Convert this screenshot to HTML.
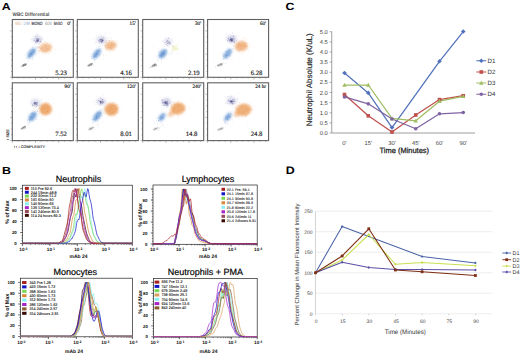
<!DOCTYPE html>
<html><head><meta charset="utf-8"><style>
html,body{margin:0;padding:0;background:#fff;width:520px;height:356px;overflow:hidden}
svg{display:block;font-family:"Liberation Sans",sans-serif;text-rendering:geometricPrecision}
</style></head><body>
<svg width="520" height="356" viewBox="0 0 520 356">
<defs>
<filter id="b1" x="-50%" y="-50%" width="200%" height="200%"><feGaussianBlur stdDeviation="1.2"/></filter>
<filter id="b03" x="-10%" y="-10%" width="120%" height="120%"><feGaussianBlur stdDeviation="0.3"/></filter>
<filter id="b05" x="-50%" y="-50%" width="200%" height="200%"><feGaussianBlur stdDeviation="0.5"/></filter>
</defs>
<rect width="520" height="356" fill="#fff"/>
<text x="1.8" y="9.7" font-size="10.2" fill="#000" font-weight="bold" textLength="8.9" lengthAdjust="spacingAndGlyphs">A</text>
<text x="1.9" y="173.6" font-size="10.2" fill="#000" font-weight="bold" textLength="9" lengthAdjust="spacingAndGlyphs">B</text>
<text x="285.5" y="9.6" font-size="10.4" fill="#000" font-weight="bold" textLength="8.9" lengthAdjust="spacingAndGlyphs">C</text>
<text x="285.7" y="173.8" font-size="10.8" fill="#000" font-weight="bold" textLength="9" lengthAdjust="spacingAndGlyphs">D</text>
<text x="12.6" y="16.2" font-size="5" fill="#505050" font-weight="bold" textLength="36.7" lengthAdjust="spacingAndGlyphs">WBC Differential</text>
<rect x="12.3" y="19.5" width="61" height="57.8" fill="#fff" stroke="#606060" stroke-width="1.1"/>
<line x1="10.1" y1="77.3" x2="12.3" y2="77.3" stroke="#777" stroke-width="0.5"/>
<line x1="11" y1="71.5" x2="12.3" y2="71.5" stroke="#777" stroke-width="0.5"/>
<line x1="11" y1="65.7" x2="12.3" y2="65.7" stroke="#777" stroke-width="0.5"/>
<line x1="11" y1="59.9" x2="12.3" y2="59.9" stroke="#777" stroke-width="0.5"/>
<line x1="10.1" y1="54.1" x2="12.3" y2="54.1" stroke="#777" stroke-width="0.5"/>
<line x1="11" y1="48.3" x2="12.3" y2="48.3" stroke="#777" stroke-width="0.5"/>
<line x1="11" y1="42.5" x2="12.3" y2="42.5" stroke="#777" stroke-width="0.5"/>
<line x1="11" y1="36.7" x2="12.3" y2="36.7" stroke="#777" stroke-width="0.5"/>
<line x1="10.1" y1="30.9" x2="12.3" y2="30.9" stroke="#777" stroke-width="0.5"/>
<line x1="11" y1="25.1" x2="12.3" y2="25.1" stroke="#777" stroke-width="0.5"/>
<line x1="12.3" y1="77.3" x2="12.3" y2="79.5" stroke="#777" stroke-width="0.5"/>
<line x1="18.1" y1="77.3" x2="18.1" y2="78.6" stroke="#777" stroke-width="0.5"/>
<line x1="23.9" y1="77.3" x2="23.9" y2="78.6" stroke="#777" stroke-width="0.5"/>
<line x1="29.7" y1="77.3" x2="29.7" y2="78.6" stroke="#777" stroke-width="0.5"/>
<line x1="35.5" y1="77.3" x2="35.5" y2="79.5" stroke="#777" stroke-width="0.5"/>
<line x1="41.3" y1="77.3" x2="41.3" y2="78.6" stroke="#777" stroke-width="0.5"/>
<line x1="47.1" y1="77.3" x2="47.1" y2="78.6" stroke="#777" stroke-width="0.5"/>
<line x1="52.9" y1="77.3" x2="52.9" y2="78.6" stroke="#777" stroke-width="0.5"/>
<line x1="58.7" y1="77.3" x2="58.7" y2="79.5" stroke="#777" stroke-width="0.5"/>
<line x1="64.5" y1="77.3" x2="64.5" y2="78.6" stroke="#777" stroke-width="0.5"/>
<line x1="70.3" y1="77.3" x2="70.3" y2="78.6" stroke="#777" stroke-width="0.5"/>
<g filter="url(#b03)">
<circle cx="33.82" cy="34.26" r="0.3" fill="#b8b8c8" fill-opacity="0.45"/>
<circle cx="50.5" cy="30.75" r="0.3" fill="#b8b8c8" fill-opacity="0.45"/>
<circle cx="44.63" cy="43.88" r="0.3" fill="#b8b8c8" fill-opacity="0.45"/>
<circle cx="20.26" cy="50.23" r="0.3" fill="#b8b8c8" fill-opacity="0.45"/>
<circle cx="19.21" cy="46.93" r="0.3" fill="#b8b8c8" fill-opacity="0.45"/>
<circle cx="20.86" cy="31.56" r="0.3" fill="#b8b8c8" fill-opacity="0.45"/>
<circle cx="38.95" cy="64.54" r="0.3" fill="#b8b8c8" fill-opacity="0.45"/>
<circle cx="23.61" cy="37.5" r="0.3" fill="#b8b8c8" fill-opacity="0.45"/>
<circle cx="49.3" cy="69.96" r="0.3" fill="#b8b8c8" fill-opacity="0.45"/>
<circle cx="46.73" cy="45.27" r="0.3" fill="#b8b8c8" fill-opacity="0.45"/>
<circle cx="67.09" cy="29.59" r="0.3" fill="#b8b8c8" fill-opacity="0.45"/>
<circle cx="61.08" cy="40.47" r="0.3" fill="#b8b8c8" fill-opacity="0.45"/>
<circle cx="24.66" cy="32.78" r="0.3" fill="#b8b8c8" fill-opacity="0.45"/>
<circle cx="33.03" cy="64.06" r="0.3" fill="#b8b8c8" fill-opacity="0.45"/>
<ellipse cx="24.3" cy="65" rx="3" ry="1" transform="rotate(-25 24.3 65)" fill="#505050" fill-opacity="0.6" filter="url(#b05)"/>
<circle cx="25.51" cy="65.23" r="0.35" fill="#333" fill-opacity="0.6"/>
<circle cx="23.1" cy="65.07" r="0.35" fill="#333" fill-opacity="0.6"/>
<circle cx="23.71" cy="65.2" r="0.35" fill="#333" fill-opacity="0.6"/>
<circle cx="25.39" cy="64.65" r="0.35" fill="#333" fill-opacity="0.6"/>
<circle cx="23.33" cy="64.82" r="0.35" fill="#333" fill-opacity="0.6"/>
<circle cx="23.76" cy="66.06" r="0.35" fill="#333" fill-opacity="0.6"/>
<circle cx="23.04" cy="65.75" r="0.35" fill="#333" fill-opacity="0.6"/>
<circle cx="24.62" cy="63.87" r="0.35" fill="#333" fill-opacity="0.6"/>
<circle cx="24.71" cy="65.67" r="0.35" fill="#333" fill-opacity="0.6"/>
<circle cx="20.93" cy="66.36" r="0.35" fill="#333" fill-opacity="0.6"/>
<circle cx="23.92" cy="64.64" r="0.35" fill="#333" fill-opacity="0.6"/>
<circle cx="25.1" cy="64.59" r="0.35" fill="#333" fill-opacity="0.6"/>
<circle cx="22.12" cy="66.56" r="0.35" fill="#333" fill-opacity="0.6"/>
<circle cx="25.63" cy="65.01" r="0.35" fill="#333" fill-opacity="0.6"/>
<circle cx="32.33" cy="58.9" r="0.3" fill="#999" fill-opacity="0.5"/>
<circle cx="26.94" cy="60.05" r="0.3" fill="#999" fill-opacity="0.5"/>
<circle cx="29.04" cy="59.7" r="0.3" fill="#999" fill-opacity="0.5"/>
<circle cx="25.57" cy="61.51" r="0.3" fill="#999" fill-opacity="0.5"/>
<circle cx="25.23" cy="63.72" r="0.3" fill="#999" fill-opacity="0.5"/>
<circle cx="28.9" cy="56.22" r="0.3" fill="#999" fill-opacity="0.5"/>
<circle cx="25" cy="65.91" r="0.3" fill="#999" fill-opacity="0.5"/>
<circle cx="32.61" cy="59.16" r="0.3" fill="#999" fill-opacity="0.5"/>
<circle cx="20.39" cy="63.5" r="0.3" fill="#999" fill-opacity="0.5"/>
<circle cx="28.25" cy="60.18" r="0.3" fill="#999" fill-opacity="0.5"/>
<ellipse cx="31.5" cy="53.1" rx="5.8" ry="3" transform="rotate(-52 31.5 53.1)" fill="#5c90d0" fill-opacity="0.72" filter="url(#b1)"/>
<circle cx="29.6" cy="57.1" r="0.38" fill="#4a80c8" fill-opacity="0.5"/>
<circle cx="33.41" cy="51.02" r="0.38" fill="#4a80c8" fill-opacity="0.5"/>
<circle cx="31.9" cy="53.33" r="0.38" fill="#4a80c8" fill-opacity="0.5"/>
<circle cx="34.85" cy="50.17" r="0.38" fill="#4a80c8" fill-opacity="0.5"/>
<circle cx="32.57" cy="52.75" r="0.38" fill="#4a80c8" fill-opacity="0.5"/>
<circle cx="28.95" cy="58.43" r="0.38" fill="#4a80c8" fill-opacity="0.5"/>
<circle cx="33.45" cy="51.67" r="0.38" fill="#4a80c8" fill-opacity="0.5"/>
<circle cx="26.36" cy="57.95" r="0.38" fill="#4a80c8" fill-opacity="0.5"/>
<circle cx="31.07" cy="50.14" r="0.38" fill="#4a80c8" fill-opacity="0.5"/>
<circle cx="31.56" cy="54.84" r="0.38" fill="#4a80c8" fill-opacity="0.5"/>
<circle cx="29.78" cy="58.06" r="0.38" fill="#4a80c8" fill-opacity="0.5"/>
<circle cx="32" cy="52.13" r="0.38" fill="#4a80c8" fill-opacity="0.5"/>
<circle cx="32.27" cy="53.3" r="0.38" fill="#4a80c8" fill-opacity="0.5"/>
<circle cx="32.3" cy="54.19" r="0.38" fill="#4a80c8" fill-opacity="0.5"/>
<circle cx="29.26" cy="54.9" r="0.38" fill="#4a80c8" fill-opacity="0.5"/>
<circle cx="33.17" cy="51.07" r="0.38" fill="#4a80c8" fill-opacity="0.5"/>
<circle cx="30.06" cy="56.49" r="0.38" fill="#4a80c8" fill-opacity="0.5"/>
<circle cx="33.61" cy="49.66" r="0.38" fill="#4a80c8" fill-opacity="0.5"/>
<circle cx="28.04" cy="56.88" r="0.38" fill="#4a80c8" fill-opacity="0.5"/>
<circle cx="30.42" cy="53.74" r="0.38" fill="#4a80c8" fill-opacity="0.5"/>
<circle cx="32.95" cy="49.36" r="0.38" fill="#4a80c8" fill-opacity="0.5"/>
<circle cx="32.43" cy="49.53" r="0.38" fill="#4a80c8" fill-opacity="0.5"/>
<circle cx="29.96" cy="56.02" r="0.38" fill="#4a80c8" fill-opacity="0.5"/>
<circle cx="34.11" cy="51.5" r="0.38" fill="#4a80c8" fill-opacity="0.5"/>
<circle cx="31.84" cy="52.86" r="0.38" fill="#4a80c8" fill-opacity="0.5"/>
<circle cx="31.84" cy="53.67" r="0.38" fill="#4a80c8" fill-opacity="0.5"/>
<circle cx="30.89" cy="54.25" r="0.38" fill="#4a80c8" fill-opacity="0.5"/>
<circle cx="32.18" cy="52.2" r="0.38" fill="#4a80c8" fill-opacity="0.5"/>
<circle cx="33.09" cy="52.16" r="0.38" fill="#4a80c8" fill-opacity="0.5"/>
<circle cx="35.43" cy="48.92" r="0.38" fill="#4a80c8" fill-opacity="0.5"/>
<circle cx="29.78" cy="54.36" r="0.38" fill="#4a80c8" fill-opacity="0.5"/>
<circle cx="31.82" cy="54.34" r="0.38" fill="#4a80c8" fill-opacity="0.5"/>
<circle cx="30.66" cy="54.72" r="0.38" fill="#4a80c8" fill-opacity="0.5"/>
<circle cx="32.42" cy="47.12" r="0.38" fill="#4a80c8" fill-opacity="0.5"/>
<circle cx="28.91" cy="56.54" r="0.38" fill="#4a80c8" fill-opacity="0.5"/>
<circle cx="32.04" cy="52.81" r="0.38" fill="#4a80c8" fill-opacity="0.5"/>
<circle cx="30.72" cy="55.16" r="0.38" fill="#4a80c8" fill-opacity="0.5"/>
<circle cx="31.1" cy="52.51" r="0.38" fill="#4a80c8" fill-opacity="0.5"/>
<circle cx="36.32" cy="47.92" r="0.38" fill="#4a80c8" fill-opacity="0.5"/>
<circle cx="29.77" cy="54.88" r="0.38" fill="#4a80c8" fill-opacity="0.5"/>
<circle cx="32.08" cy="52.45" r="0.35" fill="#a8c8ec" fill-opacity="0.55"/>
<circle cx="22.39" cy="62.28" r="0.35" fill="#a8c8ec" fill-opacity="0.55"/>
<circle cx="34.24" cy="45.4" r="0.35" fill="#a8c8ec" fill-opacity="0.55"/>
<circle cx="34.66" cy="53.47" r="0.35" fill="#a8c8ec" fill-opacity="0.55"/>
<circle cx="39" cy="50.48" r="0.35" fill="#a8c8ec" fill-opacity="0.55"/>
<circle cx="26.28" cy="58.18" r="0.35" fill="#a8c8ec" fill-opacity="0.55"/>
<circle cx="33.04" cy="54.08" r="0.35" fill="#a8c8ec" fill-opacity="0.55"/>
<circle cx="31.52" cy="42.52" r="0.35" fill="#a8c8ec" fill-opacity="0.55"/>
<circle cx="33.97" cy="44.59" r="0.35" fill="#a8c8ec" fill-opacity="0.55"/>
<circle cx="32.44" cy="46.23" r="0.35" fill="#a8c8ec" fill-opacity="0.55"/>
<circle cx="36" cy="52.86" r="0.35" fill="#a8c8ec" fill-opacity="0.55"/>
<circle cx="32.85" cy="52.55" r="0.35" fill="#a8c8ec" fill-opacity="0.55"/>
<circle cx="36.1" cy="48.48" r="0.35" fill="#a8c8ec" fill-opacity="0.55"/>
<circle cx="35.74" cy="54.54" r="0.35" fill="#a8c8ec" fill-opacity="0.55"/>
<circle cx="36.12" cy="46.69" r="0.35" fill="#a8c8ec" fill-opacity="0.55"/>
<circle cx="40.42" cy="38.12" r="0.35" fill="#a8c8ec" fill-opacity="0.55"/>
<circle cx="35.7" cy="47.3" r="0.35" fill="#a8c8ec" fill-opacity="0.55"/>
<circle cx="34.87" cy="52.22" r="0.35" fill="#a8c8ec" fill-opacity="0.55"/>
<circle cx="35.06" cy="51.73" r="0.35" fill="#a8c8ec" fill-opacity="0.55"/>
<circle cx="24.59" cy="55.51" r="0.35" fill="#a8c8ec" fill-opacity="0.55"/>
<circle cx="33.26" cy="47.4" r="0.35" fill="#a8c8ec" fill-opacity="0.55"/>
<circle cx="26.44" cy="53.47" r="0.35" fill="#a8c8ec" fill-opacity="0.55"/>
<circle cx="38.96" cy="47.51" r="0.35" fill="#a8c8ec" fill-opacity="0.55"/>
<circle cx="36.34" cy="43.83" r="0.35" fill="#a8c8ec" fill-opacity="0.55"/>
<circle cx="30.73" cy="49.69" r="0.35" fill="#a8c8ec" fill-opacity="0.55"/>
<circle cx="38.87" cy="51.03" r="0.35" fill="#a8c8ec" fill-opacity="0.55"/>
<circle cx="32.96" cy="57.96" r="0.35" fill="#a8c8ec" fill-opacity="0.55"/>
<circle cx="36.14" cy="47.14" r="0.35" fill="#a8c8ec" fill-opacity="0.55"/>
<circle cx="28.83" cy="62.26" r="0.35" fill="#a8c8ec" fill-opacity="0.55"/>
<circle cx="31.46" cy="51" r="0.35" fill="#a8c8ec" fill-opacity="0.55"/>
<ellipse cx="45.6" cy="48" rx="6.38" ry="4.73" transform="rotate(-10 45.6 48)" fill="#ec9c58" fill-opacity="0.592" filter="url(#b1)"/>
<circle cx="47.15" cy="48.8" r="0.38" fill="#e48a40" fill-opacity="0.4"/>
<circle cx="50.28" cy="44.5" r="0.38" fill="#e48a40" fill-opacity="0.4"/>
<circle cx="50.16" cy="51.09" r="0.38" fill="#e48a40" fill-opacity="0.4"/>
<circle cx="50.5" cy="46.66" r="0.38" fill="#e48a40" fill-opacity="0.4"/>
<circle cx="43.51" cy="51.04" r="0.38" fill="#e48a40" fill-opacity="0.4"/>
<circle cx="46.05" cy="48.25" r="0.38" fill="#e48a40" fill-opacity="0.4"/>
<circle cx="50.36" cy="46.47" r="0.38" fill="#e48a40" fill-opacity="0.4"/>
<circle cx="37.56" cy="48.4" r="0.38" fill="#e48a40" fill-opacity="0.4"/>
<circle cx="39.61" cy="51.2" r="0.38" fill="#e48a40" fill-opacity="0.4"/>
<circle cx="46.41" cy="46.26" r="0.38" fill="#e48a40" fill-opacity="0.4"/>
<circle cx="45.94" cy="50.12" r="0.38" fill="#e48a40" fill-opacity="0.4"/>
<circle cx="46.46" cy="51.32" r="0.38" fill="#e48a40" fill-opacity="0.4"/>
<circle cx="45.86" cy="50.68" r="0.38" fill="#e48a40" fill-opacity="0.4"/>
<circle cx="51.43" cy="51.19" r="0.38" fill="#e48a40" fill-opacity="0.4"/>
<circle cx="43.69" cy="50.64" r="0.38" fill="#e48a40" fill-opacity="0.4"/>
<circle cx="38.69" cy="46.38" r="0.38" fill="#e48a40" fill-opacity="0.4"/>
<circle cx="39.35" cy="51.9" r="0.38" fill="#e48a40" fill-opacity="0.4"/>
<circle cx="41.37" cy="48.71" r="0.38" fill="#e48a40" fill-opacity="0.4"/>
<circle cx="44.93" cy="48.04" r="0.38" fill="#e48a40" fill-opacity="0.4"/>
<circle cx="43.68" cy="48.95" r="0.38" fill="#e48a40" fill-opacity="0.4"/>
<circle cx="51.76" cy="47.03" r="0.38" fill="#e48a40" fill-opacity="0.4"/>
<circle cx="47.87" cy="50.22" r="0.38" fill="#e48a40" fill-opacity="0.4"/>
<circle cx="44.36" cy="44.92" r="0.38" fill="#e48a40" fill-opacity="0.4"/>
<circle cx="44.18" cy="51.06" r="0.38" fill="#e48a40" fill-opacity="0.4"/>
<circle cx="39.69" cy="47.48" r="0.38" fill="#e48a40" fill-opacity="0.4"/>
<circle cx="49.41" cy="49.41" r="0.38" fill="#e48a40" fill-opacity="0.4"/>
<circle cx="45.99" cy="50.04" r="0.38" fill="#e48a40" fill-opacity="0.4"/>
<circle cx="45.64" cy="44.9" r="0.38" fill="#e48a40" fill-opacity="0.4"/>
<circle cx="39.95" cy="47.32" r="0.38" fill="#e48a40" fill-opacity="0.4"/>
<circle cx="48.51" cy="46.01" r="0.38" fill="#e48a40" fill-opacity="0.4"/>
<circle cx="42.16" cy="46.59" r="0.38" fill="#e48a40" fill-opacity="0.4"/>
<circle cx="40.3" cy="48.63" r="0.38" fill="#e48a40" fill-opacity="0.4"/>
<circle cx="41.72" cy="49.64" r="0.38" fill="#e48a40" fill-opacity="0.4"/>
<circle cx="37.66" cy="50.26" r="0.38" fill="#e48a40" fill-opacity="0.4"/>
<circle cx="42.53" cy="43.45" r="0.38" fill="#e48a40" fill-opacity="0.4"/>
<circle cx="47.96" cy="46.86" r="0.38" fill="#e48a40" fill-opacity="0.4"/>
<circle cx="37.57" cy="47.12" r="0.38" fill="#e48a40" fill-opacity="0.4"/>
<circle cx="46.39" cy="46.66" r="0.38" fill="#e48a40" fill-opacity="0.4"/>
<circle cx="48.61" cy="49.43" r="0.38" fill="#e48a40" fill-opacity="0.4"/>
<circle cx="48.03" cy="48.43" r="0.38" fill="#e48a40" fill-opacity="0.4"/>
<circle cx="50.47" cy="48.87" r="0.38" fill="#e48a40" fill-opacity="0.4"/>
<circle cx="46.21" cy="42.43" r="0.38" fill="#e48a40" fill-opacity="0.4"/>
<circle cx="49.26" cy="50.79" r="0.38" fill="#e48a40" fill-opacity="0.4"/>
<circle cx="44.37" cy="46.99" r="0.38" fill="#e48a40" fill-opacity="0.4"/>
<circle cx="51.46" cy="42.36" r="0.38" fill="#e48a40" fill-opacity="0.4"/>
<circle cx="48.29" cy="53.87" r="0.38" fill="#e48a40" fill-opacity="0.4"/>
<circle cx="42.73" cy="50.31" r="0.38" fill="#e48a40" fill-opacity="0.4"/>
<circle cx="52.01" cy="46.55" r="0.38" fill="#e48a40" fill-opacity="0.4"/>
<circle cx="47.93" cy="49.95" r="0.38" fill="#e48a40" fill-opacity="0.4"/>
<circle cx="42.46" cy="48.32" r="0.38" fill="#e48a40" fill-opacity="0.4"/>
<circle cx="46.97" cy="49.92" r="0.38" fill="#e48a40" fill-opacity="0.4"/>
<circle cx="45.39" cy="47.52" r="0.38" fill="#e48a40" fill-opacity="0.4"/>
<circle cx="40.14" cy="47.55" r="0.35" fill="#f4c090" fill-opacity="0.55"/>
<circle cx="50.25" cy="47.58" r="0.35" fill="#f4c090" fill-opacity="0.55"/>
<circle cx="40.65" cy="45.57" r="0.35" fill="#f4c090" fill-opacity="0.55"/>
<circle cx="60.07" cy="49.93" r="0.35" fill="#f4c090" fill-opacity="0.55"/>
<circle cx="47.13" cy="37.54" r="0.35" fill="#f4c090" fill-opacity="0.55"/>
<circle cx="49.12" cy="49.27" r="0.35" fill="#f4c090" fill-opacity="0.55"/>
<circle cx="54.54" cy="48.1" r="0.35" fill="#f4c090" fill-opacity="0.55"/>
<circle cx="45.6" cy="50.05" r="0.35" fill="#f4c090" fill-opacity="0.55"/>
<circle cx="36.3" cy="53.7" r="0.35" fill="#f4c090" fill-opacity="0.55"/>
<circle cx="46.8" cy="45.03" r="0.35" fill="#f4c090" fill-opacity="0.55"/>
<circle cx="53.63" cy="53.69" r="0.35" fill="#f4c090" fill-opacity="0.55"/>
<circle cx="37.94" cy="46.73" r="0.35" fill="#f4c090" fill-opacity="0.55"/>
<circle cx="47.22" cy="48.44" r="0.35" fill="#f4c090" fill-opacity="0.55"/>
<circle cx="42.9" cy="44.65" r="0.35" fill="#f4c090" fill-opacity="0.55"/>
<circle cx="57.2" cy="50.03" r="0.35" fill="#f4c090" fill-opacity="0.55"/>
<circle cx="38.56" cy="43.96" r="0.35" fill="#f4c090" fill-opacity="0.55"/>
<circle cx="55.02" cy="50.23" r="0.35" fill="#f4c090" fill-opacity="0.55"/>
<circle cx="55.51" cy="49.44" r="0.35" fill="#f4c090" fill-opacity="0.55"/>
<circle cx="41.29" cy="49.78" r="0.35" fill="#f4c090" fill-opacity="0.55"/>
<circle cx="33.99" cy="47.11" r="0.35" fill="#f4c090" fill-opacity="0.55"/>
<circle cx="45.65" cy="50.05" r="0.35" fill="#f4c090" fill-opacity="0.55"/>
<circle cx="41.78" cy="48.19" r="0.35" fill="#f4c090" fill-opacity="0.55"/>
<circle cx="48.21" cy="49.02" r="0.35" fill="#f4c090" fill-opacity="0.55"/>
<circle cx="49.02" cy="48.22" r="0.35" fill="#f4c090" fill-opacity="0.55"/>
<circle cx="44.47" cy="51.3" r="0.35" fill="#f4c090" fill-opacity="0.55"/>
<ellipse cx="37.5" cy="39.5" rx="5" ry="4" transform="rotate(0 37.5 39.5)" fill="#9898cc" fill-opacity="0.28500000000000003" filter="url(#b1)"/>
<ellipse cx="37.5" cy="40.1" rx="1.8" ry="1.5" transform="rotate(0 37.5 40.1)" fill="#404080" fill-opacity="0.3375" filter="url(#b05)"/>
<circle cx="37.58" cy="39.14" r="0.38" fill="#34346e" fill-opacity="0.65"/>
<circle cx="36.44" cy="40.3" r="0.38" fill="#34346e" fill-opacity="0.65"/>
<circle cx="37.31" cy="40.52" r="0.38" fill="#34346e" fill-opacity="0.65"/>
<circle cx="37.5" cy="40.55" r="0.38" fill="#34346e" fill-opacity="0.65"/>
<circle cx="37.27" cy="38.54" r="0.38" fill="#34346e" fill-opacity="0.65"/>
<circle cx="38.22" cy="41.78" r="0.38" fill="#34346e" fill-opacity="0.65"/>
<circle cx="38.24" cy="40.04" r="0.38" fill="#34346e" fill-opacity="0.65"/>
<circle cx="38.26" cy="38.95" r="0.38" fill="#34346e" fill-opacity="0.65"/>
<circle cx="34.28" cy="40.38" r="0.38" fill="#34346e" fill-opacity="0.65"/>
<circle cx="35.92" cy="41.34" r="0.38" fill="#34346e" fill-opacity="0.65"/>
<circle cx="35.66" cy="36.62" r="0.38" fill="#34346e" fill-opacity="0.65"/>
<circle cx="35.73" cy="42.51" r="0.38" fill="#34346e" fill-opacity="0.65"/>
<circle cx="36.85" cy="38.38" r="0.38" fill="#34346e" fill-opacity="0.65"/>
<circle cx="36.2" cy="41.03" r="0.38" fill="#34346e" fill-opacity="0.65"/>
<circle cx="38.34" cy="40.55" r="0.38" fill="#34346e" fill-opacity="0.65"/>
<circle cx="40.02" cy="41.29" r="0.38" fill="#34346e" fill-opacity="0.65"/>
<circle cx="37.46" cy="41.14" r="0.38" fill="#34346e" fill-opacity="0.65"/>
<circle cx="40.31" cy="41.66" r="0.38" fill="#34346e" fill-opacity="0.65"/>
<circle cx="39.24" cy="38.78" r="0.38" fill="#34346e" fill-opacity="0.65"/>
<circle cx="37.25" cy="41.32" r="0.38" fill="#34346e" fill-opacity="0.65"/>
<circle cx="37" cy="41.8" r="0.38" fill="#34346e" fill-opacity="0.65"/>
<circle cx="38.51" cy="41.57" r="0.38" fill="#34346e" fill-opacity="0.65"/>
<circle cx="37.24" cy="47.13" r="0.35" fill="#8080c0" fill-opacity="0.5"/>
<circle cx="42.46" cy="39.4" r="0.35" fill="#8080c0" fill-opacity="0.5"/>
<circle cx="38.33" cy="47.27" r="0.35" fill="#8080c0" fill-opacity="0.5"/>
<circle cx="36.76" cy="42.45" r="0.35" fill="#8080c0" fill-opacity="0.5"/>
<circle cx="41.53" cy="40.02" r="0.35" fill="#8080c0" fill-opacity="0.5"/>
<circle cx="33.8" cy="40.53" r="0.35" fill="#8080c0" fill-opacity="0.5"/>
<circle cx="39.29" cy="43.16" r="0.35" fill="#8080c0" fill-opacity="0.5"/>
<circle cx="40.82" cy="40.07" r="0.35" fill="#8080c0" fill-opacity="0.5"/>
<circle cx="41.07" cy="41.51" r="0.35" fill="#8080c0" fill-opacity="0.5"/>
<circle cx="38.74" cy="40.15" r="0.35" fill="#8080c0" fill-opacity="0.5"/>
<circle cx="37.12" cy="41.92" r="0.35" fill="#8080c0" fill-opacity="0.5"/>
<circle cx="34.2" cy="38.24" r="0.35" fill="#8080c0" fill-opacity="0.5"/>
<circle cx="38.02" cy="35.9" r="0.35" fill="#8080c0" fill-opacity="0.5"/>
<circle cx="36.43" cy="34.38" r="0.35" fill="#8080c0" fill-opacity="0.5"/>
<circle cx="35.54" cy="41.59" r="0.35" fill="#8080c0" fill-opacity="0.5"/>
<circle cx="40.04" cy="39.85" r="0.35" fill="#8080c0" fill-opacity="0.5"/>
<circle cx="37.16" cy="36.03" r="0.35" fill="#8080c0" fill-opacity="0.5"/>
<circle cx="44.58" cy="41.44" r="0.35" fill="#8080c0" fill-opacity="0.5"/>
<circle cx="41.94" cy="37.53" r="0.35" fill="#8080c0" fill-opacity="0.5"/>
<circle cx="37.33" cy="34.91" r="0.35" fill="#8080c0" fill-opacity="0.5"/>
<circle cx="40.81" cy="42.62" r="0.35" fill="#8080c0" fill-opacity="0.5"/>
<circle cx="31.17" cy="39.85" r="0.35" fill="#8080c0" fill-opacity="0.5"/>
<circle cx="38.94" cy="39.6" r="0.3" fill="#a8a8c0" fill-opacity="0.45"/>
<circle cx="30.99" cy="52.48" r="0.3" fill="#a8a8c0" fill-opacity="0.45"/>
<circle cx="34.87" cy="46.21" r="0.3" fill="#a8a8c0" fill-opacity="0.45"/>
<circle cx="43.52" cy="49.25" r="0.3" fill="#a8a8c0" fill-opacity="0.45"/>
<circle cx="47.67" cy="48.29" r="0.3" fill="#a8a8c0" fill-opacity="0.45"/>
<circle cx="52.99" cy="46.24" r="0.3" fill="#a8a8c0" fill-opacity="0.45"/>
<circle cx="35.15" cy="52.28" r="0.3" fill="#a8a8c0" fill-opacity="0.45"/>
<circle cx="34.2" cy="49.19" r="0.3" fill="#a8a8c0" fill-opacity="0.45"/>
<circle cx="42.17" cy="48.86" r="0.3" fill="#a8a8c0" fill-opacity="0.45"/>
<circle cx="38.97" cy="40.81" r="0.3" fill="#a8a8c0" fill-opacity="0.45"/>
<circle cx="37.17" cy="53.67" r="0.3" fill="#a8a8c0" fill-opacity="0.45"/>
<circle cx="40.55" cy="48.25" r="0.3" fill="#a8a8c0" fill-opacity="0.45"/>
<circle cx="39.55" cy="46.08" r="0.3" fill="#a8a8c0" fill-opacity="0.45"/>
<circle cx="46.73" cy="46.78" r="0.3" fill="#a8a8c0" fill-opacity="0.45"/>
<circle cx="39.75" cy="46.5" r="0.3" fill="#a8a8c0" fill-opacity="0.45"/>
<circle cx="32.14" cy="39.62" r="0.3" fill="#a8a8c0" fill-opacity="0.45"/>
<circle cx="38.47" cy="52.8" r="0.3" fill="#a8a8c0" fill-opacity="0.45"/>
<circle cx="36.82" cy="55.59" r="0.3" fill="#a8a8c0" fill-opacity="0.45"/>
</g>
<text x="70.7" y="24.5" font-size="5.2" fill="#222" text-anchor="end" font-family="Liberation Serif" stroke="#222" stroke-width="0.15">0'</text>
<text x="67" y="74.8" font-size="6.6" fill="#222" text-anchor="end" textLength="11.8" lengthAdjust="spacingAndGlyphs" font-family="Liberation Serif" stroke="#222" stroke-width="0.15">5.23</text>
<rect x="77.3" y="19.5" width="61" height="57.8" fill="#fff" stroke="#606060" stroke-width="1.1"/>
<line x1="75.1" y1="77.3" x2="77.3" y2="77.3" stroke="#777" stroke-width="0.5"/>
<line x1="76" y1="71.5" x2="77.3" y2="71.5" stroke="#777" stroke-width="0.5"/>
<line x1="76" y1="65.7" x2="77.3" y2="65.7" stroke="#777" stroke-width="0.5"/>
<line x1="76" y1="59.9" x2="77.3" y2="59.9" stroke="#777" stroke-width="0.5"/>
<line x1="75.1" y1="54.1" x2="77.3" y2="54.1" stroke="#777" stroke-width="0.5"/>
<line x1="76" y1="48.3" x2="77.3" y2="48.3" stroke="#777" stroke-width="0.5"/>
<line x1="76" y1="42.5" x2="77.3" y2="42.5" stroke="#777" stroke-width="0.5"/>
<line x1="76" y1="36.7" x2="77.3" y2="36.7" stroke="#777" stroke-width="0.5"/>
<line x1="75.1" y1="30.9" x2="77.3" y2="30.9" stroke="#777" stroke-width="0.5"/>
<line x1="76" y1="25.1" x2="77.3" y2="25.1" stroke="#777" stroke-width="0.5"/>
<line x1="77.3" y1="77.3" x2="77.3" y2="79.5" stroke="#777" stroke-width="0.5"/>
<line x1="83.1" y1="77.3" x2="83.1" y2="78.6" stroke="#777" stroke-width="0.5"/>
<line x1="88.9" y1="77.3" x2="88.9" y2="78.6" stroke="#777" stroke-width="0.5"/>
<line x1="94.7" y1="77.3" x2="94.7" y2="78.6" stroke="#777" stroke-width="0.5"/>
<line x1="100.5" y1="77.3" x2="100.5" y2="79.5" stroke="#777" stroke-width="0.5"/>
<line x1="106.3" y1="77.3" x2="106.3" y2="78.6" stroke="#777" stroke-width="0.5"/>
<line x1="112.1" y1="77.3" x2="112.1" y2="78.6" stroke="#777" stroke-width="0.5"/>
<line x1="117.9" y1="77.3" x2="117.9" y2="78.6" stroke="#777" stroke-width="0.5"/>
<line x1="123.7" y1="77.3" x2="123.7" y2="79.5" stroke="#777" stroke-width="0.5"/>
<line x1="129.5" y1="77.3" x2="129.5" y2="78.6" stroke="#777" stroke-width="0.5"/>
<line x1="135.3" y1="77.3" x2="135.3" y2="78.6" stroke="#777" stroke-width="0.5"/>
<g filter="url(#b03)">
<circle cx="121.42" cy="55.14" r="0.3" fill="#b8b8c8" fill-opacity="0.45"/>
<circle cx="115.08" cy="30.97" r="0.3" fill="#b8b8c8" fill-opacity="0.45"/>
<circle cx="89.82" cy="38.88" r="0.3" fill="#b8b8c8" fill-opacity="0.45"/>
<circle cx="120.2" cy="41.14" r="0.3" fill="#b8b8c8" fill-opacity="0.45"/>
<circle cx="111.26" cy="28.06" r="0.3" fill="#b8b8c8" fill-opacity="0.45"/>
<circle cx="85.39" cy="39.54" r="0.3" fill="#b8b8c8" fill-opacity="0.45"/>
<circle cx="116.57" cy="58.51" r="0.3" fill="#b8b8c8" fill-opacity="0.45"/>
<circle cx="116.76" cy="40.53" r="0.3" fill="#b8b8c8" fill-opacity="0.45"/>
<circle cx="108.64" cy="48.32" r="0.3" fill="#b8b8c8" fill-opacity="0.45"/>
<circle cx="106.08" cy="32.81" r="0.3" fill="#b8b8c8" fill-opacity="0.45"/>
<circle cx="127.88" cy="36.43" r="0.3" fill="#b8b8c8" fill-opacity="0.45"/>
<circle cx="132.18" cy="69.44" r="0.3" fill="#b8b8c8" fill-opacity="0.45"/>
<circle cx="83.19" cy="48.06" r="0.3" fill="#b8b8c8" fill-opacity="0.45"/>
<circle cx="124.11" cy="70.87" r="0.3" fill="#b8b8c8" fill-opacity="0.45"/>
<ellipse cx="90" cy="64.8" rx="3" ry="1" transform="rotate(-25 90 64.8)" fill="#505050" fill-opacity="0.54" filter="url(#b05)"/>
<circle cx="88.84" cy="65.51" r="0.35" fill="#333" fill-opacity="0.54"/>
<circle cx="91.58" cy="65.61" r="0.35" fill="#333" fill-opacity="0.54"/>
<circle cx="90.85" cy="65.25" r="0.35" fill="#333" fill-opacity="0.54"/>
<circle cx="91.49" cy="64.73" r="0.35" fill="#333" fill-opacity="0.54"/>
<circle cx="90.79" cy="64.33" r="0.35" fill="#333" fill-opacity="0.54"/>
<circle cx="90.56" cy="63.83" r="0.35" fill="#333" fill-opacity="0.54"/>
<circle cx="91.67" cy="63.35" r="0.35" fill="#333" fill-opacity="0.54"/>
<circle cx="90.94" cy="65.76" r="0.35" fill="#333" fill-opacity="0.54"/>
<circle cx="89.64" cy="64.98" r="0.35" fill="#333" fill-opacity="0.54"/>
<circle cx="91.9" cy="63.93" r="0.35" fill="#333" fill-opacity="0.54"/>
<circle cx="88.75" cy="65.55" r="0.35" fill="#333" fill-opacity="0.54"/>
<circle cx="91.13" cy="64.74" r="0.35" fill="#333" fill-opacity="0.54"/>
<circle cx="89.18" cy="66.34" r="0.35" fill="#333" fill-opacity="0.54"/>
<circle cx="92.72" cy="63.54" r="0.35" fill="#333" fill-opacity="0.54"/>
<circle cx="94.12" cy="60.59" r="0.3" fill="#999" fill-opacity="0.5"/>
<circle cx="96.6" cy="57.4" r="0.3" fill="#999" fill-opacity="0.5"/>
<circle cx="95.06" cy="59.52" r="0.3" fill="#999" fill-opacity="0.5"/>
<circle cx="93.2" cy="64.43" r="0.3" fill="#999" fill-opacity="0.5"/>
<circle cx="97.29" cy="58.49" r="0.3" fill="#999" fill-opacity="0.5"/>
<circle cx="93.36" cy="64.51" r="0.3" fill="#999" fill-opacity="0.5"/>
<circle cx="94.27" cy="62.32" r="0.3" fill="#999" fill-opacity="0.5"/>
<circle cx="99.21" cy="59.47" r="0.3" fill="#999" fill-opacity="0.5"/>
<circle cx="95.62" cy="65.99" r="0.3" fill="#999" fill-opacity="0.5"/>
<circle cx="95.01" cy="62.79" r="0.3" fill="#999" fill-opacity="0.5"/>
<ellipse cx="96.7" cy="53.7" rx="5.8" ry="3" transform="rotate(-52 96.7 53.7)" fill="#5c90d0" fill-opacity="0.72" filter="url(#b1)"/>
<circle cx="94.83" cy="55.75" r="0.38" fill="#4a80c8" fill-opacity="0.5"/>
<circle cx="94.24" cy="59.87" r="0.38" fill="#4a80c8" fill-opacity="0.5"/>
<circle cx="97.89" cy="49.91" r="0.38" fill="#4a80c8" fill-opacity="0.5"/>
<circle cx="91.61" cy="56.64" r="0.38" fill="#4a80c8" fill-opacity="0.5"/>
<circle cx="98.2" cy="50.96" r="0.38" fill="#4a80c8" fill-opacity="0.5"/>
<circle cx="95.79" cy="54.11" r="0.38" fill="#4a80c8" fill-opacity="0.5"/>
<circle cx="94.95" cy="53.66" r="0.38" fill="#4a80c8" fill-opacity="0.5"/>
<circle cx="94.93" cy="53.03" r="0.38" fill="#4a80c8" fill-opacity="0.5"/>
<circle cx="96.34" cy="54.61" r="0.38" fill="#4a80c8" fill-opacity="0.5"/>
<circle cx="96.95" cy="52.87" r="0.38" fill="#4a80c8" fill-opacity="0.5"/>
<circle cx="94.49" cy="56.54" r="0.38" fill="#4a80c8" fill-opacity="0.5"/>
<circle cx="96.64" cy="56.6" r="0.38" fill="#4a80c8" fill-opacity="0.5"/>
<circle cx="97.67" cy="52.23" r="0.38" fill="#4a80c8" fill-opacity="0.5"/>
<circle cx="94.58" cy="54.81" r="0.38" fill="#4a80c8" fill-opacity="0.5"/>
<circle cx="93.95" cy="56.23" r="0.38" fill="#4a80c8" fill-opacity="0.5"/>
<circle cx="97.28" cy="53.88" r="0.38" fill="#4a80c8" fill-opacity="0.5"/>
<circle cx="99.3" cy="54.42" r="0.38" fill="#4a80c8" fill-opacity="0.5"/>
<circle cx="94.76" cy="55.94" r="0.38" fill="#4a80c8" fill-opacity="0.5"/>
<circle cx="100.23" cy="45.91" r="0.38" fill="#4a80c8" fill-opacity="0.5"/>
<circle cx="95.28" cy="55.61" r="0.38" fill="#4a80c8" fill-opacity="0.5"/>
<circle cx="96.89" cy="54.14" r="0.38" fill="#4a80c8" fill-opacity="0.5"/>
<circle cx="96.05" cy="55.07" r="0.38" fill="#4a80c8" fill-opacity="0.5"/>
<circle cx="97.02" cy="54.67" r="0.38" fill="#4a80c8" fill-opacity="0.5"/>
<circle cx="91.49" cy="58.16" r="0.38" fill="#4a80c8" fill-opacity="0.5"/>
<circle cx="95.25" cy="53.41" r="0.38" fill="#4a80c8" fill-opacity="0.5"/>
<circle cx="94.63" cy="57.25" r="0.38" fill="#4a80c8" fill-opacity="0.5"/>
<circle cx="95.45" cy="56.28" r="0.38" fill="#4a80c8" fill-opacity="0.5"/>
<circle cx="98.02" cy="52.61" r="0.38" fill="#4a80c8" fill-opacity="0.5"/>
<circle cx="97.15" cy="52.87" r="0.38" fill="#4a80c8" fill-opacity="0.5"/>
<circle cx="93.27" cy="57.63" r="0.38" fill="#4a80c8" fill-opacity="0.5"/>
<circle cx="96.65" cy="52.68" r="0.38" fill="#4a80c8" fill-opacity="0.5"/>
<circle cx="96.68" cy="55.02" r="0.38" fill="#4a80c8" fill-opacity="0.5"/>
<circle cx="94.98" cy="56.85" r="0.38" fill="#4a80c8" fill-opacity="0.5"/>
<circle cx="99.52" cy="49.21" r="0.38" fill="#4a80c8" fill-opacity="0.5"/>
<circle cx="96.36" cy="53.72" r="0.38" fill="#4a80c8" fill-opacity="0.5"/>
<circle cx="99.66" cy="50.67" r="0.38" fill="#4a80c8" fill-opacity="0.5"/>
<circle cx="97.41" cy="51.47" r="0.38" fill="#4a80c8" fill-opacity="0.5"/>
<circle cx="96.16" cy="54.23" r="0.38" fill="#4a80c8" fill-opacity="0.5"/>
<circle cx="93.87" cy="59.66" r="0.38" fill="#4a80c8" fill-opacity="0.5"/>
<circle cx="96.44" cy="50.65" r="0.38" fill="#4a80c8" fill-opacity="0.5"/>
<circle cx="100.57" cy="48.84" r="0.35" fill="#a8c8ec" fill-opacity="0.55"/>
<circle cx="100.52" cy="50.92" r="0.35" fill="#a8c8ec" fill-opacity="0.55"/>
<circle cx="92.48" cy="58.16" r="0.35" fill="#a8c8ec" fill-opacity="0.55"/>
<circle cx="102.33" cy="44.95" r="0.35" fill="#a8c8ec" fill-opacity="0.55"/>
<circle cx="91.88" cy="54.24" r="0.35" fill="#a8c8ec" fill-opacity="0.55"/>
<circle cx="94.55" cy="57.91" r="0.35" fill="#a8c8ec" fill-opacity="0.55"/>
<circle cx="105.04" cy="45.79" r="0.35" fill="#a8c8ec" fill-opacity="0.55"/>
<circle cx="103.52" cy="54.9" r="0.35" fill="#a8c8ec" fill-opacity="0.55"/>
<circle cx="95.02" cy="53.26" r="0.35" fill="#a8c8ec" fill-opacity="0.55"/>
<circle cx="101.16" cy="50.89" r="0.35" fill="#a8c8ec" fill-opacity="0.55"/>
<circle cx="92.28" cy="54.52" r="0.35" fill="#a8c8ec" fill-opacity="0.55"/>
<circle cx="99.72" cy="51.39" r="0.35" fill="#a8c8ec" fill-opacity="0.55"/>
<circle cx="93.18" cy="57.37" r="0.35" fill="#a8c8ec" fill-opacity="0.55"/>
<circle cx="97.2" cy="55.26" r="0.35" fill="#a8c8ec" fill-opacity="0.55"/>
<circle cx="97.62" cy="52.55" r="0.35" fill="#a8c8ec" fill-opacity="0.55"/>
<circle cx="99.05" cy="55.45" r="0.35" fill="#a8c8ec" fill-opacity="0.55"/>
<circle cx="102.39" cy="45.73" r="0.35" fill="#a8c8ec" fill-opacity="0.55"/>
<circle cx="99.68" cy="47.37" r="0.35" fill="#a8c8ec" fill-opacity="0.55"/>
<circle cx="99.95" cy="53.15" r="0.35" fill="#a8c8ec" fill-opacity="0.55"/>
<circle cx="102.79" cy="45.18" r="0.35" fill="#a8c8ec" fill-opacity="0.55"/>
<circle cx="98.33" cy="52.84" r="0.35" fill="#a8c8ec" fill-opacity="0.55"/>
<circle cx="92.94" cy="58.54" r="0.35" fill="#a8c8ec" fill-opacity="0.55"/>
<circle cx="96.55" cy="55.67" r="0.35" fill="#a8c8ec" fill-opacity="0.55"/>
<circle cx="90.27" cy="53.66" r="0.35" fill="#a8c8ec" fill-opacity="0.55"/>
<circle cx="98.85" cy="52.47" r="0.35" fill="#a8c8ec" fill-opacity="0.55"/>
<circle cx="98.03" cy="56" r="0.35" fill="#a8c8ec" fill-opacity="0.55"/>
<circle cx="96.03" cy="52.34" r="0.35" fill="#a8c8ec" fill-opacity="0.55"/>
<circle cx="96.77" cy="47.57" r="0.35" fill="#a8c8ec" fill-opacity="0.55"/>
<circle cx="95.76" cy="55.02" r="0.35" fill="#a8c8ec" fill-opacity="0.55"/>
<circle cx="100.88" cy="48.35" r="0.35" fill="#a8c8ec" fill-opacity="0.55"/>
<ellipse cx="110.6" cy="45.6" rx="5.94" ry="4.29" transform="rotate(-10 110.6 45.6)" fill="#ec9c58" fill-opacity="0.629" filter="url(#b1)"/>
<circle cx="111.32" cy="43.92" r="0.38" fill="#e48a40" fill-opacity="0.4"/>
<circle cx="112.24" cy="49.26" r="0.38" fill="#e48a40" fill-opacity="0.4"/>
<circle cx="109.37" cy="51.44" r="0.38" fill="#e48a40" fill-opacity="0.4"/>
<circle cx="108.55" cy="46" r="0.38" fill="#e48a40" fill-opacity="0.4"/>
<circle cx="111.57" cy="47.86" r="0.38" fill="#e48a40" fill-opacity="0.4"/>
<circle cx="105.8" cy="41.46" r="0.38" fill="#e48a40" fill-opacity="0.4"/>
<circle cx="112.86" cy="47.09" r="0.38" fill="#e48a40" fill-opacity="0.4"/>
<circle cx="113.66" cy="51.31" r="0.38" fill="#e48a40" fill-opacity="0.4"/>
<circle cx="111.36" cy="46.07" r="0.38" fill="#e48a40" fill-opacity="0.4"/>
<circle cx="113.71" cy="45.93" r="0.38" fill="#e48a40" fill-opacity="0.4"/>
<circle cx="115.41" cy="41.81" r="0.38" fill="#e48a40" fill-opacity="0.4"/>
<circle cx="108" cy="37.87" r="0.38" fill="#e48a40" fill-opacity="0.4"/>
<circle cx="113.04" cy="44.28" r="0.38" fill="#e48a40" fill-opacity="0.4"/>
<circle cx="114.42" cy="50.04" r="0.38" fill="#e48a40" fill-opacity="0.4"/>
<circle cx="110.48" cy="45.02" r="0.38" fill="#e48a40" fill-opacity="0.4"/>
<circle cx="108.67" cy="43.95" r="0.38" fill="#e48a40" fill-opacity="0.4"/>
<circle cx="108.85" cy="47.43" r="0.38" fill="#e48a40" fill-opacity="0.4"/>
<circle cx="110.74" cy="45.73" r="0.38" fill="#e48a40" fill-opacity="0.4"/>
<circle cx="110.42" cy="47.8" r="0.38" fill="#e48a40" fill-opacity="0.4"/>
<circle cx="112.12" cy="45" r="0.38" fill="#e48a40" fill-opacity="0.4"/>
<circle cx="112.66" cy="44.88" r="0.38" fill="#e48a40" fill-opacity="0.4"/>
<circle cx="107.51" cy="49.6" r="0.38" fill="#e48a40" fill-opacity="0.4"/>
<circle cx="111.7" cy="43.13" r="0.38" fill="#e48a40" fill-opacity="0.4"/>
<circle cx="114.18" cy="45.79" r="0.38" fill="#e48a40" fill-opacity="0.4"/>
<circle cx="106.26" cy="50.19" r="0.38" fill="#e48a40" fill-opacity="0.4"/>
<circle cx="112.03" cy="47.47" r="0.38" fill="#e48a40" fill-opacity="0.4"/>
<circle cx="111.17" cy="45.14" r="0.38" fill="#e48a40" fill-opacity="0.4"/>
<circle cx="106.05" cy="48.71" r="0.38" fill="#e48a40" fill-opacity="0.4"/>
<circle cx="110.58" cy="44.92" r="0.38" fill="#e48a40" fill-opacity="0.4"/>
<circle cx="111.75" cy="45.58" r="0.38" fill="#e48a40" fill-opacity="0.4"/>
<circle cx="112.61" cy="44.36" r="0.38" fill="#e48a40" fill-opacity="0.4"/>
<circle cx="109.61" cy="40.69" r="0.38" fill="#e48a40" fill-opacity="0.4"/>
<circle cx="109.52" cy="47.4" r="0.38" fill="#e48a40" fill-opacity="0.4"/>
<circle cx="114.72" cy="44.01" r="0.38" fill="#e48a40" fill-opacity="0.4"/>
<circle cx="110.86" cy="49.32" r="0.38" fill="#e48a40" fill-opacity="0.4"/>
<circle cx="109.86" cy="47.47" r="0.38" fill="#e48a40" fill-opacity="0.4"/>
<circle cx="115.97" cy="44.75" r="0.38" fill="#e48a40" fill-opacity="0.4"/>
<circle cx="114.23" cy="43.27" r="0.38" fill="#e48a40" fill-opacity="0.4"/>
<circle cx="111.23" cy="45.3" r="0.38" fill="#e48a40" fill-opacity="0.4"/>
<circle cx="111.43" cy="48.14" r="0.38" fill="#e48a40" fill-opacity="0.4"/>
<circle cx="117.96" cy="42.72" r="0.38" fill="#e48a40" fill-opacity="0.4"/>
<circle cx="108.97" cy="47.07" r="0.38" fill="#e48a40" fill-opacity="0.4"/>
<circle cx="107.44" cy="47.34" r="0.38" fill="#e48a40" fill-opacity="0.4"/>
<circle cx="112.31" cy="44.64" r="0.38" fill="#e48a40" fill-opacity="0.4"/>
<circle cx="111.67" cy="41.73" r="0.38" fill="#e48a40" fill-opacity="0.4"/>
<circle cx="112.4" cy="41.61" r="0.38" fill="#e48a40" fill-opacity="0.4"/>
<circle cx="106.93" cy="44.27" r="0.35" fill="#f4c090" fill-opacity="0.55"/>
<circle cx="109.2" cy="48.91" r="0.35" fill="#f4c090" fill-opacity="0.55"/>
<circle cx="110.75" cy="44.16" r="0.35" fill="#f4c090" fill-opacity="0.55"/>
<circle cx="114.16" cy="50.61" r="0.35" fill="#f4c090" fill-opacity="0.55"/>
<circle cx="110.85" cy="46.86" r="0.35" fill="#f4c090" fill-opacity="0.55"/>
<circle cx="116.7" cy="45.48" r="0.35" fill="#f4c090" fill-opacity="0.55"/>
<circle cx="105.97" cy="55.29" r="0.35" fill="#f4c090" fill-opacity="0.55"/>
<circle cx="119.96" cy="36.88" r="0.35" fill="#f4c090" fill-opacity="0.55"/>
<circle cx="110.67" cy="47.08" r="0.35" fill="#f4c090" fill-opacity="0.55"/>
<circle cx="115.63" cy="47.1" r="0.35" fill="#f4c090" fill-opacity="0.55"/>
<circle cx="108.65" cy="42.19" r="0.35" fill="#f4c090" fill-opacity="0.55"/>
<circle cx="111.72" cy="49.09" r="0.35" fill="#f4c090" fill-opacity="0.55"/>
<circle cx="104.76" cy="42.97" r="0.35" fill="#f4c090" fill-opacity="0.55"/>
<circle cx="109.3" cy="38.92" r="0.35" fill="#f4c090" fill-opacity="0.55"/>
<circle cx="109.09" cy="44.31" r="0.35" fill="#f4c090" fill-opacity="0.55"/>
<circle cx="112.33" cy="42.79" r="0.35" fill="#f4c090" fill-opacity="0.55"/>
<circle cx="106.14" cy="44.98" r="0.35" fill="#f4c090" fill-opacity="0.55"/>
<circle cx="109.96" cy="43.34" r="0.35" fill="#f4c090" fill-opacity="0.55"/>
<circle cx="111.12" cy="48.18" r="0.35" fill="#f4c090" fill-opacity="0.55"/>
<circle cx="117.31" cy="50.49" r="0.35" fill="#f4c090" fill-opacity="0.55"/>
<circle cx="106.59" cy="44.81" r="0.35" fill="#f4c090" fill-opacity="0.55"/>
<circle cx="99.87" cy="54.26" r="0.35" fill="#f4c090" fill-opacity="0.55"/>
<circle cx="107.11" cy="46.1" r="0.35" fill="#f4c090" fill-opacity="0.55"/>
<circle cx="112.27" cy="40.46" r="0.35" fill="#f4c090" fill-opacity="0.55"/>
<circle cx="112.8" cy="45.12" r="0.35" fill="#f4c090" fill-opacity="0.55"/>
<ellipse cx="101.4" cy="39.6" rx="5" ry="4" transform="rotate(0 101.4 39.6)" fill="#9898cc" fill-opacity="0.28500000000000003" filter="url(#b1)"/>
<ellipse cx="101.4" cy="40.2" rx="1.8" ry="1.5" transform="rotate(0 101.4 40.2)" fill="#404080" fill-opacity="0.3375" filter="url(#b05)"/>
<circle cx="98.3" cy="40.81" r="0.38" fill="#34346e" fill-opacity="0.65"/>
<circle cx="103.43" cy="37.79" r="0.38" fill="#34346e" fill-opacity="0.65"/>
<circle cx="102.77" cy="40.69" r="0.38" fill="#34346e" fill-opacity="0.65"/>
<circle cx="102.21" cy="41.02" r="0.38" fill="#34346e" fill-opacity="0.65"/>
<circle cx="103.62" cy="40.09" r="0.38" fill="#34346e" fill-opacity="0.65"/>
<circle cx="102.89" cy="39.83" r="0.38" fill="#34346e" fill-opacity="0.65"/>
<circle cx="102.64" cy="39.26" r="0.38" fill="#34346e" fill-opacity="0.65"/>
<circle cx="101.22" cy="42.82" r="0.38" fill="#34346e" fill-opacity="0.65"/>
<circle cx="102.16" cy="40.18" r="0.38" fill="#34346e" fill-opacity="0.65"/>
<circle cx="99.45" cy="39.29" r="0.38" fill="#34346e" fill-opacity="0.65"/>
<circle cx="101.73" cy="41.72" r="0.38" fill="#34346e" fill-opacity="0.65"/>
<circle cx="102.12" cy="41.13" r="0.38" fill="#34346e" fill-opacity="0.65"/>
<circle cx="101.33" cy="42.29" r="0.38" fill="#34346e" fill-opacity="0.65"/>
<circle cx="100.74" cy="39.63" r="0.38" fill="#34346e" fill-opacity="0.65"/>
<circle cx="102.91" cy="40.49" r="0.38" fill="#34346e" fill-opacity="0.65"/>
<circle cx="100.93" cy="39.59" r="0.38" fill="#34346e" fill-opacity="0.65"/>
<circle cx="100.96" cy="41.27" r="0.38" fill="#34346e" fill-opacity="0.65"/>
<circle cx="102" cy="38.71" r="0.38" fill="#34346e" fill-opacity="0.65"/>
<circle cx="102.12" cy="40.65" r="0.38" fill="#34346e" fill-opacity="0.65"/>
<circle cx="99.7" cy="41.48" r="0.38" fill="#34346e" fill-opacity="0.65"/>
<circle cx="100.92" cy="39.93" r="0.38" fill="#34346e" fill-opacity="0.65"/>
<circle cx="102.75" cy="42.25" r="0.38" fill="#34346e" fill-opacity="0.65"/>
<circle cx="99.42" cy="41.33" r="0.35" fill="#8080c0" fill-opacity="0.5"/>
<circle cx="98.75" cy="46.58" r="0.35" fill="#8080c0" fill-opacity="0.5"/>
<circle cx="100.12" cy="43.45" r="0.35" fill="#8080c0" fill-opacity="0.5"/>
<circle cx="99.57" cy="42.37" r="0.35" fill="#8080c0" fill-opacity="0.5"/>
<circle cx="109.89" cy="32.99" r="0.35" fill="#8080c0" fill-opacity="0.5"/>
<circle cx="100.34" cy="41.5" r="0.35" fill="#8080c0" fill-opacity="0.5"/>
<circle cx="101.57" cy="38.23" r="0.35" fill="#8080c0" fill-opacity="0.5"/>
<circle cx="109.65" cy="40.32" r="0.35" fill="#8080c0" fill-opacity="0.5"/>
<circle cx="95.98" cy="42.49" r="0.35" fill="#8080c0" fill-opacity="0.5"/>
<circle cx="95.7" cy="43.32" r="0.35" fill="#8080c0" fill-opacity="0.5"/>
<circle cx="99.82" cy="40.51" r="0.35" fill="#8080c0" fill-opacity="0.5"/>
<circle cx="106.44" cy="40.43" r="0.35" fill="#8080c0" fill-opacity="0.5"/>
<circle cx="96.89" cy="35.35" r="0.35" fill="#8080c0" fill-opacity="0.5"/>
<circle cx="106.16" cy="42.17" r="0.35" fill="#8080c0" fill-opacity="0.5"/>
<circle cx="98.96" cy="42.51" r="0.35" fill="#8080c0" fill-opacity="0.5"/>
<circle cx="103.69" cy="41.91" r="0.35" fill="#8080c0" fill-opacity="0.5"/>
<circle cx="93.77" cy="39.25" r="0.35" fill="#8080c0" fill-opacity="0.5"/>
<circle cx="105.14" cy="42.15" r="0.35" fill="#8080c0" fill-opacity="0.5"/>
<circle cx="105.07" cy="33.22" r="0.35" fill="#8080c0" fill-opacity="0.5"/>
<circle cx="102.51" cy="41.48" r="0.35" fill="#8080c0" fill-opacity="0.5"/>
<circle cx="111.09" cy="37.43" r="0.35" fill="#8080c0" fill-opacity="0.5"/>
<circle cx="100.71" cy="40.2" r="0.35" fill="#8080c0" fill-opacity="0.5"/>
<circle cx="108.59" cy="43.27" r="0.3" fill="#a8a8c0" fill-opacity="0.45"/>
<circle cx="108.48" cy="40.95" r="0.3" fill="#a8a8c0" fill-opacity="0.45"/>
<circle cx="105.67" cy="45.6" r="0.3" fill="#a8a8c0" fill-opacity="0.45"/>
<circle cx="104.63" cy="45.49" r="0.3" fill="#a8a8c0" fill-opacity="0.45"/>
<circle cx="103.49" cy="59.24" r="0.3" fill="#a8a8c0" fill-opacity="0.45"/>
<circle cx="105.71" cy="45.34" r="0.3" fill="#a8a8c0" fill-opacity="0.45"/>
<circle cx="110.75" cy="51.25" r="0.3" fill="#a8a8c0" fill-opacity="0.45"/>
<circle cx="101.86" cy="52.36" r="0.3" fill="#a8a8c0" fill-opacity="0.45"/>
<circle cx="110.55" cy="48.17" r="0.3" fill="#a8a8c0" fill-opacity="0.45"/>
<circle cx="97.53" cy="42.57" r="0.3" fill="#a8a8c0" fill-opacity="0.45"/>
<circle cx="112.83" cy="44.49" r="0.3" fill="#a8a8c0" fill-opacity="0.45"/>
<circle cx="105.47" cy="47.56" r="0.3" fill="#a8a8c0" fill-opacity="0.45"/>
<circle cx="106.01" cy="45.98" r="0.3" fill="#a8a8c0" fill-opacity="0.45"/>
<circle cx="99.44" cy="50.33" r="0.3" fill="#a8a8c0" fill-opacity="0.45"/>
<circle cx="101.7" cy="48.97" r="0.3" fill="#a8a8c0" fill-opacity="0.45"/>
<circle cx="103.73" cy="55.77" r="0.3" fill="#a8a8c0" fill-opacity="0.45"/>
<circle cx="103.18" cy="56.49" r="0.3" fill="#a8a8c0" fill-opacity="0.45"/>
<circle cx="103.34" cy="54.15" r="0.3" fill="#a8a8c0" fill-opacity="0.45"/>
</g>
<text x="135.7" y="24.5" font-size="5.2" fill="#222" text-anchor="end" font-family="Liberation Serif" stroke="#222" stroke-width="0.15">15'</text>
<text x="132" y="74.8" font-size="6.6" fill="#222" text-anchor="end" textLength="11.8" lengthAdjust="spacingAndGlyphs" font-family="Liberation Serif" stroke="#222" stroke-width="0.15">4.16</text>
<rect x="142.7" y="19.5" width="61" height="57.8" fill="#fff" stroke="#606060" stroke-width="1.1"/>
<line x1="140.5" y1="77.3" x2="142.7" y2="77.3" stroke="#777" stroke-width="0.5"/>
<line x1="141.4" y1="71.5" x2="142.7" y2="71.5" stroke="#777" stroke-width="0.5"/>
<line x1="141.4" y1="65.7" x2="142.7" y2="65.7" stroke="#777" stroke-width="0.5"/>
<line x1="141.4" y1="59.9" x2="142.7" y2="59.9" stroke="#777" stroke-width="0.5"/>
<line x1="140.5" y1="54.1" x2="142.7" y2="54.1" stroke="#777" stroke-width="0.5"/>
<line x1="141.4" y1="48.3" x2="142.7" y2="48.3" stroke="#777" stroke-width="0.5"/>
<line x1="141.4" y1="42.5" x2="142.7" y2="42.5" stroke="#777" stroke-width="0.5"/>
<line x1="141.4" y1="36.7" x2="142.7" y2="36.7" stroke="#777" stroke-width="0.5"/>
<line x1="140.5" y1="30.9" x2="142.7" y2="30.9" stroke="#777" stroke-width="0.5"/>
<line x1="141.4" y1="25.1" x2="142.7" y2="25.1" stroke="#777" stroke-width="0.5"/>
<line x1="142.7" y1="77.3" x2="142.7" y2="79.5" stroke="#777" stroke-width="0.5"/>
<line x1="148.5" y1="77.3" x2="148.5" y2="78.6" stroke="#777" stroke-width="0.5"/>
<line x1="154.3" y1="77.3" x2="154.3" y2="78.6" stroke="#777" stroke-width="0.5"/>
<line x1="160.1" y1="77.3" x2="160.1" y2="78.6" stroke="#777" stroke-width="0.5"/>
<line x1="165.9" y1="77.3" x2="165.9" y2="79.5" stroke="#777" stroke-width="0.5"/>
<line x1="171.7" y1="77.3" x2="171.7" y2="78.6" stroke="#777" stroke-width="0.5"/>
<line x1="177.5" y1="77.3" x2="177.5" y2="78.6" stroke="#777" stroke-width="0.5"/>
<line x1="183.3" y1="77.3" x2="183.3" y2="78.6" stroke="#777" stroke-width="0.5"/>
<line x1="189.1" y1="77.3" x2="189.1" y2="79.5" stroke="#777" stroke-width="0.5"/>
<line x1="194.9" y1="77.3" x2="194.9" y2="78.6" stroke="#777" stroke-width="0.5"/>
<line x1="200.7" y1="77.3" x2="200.7" y2="78.6" stroke="#777" stroke-width="0.5"/>
<g filter="url(#b03)">
<circle cx="148.89" cy="55.23" r="0.3" fill="#b8b8c8" fill-opacity="0.45"/>
<circle cx="172.66" cy="38.04" r="0.3" fill="#b8b8c8" fill-opacity="0.45"/>
<circle cx="186.64" cy="62.44" r="0.3" fill="#b8b8c8" fill-opacity="0.45"/>
<circle cx="171.07" cy="35.54" r="0.3" fill="#b8b8c8" fill-opacity="0.45"/>
<circle cx="171.83" cy="32.3" r="0.3" fill="#b8b8c8" fill-opacity="0.45"/>
<circle cx="154.25" cy="46.79" r="0.3" fill="#b8b8c8" fill-opacity="0.45"/>
<circle cx="152.38" cy="47.3" r="0.3" fill="#b8b8c8" fill-opacity="0.45"/>
<circle cx="173.72" cy="29.33" r="0.3" fill="#b8b8c8" fill-opacity="0.45"/>
<circle cx="180.16" cy="31.18" r="0.3" fill="#b8b8c8" fill-opacity="0.45"/>
<circle cx="185.11" cy="62.34" r="0.3" fill="#b8b8c8" fill-opacity="0.45"/>
<circle cx="173.79" cy="29.93" r="0.3" fill="#b8b8c8" fill-opacity="0.45"/>
<circle cx="173.4" cy="44.43" r="0.3" fill="#b8b8c8" fill-opacity="0.45"/>
<circle cx="196.19" cy="33.6" r="0.3" fill="#b8b8c8" fill-opacity="0.45"/>
<circle cx="191.41" cy="72.13" r="0.3" fill="#b8b8c8" fill-opacity="0.45"/>
<ellipse cx="154" cy="65.4" rx="3" ry="1" transform="rotate(-25 154 65.4)" fill="#505050" fill-opacity="0.6" filter="url(#b05)"/>
<circle cx="153.2" cy="64.56" r="0.35" fill="#333" fill-opacity="0.6"/>
<circle cx="156.27" cy="66.1" r="0.35" fill="#333" fill-opacity="0.6"/>
<circle cx="149.95" cy="67.37" r="0.35" fill="#333" fill-opacity="0.6"/>
<circle cx="154.77" cy="64.84" r="0.35" fill="#333" fill-opacity="0.6"/>
<circle cx="154.33" cy="63.76" r="0.35" fill="#333" fill-opacity="0.6"/>
<circle cx="155.48" cy="64.95" r="0.35" fill="#333" fill-opacity="0.6"/>
<circle cx="153.89" cy="65.06" r="0.35" fill="#333" fill-opacity="0.6"/>
<circle cx="154.92" cy="64.65" r="0.35" fill="#333" fill-opacity="0.6"/>
<circle cx="154.23" cy="64.95" r="0.35" fill="#333" fill-opacity="0.6"/>
<circle cx="150.33" cy="67.09" r="0.35" fill="#333" fill-opacity="0.6"/>
<circle cx="154.52" cy="65.66" r="0.35" fill="#333" fill-opacity="0.6"/>
<circle cx="152.56" cy="66.05" r="0.35" fill="#333" fill-opacity="0.6"/>
<circle cx="155.04" cy="65.01" r="0.35" fill="#333" fill-opacity="0.6"/>
<circle cx="156.53" cy="65.54" r="0.35" fill="#333" fill-opacity="0.6"/>
<circle cx="153.31" cy="62.2" r="0.3" fill="#999" fill-opacity="0.5"/>
<circle cx="162.07" cy="62.23" r="0.3" fill="#999" fill-opacity="0.5"/>
<circle cx="161.32" cy="61.15" r="0.3" fill="#999" fill-opacity="0.5"/>
<circle cx="155.56" cy="63.02" r="0.3" fill="#999" fill-opacity="0.5"/>
<circle cx="159.04" cy="59.04" r="0.3" fill="#999" fill-opacity="0.5"/>
<circle cx="152.24" cy="65.62" r="0.3" fill="#999" fill-opacity="0.5"/>
<circle cx="166.62" cy="58.68" r="0.3" fill="#999" fill-opacity="0.5"/>
<circle cx="155.37" cy="63.17" r="0.3" fill="#999" fill-opacity="0.5"/>
<circle cx="157.62" cy="60.87" r="0.3" fill="#999" fill-opacity="0.5"/>
<circle cx="161.14" cy="59.06" r="0.3" fill="#999" fill-opacity="0.5"/>
<ellipse cx="162.8" cy="53.8" rx="4.8" ry="3.2" transform="rotate(-52 162.8 53.8)" fill="#5c90d0" fill-opacity="0.792" filter="url(#b1)"/>
<circle cx="161.27" cy="57.97" r="0.38" fill="#4a80c8" fill-opacity="0.55"/>
<circle cx="161.3" cy="55.9" r="0.38" fill="#4a80c8" fill-opacity="0.55"/>
<circle cx="161.98" cy="54.09" r="0.38" fill="#4a80c8" fill-opacity="0.55"/>
<circle cx="162.33" cy="52.97" r="0.38" fill="#4a80c8" fill-opacity="0.55"/>
<circle cx="156.48" cy="57.12" r="0.38" fill="#4a80c8" fill-opacity="0.55"/>
<circle cx="159" cy="56.82" r="0.38" fill="#4a80c8" fill-opacity="0.55"/>
<circle cx="162.3" cy="54.4" r="0.38" fill="#4a80c8" fill-opacity="0.55"/>
<circle cx="163.55" cy="53.03" r="0.38" fill="#4a80c8" fill-opacity="0.55"/>
<circle cx="160.02" cy="55.7" r="0.38" fill="#4a80c8" fill-opacity="0.55"/>
<circle cx="157.79" cy="59.36" r="0.38" fill="#4a80c8" fill-opacity="0.55"/>
<circle cx="163.78" cy="53.52" r="0.38" fill="#4a80c8" fill-opacity="0.55"/>
<circle cx="161.89" cy="54.46" r="0.38" fill="#4a80c8" fill-opacity="0.55"/>
<circle cx="164.24" cy="52.02" r="0.38" fill="#4a80c8" fill-opacity="0.55"/>
<circle cx="164.35" cy="52.94" r="0.38" fill="#4a80c8" fill-opacity="0.55"/>
<circle cx="163.94" cy="54.79" r="0.38" fill="#4a80c8" fill-opacity="0.55"/>
<circle cx="160.79" cy="55.43" r="0.38" fill="#4a80c8" fill-opacity="0.55"/>
<circle cx="159.91" cy="55.67" r="0.38" fill="#4a80c8" fill-opacity="0.55"/>
<circle cx="167.12" cy="51.84" r="0.38" fill="#4a80c8" fill-opacity="0.55"/>
<circle cx="162.87" cy="54.68" r="0.38" fill="#4a80c8" fill-opacity="0.55"/>
<circle cx="165.46" cy="52.04" r="0.38" fill="#4a80c8" fill-opacity="0.55"/>
<circle cx="163.62" cy="50.37" r="0.38" fill="#4a80c8" fill-opacity="0.55"/>
<circle cx="161.4" cy="56.22" r="0.38" fill="#4a80c8" fill-opacity="0.55"/>
<circle cx="165.35" cy="50.86" r="0.38" fill="#4a80c8" fill-opacity="0.55"/>
<circle cx="160.21" cy="56.13" r="0.38" fill="#4a80c8" fill-opacity="0.55"/>
<circle cx="160.15" cy="55.26" r="0.38" fill="#4a80c8" fill-opacity="0.55"/>
<circle cx="164.81" cy="50.14" r="0.38" fill="#4a80c8" fill-opacity="0.55"/>
<circle cx="164.33" cy="55.92" r="0.38" fill="#4a80c8" fill-opacity="0.55"/>
<circle cx="165.05" cy="51.66" r="0.38" fill="#4a80c8" fill-opacity="0.55"/>
<circle cx="161.42" cy="56.12" r="0.38" fill="#4a80c8" fill-opacity="0.55"/>
<circle cx="166.21" cy="50.81" r="0.38" fill="#4a80c8" fill-opacity="0.55"/>
<circle cx="164.99" cy="51.28" r="0.38" fill="#4a80c8" fill-opacity="0.55"/>
<circle cx="163.18" cy="52.88" r="0.38" fill="#4a80c8" fill-opacity="0.55"/>
<circle cx="164.37" cy="54.26" r="0.38" fill="#4a80c8" fill-opacity="0.55"/>
<circle cx="159.3" cy="57.76" r="0.38" fill="#4a80c8" fill-opacity="0.55"/>
<circle cx="162.27" cy="53.27" r="0.38" fill="#4a80c8" fill-opacity="0.55"/>
<circle cx="162.39" cy="55.66" r="0.38" fill="#4a80c8" fill-opacity="0.55"/>
<circle cx="167" cy="49.88" r="0.38" fill="#4a80c8" fill-opacity="0.55"/>
<circle cx="161.54" cy="52.3" r="0.38" fill="#4a80c8" fill-opacity="0.55"/>
<circle cx="166.34" cy="49.63" r="0.38" fill="#4a80c8" fill-opacity="0.55"/>
<circle cx="161.2" cy="53.52" r="0.38" fill="#4a80c8" fill-opacity="0.55"/>
<circle cx="161.92" cy="50.71" r="0.35" fill="#a8c8ec" fill-opacity="0.55"/>
<circle cx="165.48" cy="52.78" r="0.35" fill="#a8c8ec" fill-opacity="0.55"/>
<circle cx="164.97" cy="52.64" r="0.35" fill="#a8c8ec" fill-opacity="0.55"/>
<circle cx="164.14" cy="58.28" r="0.35" fill="#a8c8ec" fill-opacity="0.55"/>
<circle cx="158.37" cy="52.01" r="0.35" fill="#a8c8ec" fill-opacity="0.55"/>
<circle cx="162.12" cy="51.81" r="0.35" fill="#a8c8ec" fill-opacity="0.55"/>
<circle cx="160.02" cy="55.96" r="0.35" fill="#a8c8ec" fill-opacity="0.55"/>
<circle cx="162.98" cy="49.1" r="0.35" fill="#a8c8ec" fill-opacity="0.55"/>
<circle cx="166.66" cy="55.26" r="0.35" fill="#a8c8ec" fill-opacity="0.55"/>
<circle cx="166.41" cy="49.17" r="0.35" fill="#a8c8ec" fill-opacity="0.55"/>
<circle cx="164.51" cy="51.56" r="0.35" fill="#a8c8ec" fill-opacity="0.55"/>
<circle cx="165.59" cy="53.73" r="0.35" fill="#a8c8ec" fill-opacity="0.55"/>
<circle cx="159.18" cy="48.67" r="0.35" fill="#a8c8ec" fill-opacity="0.55"/>
<circle cx="162.45" cy="50.9" r="0.35" fill="#a8c8ec" fill-opacity="0.55"/>
<circle cx="165.39" cy="48.54" r="0.35" fill="#a8c8ec" fill-opacity="0.55"/>
<circle cx="169.16" cy="55.31" r="0.35" fill="#a8c8ec" fill-opacity="0.55"/>
<circle cx="158.36" cy="54.83" r="0.35" fill="#a8c8ec" fill-opacity="0.55"/>
<circle cx="154.54" cy="54.24" r="0.35" fill="#a8c8ec" fill-opacity="0.55"/>
<circle cx="158.39" cy="60.82" r="0.35" fill="#a8c8ec" fill-opacity="0.55"/>
<circle cx="158.32" cy="51.87" r="0.35" fill="#a8c8ec" fill-opacity="0.55"/>
<circle cx="160.29" cy="59.58" r="0.35" fill="#a8c8ec" fill-opacity="0.55"/>
<circle cx="160.83" cy="54.95" r="0.35" fill="#a8c8ec" fill-opacity="0.55"/>
<circle cx="168.17" cy="53.17" r="0.35" fill="#a8c8ec" fill-opacity="0.55"/>
<circle cx="173.22" cy="45.85" r="0.35" fill="#a8c8ec" fill-opacity="0.55"/>
<circle cx="165.17" cy="52" r="0.35" fill="#a8c8ec" fill-opacity="0.55"/>
<circle cx="173.52" cy="47.09" r="0.35" fill="#a8c8ec" fill-opacity="0.55"/>
<circle cx="164.11" cy="54.37" r="0.35" fill="#a8c8ec" fill-opacity="0.55"/>
<circle cx="165.42" cy="51.18" r="0.35" fill="#a8c8ec" fill-opacity="0.55"/>
<circle cx="159.89" cy="52.19" r="0.35" fill="#a8c8ec" fill-opacity="0.55"/>
<circle cx="159.34" cy="51.97" r="0.35" fill="#a8c8ec" fill-opacity="0.55"/>
<ellipse cx="174.8" cy="48" rx="2.8" ry="2.6" transform="rotate(0 174.8 48)" fill="#e8e48a" fill-opacity="0.4" filter="url(#b1)"/>
<circle cx="177.25" cy="48.97" r="0.35" fill="#d8d070" fill-opacity="0.5"/>
<circle cx="172.39" cy="50.51" r="0.35" fill="#d8d070" fill-opacity="0.5"/>
<circle cx="176.58" cy="44.56" r="0.35" fill="#d8d070" fill-opacity="0.5"/>
<circle cx="178.48" cy="49.46" r="0.35" fill="#d8d070" fill-opacity="0.5"/>
<circle cx="178.93" cy="45.78" r="0.35" fill="#d8d070" fill-opacity="0.5"/>
<circle cx="175.86" cy="48.76" r="0.35" fill="#d8d070" fill-opacity="0.5"/>
<circle cx="175.2" cy="48.31" r="0.35" fill="#d8d070" fill-opacity="0.5"/>
<circle cx="176.91" cy="45.31" r="0.35" fill="#d8d070" fill-opacity="0.5"/>
<circle cx="172.32" cy="45.49" r="0.35" fill="#d8d070" fill-opacity="0.5"/>
<circle cx="173.68" cy="46.91" r="0.35" fill="#d8d070" fill-opacity="0.5"/>
<circle cx="175.53" cy="48.48" r="0.35" fill="#d8d070" fill-opacity="0.5"/>
<circle cx="174.86" cy="46.78" r="0.35" fill="#d8d070" fill-opacity="0.5"/>
<circle cx="173.92" cy="49.71" r="0.35" fill="#d8d070" fill-opacity="0.5"/>
<circle cx="176.33" cy="48.18" r="0.35" fill="#d8d070" fill-opacity="0.5"/>
<circle cx="172.45" cy="53.88" r="0.35" fill="#a0d8c0" fill-opacity="0.55"/>
<circle cx="171.3" cy="53.44" r="0.35" fill="#a0d8c0" fill-opacity="0.55"/>
<circle cx="173.54" cy="50.12" r="0.35" fill="#a0d8c0" fill-opacity="0.55"/>
<circle cx="172.33" cy="49.81" r="0.35" fill="#a0d8c0" fill-opacity="0.55"/>
<circle cx="173.66" cy="50.75" r="0.35" fill="#a0d8c0" fill-opacity="0.55"/>
<circle cx="169.64" cy="54.86" r="0.35" fill="#a0d8c0" fill-opacity="0.55"/>
<circle cx="171.28" cy="54.44" r="0.35" fill="#a0d8c0" fill-opacity="0.55"/>
<circle cx="170.53" cy="52.81" r="0.35" fill="#a0d8c0" fill-opacity="0.55"/>
<circle cx="172.02" cy="51.29" r="0.35" fill="#a0d8c0" fill-opacity="0.55"/>
<circle cx="171.81" cy="51.12" r="0.35" fill="#a0d8c0" fill-opacity="0.55"/>
<ellipse cx="168" cy="41.5" rx="5" ry="4" transform="rotate(0 168 41.5)" fill="#9898cc" fill-opacity="0.171" filter="url(#b1)"/>
<ellipse cx="168" cy="42.1" rx="1.8" ry="1.5" transform="rotate(0 168 42.1)" fill="#404080" fill-opacity="0.2025" filter="url(#b05)"/>
<circle cx="169.14" cy="42.31" r="0.38" fill="#34346e" fill-opacity="0.65"/>
<circle cx="168.36" cy="38.45" r="0.38" fill="#34346e" fill-opacity="0.65"/>
<circle cx="169.97" cy="42.34" r="0.38" fill="#34346e" fill-opacity="0.65"/>
<circle cx="164.97" cy="42.43" r="0.38" fill="#34346e" fill-opacity="0.65"/>
<circle cx="168.79" cy="43.8" r="0.38" fill="#34346e" fill-opacity="0.65"/>
<circle cx="166.16" cy="44.47" r="0.38" fill="#34346e" fill-opacity="0.65"/>
<circle cx="167.73" cy="45.65" r="0.38" fill="#34346e" fill-opacity="0.65"/>
<circle cx="167.75" cy="43.25" r="0.38" fill="#34346e" fill-opacity="0.65"/>
<circle cx="167.38" cy="40.74" r="0.38" fill="#34346e" fill-opacity="0.65"/>
<circle cx="169.86" cy="43.57" r="0.38" fill="#34346e" fill-opacity="0.65"/>
<circle cx="170.62" cy="43.5" r="0.38" fill="#34346e" fill-opacity="0.65"/>
<circle cx="167.03" cy="39.97" r="0.38" fill="#34346e" fill-opacity="0.65"/>
<circle cx="166.89" cy="41.35" r="0.38" fill="#34346e" fill-opacity="0.65"/>
<circle cx="165.57" cy="43.63" r="0.35" fill="#8080c0" fill-opacity="0.5"/>
<circle cx="169.68" cy="41.24" r="0.35" fill="#8080c0" fill-opacity="0.5"/>
<circle cx="169.12" cy="41.59" r="0.35" fill="#8080c0" fill-opacity="0.5"/>
<circle cx="169.27" cy="44.11" r="0.35" fill="#8080c0" fill-opacity="0.5"/>
<circle cx="171.95" cy="40.08" r="0.35" fill="#8080c0" fill-opacity="0.5"/>
<circle cx="163.08" cy="46" r="0.35" fill="#8080c0" fill-opacity="0.5"/>
<circle cx="168.91" cy="45.1" r="0.35" fill="#8080c0" fill-opacity="0.5"/>
<circle cx="162.58" cy="41.08" r="0.35" fill="#8080c0" fill-opacity="0.5"/>
<circle cx="168.6" cy="37.96" r="0.35" fill="#8080c0" fill-opacity="0.5"/>
<circle cx="166.64" cy="44.03" r="0.35" fill="#8080c0" fill-opacity="0.5"/>
<circle cx="172.38" cy="46.46" r="0.35" fill="#8080c0" fill-opacity="0.5"/>
<circle cx="165.39" cy="38.08" r="0.35" fill="#8080c0" fill-opacity="0.5"/>
<circle cx="170.37" cy="44.63" r="0.35" fill="#8080c0" fill-opacity="0.5"/>
<circle cx="169.22" cy="45.08" r="0.3" fill="#a8a8c0" fill-opacity="0.45"/>
<circle cx="179.12" cy="49.98" r="0.3" fill="#a8a8c0" fill-opacity="0.45"/>
<circle cx="173.63" cy="46.43" r="0.3" fill="#a8a8c0" fill-opacity="0.45"/>
<circle cx="177.09" cy="52.01" r="0.3" fill="#a8a8c0" fill-opacity="0.45"/>
<circle cx="164.11" cy="46.35" r="0.3" fill="#a8a8c0" fill-opacity="0.45"/>
<circle cx="176.09" cy="50.81" r="0.3" fill="#a8a8c0" fill-opacity="0.45"/>
<circle cx="176.2" cy="53.59" r="0.3" fill="#a8a8c0" fill-opacity="0.45"/>
<circle cx="170.22" cy="52.7" r="0.3" fill="#a8a8c0" fill-opacity="0.45"/>
<circle cx="173.73" cy="53.82" r="0.3" fill="#a8a8c0" fill-opacity="0.45"/>
<circle cx="178.88" cy="42.84" r="0.3" fill="#a8a8c0" fill-opacity="0.45"/>
<circle cx="187.12" cy="47.19" r="0.3" fill="#a8a8c0" fill-opacity="0.45"/>
<circle cx="178.43" cy="49.22" r="0.3" fill="#a8a8c0" fill-opacity="0.45"/>
<circle cx="179.87" cy="42.35" r="0.3" fill="#a8a8c0" fill-opacity="0.45"/>
<circle cx="168.77" cy="47.22" r="0.3" fill="#a8a8c0" fill-opacity="0.45"/>
<circle cx="179.76" cy="53.25" r="0.3" fill="#a8a8c0" fill-opacity="0.45"/>
<circle cx="176.75" cy="49.74" r="0.3" fill="#a8a8c0" fill-opacity="0.45"/>
<circle cx="172.75" cy="51.95" r="0.3" fill="#a8a8c0" fill-opacity="0.45"/>
<circle cx="170.66" cy="60.25" r="0.3" fill="#a8a8c0" fill-opacity="0.45"/>
</g>
<text x="201.1" y="24.5" font-size="5.2" fill="#222" text-anchor="end" font-family="Liberation Serif" stroke="#222" stroke-width="0.15">30'</text>
<text x="199.7" y="74.8" font-size="6.6" fill="#222" text-anchor="end" textLength="11.8" lengthAdjust="spacingAndGlyphs" font-family="Liberation Serif" stroke="#222" stroke-width="0.15">2.19</text>
<rect x="207.6" y="19.5" width="61" height="57.8" fill="#fff" stroke="#606060" stroke-width="1.1"/>
<line x1="205.4" y1="77.3" x2="207.6" y2="77.3" stroke="#777" stroke-width="0.5"/>
<line x1="206.3" y1="71.5" x2="207.6" y2="71.5" stroke="#777" stroke-width="0.5"/>
<line x1="206.3" y1="65.7" x2="207.6" y2="65.7" stroke="#777" stroke-width="0.5"/>
<line x1="206.3" y1="59.9" x2="207.6" y2="59.9" stroke="#777" stroke-width="0.5"/>
<line x1="205.4" y1="54.1" x2="207.6" y2="54.1" stroke="#777" stroke-width="0.5"/>
<line x1="206.3" y1="48.3" x2="207.6" y2="48.3" stroke="#777" stroke-width="0.5"/>
<line x1="206.3" y1="42.5" x2="207.6" y2="42.5" stroke="#777" stroke-width="0.5"/>
<line x1="206.3" y1="36.7" x2="207.6" y2="36.7" stroke="#777" stroke-width="0.5"/>
<line x1="205.4" y1="30.9" x2="207.6" y2="30.9" stroke="#777" stroke-width="0.5"/>
<line x1="206.3" y1="25.1" x2="207.6" y2="25.1" stroke="#777" stroke-width="0.5"/>
<line x1="207.6" y1="77.3" x2="207.6" y2="79.5" stroke="#777" stroke-width="0.5"/>
<line x1="213.4" y1="77.3" x2="213.4" y2="78.6" stroke="#777" stroke-width="0.5"/>
<line x1="219.2" y1="77.3" x2="219.2" y2="78.6" stroke="#777" stroke-width="0.5"/>
<line x1="225" y1="77.3" x2="225" y2="78.6" stroke="#777" stroke-width="0.5"/>
<line x1="230.8" y1="77.3" x2="230.8" y2="79.5" stroke="#777" stroke-width="0.5"/>
<line x1="236.6" y1="77.3" x2="236.6" y2="78.6" stroke="#777" stroke-width="0.5"/>
<line x1="242.4" y1="77.3" x2="242.4" y2="78.6" stroke="#777" stroke-width="0.5"/>
<line x1="248.2" y1="77.3" x2="248.2" y2="78.6" stroke="#777" stroke-width="0.5"/>
<line x1="254" y1="77.3" x2="254" y2="79.5" stroke="#777" stroke-width="0.5"/>
<line x1="259.8" y1="77.3" x2="259.8" y2="78.6" stroke="#777" stroke-width="0.5"/>
<line x1="265.6" y1="77.3" x2="265.6" y2="78.6" stroke="#777" stroke-width="0.5"/>
<g filter="url(#b03)">
<circle cx="247.97" cy="49.92" r="0.3" fill="#b8b8c8" fill-opacity="0.45"/>
<circle cx="244.85" cy="48.25" r="0.3" fill="#b8b8c8" fill-opacity="0.45"/>
<circle cx="219.83" cy="54.55" r="0.3" fill="#b8b8c8" fill-opacity="0.45"/>
<circle cx="233.24" cy="60.69" r="0.3" fill="#b8b8c8" fill-opacity="0.45"/>
<circle cx="258.91" cy="46.77" r="0.3" fill="#b8b8c8" fill-opacity="0.45"/>
<circle cx="241.87" cy="61.06" r="0.3" fill="#b8b8c8" fill-opacity="0.45"/>
<circle cx="234.08" cy="37.74" r="0.3" fill="#b8b8c8" fill-opacity="0.45"/>
<circle cx="249.43" cy="66.93" r="0.3" fill="#b8b8c8" fill-opacity="0.45"/>
<circle cx="252.08" cy="58.86" r="0.3" fill="#b8b8c8" fill-opacity="0.45"/>
<circle cx="256.07" cy="57.95" r="0.3" fill="#b8b8c8" fill-opacity="0.45"/>
<circle cx="245.32" cy="47.83" r="0.3" fill="#b8b8c8" fill-opacity="0.45"/>
<circle cx="228.56" cy="55.65" r="0.3" fill="#b8b8c8" fill-opacity="0.45"/>
<circle cx="217.59" cy="46.3" r="0.3" fill="#b8b8c8" fill-opacity="0.45"/>
<circle cx="252.5" cy="59.45" r="0.3" fill="#b8b8c8" fill-opacity="0.45"/>
<ellipse cx="220" cy="64.8" rx="3" ry="1" transform="rotate(-25 220 64.8)" fill="#505050" fill-opacity="0.48" filter="url(#b05)"/>
<circle cx="219.01" cy="64.9" r="0.35" fill="#333" fill-opacity="0.48"/>
<circle cx="218.53" cy="65.82" r="0.35" fill="#333" fill-opacity="0.48"/>
<circle cx="218.61" cy="64.98" r="0.35" fill="#333" fill-opacity="0.48"/>
<circle cx="217.77" cy="64.48" r="0.35" fill="#333" fill-opacity="0.48"/>
<circle cx="221.31" cy="65.07" r="0.35" fill="#333" fill-opacity="0.48"/>
<circle cx="220.04" cy="64.14" r="0.35" fill="#333" fill-opacity="0.48"/>
<circle cx="215.63" cy="66.95" r="0.35" fill="#333" fill-opacity="0.48"/>
<circle cx="222.06" cy="64.04" r="0.35" fill="#333" fill-opacity="0.48"/>
<circle cx="221.89" cy="64.9" r="0.35" fill="#333" fill-opacity="0.48"/>
<circle cx="221.73" cy="63.7" r="0.35" fill="#333" fill-opacity="0.48"/>
<circle cx="221.91" cy="64.42" r="0.35" fill="#333" fill-opacity="0.48"/>
<circle cx="217.39" cy="65.75" r="0.35" fill="#333" fill-opacity="0.48"/>
<circle cx="217.65" cy="65.82" r="0.35" fill="#333" fill-opacity="0.48"/>
<circle cx="220.67" cy="63.78" r="0.35" fill="#333" fill-opacity="0.48"/>
<circle cx="220.56" cy="68.54" r="0.3" fill="#999" fill-opacity="0.5"/>
<circle cx="226.81" cy="62.74" r="0.3" fill="#999" fill-opacity="0.5"/>
<circle cx="222.07" cy="66.43" r="0.3" fill="#999" fill-opacity="0.5"/>
<circle cx="231.69" cy="59.22" r="0.3" fill="#999" fill-opacity="0.5"/>
<circle cx="223.82" cy="62.66" r="0.3" fill="#999" fill-opacity="0.5"/>
<circle cx="224.89" cy="63.45" r="0.3" fill="#999" fill-opacity="0.5"/>
<circle cx="226.68" cy="59.34" r="0.3" fill="#999" fill-opacity="0.5"/>
<circle cx="221.58" cy="66.11" r="0.3" fill="#999" fill-opacity="0.5"/>
<circle cx="223.64" cy="63.76" r="0.3" fill="#999" fill-opacity="0.5"/>
<circle cx="226.72" cy="63.22" r="0.3" fill="#999" fill-opacity="0.5"/>
<ellipse cx="227.6" cy="53.7" rx="5.8" ry="3" transform="rotate(-52 227.6 53.7)" fill="#5c90d0" fill-opacity="0.6839999999999999" filter="url(#b1)"/>
<circle cx="229.03" cy="51.06" r="0.38" fill="#4a80c8" fill-opacity="0.475"/>
<circle cx="229.44" cy="54.71" r="0.38" fill="#4a80c8" fill-opacity="0.475"/>
<circle cx="226.39" cy="55.85" r="0.38" fill="#4a80c8" fill-opacity="0.475"/>
<circle cx="230.7" cy="52.25" r="0.38" fill="#4a80c8" fill-opacity="0.475"/>
<circle cx="226.95" cy="51.91" r="0.38" fill="#4a80c8" fill-opacity="0.475"/>
<circle cx="224.73" cy="57.48" r="0.38" fill="#4a80c8" fill-opacity="0.475"/>
<circle cx="230.24" cy="55.22" r="0.38" fill="#4a80c8" fill-opacity="0.475"/>
<circle cx="226.37" cy="57.19" r="0.38" fill="#4a80c8" fill-opacity="0.475"/>
<circle cx="227.15" cy="51.02" r="0.38" fill="#4a80c8" fill-opacity="0.475"/>
<circle cx="225.57" cy="56.33" r="0.38" fill="#4a80c8" fill-opacity="0.475"/>
<circle cx="225.94" cy="55.29" r="0.38" fill="#4a80c8" fill-opacity="0.475"/>
<circle cx="227.32" cy="52.42" r="0.38" fill="#4a80c8" fill-opacity="0.475"/>
<circle cx="227.47" cy="52.57" r="0.38" fill="#4a80c8" fill-opacity="0.475"/>
<circle cx="226.47" cy="55.95" r="0.38" fill="#4a80c8" fill-opacity="0.475"/>
<circle cx="226.18" cy="55.83" r="0.38" fill="#4a80c8" fill-opacity="0.475"/>
<circle cx="230.41" cy="50.3" r="0.38" fill="#4a80c8" fill-opacity="0.475"/>
<circle cx="227.48" cy="55.13" r="0.38" fill="#4a80c8" fill-opacity="0.475"/>
<circle cx="227.34" cy="55.93" r="0.38" fill="#4a80c8" fill-opacity="0.475"/>
<circle cx="225.03" cy="57.82" r="0.38" fill="#4a80c8" fill-opacity="0.475"/>
<circle cx="225.31" cy="54.84" r="0.38" fill="#4a80c8" fill-opacity="0.475"/>
<circle cx="229.96" cy="49.21" r="0.38" fill="#4a80c8" fill-opacity="0.475"/>
<circle cx="231.32" cy="50.4" r="0.38" fill="#4a80c8" fill-opacity="0.475"/>
<circle cx="229.19" cy="49.88" r="0.38" fill="#4a80c8" fill-opacity="0.475"/>
<circle cx="230.91" cy="52.38" r="0.38" fill="#4a80c8" fill-opacity="0.475"/>
<circle cx="226.74" cy="54.39" r="0.38" fill="#4a80c8" fill-opacity="0.475"/>
<circle cx="232.31" cy="48.32" r="0.38" fill="#4a80c8" fill-opacity="0.475"/>
<circle cx="225.65" cy="54.75" r="0.38" fill="#4a80c8" fill-opacity="0.475"/>
<circle cx="228.32" cy="53.36" r="0.38" fill="#4a80c8" fill-opacity="0.475"/>
<circle cx="229.05" cy="55.09" r="0.38" fill="#4a80c8" fill-opacity="0.475"/>
<circle cx="226.86" cy="55.37" r="0.38" fill="#4a80c8" fill-opacity="0.475"/>
<circle cx="229.18" cy="49.85" r="0.38" fill="#4a80c8" fill-opacity="0.475"/>
<circle cx="230.92" cy="53.07" r="0.38" fill="#4a80c8" fill-opacity="0.475"/>
<circle cx="223.3" cy="56.67" r="0.38" fill="#4a80c8" fill-opacity="0.475"/>
<circle cx="223.27" cy="55.32" r="0.38" fill="#4a80c8" fill-opacity="0.475"/>
<circle cx="226.32" cy="51.66" r="0.38" fill="#4a80c8" fill-opacity="0.475"/>
<circle cx="229.46" cy="54.1" r="0.38" fill="#4a80c8" fill-opacity="0.475"/>
<circle cx="223.49" cy="57.92" r="0.38" fill="#4a80c8" fill-opacity="0.475"/>
<circle cx="223.87" cy="59.5" r="0.38" fill="#4a80c8" fill-opacity="0.475"/>
<circle cx="225.34" cy="55.8" r="0.38" fill="#4a80c8" fill-opacity="0.475"/>
<circle cx="227.71" cy="54.49" r="0.38" fill="#4a80c8" fill-opacity="0.475"/>
<circle cx="227.9" cy="53.69" r="0.35" fill="#a8c8ec" fill-opacity="0.55"/>
<circle cx="227.4" cy="54.69" r="0.35" fill="#a8c8ec" fill-opacity="0.55"/>
<circle cx="225.08" cy="57.25" r="0.35" fill="#a8c8ec" fill-opacity="0.55"/>
<circle cx="221.29" cy="59.52" r="0.35" fill="#a8c8ec" fill-opacity="0.55"/>
<circle cx="236.03" cy="44.26" r="0.35" fill="#a8c8ec" fill-opacity="0.55"/>
<circle cx="225.16" cy="57.94" r="0.35" fill="#a8c8ec" fill-opacity="0.55"/>
<circle cx="222.37" cy="53.54" r="0.35" fill="#a8c8ec" fill-opacity="0.55"/>
<circle cx="227.96" cy="56.53" r="0.35" fill="#a8c8ec" fill-opacity="0.55"/>
<circle cx="230.26" cy="50.42" r="0.35" fill="#a8c8ec" fill-opacity="0.55"/>
<circle cx="223.68" cy="54.3" r="0.35" fill="#a8c8ec" fill-opacity="0.55"/>
<circle cx="234.36" cy="46.92" r="0.35" fill="#a8c8ec" fill-opacity="0.55"/>
<circle cx="221.53" cy="52.68" r="0.35" fill="#a8c8ec" fill-opacity="0.55"/>
<circle cx="229.19" cy="62.11" r="0.35" fill="#a8c8ec" fill-opacity="0.55"/>
<circle cx="224.89" cy="56.91" r="0.35" fill="#a8c8ec" fill-opacity="0.55"/>
<circle cx="229.53" cy="51.05" r="0.35" fill="#a8c8ec" fill-opacity="0.55"/>
<circle cx="225.38" cy="51.08" r="0.35" fill="#a8c8ec" fill-opacity="0.55"/>
<circle cx="228.75" cy="59.45" r="0.35" fill="#a8c8ec" fill-opacity="0.55"/>
<circle cx="228.11" cy="56.8" r="0.35" fill="#a8c8ec" fill-opacity="0.55"/>
<circle cx="222.57" cy="58.88" r="0.35" fill="#a8c8ec" fill-opacity="0.55"/>
<circle cx="232.09" cy="52.83" r="0.35" fill="#a8c8ec" fill-opacity="0.55"/>
<circle cx="226.32" cy="57.93" r="0.35" fill="#a8c8ec" fill-opacity="0.55"/>
<circle cx="229" cy="49.34" r="0.35" fill="#a8c8ec" fill-opacity="0.55"/>
<circle cx="229" cy="48.69" r="0.35" fill="#a8c8ec" fill-opacity="0.55"/>
<circle cx="226.25" cy="55.52" r="0.35" fill="#a8c8ec" fill-opacity="0.55"/>
<circle cx="219.29" cy="63.45" r="0.35" fill="#a8c8ec" fill-opacity="0.55"/>
<circle cx="222.65" cy="53.97" r="0.35" fill="#a8c8ec" fill-opacity="0.55"/>
<circle cx="229.12" cy="55.27" r="0.35" fill="#a8c8ec" fill-opacity="0.55"/>
<circle cx="230.19" cy="56.02" r="0.35" fill="#a8c8ec" fill-opacity="0.55"/>
<circle cx="222.39" cy="54.89" r="0.35" fill="#a8c8ec" fill-opacity="0.55"/>
<circle cx="235.38" cy="46.33" r="0.35" fill="#a8c8ec" fill-opacity="0.55"/>
<ellipse cx="241.3" cy="46.2" rx="6.38" ry="5.06" transform="rotate(-10 241.3 46.2)" fill="#ec9c58" fill-opacity="0.703" filter="url(#b1)"/>
<circle cx="244.14" cy="43.38" r="0.38" fill="#e48a40" fill-opacity="0.4"/>
<circle cx="244.18" cy="46.42" r="0.38" fill="#e48a40" fill-opacity="0.4"/>
<circle cx="243.53" cy="45.88" r="0.38" fill="#e48a40" fill-opacity="0.4"/>
<circle cx="245.12" cy="43.71" r="0.38" fill="#e48a40" fill-opacity="0.4"/>
<circle cx="237.29" cy="42.77" r="0.38" fill="#e48a40" fill-opacity="0.4"/>
<circle cx="244.92" cy="43.49" r="0.38" fill="#e48a40" fill-opacity="0.4"/>
<circle cx="237.27" cy="44.28" r="0.38" fill="#e48a40" fill-opacity="0.4"/>
<circle cx="239.17" cy="43.01" r="0.38" fill="#e48a40" fill-opacity="0.4"/>
<circle cx="240" cy="44.67" r="0.38" fill="#e48a40" fill-opacity="0.4"/>
<circle cx="238.95" cy="43.93" r="0.38" fill="#e48a40" fill-opacity="0.4"/>
<circle cx="241.21" cy="44.93" r="0.38" fill="#e48a40" fill-opacity="0.4"/>
<circle cx="241.81" cy="46.81" r="0.38" fill="#e48a40" fill-opacity="0.4"/>
<circle cx="241.42" cy="40.04" r="0.38" fill="#e48a40" fill-opacity="0.4"/>
<circle cx="239.08" cy="44.36" r="0.38" fill="#e48a40" fill-opacity="0.4"/>
<circle cx="243.2" cy="41.44" r="0.38" fill="#e48a40" fill-opacity="0.4"/>
<circle cx="238.71" cy="45.83" r="0.38" fill="#e48a40" fill-opacity="0.4"/>
<circle cx="240.62" cy="49.1" r="0.38" fill="#e48a40" fill-opacity="0.4"/>
<circle cx="240.25" cy="49.09" r="0.38" fill="#e48a40" fill-opacity="0.4"/>
<circle cx="235.41" cy="42.16" r="0.38" fill="#e48a40" fill-opacity="0.4"/>
<circle cx="245.69" cy="46.65" r="0.38" fill="#e48a40" fill-opacity="0.4"/>
<circle cx="243.03" cy="46.24" r="0.38" fill="#e48a40" fill-opacity="0.4"/>
<circle cx="242.38" cy="42.6" r="0.38" fill="#e48a40" fill-opacity="0.4"/>
<circle cx="244.3" cy="44.18" r="0.38" fill="#e48a40" fill-opacity="0.4"/>
<circle cx="244.72" cy="45.84" r="0.38" fill="#e48a40" fill-opacity="0.4"/>
<circle cx="233.92" cy="43.89" r="0.38" fill="#e48a40" fill-opacity="0.4"/>
<circle cx="245.1" cy="45.15" r="0.38" fill="#e48a40" fill-opacity="0.4"/>
<circle cx="240.06" cy="47.1" r="0.38" fill="#e48a40" fill-opacity="0.4"/>
<circle cx="239.58" cy="44.98" r="0.38" fill="#e48a40" fill-opacity="0.4"/>
<circle cx="241.72" cy="46.53" r="0.38" fill="#e48a40" fill-opacity="0.4"/>
<circle cx="246.52" cy="45.41" r="0.38" fill="#e48a40" fill-opacity="0.4"/>
<circle cx="248.61" cy="49.96" r="0.38" fill="#e48a40" fill-opacity="0.4"/>
<circle cx="247.69" cy="48.05" r="0.38" fill="#e48a40" fill-opacity="0.4"/>
<circle cx="241.81" cy="46.49" r="0.38" fill="#e48a40" fill-opacity="0.4"/>
<circle cx="240.46" cy="44.3" r="0.38" fill="#e48a40" fill-opacity="0.4"/>
<circle cx="240.77" cy="44.5" r="0.38" fill="#e48a40" fill-opacity="0.4"/>
<circle cx="247.18" cy="46.66" r="0.38" fill="#e48a40" fill-opacity="0.4"/>
<circle cx="238.85" cy="41.26" r="0.38" fill="#e48a40" fill-opacity="0.4"/>
<circle cx="240.92" cy="45.1" r="0.38" fill="#e48a40" fill-opacity="0.4"/>
<circle cx="237.03" cy="43.77" r="0.38" fill="#e48a40" fill-opacity="0.4"/>
<circle cx="233.86" cy="49.11" r="0.38" fill="#e48a40" fill-opacity="0.4"/>
<circle cx="242.31" cy="53.26" r="0.38" fill="#e48a40" fill-opacity="0.4"/>
<circle cx="241.12" cy="45.82" r="0.38" fill="#e48a40" fill-opacity="0.4"/>
<circle cx="246.31" cy="45.69" r="0.38" fill="#e48a40" fill-opacity="0.4"/>
<circle cx="241.7" cy="45.09" r="0.38" fill="#e48a40" fill-opacity="0.4"/>
<circle cx="239.94" cy="50.64" r="0.38" fill="#e48a40" fill-opacity="0.4"/>
<circle cx="245.55" cy="50.26" r="0.38" fill="#e48a40" fill-opacity="0.4"/>
<circle cx="240.12" cy="46.49" r="0.38" fill="#e48a40" fill-opacity="0.4"/>
<circle cx="238.74" cy="49.36" r="0.38" fill="#e48a40" fill-opacity="0.4"/>
<circle cx="236.8" cy="48.58" r="0.38" fill="#e48a40" fill-opacity="0.4"/>
<circle cx="245.73" cy="49.37" r="0.38" fill="#e48a40" fill-opacity="0.4"/>
<circle cx="238.6" cy="49.73" r="0.38" fill="#e48a40" fill-opacity="0.4"/>
<circle cx="238.49" cy="44.57" r="0.38" fill="#e48a40" fill-opacity="0.4"/>
<circle cx="237.32" cy="50.14" r="0.38" fill="#e48a40" fill-opacity="0.4"/>
<circle cx="246.66" cy="43.59" r="0.38" fill="#e48a40" fill-opacity="0.4"/>
<circle cx="238.53" cy="45.74" r="0.38" fill="#e48a40" fill-opacity="0.4"/>
<circle cx="254.91" cy="48.02" r="0.35" fill="#f4c090" fill-opacity="0.55"/>
<circle cx="237.22" cy="39.38" r="0.35" fill="#f4c090" fill-opacity="0.55"/>
<circle cx="238.7" cy="51.65" r="0.35" fill="#f4c090" fill-opacity="0.55"/>
<circle cx="250.71" cy="43.42" r="0.35" fill="#f4c090" fill-opacity="0.55"/>
<circle cx="237.38" cy="44.75" r="0.35" fill="#f4c090" fill-opacity="0.55"/>
<circle cx="232.26" cy="51.61" r="0.35" fill="#f4c090" fill-opacity="0.55"/>
<circle cx="236.48" cy="51.52" r="0.35" fill="#f4c090" fill-opacity="0.55"/>
<circle cx="231.61" cy="42.57" r="0.35" fill="#f4c090" fill-opacity="0.55"/>
<circle cx="242.23" cy="42.83" r="0.35" fill="#f4c090" fill-opacity="0.55"/>
<circle cx="245.32" cy="45.53" r="0.35" fill="#f4c090" fill-opacity="0.55"/>
<circle cx="235.71" cy="49.8" r="0.35" fill="#f4c090" fill-opacity="0.55"/>
<circle cx="244.25" cy="37.64" r="0.35" fill="#f4c090" fill-opacity="0.55"/>
<circle cx="251.05" cy="46.57" r="0.35" fill="#f4c090" fill-opacity="0.55"/>
<circle cx="243.87" cy="37.93" r="0.35" fill="#f4c090" fill-opacity="0.55"/>
<circle cx="237.35" cy="45.43" r="0.35" fill="#f4c090" fill-opacity="0.55"/>
<circle cx="245.79" cy="39.27" r="0.35" fill="#f4c090" fill-opacity="0.55"/>
<circle cx="235.3" cy="38.73" r="0.35" fill="#f4c090" fill-opacity="0.55"/>
<circle cx="240.31" cy="47.83" r="0.35" fill="#f4c090" fill-opacity="0.55"/>
<circle cx="232.21" cy="45.32" r="0.35" fill="#f4c090" fill-opacity="0.55"/>
<circle cx="245.06" cy="52.2" r="0.35" fill="#f4c090" fill-opacity="0.55"/>
<circle cx="244.5" cy="44.36" r="0.35" fill="#f4c090" fill-opacity="0.55"/>
<circle cx="234.57" cy="43.45" r="0.35" fill="#f4c090" fill-opacity="0.55"/>
<circle cx="237.99" cy="47.4" r="0.35" fill="#f4c090" fill-opacity="0.55"/>
<circle cx="242.24" cy="53.04" r="0.35" fill="#f4c090" fill-opacity="0.55"/>
<circle cx="242.01" cy="41.57" r="0.35" fill="#f4c090" fill-opacity="0.55"/>
<ellipse cx="231.5" cy="39.1" rx="5" ry="4" transform="rotate(0 231.5 39.1)" fill="#9898cc" fill-opacity="0.38" filter="url(#b1)"/>
<ellipse cx="231.5" cy="39.7" rx="1.8" ry="1.5" transform="rotate(0 231.5 39.7)" fill="#404080" fill-opacity="0.45" filter="url(#b05)"/>
<circle cx="234.13" cy="41.23" r="0.38" fill="#34346e" fill-opacity="0.65"/>
<circle cx="231.67" cy="38.89" r="0.38" fill="#34346e" fill-opacity="0.65"/>
<circle cx="228.32" cy="38.47" r="0.38" fill="#34346e" fill-opacity="0.65"/>
<circle cx="233.05" cy="38.78" r="0.38" fill="#34346e" fill-opacity="0.65"/>
<circle cx="229.26" cy="40.17" r="0.38" fill="#34346e" fill-opacity="0.65"/>
<circle cx="231.91" cy="40.75" r="0.38" fill="#34346e" fill-opacity="0.65"/>
<circle cx="232.61" cy="41.87" r="0.38" fill="#34346e" fill-opacity="0.65"/>
<circle cx="230.07" cy="41.27" r="0.38" fill="#34346e" fill-opacity="0.65"/>
<circle cx="229.82" cy="40.87" r="0.38" fill="#34346e" fill-opacity="0.65"/>
<circle cx="231.8" cy="40.24" r="0.38" fill="#34346e" fill-opacity="0.65"/>
<circle cx="233.15" cy="39.88" r="0.38" fill="#34346e" fill-opacity="0.65"/>
<circle cx="233.39" cy="41.13" r="0.38" fill="#34346e" fill-opacity="0.65"/>
<circle cx="231.73" cy="39.11" r="0.38" fill="#34346e" fill-opacity="0.65"/>
<circle cx="230.22" cy="39.16" r="0.38" fill="#34346e" fill-opacity="0.65"/>
<circle cx="231.16" cy="39.87" r="0.38" fill="#34346e" fill-opacity="0.65"/>
<circle cx="236.57" cy="40.79" r="0.38" fill="#34346e" fill-opacity="0.65"/>
<circle cx="232.81" cy="38.7" r="0.38" fill="#34346e" fill-opacity="0.65"/>
<circle cx="230.29" cy="39.45" r="0.38" fill="#34346e" fill-opacity="0.65"/>
<circle cx="231.83" cy="38.45" r="0.38" fill="#34346e" fill-opacity="0.65"/>
<circle cx="234.24" cy="39.11" r="0.38" fill="#34346e" fill-opacity="0.65"/>
<circle cx="233.33" cy="36.63" r="0.38" fill="#34346e" fill-opacity="0.65"/>
<circle cx="231.49" cy="40.29" r="0.38" fill="#34346e" fill-opacity="0.65"/>
<circle cx="231.83" cy="40.74" r="0.38" fill="#34346e" fill-opacity="0.65"/>
<circle cx="231.98" cy="40.13" r="0.38" fill="#34346e" fill-opacity="0.65"/>
<circle cx="228.28" cy="38.9" r="0.38" fill="#34346e" fill-opacity="0.65"/>
<circle cx="227.52" cy="40.78" r="0.38" fill="#34346e" fill-opacity="0.65"/>
<circle cx="232.02" cy="39.63" r="0.38" fill="#34346e" fill-opacity="0.65"/>
<circle cx="230.1" cy="39.09" r="0.38" fill="#34346e" fill-opacity="0.65"/>
<circle cx="234.64" cy="42.32" r="0.38" fill="#34346e" fill-opacity="0.65"/>
<circle cx="231.4" cy="41.7" r="0.38" fill="#34346e" fill-opacity="0.65"/>
<circle cx="226.28" cy="34.18" r="0.35" fill="#8080c0" fill-opacity="0.5"/>
<circle cx="230.26" cy="37.15" r="0.35" fill="#8080c0" fill-opacity="0.5"/>
<circle cx="229.99" cy="40.13" r="0.35" fill="#8080c0" fill-opacity="0.5"/>
<circle cx="242.89" cy="37.75" r="0.35" fill="#8080c0" fill-opacity="0.5"/>
<circle cx="232.18" cy="40.37" r="0.35" fill="#8080c0" fill-opacity="0.5"/>
<circle cx="231.88" cy="42.21" r="0.35" fill="#8080c0" fill-opacity="0.5"/>
<circle cx="238.39" cy="36.12" r="0.35" fill="#8080c0" fill-opacity="0.5"/>
<circle cx="232.58" cy="38.86" r="0.35" fill="#8080c0" fill-opacity="0.5"/>
<circle cx="233.28" cy="35.31" r="0.35" fill="#8080c0" fill-opacity="0.5"/>
<circle cx="225.67" cy="33.11" r="0.35" fill="#8080c0" fill-opacity="0.5"/>
<circle cx="233.89" cy="40.14" r="0.35" fill="#8080c0" fill-opacity="0.5"/>
<circle cx="232.27" cy="32.97" r="0.35" fill="#8080c0" fill-opacity="0.5"/>
<circle cx="230.66" cy="37.49" r="0.35" fill="#8080c0" fill-opacity="0.5"/>
<circle cx="226.91" cy="37.04" r="0.35" fill="#8080c0" fill-opacity="0.5"/>
<circle cx="234.51" cy="41.12" r="0.35" fill="#8080c0" fill-opacity="0.5"/>
<circle cx="231.92" cy="41.04" r="0.35" fill="#8080c0" fill-opacity="0.5"/>
<circle cx="229.83" cy="39.8" r="0.35" fill="#8080c0" fill-opacity="0.5"/>
<circle cx="232.15" cy="41.15" r="0.35" fill="#8080c0" fill-opacity="0.5"/>
<circle cx="231.75" cy="39.2" r="0.35" fill="#8080c0" fill-opacity="0.5"/>
<circle cx="231.52" cy="37.79" r="0.35" fill="#8080c0" fill-opacity="0.5"/>
<circle cx="240.04" cy="41.04" r="0.35" fill="#8080c0" fill-opacity="0.5"/>
<circle cx="233.54" cy="46.02" r="0.35" fill="#8080c0" fill-opacity="0.5"/>
<circle cx="237.05" cy="35.24" r="0.35" fill="#8080c0" fill-opacity="0.5"/>
<circle cx="234.5" cy="41.95" r="0.35" fill="#8080c0" fill-opacity="0.5"/>
<circle cx="238.79" cy="43.28" r="0.35" fill="#8080c0" fill-opacity="0.5"/>
<circle cx="234.77" cy="36.3" r="0.35" fill="#8080c0" fill-opacity="0.5"/>
<circle cx="228.87" cy="40.35" r="0.35" fill="#8080c0" fill-opacity="0.5"/>
<circle cx="233.82" cy="36.74" r="0.35" fill="#8080c0" fill-opacity="0.5"/>
<circle cx="230.62" cy="38.48" r="0.35" fill="#8080c0" fill-opacity="0.5"/>
<circle cx="232.22" cy="40.54" r="0.35" fill="#8080c0" fill-opacity="0.5"/>
<circle cx="230.91" cy="44.94" r="0.3" fill="#a8a8c0" fill-opacity="0.45"/>
<circle cx="247.42" cy="48.47" r="0.3" fill="#a8a8c0" fill-opacity="0.45"/>
<circle cx="239.67" cy="52.17" r="0.3" fill="#a8a8c0" fill-opacity="0.45"/>
<circle cx="240.72" cy="48.55" r="0.3" fill="#a8a8c0" fill-opacity="0.45"/>
<circle cx="235.84" cy="43.36" r="0.3" fill="#a8a8c0" fill-opacity="0.45"/>
<circle cx="242.51" cy="49.24" r="0.3" fill="#a8a8c0" fill-opacity="0.45"/>
<circle cx="239.65" cy="58.85" r="0.3" fill="#a8a8c0" fill-opacity="0.45"/>
<circle cx="251.81" cy="45.68" r="0.3" fill="#a8a8c0" fill-opacity="0.45"/>
<circle cx="247.56" cy="42.29" r="0.3" fill="#a8a8c0" fill-opacity="0.45"/>
<circle cx="232.94" cy="47.41" r="0.3" fill="#a8a8c0" fill-opacity="0.45"/>
<circle cx="233.46" cy="51.96" r="0.3" fill="#a8a8c0" fill-opacity="0.45"/>
<circle cx="238.73" cy="50.61" r="0.3" fill="#a8a8c0" fill-opacity="0.45"/>
<circle cx="236.1" cy="64.84" r="0.3" fill="#a8a8c0" fill-opacity="0.45"/>
<circle cx="246.06" cy="38.35" r="0.3" fill="#a8a8c0" fill-opacity="0.45"/>
<circle cx="241.05" cy="46.91" r="0.3" fill="#a8a8c0" fill-opacity="0.45"/>
<circle cx="236.92" cy="46.2" r="0.3" fill="#a8a8c0" fill-opacity="0.45"/>
<circle cx="233.06" cy="45.71" r="0.3" fill="#a8a8c0" fill-opacity="0.45"/>
<circle cx="237.17" cy="47.26" r="0.3" fill="#a8a8c0" fill-opacity="0.45"/>
</g>
<text x="266" y="24.5" font-size="5.2" fill="#222" text-anchor="end" font-family="Liberation Serif" stroke="#222" stroke-width="0.15">60'</text>
<text x="262.5" y="74.8" font-size="6.6" fill="#222" text-anchor="end" textLength="11.8" lengthAdjust="spacingAndGlyphs" font-family="Liberation Serif" stroke="#222" stroke-width="0.15">6.28</text>
<rect x="12.3" y="82.8" width="61" height="57.8" fill="#fff" stroke="#606060" stroke-width="1.1"/>
<line x1="10.1" y1="140.6" x2="12.3" y2="140.6" stroke="#777" stroke-width="0.5"/>
<line x1="11" y1="134.8" x2="12.3" y2="134.8" stroke="#777" stroke-width="0.5"/>
<line x1="11" y1="129" x2="12.3" y2="129" stroke="#777" stroke-width="0.5"/>
<line x1="11" y1="123.2" x2="12.3" y2="123.2" stroke="#777" stroke-width="0.5"/>
<line x1="10.1" y1="117.4" x2="12.3" y2="117.4" stroke="#777" stroke-width="0.5"/>
<line x1="11" y1="111.6" x2="12.3" y2="111.6" stroke="#777" stroke-width="0.5"/>
<line x1="11" y1="105.8" x2="12.3" y2="105.8" stroke="#777" stroke-width="0.5"/>
<line x1="11" y1="100" x2="12.3" y2="100" stroke="#777" stroke-width="0.5"/>
<line x1="10.1" y1="94.2" x2="12.3" y2="94.2" stroke="#777" stroke-width="0.5"/>
<line x1="11" y1="88.4" x2="12.3" y2="88.4" stroke="#777" stroke-width="0.5"/>
<line x1="12.3" y1="140.6" x2="12.3" y2="142.8" stroke="#777" stroke-width="0.5"/>
<line x1="18.1" y1="140.6" x2="18.1" y2="141.9" stroke="#777" stroke-width="0.5"/>
<line x1="23.9" y1="140.6" x2="23.9" y2="141.9" stroke="#777" stroke-width="0.5"/>
<line x1="29.7" y1="140.6" x2="29.7" y2="141.9" stroke="#777" stroke-width="0.5"/>
<line x1="35.5" y1="140.6" x2="35.5" y2="142.8" stroke="#777" stroke-width="0.5"/>
<line x1="41.3" y1="140.6" x2="41.3" y2="141.9" stroke="#777" stroke-width="0.5"/>
<line x1="47.1" y1="140.6" x2="47.1" y2="141.9" stroke="#777" stroke-width="0.5"/>
<line x1="52.9" y1="140.6" x2="52.9" y2="141.9" stroke="#777" stroke-width="0.5"/>
<line x1="58.7" y1="140.6" x2="58.7" y2="142.8" stroke="#777" stroke-width="0.5"/>
<line x1="64.5" y1="140.6" x2="64.5" y2="141.9" stroke="#777" stroke-width="0.5"/>
<line x1="70.3" y1="140.6" x2="70.3" y2="141.9" stroke="#777" stroke-width="0.5"/>
<g filter="url(#b03)">
<circle cx="58.46" cy="106.07" r="0.3" fill="#b8b8c8" fill-opacity="0.45"/>
<circle cx="24.45" cy="90.89" r="0.3" fill="#b8b8c8" fill-opacity="0.45"/>
<circle cx="59.74" cy="114.39" r="0.3" fill="#b8b8c8" fill-opacity="0.45"/>
<circle cx="26.78" cy="110.3" r="0.3" fill="#b8b8c8" fill-opacity="0.45"/>
<circle cx="63.81" cy="100.58" r="0.3" fill="#b8b8c8" fill-opacity="0.45"/>
<circle cx="46.44" cy="96.99" r="0.3" fill="#b8b8c8" fill-opacity="0.45"/>
<circle cx="26.49" cy="125.32" r="0.3" fill="#b8b8c8" fill-opacity="0.45"/>
<circle cx="53.59" cy="99.61" r="0.3" fill="#b8b8c8" fill-opacity="0.45"/>
<circle cx="21.34" cy="94.72" r="0.3" fill="#b8b8c8" fill-opacity="0.45"/>
<circle cx="48.34" cy="113" r="0.3" fill="#b8b8c8" fill-opacity="0.45"/>
<circle cx="31.27" cy="100.03" r="0.3" fill="#b8b8c8" fill-opacity="0.45"/>
<circle cx="48.53" cy="122.51" r="0.3" fill="#b8b8c8" fill-opacity="0.45"/>
<circle cx="58.69" cy="116.92" r="0.3" fill="#b8b8c8" fill-opacity="0.45"/>
<circle cx="27.62" cy="93.74" r="0.3" fill="#b8b8c8" fill-opacity="0.45"/>
<ellipse cx="23.4" cy="127.8" rx="3" ry="1" transform="rotate(-25 23.4 127.8)" fill="#505050" fill-opacity="0.48" filter="url(#b05)"/>
<circle cx="22.96" cy="127.33" r="0.35" fill="#333" fill-opacity="0.48"/>
<circle cx="23.22" cy="127.66" r="0.35" fill="#333" fill-opacity="0.48"/>
<circle cx="23.74" cy="127.09" r="0.35" fill="#333" fill-opacity="0.48"/>
<circle cx="24.76" cy="126.06" r="0.35" fill="#333" fill-opacity="0.48"/>
<circle cx="23.11" cy="127.94" r="0.35" fill="#333" fill-opacity="0.48"/>
<circle cx="24.81" cy="126.74" r="0.35" fill="#333" fill-opacity="0.48"/>
<circle cx="24.15" cy="127.08" r="0.35" fill="#333" fill-opacity="0.48"/>
<circle cx="25.04" cy="128.18" r="0.35" fill="#333" fill-opacity="0.48"/>
<circle cx="22.86" cy="128.35" r="0.35" fill="#333" fill-opacity="0.48"/>
<circle cx="22.13" cy="129.03" r="0.35" fill="#333" fill-opacity="0.48"/>
<circle cx="25.38" cy="126.9" r="0.35" fill="#333" fill-opacity="0.48"/>
<circle cx="21.65" cy="128.88" r="0.35" fill="#333" fill-opacity="0.48"/>
<circle cx="25.55" cy="127.52" r="0.35" fill="#333" fill-opacity="0.48"/>
<circle cx="24.26" cy="126.19" r="0.35" fill="#333" fill-opacity="0.48"/>
<circle cx="27.53" cy="128.29" r="0.3" fill="#999" fill-opacity="0.5"/>
<circle cx="25.81" cy="129.27" r="0.3" fill="#999" fill-opacity="0.5"/>
<circle cx="33.03" cy="121.11" r="0.3" fill="#999" fill-opacity="0.5"/>
<circle cx="29.75" cy="121.6" r="0.3" fill="#999" fill-opacity="0.5"/>
<circle cx="24.24" cy="127.7" r="0.3" fill="#999" fill-opacity="0.5"/>
<circle cx="26.85" cy="125.23" r="0.3" fill="#999" fill-opacity="0.5"/>
<circle cx="28.94" cy="122.89" r="0.3" fill="#999" fill-opacity="0.5"/>
<circle cx="28.41" cy="124.87" r="0.3" fill="#999" fill-opacity="0.5"/>
<circle cx="29.73" cy="127.16" r="0.3" fill="#999" fill-opacity="0.5"/>
<circle cx="28.6" cy="123.81" r="0.3" fill="#999" fill-opacity="0.5"/>
<ellipse cx="32.5" cy="116.5" rx="5.5" ry="3.2" transform="rotate(-52 32.5 116.5)" fill="#5c90d0" fill-opacity="0.72" filter="url(#b1)"/>
<circle cx="31" cy="117.03" r="0.38" fill="#4a80c8" fill-opacity="0.5"/>
<circle cx="34.9" cy="113.82" r="0.38" fill="#4a80c8" fill-opacity="0.5"/>
<circle cx="29.26" cy="119.21" r="0.38" fill="#4a80c8" fill-opacity="0.5"/>
<circle cx="31.31" cy="116.99" r="0.38" fill="#4a80c8" fill-opacity="0.5"/>
<circle cx="33.16" cy="113.45" r="0.38" fill="#4a80c8" fill-opacity="0.5"/>
<circle cx="33.14" cy="115.9" r="0.38" fill="#4a80c8" fill-opacity="0.5"/>
<circle cx="29.62" cy="119.92" r="0.38" fill="#4a80c8" fill-opacity="0.5"/>
<circle cx="32.27" cy="117.62" r="0.38" fill="#4a80c8" fill-opacity="0.5"/>
<circle cx="31.35" cy="118.34" r="0.38" fill="#4a80c8" fill-opacity="0.5"/>
<circle cx="27.58" cy="120.25" r="0.38" fill="#4a80c8" fill-opacity="0.5"/>
<circle cx="34.57" cy="115.88" r="0.38" fill="#4a80c8" fill-opacity="0.5"/>
<circle cx="31.42" cy="116.57" r="0.38" fill="#4a80c8" fill-opacity="0.5"/>
<circle cx="32.3" cy="112.73" r="0.38" fill="#4a80c8" fill-opacity="0.5"/>
<circle cx="30.97" cy="119.48" r="0.38" fill="#4a80c8" fill-opacity="0.5"/>
<circle cx="32.39" cy="114.6" r="0.38" fill="#4a80c8" fill-opacity="0.5"/>
<circle cx="29.45" cy="122.75" r="0.38" fill="#4a80c8" fill-opacity="0.5"/>
<circle cx="31.49" cy="115.93" r="0.38" fill="#4a80c8" fill-opacity="0.5"/>
<circle cx="32.94" cy="117.56" r="0.38" fill="#4a80c8" fill-opacity="0.5"/>
<circle cx="27.69" cy="124.21" r="0.38" fill="#4a80c8" fill-opacity="0.5"/>
<circle cx="31.61" cy="113.58" r="0.38" fill="#4a80c8" fill-opacity="0.5"/>
<circle cx="31.95" cy="113.74" r="0.38" fill="#4a80c8" fill-opacity="0.5"/>
<circle cx="34.71" cy="114.51" r="0.38" fill="#4a80c8" fill-opacity="0.5"/>
<circle cx="36.07" cy="111.01" r="0.38" fill="#4a80c8" fill-opacity="0.5"/>
<circle cx="32.97" cy="117.8" r="0.38" fill="#4a80c8" fill-opacity="0.5"/>
<circle cx="30.04" cy="118.02" r="0.38" fill="#4a80c8" fill-opacity="0.5"/>
<circle cx="31.17" cy="117.86" r="0.38" fill="#4a80c8" fill-opacity="0.5"/>
<circle cx="30.22" cy="120.03" r="0.38" fill="#4a80c8" fill-opacity="0.5"/>
<circle cx="33.18" cy="115.72" r="0.38" fill="#4a80c8" fill-opacity="0.5"/>
<circle cx="35.2" cy="112.58" r="0.38" fill="#4a80c8" fill-opacity="0.5"/>
<circle cx="34.19" cy="113.38" r="0.38" fill="#4a80c8" fill-opacity="0.5"/>
<circle cx="31.78" cy="113.65" r="0.38" fill="#4a80c8" fill-opacity="0.5"/>
<circle cx="32.25" cy="116.38" r="0.38" fill="#4a80c8" fill-opacity="0.5"/>
<circle cx="30.42" cy="117.74" r="0.38" fill="#4a80c8" fill-opacity="0.5"/>
<circle cx="30.62" cy="117.3" r="0.38" fill="#4a80c8" fill-opacity="0.5"/>
<circle cx="26.94" cy="121.92" r="0.38" fill="#4a80c8" fill-opacity="0.5"/>
<circle cx="30.39" cy="117.94" r="0.38" fill="#4a80c8" fill-opacity="0.5"/>
<circle cx="29.7" cy="119.49" r="0.38" fill="#4a80c8" fill-opacity="0.5"/>
<circle cx="33.38" cy="114.88" r="0.38" fill="#4a80c8" fill-opacity="0.5"/>
<circle cx="32.23" cy="119.25" r="0.38" fill="#4a80c8" fill-opacity="0.5"/>
<circle cx="34.86" cy="115.32" r="0.38" fill="#4a80c8" fill-opacity="0.5"/>
<circle cx="37.43" cy="109.58" r="0.35" fill="#a8c8ec" fill-opacity="0.55"/>
<circle cx="35.76" cy="117.41" r="0.35" fill="#a8c8ec" fill-opacity="0.55"/>
<circle cx="31.8" cy="117.13" r="0.35" fill="#a8c8ec" fill-opacity="0.55"/>
<circle cx="36.08" cy="114.03" r="0.35" fill="#a8c8ec" fill-opacity="0.55"/>
<circle cx="34.98" cy="117.81" r="0.35" fill="#a8c8ec" fill-opacity="0.55"/>
<circle cx="34.82" cy="116.96" r="0.35" fill="#a8c8ec" fill-opacity="0.55"/>
<circle cx="39.1" cy="111.59" r="0.35" fill="#a8c8ec" fill-opacity="0.55"/>
<circle cx="34.28" cy="109.97" r="0.35" fill="#a8c8ec" fill-opacity="0.55"/>
<circle cx="28.13" cy="119.49" r="0.35" fill="#a8c8ec" fill-opacity="0.55"/>
<circle cx="38.67" cy="115.51" r="0.35" fill="#a8c8ec" fill-opacity="0.55"/>
<circle cx="30.29" cy="120.66" r="0.35" fill="#a8c8ec" fill-opacity="0.55"/>
<circle cx="29.52" cy="117.37" r="0.35" fill="#a8c8ec" fill-opacity="0.55"/>
<circle cx="34.4" cy="117.32" r="0.35" fill="#a8c8ec" fill-opacity="0.55"/>
<circle cx="37.1" cy="116.07" r="0.35" fill="#a8c8ec" fill-opacity="0.55"/>
<circle cx="32.29" cy="120.64" r="0.35" fill="#a8c8ec" fill-opacity="0.55"/>
<circle cx="37.43" cy="111.2" r="0.35" fill="#a8c8ec" fill-opacity="0.55"/>
<circle cx="34.57" cy="112.05" r="0.35" fill="#a8c8ec" fill-opacity="0.55"/>
<circle cx="29.34" cy="118.91" r="0.35" fill="#a8c8ec" fill-opacity="0.55"/>
<circle cx="37.48" cy="122.54" r="0.35" fill="#a8c8ec" fill-opacity="0.55"/>
<circle cx="35.57" cy="119.8" r="0.35" fill="#a8c8ec" fill-opacity="0.55"/>
<circle cx="35.34" cy="114.67" r="0.35" fill="#a8c8ec" fill-opacity="0.55"/>
<circle cx="35.08" cy="110.57" r="0.35" fill="#a8c8ec" fill-opacity="0.55"/>
<circle cx="37.99" cy="111.77" r="0.35" fill="#a8c8ec" fill-opacity="0.55"/>
<circle cx="29.84" cy="122.39" r="0.35" fill="#a8c8ec" fill-opacity="0.55"/>
<circle cx="36.86" cy="113.43" r="0.35" fill="#a8c8ec" fill-opacity="0.55"/>
<circle cx="38.78" cy="107.63" r="0.35" fill="#a8c8ec" fill-opacity="0.55"/>
<circle cx="37.3" cy="114.09" r="0.35" fill="#a8c8ec" fill-opacity="0.55"/>
<circle cx="33.21" cy="120.8" r="0.35" fill="#a8c8ec" fill-opacity="0.55"/>
<circle cx="26.28" cy="118.94" r="0.35" fill="#a8c8ec" fill-opacity="0.55"/>
<circle cx="33.68" cy="110.98" r="0.35" fill="#a8c8ec" fill-opacity="0.55"/>
<ellipse cx="45.6" cy="109.2" rx="6.16" ry="6.16" transform="rotate(-10 45.6 109.2)" fill="#ec9c58" fill-opacity="0.851" filter="url(#b1)"/>
<circle cx="44.26" cy="103.82" r="0.38" fill="#e48a40" fill-opacity="0.4"/>
<circle cx="45.17" cy="105.41" r="0.38" fill="#e48a40" fill-opacity="0.4"/>
<circle cx="45.84" cy="103.93" r="0.38" fill="#e48a40" fill-opacity="0.4"/>
<circle cx="46.93" cy="108.06" r="0.38" fill="#e48a40" fill-opacity="0.4"/>
<circle cx="45.77" cy="108.94" r="0.38" fill="#e48a40" fill-opacity="0.4"/>
<circle cx="45.26" cy="104.75" r="0.38" fill="#e48a40" fill-opacity="0.4"/>
<circle cx="37.13" cy="110.81" r="0.38" fill="#e48a40" fill-opacity="0.4"/>
<circle cx="42.24" cy="108.24" r="0.38" fill="#e48a40" fill-opacity="0.4"/>
<circle cx="45.85" cy="102.38" r="0.38" fill="#e48a40" fill-opacity="0.4"/>
<circle cx="42.72" cy="107.63" r="0.38" fill="#e48a40" fill-opacity="0.4"/>
<circle cx="42.29" cy="110.9" r="0.38" fill="#e48a40" fill-opacity="0.4"/>
<circle cx="44.66" cy="106.57" r="0.38" fill="#e48a40" fill-opacity="0.4"/>
<circle cx="42.81" cy="112.45" r="0.38" fill="#e48a40" fill-opacity="0.4"/>
<circle cx="43.76" cy="111.52" r="0.38" fill="#e48a40" fill-opacity="0.4"/>
<circle cx="45.98" cy="102.67" r="0.38" fill="#e48a40" fill-opacity="0.4"/>
<circle cx="42.02" cy="109.84" r="0.38" fill="#e48a40" fill-opacity="0.4"/>
<circle cx="47.19" cy="111.58" r="0.38" fill="#e48a40" fill-opacity="0.4"/>
<circle cx="48.86" cy="112.15" r="0.38" fill="#e48a40" fill-opacity="0.4"/>
<circle cx="44.24" cy="108.72" r="0.38" fill="#e48a40" fill-opacity="0.4"/>
<circle cx="47.92" cy="107.34" r="0.38" fill="#e48a40" fill-opacity="0.4"/>
<circle cx="48.17" cy="103.32" r="0.38" fill="#e48a40" fill-opacity="0.4"/>
<circle cx="47.66" cy="108.25" r="0.38" fill="#e48a40" fill-opacity="0.4"/>
<circle cx="39.66" cy="113.59" r="0.38" fill="#e48a40" fill-opacity="0.4"/>
<circle cx="46.64" cy="109.09" r="0.38" fill="#e48a40" fill-opacity="0.4"/>
<circle cx="41.77" cy="108.29" r="0.38" fill="#e48a40" fill-opacity="0.4"/>
<circle cx="50.12" cy="105.58" r="0.38" fill="#e48a40" fill-opacity="0.4"/>
<circle cx="33.61" cy="108.39" r="0.38" fill="#e48a40" fill-opacity="0.4"/>
<circle cx="41.55" cy="109.46" r="0.38" fill="#e48a40" fill-opacity="0.4"/>
<circle cx="43.77" cy="106.41" r="0.38" fill="#e48a40" fill-opacity="0.4"/>
<circle cx="43.43" cy="113.16" r="0.38" fill="#e48a40" fill-opacity="0.4"/>
<circle cx="41.97" cy="116.52" r="0.38" fill="#e48a40" fill-opacity="0.4"/>
<circle cx="43.16" cy="105.9" r="0.38" fill="#e48a40" fill-opacity="0.4"/>
<circle cx="48.53" cy="110.61" r="0.38" fill="#e48a40" fill-opacity="0.4"/>
<circle cx="42.59" cy="112.29" r="0.38" fill="#e48a40" fill-opacity="0.4"/>
<circle cx="38.97" cy="107.22" r="0.38" fill="#e48a40" fill-opacity="0.4"/>
<circle cx="49.18" cy="107.7" r="0.38" fill="#e48a40" fill-opacity="0.4"/>
<circle cx="41.59" cy="111.66" r="0.38" fill="#e48a40" fill-opacity="0.4"/>
<circle cx="48.62" cy="108.59" r="0.38" fill="#e48a40" fill-opacity="0.4"/>
<circle cx="39.42" cy="109.11" r="0.38" fill="#e48a40" fill-opacity="0.4"/>
<circle cx="47.43" cy="111.5" r="0.38" fill="#e48a40" fill-opacity="0.4"/>
<circle cx="51.58" cy="107.28" r="0.38" fill="#e48a40" fill-opacity="0.4"/>
<circle cx="43.98" cy="109.35" r="0.38" fill="#e48a40" fill-opacity="0.4"/>
<circle cx="49.04" cy="105.38" r="0.38" fill="#e48a40" fill-opacity="0.4"/>
<circle cx="48.32" cy="99.34" r="0.38" fill="#e48a40" fill-opacity="0.4"/>
<circle cx="47.84" cy="106.5" r="0.38" fill="#e48a40" fill-opacity="0.4"/>
<circle cx="47.52" cy="111.21" r="0.38" fill="#e48a40" fill-opacity="0.4"/>
<circle cx="41.64" cy="109.6" r="0.38" fill="#e48a40" fill-opacity="0.4"/>
<circle cx="46.74" cy="111" r="0.38" fill="#e48a40" fill-opacity="0.4"/>
<circle cx="41.94" cy="106.46" r="0.38" fill="#e48a40" fill-opacity="0.4"/>
<circle cx="40.72" cy="118.73" r="0.38" fill="#e48a40" fill-opacity="0.4"/>
<circle cx="44.83" cy="108.58" r="0.38" fill="#e48a40" fill-opacity="0.4"/>
<circle cx="41.2" cy="113.15" r="0.38" fill="#e48a40" fill-opacity="0.4"/>
<circle cx="44.67" cy="114.26" r="0.38" fill="#e48a40" fill-opacity="0.4"/>
<circle cx="48.43" cy="108.77" r="0.38" fill="#e48a40" fill-opacity="0.4"/>
<circle cx="47.36" cy="105.1" r="0.38" fill="#e48a40" fill-opacity="0.4"/>
<circle cx="44.19" cy="107.48" r="0.38" fill="#e48a40" fill-opacity="0.4"/>
<circle cx="41.41" cy="110" r="0.38" fill="#e48a40" fill-opacity="0.4"/>
<circle cx="45.96" cy="114.03" r="0.38" fill="#e48a40" fill-opacity="0.4"/>
<circle cx="34.11" cy="108.93" r="0.38" fill="#e48a40" fill-opacity="0.4"/>
<circle cx="42.29" cy="108.2" r="0.38" fill="#e48a40" fill-opacity="0.4"/>
<circle cx="47.23" cy="110.29" r="0.38" fill="#e48a40" fill-opacity="0.4"/>
<circle cx="45.42" cy="107.61" r="0.38" fill="#e48a40" fill-opacity="0.4"/>
<circle cx="48.37" cy="110.55" r="0.35" fill="#f4c090" fill-opacity="0.55"/>
<circle cx="36.22" cy="109.51" r="0.35" fill="#f4c090" fill-opacity="0.55"/>
<circle cx="37.74" cy="104.54" r="0.35" fill="#f4c090" fill-opacity="0.55"/>
<circle cx="46.38" cy="109.37" r="0.35" fill="#f4c090" fill-opacity="0.55"/>
<circle cx="45.4" cy="104.75" r="0.35" fill="#f4c090" fill-opacity="0.55"/>
<circle cx="43.8" cy="104.85" r="0.35" fill="#f4c090" fill-opacity="0.55"/>
<circle cx="48.1" cy="112.28" r="0.35" fill="#f4c090" fill-opacity="0.55"/>
<circle cx="55.42" cy="113.95" r="0.35" fill="#f4c090" fill-opacity="0.55"/>
<circle cx="41.2" cy="107.63" r="0.35" fill="#f4c090" fill-opacity="0.55"/>
<circle cx="41.21" cy="111.54" r="0.35" fill="#f4c090" fill-opacity="0.55"/>
<circle cx="56.05" cy="110.98" r="0.35" fill="#f4c090" fill-opacity="0.55"/>
<circle cx="33.58" cy="104.88" r="0.35" fill="#f4c090" fill-opacity="0.55"/>
<circle cx="39.64" cy="112.89" r="0.35" fill="#f4c090" fill-opacity="0.55"/>
<circle cx="45.87" cy="110.69" r="0.35" fill="#f4c090" fill-opacity="0.55"/>
<circle cx="53.72" cy="103.54" r="0.35" fill="#f4c090" fill-opacity="0.55"/>
<circle cx="43.11" cy="119.7" r="0.35" fill="#f4c090" fill-opacity="0.55"/>
<circle cx="46.62" cy="105.03" r="0.35" fill="#f4c090" fill-opacity="0.55"/>
<circle cx="34.2" cy="103.41" r="0.35" fill="#f4c090" fill-opacity="0.55"/>
<circle cx="33.53" cy="111.68" r="0.35" fill="#f4c090" fill-opacity="0.55"/>
<circle cx="46.69" cy="114.09" r="0.35" fill="#f4c090" fill-opacity="0.55"/>
<circle cx="44.3" cy="105.88" r="0.35" fill="#f4c090" fill-opacity="0.55"/>
<circle cx="43.59" cy="119.29" r="0.35" fill="#f4c090" fill-opacity="0.55"/>
<circle cx="36.99" cy="111.61" r="0.35" fill="#f4c090" fill-opacity="0.55"/>
<circle cx="46.27" cy="112.24" r="0.35" fill="#f4c090" fill-opacity="0.55"/>
<circle cx="44.03" cy="112.03" r="0.35" fill="#f4c090" fill-opacity="0.55"/>
<ellipse cx="35.6" cy="102.6" rx="5" ry="4" transform="rotate(0 35.6 102.6)" fill="#9898cc" fill-opacity="0.26599999999999996" filter="url(#b1)"/>
<ellipse cx="35.6" cy="103.2" rx="1.8" ry="1.5" transform="rotate(0 35.6 103.2)" fill="#404080" fill-opacity="0.315" filter="url(#b05)"/>
<circle cx="36.99" cy="103.19" r="0.38" fill="#34346e" fill-opacity="0.65"/>
<circle cx="34.82" cy="103.14" r="0.38" fill="#34346e" fill-opacity="0.65"/>
<circle cx="33.96" cy="103.11" r="0.38" fill="#34346e" fill-opacity="0.65"/>
<circle cx="35.09" cy="103.69" r="0.38" fill="#34346e" fill-opacity="0.65"/>
<circle cx="37.87" cy="105.23" r="0.38" fill="#34346e" fill-opacity="0.65"/>
<circle cx="34.84" cy="104.24" r="0.38" fill="#34346e" fill-opacity="0.65"/>
<circle cx="36.1" cy="104.47" r="0.38" fill="#34346e" fill-opacity="0.65"/>
<circle cx="35.64" cy="103.77" r="0.38" fill="#34346e" fill-opacity="0.65"/>
<circle cx="34.8" cy="102.3" r="0.38" fill="#34346e" fill-opacity="0.65"/>
<circle cx="37.08" cy="105.22" r="0.38" fill="#34346e" fill-opacity="0.65"/>
<circle cx="36.73" cy="104.01" r="0.38" fill="#34346e" fill-opacity="0.65"/>
<circle cx="36.05" cy="102.77" r="0.38" fill="#34346e" fill-opacity="0.65"/>
<circle cx="32.57" cy="104.33" r="0.38" fill="#34346e" fill-opacity="0.65"/>
<circle cx="35.94" cy="102.62" r="0.38" fill="#34346e" fill-opacity="0.65"/>
<circle cx="33.96" cy="105.19" r="0.38" fill="#34346e" fill-opacity="0.65"/>
<circle cx="32.53" cy="105.87" r="0.38" fill="#34346e" fill-opacity="0.65"/>
<circle cx="36.69" cy="106.72" r="0.38" fill="#34346e" fill-opacity="0.65"/>
<circle cx="34.38" cy="103.37" r="0.38" fill="#34346e" fill-opacity="0.65"/>
<circle cx="34.74" cy="103.62" r="0.38" fill="#34346e" fill-opacity="0.65"/>
<circle cx="35.24" cy="102.35" r="0.38" fill="#34346e" fill-opacity="0.65"/>
<circle cx="37.43" cy="102.3" r="0.38" fill="#34346e" fill-opacity="0.65"/>
<circle cx="34.27" cy="104.65" r="0.35" fill="#8080c0" fill-opacity="0.5"/>
<circle cx="34.16" cy="101.88" r="0.35" fill="#8080c0" fill-opacity="0.5"/>
<circle cx="37.38" cy="102.07" r="0.35" fill="#8080c0" fill-opacity="0.5"/>
<circle cx="31.61" cy="102.81" r="0.35" fill="#8080c0" fill-opacity="0.5"/>
<circle cx="35.31" cy="107.87" r="0.35" fill="#8080c0" fill-opacity="0.5"/>
<circle cx="32.15" cy="105.81" r="0.35" fill="#8080c0" fill-opacity="0.5"/>
<circle cx="33.27" cy="102.1" r="0.35" fill="#8080c0" fill-opacity="0.5"/>
<circle cx="34.92" cy="103.86" r="0.35" fill="#8080c0" fill-opacity="0.5"/>
<circle cx="39.21" cy="108" r="0.35" fill="#8080c0" fill-opacity="0.5"/>
<circle cx="33.81" cy="106.82" r="0.35" fill="#8080c0" fill-opacity="0.5"/>
<circle cx="39.68" cy="105.38" r="0.35" fill="#8080c0" fill-opacity="0.5"/>
<circle cx="33.37" cy="105.62" r="0.35" fill="#8080c0" fill-opacity="0.5"/>
<circle cx="35.71" cy="104.09" r="0.35" fill="#8080c0" fill-opacity="0.5"/>
<circle cx="35.13" cy="104.96" r="0.35" fill="#8080c0" fill-opacity="0.5"/>
<circle cx="40.11" cy="106.27" r="0.35" fill="#8080c0" fill-opacity="0.5"/>
<circle cx="35.36" cy="105.89" r="0.35" fill="#8080c0" fill-opacity="0.5"/>
<circle cx="41.33" cy="100.48" r="0.35" fill="#8080c0" fill-opacity="0.5"/>
<circle cx="41.4" cy="99.36" r="0.35" fill="#8080c0" fill-opacity="0.5"/>
<circle cx="38.05" cy="104.76" r="0.35" fill="#8080c0" fill-opacity="0.5"/>
<circle cx="41.44" cy="103.88" r="0.35" fill="#8080c0" fill-opacity="0.5"/>
<circle cx="34.37" cy="100.87" r="0.35" fill="#8080c0" fill-opacity="0.5"/>
<circle cx="38" cy="119.62" r="0.3" fill="#a8a8c0" fill-opacity="0.45"/>
<circle cx="37.06" cy="110.07" r="0.3" fill="#a8a8c0" fill-opacity="0.45"/>
<circle cx="40.15" cy="106.64" r="0.3" fill="#a8a8c0" fill-opacity="0.45"/>
<circle cx="37.13" cy="111.83" r="0.3" fill="#a8a8c0" fill-opacity="0.45"/>
<circle cx="52.79" cy="109.75" r="0.3" fill="#a8a8c0" fill-opacity="0.45"/>
<circle cx="34.37" cy="106.72" r="0.3" fill="#a8a8c0" fill-opacity="0.45"/>
<circle cx="42.03" cy="110.68" r="0.3" fill="#a8a8c0" fill-opacity="0.45"/>
<circle cx="44.08" cy="112.12" r="0.3" fill="#a8a8c0" fill-opacity="0.45"/>
<circle cx="42.51" cy="116.23" r="0.3" fill="#a8a8c0" fill-opacity="0.45"/>
<circle cx="44.9" cy="108.79" r="0.3" fill="#a8a8c0" fill-opacity="0.45"/>
<circle cx="37.18" cy="111.62" r="0.3" fill="#a8a8c0" fill-opacity="0.45"/>
<circle cx="39.65" cy="104.77" r="0.3" fill="#a8a8c0" fill-opacity="0.45"/>
<circle cx="37.27" cy="109.63" r="0.3" fill="#a8a8c0" fill-opacity="0.45"/>
<circle cx="36.82" cy="119.65" r="0.3" fill="#a8a8c0" fill-opacity="0.45"/>
<circle cx="40.62" cy="111.84" r="0.3" fill="#a8a8c0" fill-opacity="0.45"/>
<circle cx="39.03" cy="102.61" r="0.3" fill="#a8a8c0" fill-opacity="0.45"/>
<circle cx="41.34" cy="112.91" r="0.3" fill="#a8a8c0" fill-opacity="0.45"/>
<circle cx="40.3" cy="104.23" r="0.3" fill="#a8a8c0" fill-opacity="0.45"/>
</g>
<text x="70.7" y="87.8" font-size="5.2" fill="#222" text-anchor="end" font-family="Liberation Serif" stroke="#222" stroke-width="0.15">90'</text>
<text x="67" y="136.2" font-size="6.6" fill="#222" text-anchor="end" textLength="11.8" lengthAdjust="spacingAndGlyphs" font-family="Liberation Serif" stroke="#222" stroke-width="0.15">7.52</text>
<rect x="77.3" y="82.8" width="61" height="57.8" fill="#fff" stroke="#606060" stroke-width="1.1"/>
<line x1="75.1" y1="140.6" x2="77.3" y2="140.6" stroke="#777" stroke-width="0.5"/>
<line x1="76" y1="134.8" x2="77.3" y2="134.8" stroke="#777" stroke-width="0.5"/>
<line x1="76" y1="129" x2="77.3" y2="129" stroke="#777" stroke-width="0.5"/>
<line x1="76" y1="123.2" x2="77.3" y2="123.2" stroke="#777" stroke-width="0.5"/>
<line x1="75.1" y1="117.4" x2="77.3" y2="117.4" stroke="#777" stroke-width="0.5"/>
<line x1="76" y1="111.6" x2="77.3" y2="111.6" stroke="#777" stroke-width="0.5"/>
<line x1="76" y1="105.8" x2="77.3" y2="105.8" stroke="#777" stroke-width="0.5"/>
<line x1="76" y1="100" x2="77.3" y2="100" stroke="#777" stroke-width="0.5"/>
<line x1="75.1" y1="94.2" x2="77.3" y2="94.2" stroke="#777" stroke-width="0.5"/>
<line x1="76" y1="88.4" x2="77.3" y2="88.4" stroke="#777" stroke-width="0.5"/>
<line x1="77.3" y1="140.6" x2="77.3" y2="142.8" stroke="#777" stroke-width="0.5"/>
<line x1="83.1" y1="140.6" x2="83.1" y2="141.9" stroke="#777" stroke-width="0.5"/>
<line x1="88.9" y1="140.6" x2="88.9" y2="141.9" stroke="#777" stroke-width="0.5"/>
<line x1="94.7" y1="140.6" x2="94.7" y2="141.9" stroke="#777" stroke-width="0.5"/>
<line x1="100.5" y1="140.6" x2="100.5" y2="142.8" stroke="#777" stroke-width="0.5"/>
<line x1="106.3" y1="140.6" x2="106.3" y2="141.9" stroke="#777" stroke-width="0.5"/>
<line x1="112.1" y1="140.6" x2="112.1" y2="141.9" stroke="#777" stroke-width="0.5"/>
<line x1="117.9" y1="140.6" x2="117.9" y2="141.9" stroke="#777" stroke-width="0.5"/>
<line x1="123.7" y1="140.6" x2="123.7" y2="142.8" stroke="#777" stroke-width="0.5"/>
<line x1="129.5" y1="140.6" x2="129.5" y2="141.9" stroke="#777" stroke-width="0.5"/>
<line x1="135.3" y1="140.6" x2="135.3" y2="141.9" stroke="#777" stroke-width="0.5"/>
<g filter="url(#b03)">
<circle cx="84.71" cy="101.75" r="0.3" fill="#b8b8c8" fill-opacity="0.45"/>
<circle cx="87.97" cy="126.26" r="0.3" fill="#b8b8c8" fill-opacity="0.45"/>
<circle cx="93.02" cy="131.77" r="0.3" fill="#b8b8c8" fill-opacity="0.45"/>
<circle cx="120.53" cy="94.66" r="0.3" fill="#b8b8c8" fill-opacity="0.45"/>
<circle cx="117.73" cy="108.43" r="0.3" fill="#b8b8c8" fill-opacity="0.45"/>
<circle cx="120.43" cy="127.93" r="0.3" fill="#b8b8c8" fill-opacity="0.45"/>
<circle cx="96.64" cy="94.83" r="0.3" fill="#b8b8c8" fill-opacity="0.45"/>
<circle cx="130.56" cy="109.79" r="0.3" fill="#b8b8c8" fill-opacity="0.45"/>
<circle cx="129.74" cy="121.78" r="0.3" fill="#b8b8c8" fill-opacity="0.45"/>
<circle cx="119.97" cy="127.98" r="0.3" fill="#b8b8c8" fill-opacity="0.45"/>
<circle cx="114.33" cy="111.08" r="0.3" fill="#b8b8c8" fill-opacity="0.45"/>
<circle cx="85.07" cy="122.08" r="0.3" fill="#b8b8c8" fill-opacity="0.45"/>
<circle cx="104.15" cy="113.73" r="0.3" fill="#b8b8c8" fill-opacity="0.45"/>
<circle cx="129.63" cy="96.52" r="0.3" fill="#b8b8c8" fill-opacity="0.45"/>
<ellipse cx="91" cy="128.5" rx="3" ry="1" transform="rotate(-25 91 128.5)" fill="#505050" fill-opacity="0.36" filter="url(#b05)"/>
<circle cx="90.96" cy="128.32" r="0.35" fill="#333" fill-opacity="0.36"/>
<circle cx="89.7" cy="127.96" r="0.35" fill="#333" fill-opacity="0.36"/>
<circle cx="91.17" cy="129.25" r="0.35" fill="#333" fill-opacity="0.36"/>
<circle cx="93.21" cy="127.29" r="0.35" fill="#333" fill-opacity="0.36"/>
<circle cx="89.76" cy="128.94" r="0.35" fill="#333" fill-opacity="0.36"/>
<circle cx="92.52" cy="128.02" r="0.35" fill="#333" fill-opacity="0.36"/>
<circle cx="90.16" cy="129.13" r="0.35" fill="#333" fill-opacity="0.36"/>
<circle cx="90.8" cy="128.93" r="0.35" fill="#333" fill-opacity="0.36"/>
<circle cx="89.99" cy="128.02" r="0.35" fill="#333" fill-opacity="0.36"/>
<circle cx="91.28" cy="128.86" r="0.35" fill="#333" fill-opacity="0.36"/>
<circle cx="89.21" cy="129.26" r="0.35" fill="#333" fill-opacity="0.36"/>
<circle cx="92.3" cy="127.65" r="0.35" fill="#333" fill-opacity="0.36"/>
<circle cx="90.47" cy="130.06" r="0.35" fill="#333" fill-opacity="0.36"/>
<circle cx="92.57" cy="128.43" r="0.35" fill="#333" fill-opacity="0.36"/>
<circle cx="94.74" cy="129.81" r="0.3" fill="#999" fill-opacity="0.5"/>
<circle cx="90.36" cy="128.85" r="0.3" fill="#999" fill-opacity="0.5"/>
<circle cx="98.43" cy="125.37" r="0.3" fill="#999" fill-opacity="0.5"/>
<circle cx="91.94" cy="126.92" r="0.3" fill="#999" fill-opacity="0.5"/>
<circle cx="93.08" cy="122.64" r="0.3" fill="#999" fill-opacity="0.5"/>
<circle cx="97.23" cy="124.65" r="0.3" fill="#999" fill-opacity="0.5"/>
<circle cx="94.59" cy="127.24" r="0.3" fill="#999" fill-opacity="0.5"/>
<circle cx="97.25" cy="124.02" r="0.3" fill="#999" fill-opacity="0.5"/>
<circle cx="98.13" cy="126.12" r="0.3" fill="#999" fill-opacity="0.5"/>
<circle cx="94.05" cy="126.85" r="0.3" fill="#999" fill-opacity="0.5"/>
<ellipse cx="97.3" cy="116.1" rx="6.2" ry="3" transform="rotate(-52 97.3 116.1)" fill="#5c90d0" fill-opacity="0.72" filter="url(#b1)"/>
<circle cx="96.68" cy="118.62" r="0.38" fill="#4a80c8" fill-opacity="0.5"/>
<circle cx="96.41" cy="117.92" r="0.38" fill="#4a80c8" fill-opacity="0.5"/>
<circle cx="97.13" cy="116.32" r="0.38" fill="#4a80c8" fill-opacity="0.5"/>
<circle cx="100.15" cy="112.46" r="0.38" fill="#4a80c8" fill-opacity="0.5"/>
<circle cx="100.36" cy="113.85" r="0.38" fill="#4a80c8" fill-opacity="0.5"/>
<circle cx="99.28" cy="113.34" r="0.38" fill="#4a80c8" fill-opacity="0.5"/>
<circle cx="99.32" cy="114.96" r="0.38" fill="#4a80c8" fill-opacity="0.5"/>
<circle cx="95.82" cy="118.26" r="0.38" fill="#4a80c8" fill-opacity="0.5"/>
<circle cx="96.51" cy="116.88" r="0.38" fill="#4a80c8" fill-opacity="0.5"/>
<circle cx="98.75" cy="112.98" r="0.38" fill="#4a80c8" fill-opacity="0.5"/>
<circle cx="91.91" cy="119.29" r="0.38" fill="#4a80c8" fill-opacity="0.5"/>
<circle cx="95.33" cy="117.19" r="0.38" fill="#4a80c8" fill-opacity="0.5"/>
<circle cx="97.33" cy="116.99" r="0.38" fill="#4a80c8" fill-opacity="0.5"/>
<circle cx="100.57" cy="112.66" r="0.38" fill="#4a80c8" fill-opacity="0.5"/>
<circle cx="97.07" cy="114.96" r="0.38" fill="#4a80c8" fill-opacity="0.5"/>
<circle cx="99.16" cy="116.24" r="0.38" fill="#4a80c8" fill-opacity="0.5"/>
<circle cx="97.73" cy="111.97" r="0.38" fill="#4a80c8" fill-opacity="0.5"/>
<circle cx="99.97" cy="115.67" r="0.38" fill="#4a80c8" fill-opacity="0.5"/>
<circle cx="97.11" cy="113.53" r="0.38" fill="#4a80c8" fill-opacity="0.5"/>
<circle cx="96.71" cy="117.76" r="0.38" fill="#4a80c8" fill-opacity="0.5"/>
<circle cx="96.9" cy="115.02" r="0.38" fill="#4a80c8" fill-opacity="0.5"/>
<circle cx="95.89" cy="119.42" r="0.38" fill="#4a80c8" fill-opacity="0.5"/>
<circle cx="95.43" cy="120.82" r="0.38" fill="#4a80c8" fill-opacity="0.5"/>
<circle cx="97.11" cy="116.78" r="0.38" fill="#4a80c8" fill-opacity="0.5"/>
<circle cx="93.63" cy="119.31" r="0.38" fill="#4a80c8" fill-opacity="0.5"/>
<circle cx="96.86" cy="113.88" r="0.38" fill="#4a80c8" fill-opacity="0.5"/>
<circle cx="99.66" cy="110.67" r="0.38" fill="#4a80c8" fill-opacity="0.5"/>
<circle cx="94.42" cy="119.51" r="0.38" fill="#4a80c8" fill-opacity="0.5"/>
<circle cx="98.4" cy="116.01" r="0.38" fill="#4a80c8" fill-opacity="0.5"/>
<circle cx="95.88" cy="117.32" r="0.38" fill="#4a80c8" fill-opacity="0.5"/>
<circle cx="95.82" cy="116.73" r="0.38" fill="#4a80c8" fill-opacity="0.5"/>
<circle cx="92.55" cy="123.39" r="0.38" fill="#4a80c8" fill-opacity="0.5"/>
<circle cx="97.44" cy="116.13" r="0.38" fill="#4a80c8" fill-opacity="0.5"/>
<circle cx="95.78" cy="118.27" r="0.38" fill="#4a80c8" fill-opacity="0.5"/>
<circle cx="96.71" cy="116.57" r="0.38" fill="#4a80c8" fill-opacity="0.5"/>
<circle cx="97.46" cy="112.72" r="0.38" fill="#4a80c8" fill-opacity="0.5"/>
<circle cx="96.36" cy="115.22" r="0.38" fill="#4a80c8" fill-opacity="0.5"/>
<circle cx="97.5" cy="118.46" r="0.38" fill="#4a80c8" fill-opacity="0.5"/>
<circle cx="94.57" cy="119.08" r="0.38" fill="#4a80c8" fill-opacity="0.5"/>
<circle cx="96.47" cy="118.7" r="0.38" fill="#4a80c8" fill-opacity="0.5"/>
<circle cx="92.25" cy="115.86" r="0.35" fill="#a8c8ec" fill-opacity="0.55"/>
<circle cx="99.87" cy="111.95" r="0.35" fill="#a8c8ec" fill-opacity="0.55"/>
<circle cx="99.78" cy="117.63" r="0.35" fill="#a8c8ec" fill-opacity="0.55"/>
<circle cx="95.07" cy="117.59" r="0.35" fill="#a8c8ec" fill-opacity="0.55"/>
<circle cx="100.09" cy="114.67" r="0.35" fill="#a8c8ec" fill-opacity="0.55"/>
<circle cx="99.03" cy="118.35" r="0.35" fill="#a8c8ec" fill-opacity="0.55"/>
<circle cx="105.63" cy="104.88" r="0.35" fill="#a8c8ec" fill-opacity="0.55"/>
<circle cx="101.11" cy="103.65" r="0.35" fill="#a8c8ec" fill-opacity="0.55"/>
<circle cx="102.92" cy="108.36" r="0.35" fill="#a8c8ec" fill-opacity="0.55"/>
<circle cx="98.62" cy="113.5" r="0.35" fill="#a8c8ec" fill-opacity="0.55"/>
<circle cx="94.2" cy="115.12" r="0.35" fill="#a8c8ec" fill-opacity="0.55"/>
<circle cx="99.94" cy="118.28" r="0.35" fill="#a8c8ec" fill-opacity="0.55"/>
<circle cx="102" cy="109.43" r="0.35" fill="#a8c8ec" fill-opacity="0.55"/>
<circle cx="95.67" cy="115.61" r="0.35" fill="#a8c8ec" fill-opacity="0.55"/>
<circle cx="98.18" cy="122.35" r="0.35" fill="#a8c8ec" fill-opacity="0.55"/>
<circle cx="101.28" cy="112.1" r="0.35" fill="#a8c8ec" fill-opacity="0.55"/>
<circle cx="95.18" cy="114.95" r="0.35" fill="#a8c8ec" fill-opacity="0.55"/>
<circle cx="104.76" cy="110.53" r="0.35" fill="#a8c8ec" fill-opacity="0.55"/>
<circle cx="97.46" cy="120.04" r="0.35" fill="#a8c8ec" fill-opacity="0.55"/>
<circle cx="96.27" cy="120.11" r="0.35" fill="#a8c8ec" fill-opacity="0.55"/>
<circle cx="94.75" cy="117.82" r="0.35" fill="#a8c8ec" fill-opacity="0.55"/>
<circle cx="101.31" cy="113.29" r="0.35" fill="#a8c8ec" fill-opacity="0.55"/>
<circle cx="100.63" cy="109.17" r="0.35" fill="#a8c8ec" fill-opacity="0.55"/>
<circle cx="106.73" cy="110.37" r="0.35" fill="#a8c8ec" fill-opacity="0.55"/>
<circle cx="99.65" cy="115.39" r="0.35" fill="#a8c8ec" fill-opacity="0.55"/>
<circle cx="95.87" cy="117.5" r="0.35" fill="#a8c8ec" fill-opacity="0.55"/>
<circle cx="94.49" cy="120.09" r="0.35" fill="#a8c8ec" fill-opacity="0.55"/>
<circle cx="102.05" cy="115.95" r="0.35" fill="#a8c8ec" fill-opacity="0.55"/>
<circle cx="103.57" cy="112.07" r="0.35" fill="#a8c8ec" fill-opacity="0.55"/>
<circle cx="97.14" cy="115.7" r="0.35" fill="#a8c8ec" fill-opacity="0.55"/>
<ellipse cx="111.5" cy="109.3" rx="6.82" ry="6.38" transform="rotate(-10 111.5 109.3)" fill="#ec9c58" fill-opacity="0.851" filter="url(#b1)"/>
<circle cx="110.43" cy="110.24" r="0.38" fill="#e48a40" fill-opacity="0.4"/>
<circle cx="105.16" cy="113.03" r="0.38" fill="#e48a40" fill-opacity="0.4"/>
<circle cx="105.69" cy="108.58" r="0.38" fill="#e48a40" fill-opacity="0.4"/>
<circle cx="111.28" cy="107.6" r="0.38" fill="#e48a40" fill-opacity="0.4"/>
<circle cx="117.29" cy="107.95" r="0.38" fill="#e48a40" fill-opacity="0.4"/>
<circle cx="117.71" cy="112.19" r="0.38" fill="#e48a40" fill-opacity="0.4"/>
<circle cx="109.98" cy="110.93" r="0.38" fill="#e48a40" fill-opacity="0.4"/>
<circle cx="115.87" cy="107.4" r="0.38" fill="#e48a40" fill-opacity="0.4"/>
<circle cx="111.49" cy="107.41" r="0.38" fill="#e48a40" fill-opacity="0.4"/>
<circle cx="111.5" cy="108.1" r="0.38" fill="#e48a40" fill-opacity="0.4"/>
<circle cx="112.37" cy="112.55" r="0.38" fill="#e48a40" fill-opacity="0.4"/>
<circle cx="116.48" cy="108.87" r="0.38" fill="#e48a40" fill-opacity="0.4"/>
<circle cx="112.71" cy="111.99" r="0.38" fill="#e48a40" fill-opacity="0.4"/>
<circle cx="109.87" cy="106" r="0.38" fill="#e48a40" fill-opacity="0.4"/>
<circle cx="114.86" cy="105.54" r="0.38" fill="#e48a40" fill-opacity="0.4"/>
<circle cx="114.21" cy="105.55" r="0.38" fill="#e48a40" fill-opacity="0.4"/>
<circle cx="117.33" cy="104.73" r="0.38" fill="#e48a40" fill-opacity="0.4"/>
<circle cx="115.36" cy="113.71" r="0.38" fill="#e48a40" fill-opacity="0.4"/>
<circle cx="108.98" cy="114.78" r="0.38" fill="#e48a40" fill-opacity="0.4"/>
<circle cx="107.58" cy="104.01" r="0.38" fill="#e48a40" fill-opacity="0.4"/>
<circle cx="114.45" cy="111.16" r="0.38" fill="#e48a40" fill-opacity="0.4"/>
<circle cx="109.32" cy="101.12" r="0.38" fill="#e48a40" fill-opacity="0.4"/>
<circle cx="111.13" cy="108.33" r="0.38" fill="#e48a40" fill-opacity="0.4"/>
<circle cx="110" cy="108.58" r="0.38" fill="#e48a40" fill-opacity="0.4"/>
<circle cx="104.88" cy="108.54" r="0.38" fill="#e48a40" fill-opacity="0.4"/>
<circle cx="118.73" cy="113.27" r="0.38" fill="#e48a40" fill-opacity="0.4"/>
<circle cx="109.82" cy="107.18" r="0.38" fill="#e48a40" fill-opacity="0.4"/>
<circle cx="113.51" cy="112.55" r="0.38" fill="#e48a40" fill-opacity="0.4"/>
<circle cx="113.36" cy="105.01" r="0.38" fill="#e48a40" fill-opacity="0.4"/>
<circle cx="112.15" cy="109.66" r="0.38" fill="#e48a40" fill-opacity="0.4"/>
<circle cx="117.25" cy="112.34" r="0.38" fill="#e48a40" fill-opacity="0.4"/>
<circle cx="114.05" cy="112.98" r="0.38" fill="#e48a40" fill-opacity="0.4"/>
<circle cx="111" cy="114.61" r="0.38" fill="#e48a40" fill-opacity="0.4"/>
<circle cx="110.23" cy="110.87" r="0.38" fill="#e48a40" fill-opacity="0.4"/>
<circle cx="114.2" cy="105.72" r="0.38" fill="#e48a40" fill-opacity="0.4"/>
<circle cx="108.01" cy="103.95" r="0.38" fill="#e48a40" fill-opacity="0.4"/>
<circle cx="112.05" cy="109.02" r="0.38" fill="#e48a40" fill-opacity="0.4"/>
<circle cx="110.64" cy="111.14" r="0.38" fill="#e48a40" fill-opacity="0.4"/>
<circle cx="104.04" cy="110.53" r="0.38" fill="#e48a40" fill-opacity="0.4"/>
<circle cx="111.65" cy="108.37" r="0.38" fill="#e48a40" fill-opacity="0.4"/>
<circle cx="115.31" cy="114.57" r="0.38" fill="#e48a40" fill-opacity="0.4"/>
<circle cx="109.39" cy="106.48" r="0.38" fill="#e48a40" fill-opacity="0.4"/>
<circle cx="109.43" cy="109.98" r="0.38" fill="#e48a40" fill-opacity="0.4"/>
<circle cx="113.06" cy="106.1" r="0.38" fill="#e48a40" fill-opacity="0.4"/>
<circle cx="114.42" cy="105.31" r="0.38" fill="#e48a40" fill-opacity="0.4"/>
<circle cx="114.66" cy="110.19" r="0.38" fill="#e48a40" fill-opacity="0.4"/>
<circle cx="114.38" cy="116.11" r="0.38" fill="#e48a40" fill-opacity="0.4"/>
<circle cx="110.48" cy="108.92" r="0.38" fill="#e48a40" fill-opacity="0.4"/>
<circle cx="113.68" cy="111.84" r="0.38" fill="#e48a40" fill-opacity="0.4"/>
<circle cx="106.95" cy="111.03" r="0.38" fill="#e48a40" fill-opacity="0.4"/>
<circle cx="109.26" cy="111.83" r="0.38" fill="#e48a40" fill-opacity="0.4"/>
<circle cx="116.35" cy="108.62" r="0.38" fill="#e48a40" fill-opacity="0.4"/>
<circle cx="111.23" cy="109.97" r="0.38" fill="#e48a40" fill-opacity="0.4"/>
<circle cx="101.55" cy="113.67" r="0.38" fill="#e48a40" fill-opacity="0.4"/>
<circle cx="113.57" cy="109.49" r="0.38" fill="#e48a40" fill-opacity="0.4"/>
<circle cx="109.68" cy="107.14" r="0.38" fill="#e48a40" fill-opacity="0.4"/>
<circle cx="111.57" cy="113.4" r="0.38" fill="#e48a40" fill-opacity="0.4"/>
<circle cx="111.92" cy="113.8" r="0.38" fill="#e48a40" fill-opacity="0.4"/>
<circle cx="102.19" cy="109.38" r="0.38" fill="#e48a40" fill-opacity="0.4"/>
<circle cx="112.46" cy="109.09" r="0.38" fill="#e48a40" fill-opacity="0.4"/>
<circle cx="105.28" cy="108.14" r="0.38" fill="#e48a40" fill-opacity="0.4"/>
<circle cx="115.15" cy="104.28" r="0.38" fill="#e48a40" fill-opacity="0.4"/>
<circle cx="107.38" cy="106.31" r="0.38" fill="#e48a40" fill-opacity="0.4"/>
<circle cx="109.93" cy="111.76" r="0.38" fill="#e48a40" fill-opacity="0.4"/>
<circle cx="112.41" cy="102.25" r="0.38" fill="#e48a40" fill-opacity="0.4"/>
<circle cx="116.29" cy="106.45" r="0.38" fill="#e48a40" fill-opacity="0.4"/>
<circle cx="110.4" cy="115.15" r="0.38" fill="#e48a40" fill-opacity="0.4"/>
<circle cx="110.49" cy="105.27" r="0.38" fill="#e48a40" fill-opacity="0.4"/>
<circle cx="107.5" cy="106.31" r="0.35" fill="#f4c090" fill-opacity="0.55"/>
<circle cx="105.88" cy="108.59" r="0.35" fill="#f4c090" fill-opacity="0.55"/>
<circle cx="116.43" cy="110.21" r="0.35" fill="#f4c090" fill-opacity="0.55"/>
<circle cx="106.64" cy="124.34" r="0.35" fill="#f4c090" fill-opacity="0.55"/>
<circle cx="106.38" cy="110.79" r="0.35" fill="#f4c090" fill-opacity="0.55"/>
<circle cx="112.33" cy="113.03" r="0.35" fill="#f4c090" fill-opacity="0.55"/>
<circle cx="110.16" cy="111.86" r="0.35" fill="#f4c090" fill-opacity="0.55"/>
<circle cx="122.69" cy="107.81" r="0.35" fill="#f4c090" fill-opacity="0.55"/>
<circle cx="106.07" cy="111.93" r="0.35" fill="#f4c090" fill-opacity="0.55"/>
<circle cx="106.94" cy="108.22" r="0.35" fill="#f4c090" fill-opacity="0.55"/>
<circle cx="112.79" cy="110.79" r="0.35" fill="#f4c090" fill-opacity="0.55"/>
<circle cx="110.74" cy="113.75" r="0.35" fill="#f4c090" fill-opacity="0.55"/>
<circle cx="109.35" cy="103.04" r="0.35" fill="#f4c090" fill-opacity="0.55"/>
<circle cx="115.81" cy="106.69" r="0.35" fill="#f4c090" fill-opacity="0.55"/>
<circle cx="117.33" cy="104.94" r="0.35" fill="#f4c090" fill-opacity="0.55"/>
<circle cx="114.8" cy="110.32" r="0.35" fill="#f4c090" fill-opacity="0.55"/>
<circle cx="95.97" cy="104.44" r="0.35" fill="#f4c090" fill-opacity="0.55"/>
<circle cx="106.82" cy="117.28" r="0.35" fill="#f4c090" fill-opacity="0.55"/>
<circle cx="102.33" cy="115.57" r="0.35" fill="#f4c090" fill-opacity="0.55"/>
<circle cx="117.69" cy="110.73" r="0.35" fill="#f4c090" fill-opacity="0.55"/>
<circle cx="114.63" cy="106.23" r="0.35" fill="#f4c090" fill-opacity="0.55"/>
<circle cx="111.64" cy="110.42" r="0.35" fill="#f4c090" fill-opacity="0.55"/>
<circle cx="114.34" cy="112.4" r="0.35" fill="#f4c090" fill-opacity="0.55"/>
<circle cx="109.8" cy="106.03" r="0.35" fill="#f4c090" fill-opacity="0.55"/>
<circle cx="108.89" cy="111.85" r="0.35" fill="#f4c090" fill-opacity="0.55"/>
<ellipse cx="101.3" cy="101.5" rx="5" ry="4" transform="rotate(0 101.3 101.5)" fill="#9898cc" fill-opacity="0.26599999999999996" filter="url(#b1)"/>
<ellipse cx="101.3" cy="102.1" rx="1.8" ry="1.5" transform="rotate(0 101.3 102.1)" fill="#404080" fill-opacity="0.315" filter="url(#b05)"/>
<circle cx="98.59" cy="100.62" r="0.38" fill="#34346e" fill-opacity="0.65"/>
<circle cx="100.63" cy="101.56" r="0.38" fill="#34346e" fill-opacity="0.65"/>
<circle cx="100.86" cy="98.72" r="0.38" fill="#34346e" fill-opacity="0.65"/>
<circle cx="100.74" cy="101.96" r="0.38" fill="#34346e" fill-opacity="0.65"/>
<circle cx="102.57" cy="99.64" r="0.38" fill="#34346e" fill-opacity="0.65"/>
<circle cx="100.8" cy="102.94" r="0.38" fill="#34346e" fill-opacity="0.65"/>
<circle cx="102.1" cy="103.91" r="0.38" fill="#34346e" fill-opacity="0.65"/>
<circle cx="103.02" cy="100.89" r="0.38" fill="#34346e" fill-opacity="0.65"/>
<circle cx="102.34" cy="101.85" r="0.38" fill="#34346e" fill-opacity="0.65"/>
<circle cx="99.99" cy="104.36" r="0.38" fill="#34346e" fill-opacity="0.65"/>
<circle cx="100.27" cy="101.15" r="0.38" fill="#34346e" fill-opacity="0.65"/>
<circle cx="100.63" cy="101.15" r="0.38" fill="#34346e" fill-opacity="0.65"/>
<circle cx="102.95" cy="102.81" r="0.38" fill="#34346e" fill-opacity="0.65"/>
<circle cx="103.59" cy="102.85" r="0.38" fill="#34346e" fill-opacity="0.65"/>
<circle cx="100.29" cy="103.71" r="0.38" fill="#34346e" fill-opacity="0.65"/>
<circle cx="100.23" cy="101.68" r="0.38" fill="#34346e" fill-opacity="0.65"/>
<circle cx="101.03" cy="102.35" r="0.38" fill="#34346e" fill-opacity="0.65"/>
<circle cx="103.25" cy="101.48" r="0.38" fill="#34346e" fill-opacity="0.65"/>
<circle cx="101.88" cy="102.26" r="0.38" fill="#34346e" fill-opacity="0.65"/>
<circle cx="99.24" cy="100.83" r="0.38" fill="#34346e" fill-opacity="0.65"/>
<circle cx="100.94" cy="102.84" r="0.38" fill="#34346e" fill-opacity="0.65"/>
<circle cx="102.91" cy="103.29" r="0.35" fill="#8080c0" fill-opacity="0.5"/>
<circle cx="101.97" cy="100.79" r="0.35" fill="#8080c0" fill-opacity="0.5"/>
<circle cx="103.28" cy="99.3" r="0.35" fill="#8080c0" fill-opacity="0.5"/>
<circle cx="97.14" cy="101.1" r="0.35" fill="#8080c0" fill-opacity="0.5"/>
<circle cx="96.84" cy="100.61" r="0.35" fill="#8080c0" fill-opacity="0.5"/>
<circle cx="99.21" cy="100.5" r="0.35" fill="#8080c0" fill-opacity="0.5"/>
<circle cx="101.64" cy="99.84" r="0.35" fill="#8080c0" fill-opacity="0.5"/>
<circle cx="100.33" cy="97.39" r="0.35" fill="#8080c0" fill-opacity="0.5"/>
<circle cx="102.3" cy="99.62" r="0.35" fill="#8080c0" fill-opacity="0.5"/>
<circle cx="103.2" cy="94.37" r="0.35" fill="#8080c0" fill-opacity="0.5"/>
<circle cx="99.02" cy="102.66" r="0.35" fill="#8080c0" fill-opacity="0.5"/>
<circle cx="93.33" cy="101.03" r="0.35" fill="#8080c0" fill-opacity="0.5"/>
<circle cx="102.13" cy="102.28" r="0.35" fill="#8080c0" fill-opacity="0.5"/>
<circle cx="96.61" cy="102.62" r="0.35" fill="#8080c0" fill-opacity="0.5"/>
<circle cx="102.32" cy="99.37" r="0.35" fill="#8080c0" fill-opacity="0.5"/>
<circle cx="104.39" cy="101.87" r="0.35" fill="#8080c0" fill-opacity="0.5"/>
<circle cx="101.86" cy="100.79" r="0.35" fill="#8080c0" fill-opacity="0.5"/>
<circle cx="103.7" cy="102.26" r="0.35" fill="#8080c0" fill-opacity="0.5"/>
<circle cx="105.75" cy="103.22" r="0.35" fill="#8080c0" fill-opacity="0.5"/>
<circle cx="99.66" cy="101.4" r="0.35" fill="#8080c0" fill-opacity="0.5"/>
<circle cx="104.99" cy="101.01" r="0.35" fill="#8080c0" fill-opacity="0.5"/>
<circle cx="109.65" cy="110.71" r="0.3" fill="#a8a8c0" fill-opacity="0.45"/>
<circle cx="97.61" cy="103.28" r="0.3" fill="#a8a8c0" fill-opacity="0.45"/>
<circle cx="107.57" cy="110.69" r="0.3" fill="#a8a8c0" fill-opacity="0.45"/>
<circle cx="104.26" cy="107.35" r="0.3" fill="#a8a8c0" fill-opacity="0.45"/>
<circle cx="110.8" cy="105.08" r="0.3" fill="#a8a8c0" fill-opacity="0.45"/>
<circle cx="101.29" cy="110.61" r="0.3" fill="#a8a8c0" fill-opacity="0.45"/>
<circle cx="104.04" cy="105.3" r="0.3" fill="#a8a8c0" fill-opacity="0.45"/>
<circle cx="109.03" cy="121.44" r="0.3" fill="#a8a8c0" fill-opacity="0.45"/>
<circle cx="115.28" cy="108.73" r="0.3" fill="#a8a8c0" fill-opacity="0.45"/>
<circle cx="113.94" cy="106.93" r="0.3" fill="#a8a8c0" fill-opacity="0.45"/>
<circle cx="103.47" cy="121.5" r="0.3" fill="#a8a8c0" fill-opacity="0.45"/>
<circle cx="113.06" cy="107.09" r="0.3" fill="#a8a8c0" fill-opacity="0.45"/>
<circle cx="102.52" cy="122.78" r="0.3" fill="#a8a8c0" fill-opacity="0.45"/>
<circle cx="110.22" cy="103.21" r="0.3" fill="#a8a8c0" fill-opacity="0.45"/>
<circle cx="109.48" cy="112.63" r="0.3" fill="#a8a8c0" fill-opacity="0.45"/>
<circle cx="109.71" cy="114.61" r="0.3" fill="#a8a8c0" fill-opacity="0.45"/>
<circle cx="109" cy="112.53" r="0.3" fill="#a8a8c0" fill-opacity="0.45"/>
<circle cx="101.59" cy="105.09" r="0.3" fill="#a8a8c0" fill-opacity="0.45"/>
</g>
<text x="135.7" y="87.8" font-size="5.2" fill="#222" text-anchor="end" font-family="Liberation Serif" stroke="#222" stroke-width="0.15">120'</text>
<text x="132" y="136.2" font-size="6.6" fill="#222" text-anchor="end" textLength="11.8" lengthAdjust="spacingAndGlyphs" font-family="Liberation Serif" stroke="#222" stroke-width="0.15">8.01</text>
<rect x="142.7" y="82.8" width="61" height="57.8" fill="#fff" stroke="#606060" stroke-width="1.1"/>
<line x1="140.5" y1="140.6" x2="142.7" y2="140.6" stroke="#777" stroke-width="0.5"/>
<line x1="141.4" y1="134.8" x2="142.7" y2="134.8" stroke="#777" stroke-width="0.5"/>
<line x1="141.4" y1="129" x2="142.7" y2="129" stroke="#777" stroke-width="0.5"/>
<line x1="141.4" y1="123.2" x2="142.7" y2="123.2" stroke="#777" stroke-width="0.5"/>
<line x1="140.5" y1="117.4" x2="142.7" y2="117.4" stroke="#777" stroke-width="0.5"/>
<line x1="141.4" y1="111.6" x2="142.7" y2="111.6" stroke="#777" stroke-width="0.5"/>
<line x1="141.4" y1="105.8" x2="142.7" y2="105.8" stroke="#777" stroke-width="0.5"/>
<line x1="141.4" y1="100" x2="142.7" y2="100" stroke="#777" stroke-width="0.5"/>
<line x1="140.5" y1="94.2" x2="142.7" y2="94.2" stroke="#777" stroke-width="0.5"/>
<line x1="141.4" y1="88.4" x2="142.7" y2="88.4" stroke="#777" stroke-width="0.5"/>
<line x1="142.7" y1="140.6" x2="142.7" y2="142.8" stroke="#777" stroke-width="0.5"/>
<line x1="148.5" y1="140.6" x2="148.5" y2="141.9" stroke="#777" stroke-width="0.5"/>
<line x1="154.3" y1="140.6" x2="154.3" y2="141.9" stroke="#777" stroke-width="0.5"/>
<line x1="160.1" y1="140.6" x2="160.1" y2="141.9" stroke="#777" stroke-width="0.5"/>
<line x1="165.9" y1="140.6" x2="165.9" y2="142.8" stroke="#777" stroke-width="0.5"/>
<line x1="171.7" y1="140.6" x2="171.7" y2="141.9" stroke="#777" stroke-width="0.5"/>
<line x1="177.5" y1="140.6" x2="177.5" y2="141.9" stroke="#777" stroke-width="0.5"/>
<line x1="183.3" y1="140.6" x2="183.3" y2="141.9" stroke="#777" stroke-width="0.5"/>
<line x1="189.1" y1="140.6" x2="189.1" y2="142.8" stroke="#777" stroke-width="0.5"/>
<line x1="194.9" y1="140.6" x2="194.9" y2="141.9" stroke="#777" stroke-width="0.5"/>
<line x1="200.7" y1="140.6" x2="200.7" y2="141.9" stroke="#777" stroke-width="0.5"/>
<g filter="url(#b03)">
<circle cx="162.92" cy="135.35" r="0.3" fill="#b8b8c8" fill-opacity="0.45"/>
<circle cx="158.75" cy="116.31" r="0.3" fill="#b8b8c8" fill-opacity="0.45"/>
<circle cx="155.69" cy="129.47" r="0.3" fill="#b8b8c8" fill-opacity="0.45"/>
<circle cx="192.03" cy="102.77" r="0.3" fill="#b8b8c8" fill-opacity="0.45"/>
<circle cx="186.03" cy="127.66" r="0.3" fill="#b8b8c8" fill-opacity="0.45"/>
<circle cx="162.11" cy="105.65" r="0.3" fill="#b8b8c8" fill-opacity="0.45"/>
<circle cx="172.46" cy="130.72" r="0.3" fill="#b8b8c8" fill-opacity="0.45"/>
<circle cx="155.94" cy="121.39" r="0.3" fill="#b8b8c8" fill-opacity="0.45"/>
<circle cx="178.18" cy="111.1" r="0.3" fill="#b8b8c8" fill-opacity="0.45"/>
<circle cx="177.24" cy="130.35" r="0.3" fill="#b8b8c8" fill-opacity="0.45"/>
<circle cx="158.4" cy="130.38" r="0.3" fill="#b8b8c8" fill-opacity="0.45"/>
<circle cx="166.08" cy="125.74" r="0.3" fill="#b8b8c8" fill-opacity="0.45"/>
<circle cx="191.73" cy="98.97" r="0.3" fill="#b8b8c8" fill-opacity="0.45"/>
<circle cx="191.76" cy="135.37" r="0.3" fill="#b8b8c8" fill-opacity="0.45"/>
<ellipse cx="155.5" cy="128.7" rx="3" ry="1" transform="rotate(-25 155.5 128.7)" fill="#505050" fill-opacity="0.3" filter="url(#b05)"/>
<circle cx="155.45" cy="128.87" r="0.35" fill="#333" fill-opacity="0.3"/>
<circle cx="159.32" cy="128.08" r="0.35" fill="#333" fill-opacity="0.3"/>
<circle cx="159.12" cy="127.1" r="0.35" fill="#333" fill-opacity="0.3"/>
<circle cx="157.39" cy="128.7" r="0.35" fill="#333" fill-opacity="0.3"/>
<circle cx="156.4" cy="128.51" r="0.35" fill="#333" fill-opacity="0.3"/>
<circle cx="155.11" cy="128.62" r="0.35" fill="#333" fill-opacity="0.3"/>
<circle cx="154.03" cy="130.64" r="0.35" fill="#333" fill-opacity="0.3"/>
<circle cx="154.28" cy="127.93" r="0.35" fill="#333" fill-opacity="0.3"/>
<circle cx="155.91" cy="128.49" r="0.35" fill="#333" fill-opacity="0.3"/>
<circle cx="156.23" cy="129.53" r="0.35" fill="#333" fill-opacity="0.3"/>
<circle cx="155.27" cy="128.64" r="0.35" fill="#333" fill-opacity="0.3"/>
<circle cx="154.31" cy="129.24" r="0.35" fill="#333" fill-opacity="0.3"/>
<circle cx="154.85" cy="129.13" r="0.35" fill="#333" fill-opacity="0.3"/>
<circle cx="160.55" cy="126.6" r="0.35" fill="#333" fill-opacity="0.3"/>
<circle cx="159.83" cy="130.15" r="0.3" fill="#999" fill-opacity="0.5"/>
<circle cx="162.59" cy="124.63" r="0.3" fill="#999" fill-opacity="0.5"/>
<circle cx="162.24" cy="124.99" r="0.3" fill="#999" fill-opacity="0.5"/>
<circle cx="162.87" cy="125.82" r="0.3" fill="#999" fill-opacity="0.5"/>
<circle cx="163.59" cy="124.95" r="0.3" fill="#999" fill-opacity="0.5"/>
<circle cx="158.29" cy="126.91" r="0.3" fill="#999" fill-opacity="0.5"/>
<circle cx="158.93" cy="128.64" r="0.3" fill="#999" fill-opacity="0.5"/>
<circle cx="160.92" cy="123.12" r="0.3" fill="#999" fill-opacity="0.5"/>
<circle cx="164.16" cy="127.54" r="0.3" fill="#999" fill-opacity="0.5"/>
<circle cx="161.1" cy="121.34" r="0.3" fill="#999" fill-opacity="0.5"/>
<ellipse cx="162" cy="117" rx="4.2" ry="2.8" transform="rotate(-52 162 117)" fill="#5c90d0" fill-opacity="0.6839999999999999" filter="url(#b1)"/>
<circle cx="161.88" cy="118.2" r="0.38" fill="#4a80c8" fill-opacity="0.475"/>
<circle cx="161.77" cy="117.88" r="0.38" fill="#4a80c8" fill-opacity="0.475"/>
<circle cx="164.16" cy="114.93" r="0.38" fill="#4a80c8" fill-opacity="0.475"/>
<circle cx="159.94" cy="120.66" r="0.38" fill="#4a80c8" fill-opacity="0.475"/>
<circle cx="161.41" cy="117.82" r="0.38" fill="#4a80c8" fill-opacity="0.475"/>
<circle cx="159.13" cy="117.81" r="0.38" fill="#4a80c8" fill-opacity="0.475"/>
<circle cx="158.69" cy="120.21" r="0.38" fill="#4a80c8" fill-opacity="0.475"/>
<circle cx="156.93" cy="118.01" r="0.38" fill="#4a80c8" fill-opacity="0.475"/>
<circle cx="162.76" cy="113.89" r="0.38" fill="#4a80c8" fill-opacity="0.475"/>
<circle cx="160.52" cy="119.63" r="0.38" fill="#4a80c8" fill-opacity="0.475"/>
<circle cx="157.87" cy="124.26" r="0.38" fill="#4a80c8" fill-opacity="0.475"/>
<circle cx="160.55" cy="119.83" r="0.38" fill="#4a80c8" fill-opacity="0.475"/>
<circle cx="160.81" cy="118.88" r="0.38" fill="#4a80c8" fill-opacity="0.475"/>
<circle cx="161.71" cy="117.25" r="0.38" fill="#4a80c8" fill-opacity="0.475"/>
<circle cx="156.52" cy="120.76" r="0.38" fill="#4a80c8" fill-opacity="0.475"/>
<circle cx="162.68" cy="118.66" r="0.38" fill="#4a80c8" fill-opacity="0.475"/>
<circle cx="160.88" cy="119.2" r="0.38" fill="#4a80c8" fill-opacity="0.475"/>
<circle cx="162.26" cy="117.48" r="0.38" fill="#4a80c8" fill-opacity="0.475"/>
<circle cx="162.15" cy="114.01" r="0.38" fill="#4a80c8" fill-opacity="0.475"/>
<circle cx="161.89" cy="116.71" r="0.38" fill="#4a80c8" fill-opacity="0.475"/>
<circle cx="160.11" cy="117.6" r="0.38" fill="#4a80c8" fill-opacity="0.475"/>
<circle cx="159" cy="118.6" r="0.38" fill="#4a80c8" fill-opacity="0.475"/>
<circle cx="161.55" cy="122.01" r="0.38" fill="#4a80c8" fill-opacity="0.475"/>
<circle cx="164.92" cy="113.45" r="0.38" fill="#4a80c8" fill-opacity="0.475"/>
<circle cx="162.11" cy="114.99" r="0.38" fill="#4a80c8" fill-opacity="0.475"/>
<circle cx="154.29" cy="122.77" r="0.38" fill="#4a80c8" fill-opacity="0.475"/>
<circle cx="163.07" cy="118.24" r="0.38" fill="#4a80c8" fill-opacity="0.475"/>
<circle cx="160.52" cy="116.85" r="0.38" fill="#4a80c8" fill-opacity="0.475"/>
<circle cx="160.12" cy="117.33" r="0.38" fill="#4a80c8" fill-opacity="0.475"/>
<circle cx="158.5" cy="120.66" r="0.38" fill="#4a80c8" fill-opacity="0.475"/>
<circle cx="159.97" cy="117.84" r="0.38" fill="#4a80c8" fill-opacity="0.475"/>
<circle cx="158.89" cy="118.92" r="0.38" fill="#4a80c8" fill-opacity="0.475"/>
<circle cx="163.22" cy="117.98" r="0.38" fill="#4a80c8" fill-opacity="0.475"/>
<circle cx="163.08" cy="119.68" r="0.38" fill="#4a80c8" fill-opacity="0.475"/>
<circle cx="158.5" cy="121.57" r="0.38" fill="#4a80c8" fill-opacity="0.475"/>
<circle cx="159.04" cy="120.14" r="0.38" fill="#4a80c8" fill-opacity="0.475"/>
<circle cx="162.21" cy="117.68" r="0.38" fill="#4a80c8" fill-opacity="0.475"/>
<circle cx="163.27" cy="114.38" r="0.38" fill="#4a80c8" fill-opacity="0.475"/>
<circle cx="158.84" cy="120.33" r="0.38" fill="#4a80c8" fill-opacity="0.475"/>
<circle cx="161.46" cy="116.27" r="0.38" fill="#4a80c8" fill-opacity="0.475"/>
<circle cx="169.85" cy="114.57" r="0.35" fill="#a8c8ec" fill-opacity="0.55"/>
<circle cx="159.3" cy="121.93" r="0.35" fill="#a8c8ec" fill-opacity="0.55"/>
<circle cx="163.27" cy="108.2" r="0.35" fill="#a8c8ec" fill-opacity="0.55"/>
<circle cx="163.77" cy="114.29" r="0.35" fill="#a8c8ec" fill-opacity="0.55"/>
<circle cx="161.15" cy="123.49" r="0.35" fill="#a8c8ec" fill-opacity="0.55"/>
<circle cx="163.32" cy="113.83" r="0.35" fill="#a8c8ec" fill-opacity="0.55"/>
<circle cx="166.28" cy="114.73" r="0.35" fill="#a8c8ec" fill-opacity="0.55"/>
<circle cx="167.28" cy="113.28" r="0.35" fill="#a8c8ec" fill-opacity="0.55"/>
<circle cx="162.62" cy="111.91" r="0.35" fill="#a8c8ec" fill-opacity="0.55"/>
<circle cx="162.3" cy="117.44" r="0.35" fill="#a8c8ec" fill-opacity="0.55"/>
<circle cx="158.1" cy="130.34" r="0.35" fill="#a8c8ec" fill-opacity="0.55"/>
<circle cx="160.15" cy="115.34" r="0.35" fill="#a8c8ec" fill-opacity="0.55"/>
<circle cx="157.72" cy="123.37" r="0.35" fill="#a8c8ec" fill-opacity="0.55"/>
<circle cx="162.48" cy="114.42" r="0.35" fill="#a8c8ec" fill-opacity="0.55"/>
<circle cx="160.34" cy="115.76" r="0.35" fill="#a8c8ec" fill-opacity="0.55"/>
<circle cx="160.73" cy="118.42" r="0.35" fill="#a8c8ec" fill-opacity="0.55"/>
<circle cx="162.6" cy="119.25" r="0.35" fill="#a8c8ec" fill-opacity="0.55"/>
<circle cx="163.26" cy="116.3" r="0.35" fill="#a8c8ec" fill-opacity="0.55"/>
<circle cx="167.36" cy="115.91" r="0.35" fill="#a8c8ec" fill-opacity="0.55"/>
<circle cx="166.02" cy="113.4" r="0.35" fill="#a8c8ec" fill-opacity="0.55"/>
<circle cx="161.37" cy="114.86" r="0.35" fill="#a8c8ec" fill-opacity="0.55"/>
<circle cx="163.64" cy="118.02" r="0.35" fill="#a8c8ec" fill-opacity="0.55"/>
<circle cx="163.53" cy="113.94" r="0.35" fill="#a8c8ec" fill-opacity="0.55"/>
<circle cx="155.94" cy="118.47" r="0.35" fill="#a8c8ec" fill-opacity="0.55"/>
<circle cx="166.6" cy="115.85" r="0.35" fill="#a8c8ec" fill-opacity="0.55"/>
<circle cx="162.12" cy="111.73" r="0.35" fill="#a8c8ec" fill-opacity="0.55"/>
<circle cx="163.2" cy="116.74" r="0.35" fill="#a8c8ec" fill-opacity="0.55"/>
<circle cx="161.01" cy="119.84" r="0.35" fill="#a8c8ec" fill-opacity="0.55"/>
<circle cx="161.19" cy="114.96" r="0.35" fill="#a8c8ec" fill-opacity="0.55"/>
<circle cx="160.8" cy="121.92" r="0.35" fill="#a8c8ec" fill-opacity="0.55"/>
<ellipse cx="178" cy="108.5" rx="7.26" ry="5.94" transform="rotate(-10 178 108.5)" fill="#ec9c58" fill-opacity="0.7992" filter="url(#b1)"/>
<ellipse cx="171.5" cy="113.5" rx="4" ry="2.5" transform="rotate(-40 171.5 113.5)" fill="#eea666" fill-opacity="0.55" filter="url(#b1)"/>
<circle cx="178.87" cy="105.5" r="0.38" fill="#e48a40" fill-opacity="0.4"/>
<circle cx="174.63" cy="111.95" r="0.38" fill="#e48a40" fill-opacity="0.4"/>
<circle cx="180.1" cy="107.15" r="0.38" fill="#e48a40" fill-opacity="0.4"/>
<circle cx="183.89" cy="106.53" r="0.38" fill="#e48a40" fill-opacity="0.4"/>
<circle cx="174.59" cy="112.6" r="0.38" fill="#e48a40" fill-opacity="0.4"/>
<circle cx="177.47" cy="109.7" r="0.38" fill="#e48a40" fill-opacity="0.4"/>
<circle cx="177.6" cy="105.36" r="0.38" fill="#e48a40" fill-opacity="0.4"/>
<circle cx="173.38" cy="108.69" r="0.38" fill="#e48a40" fill-opacity="0.4"/>
<circle cx="182.79" cy="104.44" r="0.38" fill="#e48a40" fill-opacity="0.4"/>
<circle cx="183.28" cy="108.27" r="0.38" fill="#e48a40" fill-opacity="0.4"/>
<circle cx="173.92" cy="110.07" r="0.38" fill="#e48a40" fill-opacity="0.4"/>
<circle cx="179.66" cy="105.33" r="0.38" fill="#e48a40" fill-opacity="0.4"/>
<circle cx="170.11" cy="111.03" r="0.38" fill="#e48a40" fill-opacity="0.4"/>
<circle cx="174.03" cy="110.61" r="0.38" fill="#e48a40" fill-opacity="0.4"/>
<circle cx="170.66" cy="109.34" r="0.38" fill="#e48a40" fill-opacity="0.4"/>
<circle cx="174.12" cy="104.44" r="0.38" fill="#e48a40" fill-opacity="0.4"/>
<circle cx="177.18" cy="109.19" r="0.38" fill="#e48a40" fill-opacity="0.4"/>
<circle cx="175.24" cy="105.21" r="0.38" fill="#e48a40" fill-opacity="0.4"/>
<circle cx="177.85" cy="102.93" r="0.38" fill="#e48a40" fill-opacity="0.4"/>
<circle cx="180.3" cy="109.67" r="0.38" fill="#e48a40" fill-opacity="0.4"/>
<circle cx="184.85" cy="110.12" r="0.38" fill="#e48a40" fill-opacity="0.4"/>
<circle cx="179.49" cy="109.08" r="0.38" fill="#e48a40" fill-opacity="0.4"/>
<circle cx="177.38" cy="104.37" r="0.38" fill="#e48a40" fill-opacity="0.4"/>
<circle cx="183.83" cy="109.16" r="0.38" fill="#e48a40" fill-opacity="0.4"/>
<circle cx="176.29" cy="105.14" r="0.38" fill="#e48a40" fill-opacity="0.4"/>
<circle cx="183.92" cy="109.16" r="0.38" fill="#e48a40" fill-opacity="0.4"/>
<circle cx="173.87" cy="111.38" r="0.38" fill="#e48a40" fill-opacity="0.4"/>
<circle cx="185.17" cy="107.16" r="0.38" fill="#e48a40" fill-opacity="0.4"/>
<circle cx="179.29" cy="106.94" r="0.38" fill="#e48a40" fill-opacity="0.4"/>
<circle cx="176.2" cy="112.25" r="0.38" fill="#e48a40" fill-opacity="0.4"/>
<circle cx="189.73" cy="106.8" r="0.38" fill="#e48a40" fill-opacity="0.4"/>
<circle cx="177.96" cy="111.04" r="0.38" fill="#e48a40" fill-opacity="0.4"/>
<circle cx="177.24" cy="110.96" r="0.38" fill="#e48a40" fill-opacity="0.4"/>
<circle cx="180.58" cy="104.8" r="0.38" fill="#e48a40" fill-opacity="0.4"/>
<circle cx="173.9" cy="108.99" r="0.38" fill="#e48a40" fill-opacity="0.4"/>
<circle cx="181.3" cy="108.8" r="0.38" fill="#e48a40" fill-opacity="0.4"/>
<circle cx="181.95" cy="103.41" r="0.38" fill="#e48a40" fill-opacity="0.4"/>
<circle cx="179.53" cy="106.24" r="0.38" fill="#e48a40" fill-opacity="0.4"/>
<circle cx="178.55" cy="109.43" r="0.38" fill="#e48a40" fill-opacity="0.4"/>
<circle cx="174.2" cy="108.44" r="0.38" fill="#e48a40" fill-opacity="0.4"/>
<circle cx="173.74" cy="110.1" r="0.38" fill="#e48a40" fill-opacity="0.4"/>
<circle cx="174.51" cy="107.54" r="0.38" fill="#e48a40" fill-opacity="0.4"/>
<circle cx="178.47" cy="106.33" r="0.38" fill="#e48a40" fill-opacity="0.4"/>
<circle cx="182" cy="105.76" r="0.38" fill="#e48a40" fill-opacity="0.4"/>
<circle cx="181.37" cy="108.81" r="0.38" fill="#e48a40" fill-opacity="0.4"/>
<circle cx="173.97" cy="108.51" r="0.38" fill="#e48a40" fill-opacity="0.4"/>
<circle cx="174.64" cy="107.94" r="0.38" fill="#e48a40" fill-opacity="0.4"/>
<circle cx="177.97" cy="114.31" r="0.38" fill="#e48a40" fill-opacity="0.4"/>
<circle cx="177.27" cy="113.63" r="0.38" fill="#e48a40" fill-opacity="0.4"/>
<circle cx="178.98" cy="104.16" r="0.38" fill="#e48a40" fill-opacity="0.4"/>
<circle cx="169.62" cy="112.14" r="0.38" fill="#e48a40" fill-opacity="0.4"/>
<circle cx="170.87" cy="112.05" r="0.38" fill="#e48a40" fill-opacity="0.4"/>
<circle cx="182.1" cy="109.02" r="0.38" fill="#e48a40" fill-opacity="0.4"/>
<circle cx="177.07" cy="107.86" r="0.38" fill="#e48a40" fill-opacity="0.4"/>
<circle cx="178.81" cy="107.39" r="0.38" fill="#e48a40" fill-opacity="0.4"/>
<circle cx="175.78" cy="107.71" r="0.38" fill="#e48a40" fill-opacity="0.4"/>
<circle cx="182.08" cy="105.8" r="0.38" fill="#e48a40" fill-opacity="0.4"/>
<circle cx="178.81" cy="104.69" r="0.38" fill="#e48a40" fill-opacity="0.4"/>
<circle cx="174.56" cy="104.73" r="0.38" fill="#e48a40" fill-opacity="0.4"/>
<circle cx="177.62" cy="110.74" r="0.38" fill="#e48a40" fill-opacity="0.4"/>
<circle cx="178.88" cy="106.77" r="0.38" fill="#e48a40" fill-opacity="0.4"/>
<circle cx="180.12" cy="107.02" r="0.38" fill="#e48a40" fill-opacity="0.4"/>
<circle cx="179.56" cy="109.1" r="0.38" fill="#e48a40" fill-opacity="0.4"/>
<circle cx="178.7" cy="100.49" r="0.38" fill="#e48a40" fill-opacity="0.4"/>
<circle cx="173.5" cy="111.76" r="0.38" fill="#e48a40" fill-opacity="0.4"/>
<circle cx="178.82" cy="115.5" r="0.38" fill="#e48a40" fill-opacity="0.4"/>
<circle cx="176.81" cy="106.95" r="0.38" fill="#e48a40" fill-opacity="0.4"/>
<circle cx="183.94" cy="109.22" r="0.38" fill="#e48a40" fill-opacity="0.4"/>
<circle cx="189.16" cy="108.97" r="0.35" fill="#f4c090" fill-opacity="0.55"/>
<circle cx="177.44" cy="112.06" r="0.35" fill="#f4c090" fill-opacity="0.55"/>
<circle cx="173.18" cy="107.22" r="0.35" fill="#f4c090" fill-opacity="0.55"/>
<circle cx="174.68" cy="108.03" r="0.35" fill="#f4c090" fill-opacity="0.55"/>
<circle cx="182.01" cy="105.49" r="0.35" fill="#f4c090" fill-opacity="0.55"/>
<circle cx="179.42" cy="105.87" r="0.35" fill="#f4c090" fill-opacity="0.55"/>
<circle cx="180.75" cy="94.86" r="0.35" fill="#f4c090" fill-opacity="0.55"/>
<circle cx="176.96" cy="109.49" r="0.35" fill="#f4c090" fill-opacity="0.55"/>
<circle cx="172.73" cy="114.26" r="0.35" fill="#f4c090" fill-opacity="0.55"/>
<circle cx="180.27" cy="114.21" r="0.35" fill="#f4c090" fill-opacity="0.55"/>
<circle cx="183.96" cy="110.51" r="0.35" fill="#f4c090" fill-opacity="0.55"/>
<circle cx="176.27" cy="103.62" r="0.35" fill="#f4c090" fill-opacity="0.55"/>
<circle cx="176.38" cy="106.59" r="0.35" fill="#f4c090" fill-opacity="0.55"/>
<circle cx="179.03" cy="106.1" r="0.35" fill="#f4c090" fill-opacity="0.55"/>
<circle cx="193.97" cy="98.06" r="0.35" fill="#f4c090" fill-opacity="0.55"/>
<circle cx="184.26" cy="105.16" r="0.35" fill="#f4c090" fill-opacity="0.55"/>
<circle cx="177.38" cy="113.02" r="0.35" fill="#f4c090" fill-opacity="0.55"/>
<circle cx="177.03" cy="102.89" r="0.35" fill="#f4c090" fill-opacity="0.55"/>
<circle cx="180.18" cy="107.19" r="0.35" fill="#f4c090" fill-opacity="0.55"/>
<circle cx="166.53" cy="111.47" r="0.35" fill="#f4c090" fill-opacity="0.55"/>
<circle cx="171.43" cy="106.11" r="0.35" fill="#f4c090" fill-opacity="0.55"/>
<circle cx="180.97" cy="109.4" r="0.35" fill="#f4c090" fill-opacity="0.55"/>
<circle cx="178.13" cy="118.82" r="0.35" fill="#f4c090" fill-opacity="0.55"/>
<circle cx="179.87" cy="105.25" r="0.35" fill="#f4c090" fill-opacity="0.55"/>
<circle cx="179.24" cy="107.7" r="0.35" fill="#f4c090" fill-opacity="0.55"/>
<ellipse cx="166" cy="102" rx="5" ry="4" transform="rotate(0 166 102)" fill="#9898cc" fill-opacity="0.38" filter="url(#b1)"/>
<ellipse cx="166" cy="102.6" rx="1.8" ry="1.5" transform="rotate(0 166 102.6)" fill="#404080" fill-opacity="0.45" filter="url(#b05)"/>
<circle cx="162.38" cy="100.67" r="0.38" fill="#34346e" fill-opacity="0.65"/>
<circle cx="163.72" cy="105.59" r="0.38" fill="#34346e" fill-opacity="0.65"/>
<circle cx="165.7" cy="102.43" r="0.38" fill="#34346e" fill-opacity="0.65"/>
<circle cx="165.07" cy="104.13" r="0.38" fill="#34346e" fill-opacity="0.65"/>
<circle cx="166.05" cy="105.11" r="0.38" fill="#34346e" fill-opacity="0.65"/>
<circle cx="167.29" cy="105.02" r="0.38" fill="#34346e" fill-opacity="0.65"/>
<circle cx="165.81" cy="103.31" r="0.38" fill="#34346e" fill-opacity="0.65"/>
<circle cx="165.29" cy="102.57" r="0.38" fill="#34346e" fill-opacity="0.65"/>
<circle cx="163.16" cy="102.01" r="0.38" fill="#34346e" fill-opacity="0.65"/>
<circle cx="164.44" cy="101.92" r="0.38" fill="#34346e" fill-opacity="0.65"/>
<circle cx="167.99" cy="103.15" r="0.38" fill="#34346e" fill-opacity="0.65"/>
<circle cx="168.01" cy="103.96" r="0.38" fill="#34346e" fill-opacity="0.65"/>
<circle cx="167.51" cy="104.16" r="0.38" fill="#34346e" fill-opacity="0.65"/>
<circle cx="165.01" cy="103.88" r="0.38" fill="#34346e" fill-opacity="0.65"/>
<circle cx="165.47" cy="102.08" r="0.38" fill="#34346e" fill-opacity="0.65"/>
<circle cx="167.96" cy="105.72" r="0.38" fill="#34346e" fill-opacity="0.65"/>
<circle cx="164.4" cy="105.14" r="0.38" fill="#34346e" fill-opacity="0.65"/>
<circle cx="167.36" cy="101.66" r="0.38" fill="#34346e" fill-opacity="0.65"/>
<circle cx="166.45" cy="103.3" r="0.38" fill="#34346e" fill-opacity="0.65"/>
<circle cx="166.61" cy="102.32" r="0.38" fill="#34346e" fill-opacity="0.65"/>
<circle cx="163.89" cy="102.84" r="0.38" fill="#34346e" fill-opacity="0.65"/>
<circle cx="167.41" cy="103.86" r="0.38" fill="#34346e" fill-opacity="0.65"/>
<circle cx="167.08" cy="104.29" r="0.38" fill="#34346e" fill-opacity="0.65"/>
<circle cx="164.38" cy="102.74" r="0.38" fill="#34346e" fill-opacity="0.65"/>
<circle cx="166.56" cy="104.15" r="0.38" fill="#34346e" fill-opacity="0.65"/>
<circle cx="166.26" cy="103.5" r="0.38" fill="#34346e" fill-opacity="0.65"/>
<circle cx="166.22" cy="105.63" r="0.38" fill="#34346e" fill-opacity="0.65"/>
<circle cx="162.42" cy="102.77" r="0.38" fill="#34346e" fill-opacity="0.65"/>
<circle cx="170.05" cy="103.12" r="0.38" fill="#34346e" fill-opacity="0.65"/>
<circle cx="163" cy="102.98" r="0.38" fill="#34346e" fill-opacity="0.65"/>
<circle cx="161.53" cy="100.67" r="0.35" fill="#8080c0" fill-opacity="0.5"/>
<circle cx="167.28" cy="107.12" r="0.35" fill="#8080c0" fill-opacity="0.5"/>
<circle cx="168.1" cy="104.3" r="0.35" fill="#8080c0" fill-opacity="0.5"/>
<circle cx="170.03" cy="103.04" r="0.35" fill="#8080c0" fill-opacity="0.5"/>
<circle cx="163.53" cy="102.24" r="0.35" fill="#8080c0" fill-opacity="0.5"/>
<circle cx="167.67" cy="101.75" r="0.35" fill="#8080c0" fill-opacity="0.5"/>
<circle cx="164.19" cy="101.53" r="0.35" fill="#8080c0" fill-opacity="0.5"/>
<circle cx="161.29" cy="99.74" r="0.35" fill="#8080c0" fill-opacity="0.5"/>
<circle cx="166.19" cy="101.53" r="0.35" fill="#8080c0" fill-opacity="0.5"/>
<circle cx="166.63" cy="106.28" r="0.35" fill="#8080c0" fill-opacity="0.5"/>
<circle cx="167.54" cy="102.41" r="0.35" fill="#8080c0" fill-opacity="0.5"/>
<circle cx="162.43" cy="99.59" r="0.35" fill="#8080c0" fill-opacity="0.5"/>
<circle cx="167.8" cy="100.15" r="0.35" fill="#8080c0" fill-opacity="0.5"/>
<circle cx="167.99" cy="99.61" r="0.35" fill="#8080c0" fill-opacity="0.5"/>
<circle cx="166.97" cy="102.3" r="0.35" fill="#8080c0" fill-opacity="0.5"/>
<circle cx="169.95" cy="101.44" r="0.35" fill="#8080c0" fill-opacity="0.5"/>
<circle cx="165.21" cy="103.16" r="0.35" fill="#8080c0" fill-opacity="0.5"/>
<circle cx="166.69" cy="107.05" r="0.35" fill="#8080c0" fill-opacity="0.5"/>
<circle cx="165.61" cy="101.05" r="0.35" fill="#8080c0" fill-opacity="0.5"/>
<circle cx="165.39" cy="103.78" r="0.35" fill="#8080c0" fill-opacity="0.5"/>
<circle cx="167.31" cy="104.37" r="0.35" fill="#8080c0" fill-opacity="0.5"/>
<circle cx="161.71" cy="109.18" r="0.35" fill="#8080c0" fill-opacity="0.5"/>
<circle cx="172.87" cy="102.42" r="0.35" fill="#8080c0" fill-opacity="0.5"/>
<circle cx="162.31" cy="102.92" r="0.35" fill="#8080c0" fill-opacity="0.5"/>
<circle cx="167.94" cy="96.49" r="0.35" fill="#8080c0" fill-opacity="0.5"/>
<circle cx="166.55" cy="98.52" r="0.35" fill="#8080c0" fill-opacity="0.5"/>
<circle cx="168.09" cy="106.22" r="0.35" fill="#8080c0" fill-opacity="0.5"/>
<circle cx="170.08" cy="98.44" r="0.35" fill="#8080c0" fill-opacity="0.5"/>
<circle cx="171.29" cy="104.94" r="0.35" fill="#8080c0" fill-opacity="0.5"/>
<circle cx="165.25" cy="103.85" r="0.35" fill="#8080c0" fill-opacity="0.5"/>
<circle cx="176.07" cy="103.68" r="0.3" fill="#a8a8c0" fill-opacity="0.45"/>
<circle cx="169.03" cy="109.16" r="0.3" fill="#a8a8c0" fill-opacity="0.45"/>
<circle cx="168.39" cy="98.95" r="0.3" fill="#a8a8c0" fill-opacity="0.45"/>
<circle cx="173.5" cy="101.91" r="0.3" fill="#a8a8c0" fill-opacity="0.45"/>
<circle cx="169.25" cy="101.69" r="0.3" fill="#a8a8c0" fill-opacity="0.45"/>
<circle cx="165.14" cy="112.79" r="0.3" fill="#a8a8c0" fill-opacity="0.45"/>
<circle cx="168.87" cy="102.1" r="0.3" fill="#a8a8c0" fill-opacity="0.45"/>
<circle cx="171.3" cy="106.38" r="0.3" fill="#a8a8c0" fill-opacity="0.45"/>
<circle cx="175.01" cy="104.87" r="0.3" fill="#a8a8c0" fill-opacity="0.45"/>
<circle cx="172.4" cy="108.43" r="0.3" fill="#a8a8c0" fill-opacity="0.45"/>
<circle cx="177.1" cy="102.45" r="0.3" fill="#a8a8c0" fill-opacity="0.45"/>
<circle cx="177.65" cy="117.85" r="0.3" fill="#a8a8c0" fill-opacity="0.45"/>
<circle cx="173.65" cy="113.02" r="0.3" fill="#a8a8c0" fill-opacity="0.45"/>
<circle cx="168.67" cy="114.69" r="0.3" fill="#a8a8c0" fill-opacity="0.45"/>
<circle cx="162.1" cy="120.62" r="0.3" fill="#a8a8c0" fill-opacity="0.45"/>
<circle cx="163.25" cy="108.53" r="0.3" fill="#a8a8c0" fill-opacity="0.45"/>
<circle cx="169.1" cy="120.66" r="0.3" fill="#a8a8c0" fill-opacity="0.45"/>
<circle cx="167.58" cy="104.1" r="0.3" fill="#a8a8c0" fill-opacity="0.45"/>
</g>
<text x="201.1" y="87.8" font-size="5.2" fill="#222" text-anchor="end" font-family="Liberation Serif" stroke="#222" stroke-width="0.15">240'</text>
<text x="197.5" y="136.2" font-size="6.6" fill="#222" text-anchor="end" textLength="11.8" lengthAdjust="spacingAndGlyphs" font-family="Liberation Serif" stroke="#222" stroke-width="0.15">14.8</text>
<rect x="207.6" y="82.8" width="61" height="57.8" fill="#fff" stroke="#606060" stroke-width="1.1"/>
<line x1="205.4" y1="140.6" x2="207.6" y2="140.6" stroke="#777" stroke-width="0.5"/>
<line x1="206.3" y1="134.8" x2="207.6" y2="134.8" stroke="#777" stroke-width="0.5"/>
<line x1="206.3" y1="129" x2="207.6" y2="129" stroke="#777" stroke-width="0.5"/>
<line x1="206.3" y1="123.2" x2="207.6" y2="123.2" stroke="#777" stroke-width="0.5"/>
<line x1="205.4" y1="117.4" x2="207.6" y2="117.4" stroke="#777" stroke-width="0.5"/>
<line x1="206.3" y1="111.6" x2="207.6" y2="111.6" stroke="#777" stroke-width="0.5"/>
<line x1="206.3" y1="105.8" x2="207.6" y2="105.8" stroke="#777" stroke-width="0.5"/>
<line x1="206.3" y1="100" x2="207.6" y2="100" stroke="#777" stroke-width="0.5"/>
<line x1="205.4" y1="94.2" x2="207.6" y2="94.2" stroke="#777" stroke-width="0.5"/>
<line x1="206.3" y1="88.4" x2="207.6" y2="88.4" stroke="#777" stroke-width="0.5"/>
<line x1="207.6" y1="140.6" x2="207.6" y2="142.8" stroke="#777" stroke-width="0.5"/>
<line x1="213.4" y1="140.6" x2="213.4" y2="141.9" stroke="#777" stroke-width="0.5"/>
<line x1="219.2" y1="140.6" x2="219.2" y2="141.9" stroke="#777" stroke-width="0.5"/>
<line x1="225" y1="140.6" x2="225" y2="141.9" stroke="#777" stroke-width="0.5"/>
<line x1="230.8" y1="140.6" x2="230.8" y2="142.8" stroke="#777" stroke-width="0.5"/>
<line x1="236.6" y1="140.6" x2="236.6" y2="141.9" stroke="#777" stroke-width="0.5"/>
<line x1="242.4" y1="140.6" x2="242.4" y2="141.9" stroke="#777" stroke-width="0.5"/>
<line x1="248.2" y1="140.6" x2="248.2" y2="141.9" stroke="#777" stroke-width="0.5"/>
<line x1="254" y1="140.6" x2="254" y2="142.8" stroke="#777" stroke-width="0.5"/>
<line x1="259.8" y1="140.6" x2="259.8" y2="141.9" stroke="#777" stroke-width="0.5"/>
<line x1="265.6" y1="140.6" x2="265.6" y2="141.9" stroke="#777" stroke-width="0.5"/>
<g filter="url(#b03)">
<circle cx="260.63" cy="127.79" r="0.3" fill="#b8b8c8" fill-opacity="0.45"/>
<circle cx="233.32" cy="94.7" r="0.3" fill="#b8b8c8" fill-opacity="0.45"/>
<circle cx="245.88" cy="128.26" r="0.3" fill="#b8b8c8" fill-opacity="0.45"/>
<circle cx="229.92" cy="117.45" r="0.3" fill="#b8b8c8" fill-opacity="0.45"/>
<circle cx="255.25" cy="126.32" r="0.3" fill="#b8b8c8" fill-opacity="0.45"/>
<circle cx="212.83" cy="112.71" r="0.3" fill="#b8b8c8" fill-opacity="0.45"/>
<circle cx="213.43" cy="95.75" r="0.3" fill="#b8b8c8" fill-opacity="0.45"/>
<circle cx="254.03" cy="109.56" r="0.3" fill="#b8b8c8" fill-opacity="0.45"/>
<circle cx="243.44" cy="111.3" r="0.3" fill="#b8b8c8" fill-opacity="0.45"/>
<circle cx="229.71" cy="100.37" r="0.3" fill="#b8b8c8" fill-opacity="0.45"/>
<circle cx="230.64" cy="128.64" r="0.3" fill="#b8b8c8" fill-opacity="0.45"/>
<circle cx="244.18" cy="103.89" r="0.3" fill="#b8b8c8" fill-opacity="0.45"/>
<circle cx="217.09" cy="102.94" r="0.3" fill="#b8b8c8" fill-opacity="0.45"/>
<circle cx="248.36" cy="110.6" r="0.3" fill="#b8b8c8" fill-opacity="0.45"/>
<ellipse cx="220.3" cy="129" rx="3" ry="1" transform="rotate(-25 220.3 129)" fill="#505050" fill-opacity="0.36" filter="url(#b05)"/>
<circle cx="218.34" cy="128.9" r="0.35" fill="#333" fill-opacity="0.36"/>
<circle cx="222.36" cy="128.73" r="0.35" fill="#333" fill-opacity="0.36"/>
<circle cx="223.35" cy="127.89" r="0.35" fill="#333" fill-opacity="0.36"/>
<circle cx="221.01" cy="129.15" r="0.35" fill="#333" fill-opacity="0.36"/>
<circle cx="221.73" cy="128.17" r="0.35" fill="#333" fill-opacity="0.36"/>
<circle cx="221.38" cy="129.87" r="0.35" fill="#333" fill-opacity="0.36"/>
<circle cx="217.3" cy="129.5" r="0.35" fill="#333" fill-opacity="0.36"/>
<circle cx="218.97" cy="130.1" r="0.35" fill="#333" fill-opacity="0.36"/>
<circle cx="222.08" cy="127.95" r="0.35" fill="#333" fill-opacity="0.36"/>
<circle cx="221.34" cy="128.48" r="0.35" fill="#333" fill-opacity="0.36"/>
<circle cx="220.64" cy="128.5" r="0.35" fill="#333" fill-opacity="0.36"/>
<circle cx="220.26" cy="129.02" r="0.35" fill="#333" fill-opacity="0.36"/>
<circle cx="222.62" cy="129.34" r="0.35" fill="#333" fill-opacity="0.36"/>
<circle cx="217.58" cy="130.61" r="0.35" fill="#333" fill-opacity="0.36"/>
<circle cx="225.47" cy="127.2" r="0.3" fill="#999" fill-opacity="0.5"/>
<circle cx="227.79" cy="124.43" r="0.3" fill="#999" fill-opacity="0.5"/>
<circle cx="225.06" cy="122.91" r="0.3" fill="#999" fill-opacity="0.5"/>
<circle cx="222.28" cy="132.11" r="0.3" fill="#999" fill-opacity="0.5"/>
<circle cx="226.01" cy="121.95" r="0.3" fill="#999" fill-opacity="0.5"/>
<circle cx="228.19" cy="123.74" r="0.3" fill="#999" fill-opacity="0.5"/>
<circle cx="219.55" cy="132.95" r="0.3" fill="#999" fill-opacity="0.5"/>
<circle cx="223.38" cy="129.78" r="0.3" fill="#999" fill-opacity="0.5"/>
<circle cx="221.77" cy="126.71" r="0.3" fill="#999" fill-opacity="0.5"/>
<circle cx="220.35" cy="129.42" r="0.3" fill="#999" fill-opacity="0.5"/>
<ellipse cx="228" cy="117" rx="4.5" ry="2.8" transform="rotate(-52 228 117)" fill="#5c90d0" fill-opacity="0.6839999999999999" filter="url(#b1)"/>
<circle cx="228.92" cy="114.6" r="0.38" fill="#4a80c8" fill-opacity="0.475"/>
<circle cx="225.71" cy="123.49" r="0.38" fill="#4a80c8" fill-opacity="0.475"/>
<circle cx="231.77" cy="113.66" r="0.38" fill="#4a80c8" fill-opacity="0.475"/>
<circle cx="225.36" cy="117.87" r="0.38" fill="#4a80c8" fill-opacity="0.475"/>
<circle cx="224.75" cy="121.78" r="0.38" fill="#4a80c8" fill-opacity="0.475"/>
<circle cx="229.14" cy="113.64" r="0.38" fill="#4a80c8" fill-opacity="0.475"/>
<circle cx="227.25" cy="117.29" r="0.38" fill="#4a80c8" fill-opacity="0.475"/>
<circle cx="227.44" cy="118.48" r="0.38" fill="#4a80c8" fill-opacity="0.475"/>
<circle cx="231.08" cy="112.08" r="0.38" fill="#4a80c8" fill-opacity="0.475"/>
<circle cx="230.15" cy="116.3" r="0.38" fill="#4a80c8" fill-opacity="0.475"/>
<circle cx="226.8" cy="118.06" r="0.38" fill="#4a80c8" fill-opacity="0.475"/>
<circle cx="225.8" cy="121.47" r="0.38" fill="#4a80c8" fill-opacity="0.475"/>
<circle cx="225.87" cy="118.27" r="0.38" fill="#4a80c8" fill-opacity="0.475"/>
<circle cx="226.87" cy="116.7" r="0.38" fill="#4a80c8" fill-opacity="0.475"/>
<circle cx="225.17" cy="119.74" r="0.38" fill="#4a80c8" fill-opacity="0.475"/>
<circle cx="230.27" cy="113.83" r="0.38" fill="#4a80c8" fill-opacity="0.475"/>
<circle cx="227.25" cy="115.16" r="0.38" fill="#4a80c8" fill-opacity="0.475"/>
<circle cx="225.25" cy="123.45" r="0.38" fill="#4a80c8" fill-opacity="0.475"/>
<circle cx="225.35" cy="117.3" r="0.38" fill="#4a80c8" fill-opacity="0.475"/>
<circle cx="227.83" cy="118.2" r="0.38" fill="#4a80c8" fill-opacity="0.475"/>
<circle cx="223.29" cy="120.93" r="0.38" fill="#4a80c8" fill-opacity="0.475"/>
<circle cx="227.2" cy="116.2" r="0.38" fill="#4a80c8" fill-opacity="0.475"/>
<circle cx="229.93" cy="116.33" r="0.38" fill="#4a80c8" fill-opacity="0.475"/>
<circle cx="228" cy="116.13" r="0.38" fill="#4a80c8" fill-opacity="0.475"/>
<circle cx="226.85" cy="117.14" r="0.38" fill="#4a80c8" fill-opacity="0.475"/>
<circle cx="227.52" cy="118.05" r="0.38" fill="#4a80c8" fill-opacity="0.475"/>
<circle cx="227.77" cy="118.93" r="0.38" fill="#4a80c8" fill-opacity="0.475"/>
<circle cx="232.16" cy="110.96" r="0.38" fill="#4a80c8" fill-opacity="0.475"/>
<circle cx="228.91" cy="117.3" r="0.38" fill="#4a80c8" fill-opacity="0.475"/>
<circle cx="228.57" cy="115.8" r="0.38" fill="#4a80c8" fill-opacity="0.475"/>
<circle cx="227.44" cy="119.38" r="0.38" fill="#4a80c8" fill-opacity="0.475"/>
<circle cx="229.19" cy="116.4" r="0.38" fill="#4a80c8" fill-opacity="0.475"/>
<circle cx="226.46" cy="119.87" r="0.38" fill="#4a80c8" fill-opacity="0.475"/>
<circle cx="228.91" cy="115.48" r="0.38" fill="#4a80c8" fill-opacity="0.475"/>
<circle cx="230.71" cy="117.59" r="0.38" fill="#4a80c8" fill-opacity="0.475"/>
<circle cx="224.31" cy="122.4" r="0.38" fill="#4a80c8" fill-opacity="0.475"/>
<circle cx="223.96" cy="119.26" r="0.38" fill="#4a80c8" fill-opacity="0.475"/>
<circle cx="227.52" cy="118.46" r="0.38" fill="#4a80c8" fill-opacity="0.475"/>
<circle cx="226.57" cy="116.51" r="0.38" fill="#4a80c8" fill-opacity="0.475"/>
<circle cx="224.15" cy="120.49" r="0.38" fill="#4a80c8" fill-opacity="0.475"/>
<circle cx="227.95" cy="114.1" r="0.35" fill="#a8c8ec" fill-opacity="0.55"/>
<circle cx="227.74" cy="124.46" r="0.35" fill="#a8c8ec" fill-opacity="0.55"/>
<circle cx="226.33" cy="118.66" r="0.35" fill="#a8c8ec" fill-opacity="0.55"/>
<circle cx="226.5" cy="116.79" r="0.35" fill="#a8c8ec" fill-opacity="0.55"/>
<circle cx="229.06" cy="114.85" r="0.35" fill="#a8c8ec" fill-opacity="0.55"/>
<circle cx="229.33" cy="111.06" r="0.35" fill="#a8c8ec" fill-opacity="0.55"/>
<circle cx="228.17" cy="124.71" r="0.35" fill="#a8c8ec" fill-opacity="0.55"/>
<circle cx="230.72" cy="117.05" r="0.35" fill="#a8c8ec" fill-opacity="0.55"/>
<circle cx="234.6" cy="111.59" r="0.35" fill="#a8c8ec" fill-opacity="0.55"/>
<circle cx="226.63" cy="112.84" r="0.35" fill="#a8c8ec" fill-opacity="0.55"/>
<circle cx="225.91" cy="123.61" r="0.35" fill="#a8c8ec" fill-opacity="0.55"/>
<circle cx="232.91" cy="113.66" r="0.35" fill="#a8c8ec" fill-opacity="0.55"/>
<circle cx="219.71" cy="118.82" r="0.35" fill="#a8c8ec" fill-opacity="0.55"/>
<circle cx="223.61" cy="117.9" r="0.35" fill="#a8c8ec" fill-opacity="0.55"/>
<circle cx="228.07" cy="113.2" r="0.35" fill="#a8c8ec" fill-opacity="0.55"/>
<circle cx="233.72" cy="108.03" r="0.35" fill="#a8c8ec" fill-opacity="0.55"/>
<circle cx="229.24" cy="119.19" r="0.35" fill="#a8c8ec" fill-opacity="0.55"/>
<circle cx="228.89" cy="112.7" r="0.35" fill="#a8c8ec" fill-opacity="0.55"/>
<circle cx="236.03" cy="115.26" r="0.35" fill="#a8c8ec" fill-opacity="0.55"/>
<circle cx="224.82" cy="120.11" r="0.35" fill="#a8c8ec" fill-opacity="0.55"/>
<circle cx="222.06" cy="116.75" r="0.35" fill="#a8c8ec" fill-opacity="0.55"/>
<circle cx="233" cy="114.07" r="0.35" fill="#a8c8ec" fill-opacity="0.55"/>
<circle cx="233.67" cy="112.21" r="0.35" fill="#a8c8ec" fill-opacity="0.55"/>
<circle cx="222.54" cy="123.69" r="0.35" fill="#a8c8ec" fill-opacity="0.55"/>
<circle cx="224.93" cy="116.32" r="0.35" fill="#a8c8ec" fill-opacity="0.55"/>
<circle cx="227.18" cy="121.27" r="0.35" fill="#a8c8ec" fill-opacity="0.55"/>
<circle cx="232.28" cy="119.9" r="0.35" fill="#a8c8ec" fill-opacity="0.55"/>
<circle cx="227.42" cy="110.48" r="0.35" fill="#a8c8ec" fill-opacity="0.55"/>
<circle cx="234.99" cy="113.87" r="0.35" fill="#a8c8ec" fill-opacity="0.55"/>
<circle cx="227.26" cy="113.4" r="0.35" fill="#a8c8ec" fill-opacity="0.55"/>
<ellipse cx="243.5" cy="110" rx="7.92" ry="6.16" transform="rotate(-10 243.5 110)" fill="#ec9c58" fill-opacity="0.777" filter="url(#b1)"/>
<ellipse cx="237" cy="114" rx="3.5" ry="2.5" transform="rotate(-40 237 114)" fill="#eea666" fill-opacity="0.55" filter="url(#b1)"/>
<circle cx="250.07" cy="104.49" r="0.38" fill="#e48a40" fill-opacity="0.4"/>
<circle cx="242.07" cy="103.93" r="0.38" fill="#e48a40" fill-opacity="0.4"/>
<circle cx="237.35" cy="105.45" r="0.38" fill="#e48a40" fill-opacity="0.4"/>
<circle cx="248.67" cy="113" r="0.38" fill="#e48a40" fill-opacity="0.4"/>
<circle cx="241.05" cy="105.93" r="0.38" fill="#e48a40" fill-opacity="0.4"/>
<circle cx="243.47" cy="111.26" r="0.38" fill="#e48a40" fill-opacity="0.4"/>
<circle cx="236.52" cy="107.38" r="0.38" fill="#e48a40" fill-opacity="0.4"/>
<circle cx="243.48" cy="112.34" r="0.38" fill="#e48a40" fill-opacity="0.4"/>
<circle cx="244.06" cy="111.39" r="0.38" fill="#e48a40" fill-opacity="0.4"/>
<circle cx="236.91" cy="102.89" r="0.38" fill="#e48a40" fill-opacity="0.4"/>
<circle cx="244.27" cy="106.81" r="0.38" fill="#e48a40" fill-opacity="0.4"/>
<circle cx="242.77" cy="108.87" r="0.38" fill="#e48a40" fill-opacity="0.4"/>
<circle cx="245.05" cy="107.16" r="0.38" fill="#e48a40" fill-opacity="0.4"/>
<circle cx="249.51" cy="109.04" r="0.38" fill="#e48a40" fill-opacity="0.4"/>
<circle cx="246.05" cy="111.64" r="0.38" fill="#e48a40" fill-opacity="0.4"/>
<circle cx="248.04" cy="110.54" r="0.38" fill="#e48a40" fill-opacity="0.4"/>
<circle cx="235.88" cy="109.25" r="0.38" fill="#e48a40" fill-opacity="0.4"/>
<circle cx="251.5" cy="110.16" r="0.38" fill="#e48a40" fill-opacity="0.4"/>
<circle cx="246.1" cy="111.1" r="0.38" fill="#e48a40" fill-opacity="0.4"/>
<circle cx="240.45" cy="108.28" r="0.38" fill="#e48a40" fill-opacity="0.4"/>
<circle cx="241.47" cy="114.22" r="0.38" fill="#e48a40" fill-opacity="0.4"/>
<circle cx="246.03" cy="115.49" r="0.38" fill="#e48a40" fill-opacity="0.4"/>
<circle cx="246.65" cy="115.75" r="0.38" fill="#e48a40" fill-opacity="0.4"/>
<circle cx="244.73" cy="105.83" r="0.38" fill="#e48a40" fill-opacity="0.4"/>
<circle cx="250.94" cy="109.82" r="0.38" fill="#e48a40" fill-opacity="0.4"/>
<circle cx="248.59" cy="109.82" r="0.38" fill="#e48a40" fill-opacity="0.4"/>
<circle cx="242.23" cy="110.79" r="0.38" fill="#e48a40" fill-opacity="0.4"/>
<circle cx="238.14" cy="106.95" r="0.38" fill="#e48a40" fill-opacity="0.4"/>
<circle cx="239.5" cy="108.95" r="0.38" fill="#e48a40" fill-opacity="0.4"/>
<circle cx="237.79" cy="110.66" r="0.38" fill="#e48a40" fill-opacity="0.4"/>
<circle cx="245.93" cy="116.36" r="0.38" fill="#e48a40" fill-opacity="0.4"/>
<circle cx="251.15" cy="108.48" r="0.38" fill="#e48a40" fill-opacity="0.4"/>
<circle cx="247.07" cy="108.64" r="0.38" fill="#e48a40" fill-opacity="0.4"/>
<circle cx="245.11" cy="109.6" r="0.38" fill="#e48a40" fill-opacity="0.4"/>
<circle cx="241.29" cy="110.64" r="0.38" fill="#e48a40" fill-opacity="0.4"/>
<circle cx="237.57" cy="112.52" r="0.38" fill="#e48a40" fill-opacity="0.4"/>
<circle cx="241.67" cy="106.69" r="0.38" fill="#e48a40" fill-opacity="0.4"/>
<circle cx="242.31" cy="112.07" r="0.38" fill="#e48a40" fill-opacity="0.4"/>
<circle cx="240.93" cy="112.05" r="0.38" fill="#e48a40" fill-opacity="0.4"/>
<circle cx="246.78" cy="114.65" r="0.38" fill="#e48a40" fill-opacity="0.4"/>
<circle cx="238.89" cy="110.44" r="0.38" fill="#e48a40" fill-opacity="0.4"/>
<circle cx="246.5" cy="114.51" r="0.38" fill="#e48a40" fill-opacity="0.4"/>
<circle cx="245.03" cy="112.26" r="0.38" fill="#e48a40" fill-opacity="0.4"/>
<circle cx="237.02" cy="109.18" r="0.38" fill="#e48a40" fill-opacity="0.4"/>
<circle cx="250.3" cy="107.85" r="0.38" fill="#e48a40" fill-opacity="0.4"/>
<circle cx="252.14" cy="106.03" r="0.38" fill="#e48a40" fill-opacity="0.4"/>
<circle cx="241.42" cy="105.01" r="0.38" fill="#e48a40" fill-opacity="0.4"/>
<circle cx="246.32" cy="110.39" r="0.38" fill="#e48a40" fill-opacity="0.4"/>
<circle cx="252.06" cy="109.05" r="0.38" fill="#e48a40" fill-opacity="0.4"/>
<circle cx="241.64" cy="105.59" r="0.38" fill="#e48a40" fill-opacity="0.4"/>
<circle cx="243.7" cy="113.15" r="0.38" fill="#e48a40" fill-opacity="0.4"/>
<circle cx="247.31" cy="113.46" r="0.38" fill="#e48a40" fill-opacity="0.4"/>
<circle cx="247.1" cy="109.21" r="0.38" fill="#e48a40" fill-opacity="0.4"/>
<circle cx="246.14" cy="110.12" r="0.38" fill="#e48a40" fill-opacity="0.4"/>
<circle cx="238.89" cy="116.58" r="0.38" fill="#e48a40" fill-opacity="0.4"/>
<circle cx="244.47" cy="106.29" r="0.38" fill="#e48a40" fill-opacity="0.4"/>
<circle cx="245.28" cy="110.66" r="0.38" fill="#e48a40" fill-opacity="0.4"/>
<circle cx="248.52" cy="113.98" r="0.38" fill="#e48a40" fill-opacity="0.4"/>
<circle cx="231.04" cy="114.07" r="0.38" fill="#e48a40" fill-opacity="0.4"/>
<circle cx="249.39" cy="105.76" r="0.38" fill="#e48a40" fill-opacity="0.4"/>
<circle cx="235.85" cy="112.29" r="0.38" fill="#e48a40" fill-opacity="0.4"/>
<circle cx="245.12" cy="110.9" r="0.38" fill="#e48a40" fill-opacity="0.4"/>
<circle cx="238.56" cy="109.29" r="0.38" fill="#e48a40" fill-opacity="0.4"/>
<circle cx="244.75" cy="112.29" r="0.38" fill="#e48a40" fill-opacity="0.4"/>
<circle cx="252.9" cy="109.34" r="0.38" fill="#e48a40" fill-opacity="0.4"/>
<circle cx="239.6" cy="102.72" r="0.38" fill="#e48a40" fill-opacity="0.4"/>
<circle cx="247.95" cy="108.77" r="0.38" fill="#e48a40" fill-opacity="0.4"/>
<circle cx="242.47" cy="106.84" r="0.38" fill="#e48a40" fill-opacity="0.4"/>
<circle cx="245.56" cy="103.58" r="0.38" fill="#e48a40" fill-opacity="0.4"/>
<circle cx="244.03" cy="110.32" r="0.38" fill="#e48a40" fill-opacity="0.4"/>
<circle cx="245.52" cy="114.06" r="0.38" fill="#e48a40" fill-opacity="0.4"/>
<circle cx="243.14" cy="110.38" r="0.38" fill="#e48a40" fill-opacity="0.4"/>
<circle cx="246.22" cy="104.28" r="0.38" fill="#e48a40" fill-opacity="0.4"/>
<circle cx="242.31" cy="110.44" r="0.38" fill="#e48a40" fill-opacity="0.4"/>
<circle cx="247.07" cy="106.66" r="0.38" fill="#e48a40" fill-opacity="0.4"/>
<circle cx="248.92" cy="111" r="0.35" fill="#f4c090" fill-opacity="0.55"/>
<circle cx="232.8" cy="104.38" r="0.35" fill="#f4c090" fill-opacity="0.55"/>
<circle cx="234.55" cy="112.29" r="0.35" fill="#f4c090" fill-opacity="0.55"/>
<circle cx="245.44" cy="113.33" r="0.35" fill="#f4c090" fill-opacity="0.55"/>
<circle cx="248.22" cy="106.36" r="0.35" fill="#f4c090" fill-opacity="0.55"/>
<circle cx="250.99" cy="112.84" r="0.35" fill="#f4c090" fill-opacity="0.55"/>
<circle cx="246.91" cy="111.83" r="0.35" fill="#f4c090" fill-opacity="0.55"/>
<circle cx="235.66" cy="113.22" r="0.35" fill="#f4c090" fill-opacity="0.55"/>
<circle cx="235.92" cy="105.28" r="0.35" fill="#f4c090" fill-opacity="0.55"/>
<circle cx="241.4" cy="111.08" r="0.35" fill="#f4c090" fill-opacity="0.55"/>
<circle cx="242.87" cy="108.43" r="0.35" fill="#f4c090" fill-opacity="0.55"/>
<circle cx="237.32" cy="112.04" r="0.35" fill="#f4c090" fill-opacity="0.55"/>
<circle cx="237.57" cy="103.88" r="0.35" fill="#f4c090" fill-opacity="0.55"/>
<circle cx="245.36" cy="117.07" r="0.35" fill="#f4c090" fill-opacity="0.55"/>
<circle cx="240.01" cy="105.21" r="0.35" fill="#f4c090" fill-opacity="0.55"/>
<circle cx="253.78" cy="116.9" r="0.35" fill="#f4c090" fill-opacity="0.55"/>
<circle cx="241.45" cy="109.29" r="0.35" fill="#f4c090" fill-opacity="0.55"/>
<circle cx="247.41" cy="124.33" r="0.35" fill="#f4c090" fill-opacity="0.55"/>
<circle cx="245.21" cy="114.76" r="0.35" fill="#f4c090" fill-opacity="0.55"/>
<circle cx="244.73" cy="100.52" r="0.35" fill="#f4c090" fill-opacity="0.55"/>
<circle cx="235.43" cy="105.15" r="0.35" fill="#f4c090" fill-opacity="0.55"/>
<circle cx="246.34" cy="110.04" r="0.35" fill="#f4c090" fill-opacity="0.55"/>
<circle cx="254.63" cy="106.66" r="0.35" fill="#f4c090" fill-opacity="0.55"/>
<circle cx="245.52" cy="110.03" r="0.35" fill="#f4c090" fill-opacity="0.55"/>
<circle cx="246.4" cy="121.29" r="0.35" fill="#f4c090" fill-opacity="0.55"/>
<ellipse cx="231.5" cy="100.8" rx="5" ry="4" transform="rotate(0 231.5 100.8)" fill="#9898cc" fill-opacity="0.30400000000000005" filter="url(#b1)"/>
<ellipse cx="231.5" cy="101.4" rx="1.8" ry="1.5" transform="rotate(0 231.5 101.4)" fill="#404080" fill-opacity="0.36000000000000004" filter="url(#b05)"/>
<circle cx="231.98" cy="103.65" r="0.38" fill="#34346e" fill-opacity="0.65"/>
<circle cx="233.7" cy="100.75" r="0.38" fill="#34346e" fill-opacity="0.65"/>
<circle cx="232.66" cy="101.07" r="0.38" fill="#34346e" fill-opacity="0.65"/>
<circle cx="231.69" cy="101.82" r="0.38" fill="#34346e" fill-opacity="0.65"/>
<circle cx="231.54" cy="100.95" r="0.38" fill="#34346e" fill-opacity="0.65"/>
<circle cx="234.14" cy="101.23" r="0.38" fill="#34346e" fill-opacity="0.65"/>
<circle cx="232.69" cy="103.94" r="0.38" fill="#34346e" fill-opacity="0.65"/>
<circle cx="232.56" cy="103.03" r="0.38" fill="#34346e" fill-opacity="0.65"/>
<circle cx="233.85" cy="103.12" r="0.38" fill="#34346e" fill-opacity="0.65"/>
<circle cx="234.41" cy="99.61" r="0.38" fill="#34346e" fill-opacity="0.65"/>
<circle cx="234.82" cy="101.64" r="0.38" fill="#34346e" fill-opacity="0.65"/>
<circle cx="228.54" cy="100.71" r="0.38" fill="#34346e" fill-opacity="0.65"/>
<circle cx="229.14" cy="101.57" r="0.38" fill="#34346e" fill-opacity="0.65"/>
<circle cx="228.97" cy="100.19" r="0.38" fill="#34346e" fill-opacity="0.65"/>
<circle cx="232" cy="101.82" r="0.38" fill="#34346e" fill-opacity="0.65"/>
<circle cx="230.15" cy="101.27" r="0.38" fill="#34346e" fill-opacity="0.65"/>
<circle cx="231.33" cy="101.7" r="0.38" fill="#34346e" fill-opacity="0.65"/>
<circle cx="231.49" cy="101.29" r="0.38" fill="#34346e" fill-opacity="0.65"/>
<circle cx="232.99" cy="99.36" r="0.38" fill="#34346e" fill-opacity="0.65"/>
<circle cx="230.66" cy="101.79" r="0.38" fill="#34346e" fill-opacity="0.65"/>
<circle cx="230.82" cy="100.83" r="0.38" fill="#34346e" fill-opacity="0.65"/>
<circle cx="230.76" cy="101.89" r="0.38" fill="#34346e" fill-opacity="0.65"/>
<circle cx="233.61" cy="101.34" r="0.38" fill="#34346e" fill-opacity="0.65"/>
<circle cx="231.05" cy="102.1" r="0.38" fill="#34346e" fill-opacity="0.65"/>
<circle cx="231.13" cy="95.89" r="0.35" fill="#8080c0" fill-opacity="0.5"/>
<circle cx="232.96" cy="100.24" r="0.35" fill="#8080c0" fill-opacity="0.5"/>
<circle cx="229.94" cy="103.06" r="0.35" fill="#8080c0" fill-opacity="0.5"/>
<circle cx="232.16" cy="99.72" r="0.35" fill="#8080c0" fill-opacity="0.5"/>
<circle cx="224.17" cy="96.49" r="0.35" fill="#8080c0" fill-opacity="0.5"/>
<circle cx="232.05" cy="100.97" r="0.35" fill="#8080c0" fill-opacity="0.5"/>
<circle cx="233.58" cy="101.92" r="0.35" fill="#8080c0" fill-opacity="0.5"/>
<circle cx="230.28" cy="97.76" r="0.35" fill="#8080c0" fill-opacity="0.5"/>
<circle cx="228.06" cy="100.91" r="0.35" fill="#8080c0" fill-opacity="0.5"/>
<circle cx="227.87" cy="103.41" r="0.35" fill="#8080c0" fill-opacity="0.5"/>
<circle cx="227.23" cy="96.29" r="0.35" fill="#8080c0" fill-opacity="0.5"/>
<circle cx="231.3" cy="96.33" r="0.35" fill="#8080c0" fill-opacity="0.5"/>
<circle cx="237.86" cy="98.52" r="0.35" fill="#8080c0" fill-opacity="0.5"/>
<circle cx="231.81" cy="100.62" r="0.35" fill="#8080c0" fill-opacity="0.5"/>
<circle cx="229.05" cy="96.35" r="0.35" fill="#8080c0" fill-opacity="0.5"/>
<circle cx="225.3" cy="103.72" r="0.35" fill="#8080c0" fill-opacity="0.5"/>
<circle cx="235.68" cy="107.36" r="0.35" fill="#8080c0" fill-opacity="0.5"/>
<circle cx="226.74" cy="102.87" r="0.35" fill="#8080c0" fill-opacity="0.5"/>
<circle cx="231.95" cy="103.67" r="0.35" fill="#8080c0" fill-opacity="0.5"/>
<circle cx="230.15" cy="103.32" r="0.35" fill="#8080c0" fill-opacity="0.5"/>
<circle cx="235.22" cy="103" r="0.35" fill="#8080c0" fill-opacity="0.5"/>
<circle cx="237.21" cy="100.81" r="0.35" fill="#8080c0" fill-opacity="0.5"/>
<circle cx="237.56" cy="99.34" r="0.35" fill="#8080c0" fill-opacity="0.5"/>
<circle cx="238" cy="93.61" r="0.35" fill="#8080c0" fill-opacity="0.5"/>
<circle cx="233.73" cy="106.91" r="0.3" fill="#a8a8c0" fill-opacity="0.45"/>
<circle cx="240.15" cy="113.44" r="0.3" fill="#a8a8c0" fill-opacity="0.45"/>
<circle cx="239.88" cy="107.09" r="0.3" fill="#a8a8c0" fill-opacity="0.45"/>
<circle cx="238.5" cy="97.36" r="0.3" fill="#a8a8c0" fill-opacity="0.45"/>
<circle cx="238.38" cy="118.59" r="0.3" fill="#a8a8c0" fill-opacity="0.45"/>
<circle cx="230.56" cy="101.07" r="0.3" fill="#a8a8c0" fill-opacity="0.45"/>
<circle cx="233.76" cy="104.17" r="0.3" fill="#a8a8c0" fill-opacity="0.45"/>
<circle cx="246.81" cy="107.58" r="0.3" fill="#a8a8c0" fill-opacity="0.45"/>
<circle cx="238.75" cy="116.69" r="0.3" fill="#a8a8c0" fill-opacity="0.45"/>
<circle cx="236.22" cy="116.59" r="0.3" fill="#a8a8c0" fill-opacity="0.45"/>
<circle cx="238.51" cy="106.89" r="0.3" fill="#a8a8c0" fill-opacity="0.45"/>
<circle cx="229.48" cy="114.84" r="0.3" fill="#a8a8c0" fill-opacity="0.45"/>
<circle cx="224.79" cy="117.52" r="0.3" fill="#a8a8c0" fill-opacity="0.45"/>
<circle cx="232.95" cy="121.95" r="0.3" fill="#a8a8c0" fill-opacity="0.45"/>
<circle cx="223.8" cy="105.3" r="0.3" fill="#a8a8c0" fill-opacity="0.45"/>
<circle cx="240.28" cy="108.63" r="0.3" fill="#a8a8c0" fill-opacity="0.45"/>
<circle cx="241.84" cy="119.44" r="0.3" fill="#a8a8c0" fill-opacity="0.45"/>
<circle cx="240.02" cy="106.75" r="0.3" fill="#a8a8c0" fill-opacity="0.45"/>
</g>
<text x="266" y="87.8" font-size="5.2" fill="#222" text-anchor="end" font-family="Liberation Serif" stroke="#222" stroke-width="0.15">24 hr</text>
<text x="262.5" y="136.2" font-size="6.6" fill="#222" text-anchor="end" textLength="11.8" lengthAdjust="spacingAndGlyphs" font-family="Liberation Serif" stroke="#222" stroke-width="0.15">24.8</text>
<text x="15.2" y="25" font-size="4.5" fill="#e8c0a0" textLength="6.3" lengthAdjust="spacingAndGlyphs" stroke="#e8c0a0" stroke-width="0.1">NEU</text>
<text x="23.4" y="25" font-size="4.5" fill="#a0b4cc" textLength="6.3" lengthAdjust="spacingAndGlyphs" stroke="#a0b4cc" stroke-width="0.1">LYM</text>
<text x="31.6" y="25" font-size="4.5" fill="#202030" textLength="10.8" lengthAdjust="spacingAndGlyphs" stroke="#202030" stroke-width="0.1">MONO</text>
<text x="44.9" y="25" font-size="4.5" fill="#a8a8a8" textLength="6.9" lengthAdjust="spacingAndGlyphs" stroke="#a8a8a8" stroke-width="0.1">EOS</text>
<text x="53.7" y="25" font-size="4.5" fill="#303030" textLength="8.9" lengthAdjust="spacingAndGlyphs" stroke="#303030" stroke-width="0.1">BASO</text>
<text x="13.6" y="147.6" font-size="3.7" fill="#222" textLength="31.5" lengthAdjust="spacingAndGlyphs" stroke="#222" stroke-width="0.12">↑↑ - COMPLEXITY</text>
<text transform="translate(9.0,140.2) rotate(-90)" font-size="3.7" fill="#222" stroke="#222" stroke-width="0.12" textLength="10.8" lengthAdjust="spacingAndGlyphs">↑ SIZE</text>
<rect x="22.4" y="185.2" width="109.9" height="58.6" fill="#fff" stroke="#222" stroke-width="0.7"/>
<line x1="20.2" y1="243.5" x2="22.4" y2="243.5" stroke="#000" stroke-width="0.6"/>
<text x="16.8" y="245.1" font-size="4.4" fill="#111" text-anchor="end" font-weight="bold">0</text>
<line x1="21.3" y1="240.76" x2="22.4" y2="240.76" stroke="#000" stroke-width="0.4"/>
<line x1="21.3" y1="238.02" x2="22.4" y2="238.02" stroke="#000" stroke-width="0.4"/>
<line x1="21.3" y1="235.28" x2="22.4" y2="235.28" stroke="#000" stroke-width="0.4"/>
<line x1="20.2" y1="232.54" x2="22.4" y2="232.54" stroke="#000" stroke-width="0.6"/>
<text x="16.8" y="234.14" font-size="4.4" fill="#111" text-anchor="end" font-weight="bold">20</text>
<line x1="21.3" y1="229.8" x2="22.4" y2="229.8" stroke="#000" stroke-width="0.4"/>
<line x1="21.3" y1="227.06" x2="22.4" y2="227.06" stroke="#000" stroke-width="0.4"/>
<line x1="21.3" y1="224.32" x2="22.4" y2="224.32" stroke="#000" stroke-width="0.4"/>
<line x1="20.2" y1="221.58" x2="22.4" y2="221.58" stroke="#000" stroke-width="0.6"/>
<text x="16.8" y="223.18" font-size="4.4" fill="#111" text-anchor="end" font-weight="bold">40</text>
<line x1="21.3" y1="218.84" x2="22.4" y2="218.84" stroke="#000" stroke-width="0.4"/>
<line x1="21.3" y1="216.1" x2="22.4" y2="216.1" stroke="#000" stroke-width="0.4"/>
<line x1="21.3" y1="213.36" x2="22.4" y2="213.36" stroke="#000" stroke-width="0.4"/>
<line x1="20.2" y1="210.62" x2="22.4" y2="210.62" stroke="#000" stroke-width="0.6"/>
<text x="16.8" y="212.22" font-size="4.4" fill="#111" text-anchor="end" font-weight="bold">60</text>
<line x1="21.3" y1="207.88" x2="22.4" y2="207.88" stroke="#000" stroke-width="0.4"/>
<line x1="21.3" y1="205.14" x2="22.4" y2="205.14" stroke="#000" stroke-width="0.4"/>
<line x1="21.3" y1="202.4" x2="22.4" y2="202.4" stroke="#000" stroke-width="0.4"/>
<line x1="20.2" y1="199.66" x2="22.4" y2="199.66" stroke="#000" stroke-width="0.6"/>
<text x="16.8" y="201.26" font-size="4.4" fill="#111" text-anchor="end" font-weight="bold">80</text>
<line x1="21.3" y1="196.92" x2="22.4" y2="196.92" stroke="#000" stroke-width="0.4"/>
<line x1="21.3" y1="194.18" x2="22.4" y2="194.18" stroke="#000" stroke-width="0.4"/>
<line x1="21.3" y1="191.44" x2="22.4" y2="191.44" stroke="#000" stroke-width="0.4"/>
<line x1="20.2" y1="188.7" x2="22.4" y2="188.7" stroke="#000" stroke-width="0.6"/>
<text x="16.8" y="190.3" font-size="4.4" fill="#111" text-anchor="end" font-weight="bold">100</text>
<line x1="22.4" y1="243.8" x2="22.4" y2="246" stroke="#000" stroke-width="0.6"/>
<text x="23.4" y="250.6" font-size="4.7" fill="#111" text-anchor="middle" font-weight="bold">10<tspan font-size="3.5" dx="1.0" dy="-0.9">0</tspan></text>
<line x1="30.67" y1="243.8" x2="30.67" y2="245" stroke="#000" stroke-width="0.4"/>
<line x1="35.51" y1="243.8" x2="35.51" y2="245" stroke="#000" stroke-width="0.4"/>
<line x1="38.94" y1="243.8" x2="38.94" y2="245" stroke="#000" stroke-width="0.4"/>
<line x1="41.6" y1="243.8" x2="41.6" y2="245" stroke="#000" stroke-width="0.4"/>
<line x1="43.78" y1="243.8" x2="43.78" y2="245" stroke="#000" stroke-width="0.4"/>
<line x1="45.62" y1="243.8" x2="45.62" y2="245" stroke="#000" stroke-width="0.4"/>
<line x1="47.21" y1="243.8" x2="47.21" y2="245" stroke="#000" stroke-width="0.4"/>
<line x1="48.62" y1="243.8" x2="48.62" y2="245" stroke="#000" stroke-width="0.4"/>
<line x1="49.88" y1="243.8" x2="49.88" y2="246" stroke="#000" stroke-width="0.6"/>
<text x="50.88" y="250.6" font-size="4.7" fill="#111" text-anchor="middle" font-weight="bold">10<tspan font-size="3.5" dx="1.0" dy="-0.9">1</tspan></text>
<line x1="58.15" y1="243.8" x2="58.15" y2="245" stroke="#000" stroke-width="0.4"/>
<line x1="62.98" y1="243.8" x2="62.98" y2="245" stroke="#000" stroke-width="0.4"/>
<line x1="66.42" y1="243.8" x2="66.42" y2="245" stroke="#000" stroke-width="0.4"/>
<line x1="69.08" y1="243.8" x2="69.08" y2="245" stroke="#000" stroke-width="0.4"/>
<line x1="71.25" y1="243.8" x2="71.25" y2="245" stroke="#000" stroke-width="0.4"/>
<line x1="73.09" y1="243.8" x2="73.09" y2="245" stroke="#000" stroke-width="0.4"/>
<line x1="74.69" y1="243.8" x2="74.69" y2="245" stroke="#000" stroke-width="0.4"/>
<line x1="76.09" y1="243.8" x2="76.09" y2="245" stroke="#000" stroke-width="0.4"/>
<line x1="77.35" y1="243.8" x2="77.35" y2="246" stroke="#000" stroke-width="0.6"/>
<text x="78.35" y="250.6" font-size="4.7" fill="#111" text-anchor="middle" font-weight="bold">10<tspan font-size="3.5" dx="1.0" dy="-0.9">2</tspan></text>
<line x1="85.62" y1="243.8" x2="85.62" y2="245" stroke="#000" stroke-width="0.4"/>
<line x1="90.46" y1="243.8" x2="90.46" y2="245" stroke="#000" stroke-width="0.4"/>
<line x1="93.89" y1="243.8" x2="93.89" y2="245" stroke="#000" stroke-width="0.4"/>
<line x1="96.55" y1="243.8" x2="96.55" y2="245" stroke="#000" stroke-width="0.4"/>
<line x1="98.73" y1="243.8" x2="98.73" y2="245" stroke="#000" stroke-width="0.4"/>
<line x1="100.57" y1="243.8" x2="100.57" y2="245" stroke="#000" stroke-width="0.4"/>
<line x1="102.16" y1="243.8" x2="102.16" y2="245" stroke="#000" stroke-width="0.4"/>
<line x1="103.57" y1="243.8" x2="103.57" y2="245" stroke="#000" stroke-width="0.4"/>
<line x1="104.83" y1="243.8" x2="104.83" y2="246" stroke="#000" stroke-width="0.6"/>
<text x="105.83" y="250.6" font-size="4.7" fill="#111" text-anchor="middle" font-weight="bold">10<tspan font-size="3.5" dx="1.0" dy="-0.9">3</tspan></text>
<line x1="113.1" y1="243.8" x2="113.1" y2="245" stroke="#000" stroke-width="0.4"/>
<line x1="117.93" y1="243.8" x2="117.93" y2="245" stroke="#000" stroke-width="0.4"/>
<line x1="121.37" y1="243.8" x2="121.37" y2="245" stroke="#000" stroke-width="0.4"/>
<line x1="124.03" y1="243.8" x2="124.03" y2="245" stroke="#000" stroke-width="0.4"/>
<line x1="126.2" y1="243.8" x2="126.2" y2="245" stroke="#000" stroke-width="0.4"/>
<line x1="128.04" y1="243.8" x2="128.04" y2="245" stroke="#000" stroke-width="0.4"/>
<line x1="129.64" y1="243.8" x2="129.64" y2="245" stroke="#000" stroke-width="0.4"/>
<line x1="131.04" y1="243.8" x2="131.04" y2="245" stroke="#000" stroke-width="0.4"/>
<line x1="132.3" y1="243.8" x2="132.3" y2="246" stroke="#000" stroke-width="0.6"/>
<text x="133.3" y="250.6" font-size="4.7" fill="#111" text-anchor="middle" font-weight="bold">10<tspan font-size="3.5" dx="1.0" dy="-0.9">4</tspan></text>
<text x="78.5" y="182.2" font-size="9" fill="#000" text-anchor="middle" stroke="#000" stroke-width="0.18">Neutrophils</text>
<text x="78.5" y="258" font-size="5" fill="#111" text-anchor="middle" font-weight="bold">mAb 24</text>
<text transform="translate(9.4,212.2) rotate(-90)" font-size="5.4" font-weight="bold" fill="#111" text-anchor="middle">% of Max</text>
<polyline points="22.4,243.28 23.13,243.28 23.87,243.28 24.6,243.28 25.33,243.28 26.06,243.28 26.8,243.28 27.53,243.28 28.26,243.28 28.99,243.28 29.73,243.28 30.46,243.28 31.19,243.28 31.92,243.28 32.66,243.28 33.39,243.28 34.12,243.28 34.86,243.28 35.59,243.28 36.32,243.28 37.05,243.28 37.79,243.28 38.52,243.28 39.25,243.28 39.98,243.28 40.72,243.28 41.45,243.28 42.18,243.28 42.91,243.28 43.65,243.28 44.38,243.28 45.11,243.28 45.85,243.28 46.58,243.28 47.31,243.28 48.04,243.28 48.78,243.28 49.51,243.28 50.24,243.28 50.97,243.28 51.71,243.28 52.44,243.28 53.17,243.28 53.9,243.28 54.64,243.28 55.37,243.28 56.1,243.28 56.84,243.28 57.57,243.28 58.3,243.28 59.03,243.27 59.77,243.15 60.5,243.04 61.23,242.85 61.96,242.84 62.7,241.65 63.43,241.59 64.16,240.05 64.89,239.39 65.63,237.47 66.36,236.04 67.09,233.62 67.83,232.03 68.56,228.77 69.29,223.89 70.02,219.33 70.76,216.25 71.49,214.35 72.22,211.48 72.95,204.22 73.69,196.01 74.42,193.25 75.15,195.28 75.88,197.1 76.62,194.37 77.35,189.82 78.08,188.7 78.82,192.95 79.55,197.88 80.28,201.78 81.01,203.46 81.75,206.89 82.48,212.4 83.21,217.3 83.94,220.73 84.68,224.55 85.41,227.99 86.14,231.11 86.87,234.07 87.61,235.93 88.34,237.49 89.07,239.54 89.81,240.83 90.54,241.43 91.27,242.16 92,242.64 92.74,242.73 93.47,243.03 94.2,243.14 94.93,243.28 95.67,243.28 96.4,243.28 97.13,243.28 97.86,243.28 98.6,243.28 99.33,243.28 100.06,243.28 100.8,243.28 101.53,243.28 102.26,243.28 102.99,243.28 103.73,243.28 104.46,243.28 105.19,243.28 105.92,243.28 106.66,243.28 107.39,243.28 108.12,243.28 108.85,243.28 109.59,243.28 110.32,243.28 111.05,243.28 111.79,243.28 112.52,243.28 113.25,243.28 113.98,243.28 114.72,243.28 115.45,243.28 116.18,243.28 116.91,243.28 117.65,243.28 118.38,243.28 119.11,243.28 119.84,243.28 120.58,243.28 121.31,243.28 122.04,243.28 122.78,243.28 123.51,243.28 124.24,243.28 124.97,243.28 125.71,243.28 126.44,243.28 127.17,243.28 127.9,243.28 128.64,243.28 129.37,243.28 130.1,243.28 130.83,243.28 131.57,243.28 132.3,243.28" fill="none" stroke="#3a0a04" stroke-width="0.75" stroke-linejoin="round" stroke-opacity="0.95"/>
<polyline points="22.4,243.28 23.13,243.28 23.87,243.28 24.6,243.28 25.33,243.28 26.06,243.28 26.8,243.28 27.53,243.28 28.26,243.28 28.99,243.28 29.73,243.28 30.46,243.28 31.19,243.28 31.92,243.28 32.66,243.28 33.39,243.28 34.12,243.28 34.86,243.28 35.59,243.28 36.32,243.28 37.05,243.28 37.79,243.28 38.52,243.28 39.25,243.28 39.98,243.28 40.72,243.28 41.45,243.28 42.18,243.28 42.91,243.28 43.65,243.28 44.38,243.28 45.11,243.28 45.85,243.28 46.58,243.28 47.31,243.28 48.04,243.28 48.78,243.28 49.51,243.28 50.24,243.28 50.97,243.28 51.71,243.28 52.44,243.28 53.17,243.28 53.9,243.28 54.64,243.28 55.37,243.28 56.1,243.28 56.84,243.28 57.57,243.28 58.3,243.11 59.03,243.06 59.77,242.9 60.5,242.14 61.23,242.32 61.96,241.57 62.7,240.14 63.43,238.86 64.16,237.26 64.89,236.09 65.63,234.1 66.36,230.5 67.09,226.18 67.83,221.73 68.56,217.41 69.29,214.45 70.02,212.53 70.76,208.23 71.49,201.77 72.22,197.52 72.95,195.53 73.69,192.71 74.42,188.88 75.15,188.7 75.88,191.52 76.62,194.13 77.35,197.71 78.08,202.06 78.82,204.45 79.55,205.56 80.28,207.67 81.01,213.36 81.75,220.1 82.48,224.83 83.21,228.44 83.94,230.46 84.68,232.77 85.41,234.79 86.14,236.63 86.87,238.52 87.61,240.65 88.34,241.15 89.07,241.62 89.81,242.12 90.54,242.66 91.27,242.98 92,243.03 92.74,243.21 93.47,243.28 94.2,243.28 94.93,243.28 95.67,243.28 96.4,243.28 97.13,243.28 97.86,243.28 98.6,243.28 99.33,243.28 100.06,243.28 100.8,243.28 101.53,243.28 102.26,243.28 102.99,243.28 103.73,243.28 104.46,243.28 105.19,243.28 105.92,243.28 106.66,243.28 107.39,243.28 108.12,243.28 108.85,243.28 109.59,243.28 110.32,243.28 111.05,243.28 111.79,243.28 112.52,243.28 113.25,243.28 113.98,243.28 114.72,243.28 115.45,243.28 116.18,243.28 116.91,243.28 117.65,243.28 118.38,243.28 119.11,243.28 119.84,243.28 120.58,243.28 121.31,243.28 122.04,243.28 122.78,243.28 123.51,243.28 124.24,243.28 124.97,243.28 125.71,243.28 126.44,243.28 127.17,243.28 127.9,243.28 128.64,243.28 129.37,243.28 130.1,243.28 130.83,243.28 131.57,243.28 132.3,243.28" fill="none" stroke="#984858" stroke-width="0.75" stroke-linejoin="round" stroke-opacity="0.95"/>
<polyline points="22.4,243.28 23.13,243.28 23.87,243.28 24.6,243.28 25.33,243.28 26.06,243.28 26.8,243.28 27.53,243.28 28.26,243.28 28.99,243.28 29.73,243.28 30.46,243.28 31.19,243.28 31.92,243.28 32.66,243.28 33.39,243.28 34.12,243.28 34.86,243.28 35.59,243.28 36.32,243.28 37.05,243.28 37.79,243.28 38.52,243.28 39.25,243.28 39.98,243.28 40.72,243.28 41.45,243.28 42.18,243.28 42.91,243.28 43.65,243.28 44.38,243.28 45.11,243.28 45.85,243.28 46.58,243.28 47.31,243.28 48.04,243.28 48.78,243.28 49.51,243.28 50.24,243.28 50.97,243.28 51.71,243.28 52.44,243.28 53.17,243.28 53.9,243.28 54.64,243.28 55.37,243.28 56.1,243.28 56.84,243.28 57.57,243.28 58.3,243.28 59.03,243.28 59.77,243.03 60.5,242.91 61.23,242.64 61.96,241.98 62.7,241.31 63.43,240.83 64.16,239.43 64.89,238.06 65.63,236.82 66.36,235.91 67.09,233.14 67.83,228.24 68.56,225.18 69.29,222.59 70.02,218.48 70.76,214.87 71.49,211.26 72.22,204.99 72.95,200.53 73.69,200.93 74.42,197.89 75.15,190.71 75.88,188.7 76.62,194.35 77.35,196.86 78.08,196.54 78.82,197.76 79.55,197.22 80.28,200.33 81.01,209.49 81.75,216.06 82.48,216.88 83.21,219.51 83.94,225.85 84.68,229.81 85.41,231.05 86.14,233.79 86.87,236.29 87.61,238.46 88.34,240 89.07,241.16 89.81,241.7 90.54,242.18 91.27,242.47 92,243 92.74,243.17 93.47,243.24 94.2,243.28 94.93,243.28 95.67,243.28 96.4,243.28 97.13,243.28 97.86,243.28 98.6,243.28 99.33,243.28 100.06,243.28 100.8,243.28 101.53,243.28 102.26,243.28 102.99,243.28 103.73,243.28 104.46,243.28 105.19,243.28 105.92,243.28 106.66,243.28 107.39,243.28 108.12,243.28 108.85,243.28 109.59,243.28 110.32,243.28 111.05,243.28 111.79,243.28 112.52,243.28 113.25,243.28 113.98,243.28 114.72,243.28 115.45,243.28 116.18,243.28 116.91,243.28 117.65,243.28 118.38,243.28 119.11,243.28 119.84,243.28 120.58,243.28 121.31,243.28 122.04,243.28 122.78,243.28 123.51,243.28 124.24,243.28 124.97,243.28 125.71,243.28 126.44,243.28 127.17,243.28 127.9,243.28 128.64,243.28 129.37,243.28 130.1,243.28 130.83,243.28 131.57,243.28 132.3,243.28" fill="none" stroke="#a824c8" stroke-width="0.75" stroke-linejoin="round" stroke-opacity="0.95"/>
<polyline points="22.4,243.28 23.13,243.28 23.87,243.28 24.6,243.28 25.33,243.28 26.06,243.28 26.8,243.28 27.53,243.28 28.26,243.28 28.99,243.28 29.73,243.28 30.46,243.28 31.19,243.28 31.92,243.28 32.66,243.28 33.39,243.28 34.12,243.28 34.86,243.28 35.59,243.28 36.32,243.28 37.05,243.28 37.79,243.28 38.52,243.28 39.25,243.28 39.98,243.28 40.72,243.28 41.45,243.28 42.18,243.28 42.91,243.28 43.65,243.28 44.38,243.28 45.11,243.28 45.85,243.28 46.58,243.28 47.31,243.28 48.04,243.28 48.78,243.28 49.51,243.28 50.24,243.28 50.97,243.28 51.71,243.28 52.44,243.28 53.17,243.28 53.9,243.28 54.64,243.28 55.37,243.28 56.1,243.28 56.84,243.28 57.57,243.28 58.3,243.28 59.03,243.28 59.77,243.28 60.5,243.28 61.23,243.19 61.96,243.08 62.7,243.05 63.43,242.7 64.16,242.28 64.89,241.7 65.63,241.13 66.36,240.09 67.09,238.99 67.83,237.1 68.56,235.65 69.29,234.14 70.02,232.78 70.76,229.65 71.49,224.11 72.22,219.5 72.95,216.65 73.69,215.67 74.42,211.54 75.15,205.01 75.88,200.07 76.62,199.88 77.35,198.73 78.08,194.21 78.82,188.88 79.55,188.7 80.28,193.85 81.01,197.47 81.75,197.72 82.48,198.16 83.21,201.06 83.94,206.89 84.68,212.33 85.41,215.29 86.14,218.64 86.87,222.98 87.61,226.92 88.34,230.32 89.07,233.12 89.81,235.11 90.54,237.01 91.27,238.37 92,239.94 92.74,241.26 93.47,241.77 94.2,242.29 94.93,242.55 95.67,242.92 96.4,243.2 97.13,243.18 97.86,243.28 98.6,243.28 99.33,243.28 100.06,243.28 100.8,243.28 101.53,243.28 102.26,243.28 102.99,243.28 103.73,243.28 104.46,243.28 105.19,243.28 105.92,243.28 106.66,243.28 107.39,243.28 108.12,243.28 108.85,243.28 109.59,243.28 110.32,243.28 111.05,243.28 111.79,243.28 112.52,243.28 113.25,243.28 113.98,243.28 114.72,243.28 115.45,243.28 116.18,243.28 116.91,243.28 117.65,243.28 118.38,243.28 119.11,243.28 119.84,243.28 120.58,243.28 121.31,243.28 122.04,243.28 122.78,243.28 123.51,243.28 124.24,243.28 124.97,243.28 125.71,243.28 126.44,243.28 127.17,243.28 127.9,243.28 128.64,243.28 129.37,243.28 130.1,243.28 130.83,243.28 131.57,243.28 132.3,243.28" fill="none" stroke="#d8883a" stroke-width="0.75" stroke-linejoin="round" stroke-opacity="0.95"/>
<polyline points="22.4,243.28 23.13,243.28 23.87,243.28 24.6,243.28 25.33,243.28 26.06,243.28 26.8,243.28 27.53,243.28 28.26,243.28 28.99,243.28 29.73,243.28 30.46,243.28 31.19,243.28 31.92,243.28 32.66,243.28 33.39,243.28 34.12,243.28 34.86,243.28 35.59,243.28 36.32,243.28 37.05,243.28 37.79,243.28 38.52,243.28 39.25,243.28 39.98,243.28 40.72,243.28 41.45,243.28 42.18,243.28 42.91,243.28 43.65,243.28 44.38,243.28 45.11,243.28 45.85,243.28 46.58,243.28 47.31,243.28 48.04,243.28 48.78,243.28 49.51,243.28 50.24,243.28 50.97,243.28 51.71,243.28 52.44,243.28 53.17,243.28 53.9,243.28 54.64,243.28 55.37,243.28 56.1,243.28 56.84,243.28 57.57,243.28 58.3,243.28 59.03,243.28 59.77,243.28 60.5,243.28 61.23,243.28 61.96,243.28 62.7,243.28 63.43,243.21 64.16,243.05 64.89,242.91 65.63,242.59 66.36,242.28 67.09,242.04 67.83,241.45 68.56,241.11 69.29,240.31 70.02,238.41 70.76,237.18 71.49,236.06 72.22,233.58 72.95,231.75 73.69,230.17 74.42,227.8 75.15,224.32 75.88,220.27 76.62,215.89 77.35,213.36 78.08,211.68 78.82,208.67 79.55,202.99 80.28,197.1 81.01,195.8 81.75,197.51 82.48,198.57 83.21,196.13 83.94,191.41 84.68,188.7 85.41,190.95 86.14,195.27 86.87,200.67 87.61,205.33 88.34,209.59 89.07,212.76 89.81,214.11 90.54,216.38 91.27,220.98 92,226.21 92.74,231.08 93.47,234.09 94.2,235.6 94.93,236.27 95.67,238.17 96.4,239.62 97.13,240.55 97.86,241.59 98.6,242.24 99.33,242.64 100.06,242.92 100.8,243.08 101.53,243.19 102.26,243.28 102.99,243.28 103.73,243.28 104.46,243.28 105.19,243.28 105.92,243.28 106.66,243.28 107.39,243.28 108.12,243.28 108.85,243.28 109.59,243.28 110.32,243.28 111.05,243.28 111.79,243.28 112.52,243.28 113.25,243.28 113.98,243.28 114.72,243.28 115.45,243.28 116.18,243.28 116.91,243.28 117.65,243.28 118.38,243.28 119.11,243.28 119.84,243.28 120.58,243.28 121.31,243.28 122.04,243.28 122.78,243.28 123.51,243.28 124.24,243.28 124.97,243.28 125.71,243.28 126.44,243.28 127.17,243.28 127.9,243.28 128.64,243.28 129.37,243.28 130.1,243.28 130.83,243.28 131.57,243.28 132.3,243.28" fill="none" stroke="#88eef4" stroke-width="0.75" stroke-linejoin="round" stroke-opacity="0.95"/>
<polyline points="22.4,243.28 23.13,243.28 23.87,243.28 24.6,243.28 25.33,243.28 26.06,243.28 26.8,243.28 27.53,243.28 28.26,243.28 28.99,243.28 29.73,243.28 30.46,243.28 31.19,243.28 31.92,243.28 32.66,243.28 33.39,243.28 34.12,243.28 34.86,243.28 35.59,243.28 36.32,243.28 37.05,243.28 37.79,243.28 38.52,243.28 39.25,243.28 39.98,243.28 40.72,243.28 41.45,243.28 42.18,243.28 42.91,243.28 43.65,243.28 44.38,243.28 45.11,243.28 45.85,243.28 46.58,243.28 47.31,243.28 48.04,243.28 48.78,243.28 49.51,243.28 50.24,243.28 50.97,243.28 51.71,243.28 52.44,243.28 53.17,243.28 53.9,243.28 54.64,243.28 55.37,243.28 56.1,243.28 56.84,243.28 57.57,243.28 58.3,243.28 59.03,243.28 59.77,243.28 60.5,243.28 61.23,243.28 61.96,243.21 62.7,243.21 63.43,243.05 64.16,242.93 64.89,242.5 65.63,242.18 66.36,241.94 67.09,240.83 67.83,240.64 68.56,238.9 69.29,238.04 70.02,237.38 70.76,235.18 71.49,233.33 72.22,231.39 72.95,229.84 73.69,226.29 74.42,220.12 75.15,215.9 75.88,213.89 76.62,214.74 77.35,212.6 78.08,207.89 78.82,202.69 79.55,199.84 80.28,195.55 81.01,190.98 81.75,188.7 82.48,191.59 83.21,195.33 83.94,195.05 84.68,194.35 85.41,197.79 86.14,202.29 86.87,204.81 87.61,204.83 88.34,206.96 89.07,213.26 89.81,219.67 90.54,223.99 91.27,226.33 92,229.11 92.74,232.4 93.47,235.03 94.2,236.21 94.93,237.97 95.67,238.97 96.4,240.54 97.13,241.64 97.86,241.74 98.6,242.78 99.33,242.83 100.06,243.13 100.8,243.08 101.53,243.25 102.26,243.28 102.99,243.28 103.73,243.28 104.46,243.28 105.19,243.28 105.92,243.28 106.66,243.28 107.39,243.28 108.12,243.28 108.85,243.28 109.59,243.28 110.32,243.28 111.05,243.28 111.79,243.28 112.52,243.28 113.25,243.28 113.98,243.28 114.72,243.28 115.45,243.28 116.18,243.28 116.91,243.28 117.65,243.28 118.38,243.28 119.11,243.28 119.84,243.28 120.58,243.28 121.31,243.28 122.04,243.28 122.78,243.28 123.51,243.28 124.24,243.28 124.97,243.28 125.71,243.28 126.44,243.28 127.17,243.28 127.9,243.28 128.64,243.28 129.37,243.28 130.1,243.28 130.83,243.28 131.57,243.28 132.3,243.28" fill="none" stroke="#78d858" stroke-width="0.75" stroke-linejoin="round" stroke-opacity="0.95"/>
<polyline points="22.4,243.28 23.13,243.28 23.87,243.28 24.6,243.28 25.33,243.28 26.06,243.28 26.8,243.28 27.53,243.28 28.26,243.28 28.99,243.28 29.73,243.28 30.46,243.28 31.19,243.28 31.92,243.28 32.66,243.28 33.39,243.28 34.12,243.28 34.86,243.28 35.59,243.28 36.32,243.28 37.05,243.28 37.79,243.28 38.52,243.28 39.25,243.28 39.98,243.28 40.72,243.28 41.45,243.28 42.18,243.28 42.91,243.28 43.65,243.28 44.38,243.28 45.11,243.28 45.85,243.28 46.58,243.28 47.31,243.28 48.04,243.28 48.78,243.28 49.51,243.28 50.24,243.28 50.97,243.28 51.71,243.28 52.44,243.28 53.17,243.28 53.9,243.28 54.64,243.28 55.37,243.28 56.1,243.28 56.84,243.28 57.57,243.28 58.3,243.28 59.03,243.28 59.77,243.28 60.5,243.28 61.23,243.28 61.96,243.28 62.7,243.28 63.43,243.23 64.16,243.26 64.89,243.12 65.63,243.06 66.36,242.82 67.09,242.56 67.83,242.37 68.56,241.8 69.29,241.76 70.02,240.62 70.76,239.76 71.49,238.55 72.22,238.42 72.95,236.55 73.69,235.63 74.42,233.58 75.15,231.83 75.88,228.52 76.62,223.49 77.35,220.55 78.08,219.43 78.82,219.98 79.55,217.06 80.28,211.74 81.01,207.13 81.75,203.15 82.48,200.53 83.21,196.26 83.94,192.41 84.68,192.63 85.41,195.89 86.14,196.88 86.87,192.91 87.61,188.7 88.34,189.35 89.07,194.87 89.81,198.9 90.54,201.18 91.27,204.09 92,209.03 92.74,215.51 93.47,219.49 94.2,221.89 94.93,225.01 95.67,228.79 96.4,232.29 97.13,235.13 97.86,236.39 98.6,237.93 99.33,239.57 100.06,240.93 100.8,241.55 101.53,242.47 102.26,242.57 102.99,242.86 103.73,243.13 104.46,243.18 105.19,243.28 105.92,243.28 106.66,243.28 107.39,243.28 108.12,243.28 108.85,243.28 109.59,243.28 110.32,243.28 111.05,243.28 111.79,243.28 112.52,243.28 113.25,243.28 113.98,243.28 114.72,243.28 115.45,243.28 116.18,243.28 116.91,243.28 117.65,243.28 118.38,243.28 119.11,243.28 119.84,243.28 120.58,243.28 121.31,243.28 122.04,243.28 122.78,243.28 123.51,243.28 124.24,243.28 124.97,243.28 125.71,243.28 126.44,243.28 127.17,243.28 127.9,243.28 128.64,243.28 129.37,243.28 130.1,243.28 130.83,243.28 131.57,243.28 132.3,243.28" fill="none" stroke="#1414c8" stroke-width="0.75" stroke-linejoin="round" stroke-opacity="0.95"/>
<polyline points="22.4,243.28 23.13,243.28 23.87,243.28 24.6,243.28 25.33,243.28 26.06,243.28 26.8,243.28 27.53,243.28 28.26,243.28 28.99,243.28 29.73,243.28 30.46,243.28 31.19,243.28 31.92,243.28 32.66,243.28 33.39,243.28 34.12,243.28 34.86,243.28 35.59,243.28 36.32,243.28 37.05,243.28 37.79,243.28 38.52,243.28 39.25,243.28 39.98,243.28 40.72,243.28 41.45,243.28 42.18,243.28 42.91,243.28 43.65,243.28 44.38,243.28 45.11,243.28 45.85,243.28 46.58,243.28 47.31,243.28 48.04,243.28 48.78,243.28 49.51,243.28 50.24,243.28 50.97,243.28 51.71,243.28 52.44,243.28 53.17,243.28 53.9,243.28 54.64,243.28 55.37,243.28 56.1,243.28 56.84,243.28 57.57,243.23 58.3,243.15 59.03,242.85 59.77,242.52 60.5,241.53 61.23,241.41 61.96,241.16 62.7,240.13 63.43,237.81 64.16,234.91 64.89,231.88 65.63,229.55 66.36,226.75 67.09,224.08 67.83,219.88 68.56,213.36 69.29,207.11 70.02,203.24 70.76,199.63 71.49,195.56 72.22,191.67 72.95,190.19 73.69,191.52 74.42,191.54 75.15,190.25 75.88,188.7 76.62,190.91 77.35,196.88 78.08,204.6 78.82,209.12 79.55,211.16 80.28,212.94 81.01,216.32 81.75,221.88 82.48,227.21 83.21,230.67 83.94,232.65 84.68,234.35 85.41,236.59 86.14,238.41 86.87,239.66 87.61,240.68 88.34,241.52 89.07,241.91 89.81,242.57 90.54,242.82 91.27,243.07 92,243.12 92.74,243.25 93.47,243.28 94.2,243.28 94.93,243.28 95.67,243.28 96.4,243.28 97.13,243.28 97.86,243.28 98.6,243.28 99.33,243.28 100.06,243.28 100.8,243.28 101.53,243.28 102.26,243.28 102.99,243.28 103.73,243.28 104.46,243.28 105.19,243.28 105.92,243.28 106.66,243.28 107.39,243.28 108.12,243.28 108.85,243.28 109.59,243.28 110.32,243.28 111.05,243.28 111.79,243.28 112.52,243.28 113.25,243.28 113.98,243.28 114.72,243.28 115.45,243.28 116.18,243.28 116.91,243.28 117.65,243.28 118.38,243.28 119.11,243.28 119.84,243.28 120.58,243.28 121.31,243.28 122.04,243.28 122.78,243.28 123.51,243.28 124.24,243.28 124.97,243.28 125.71,243.28 126.44,243.28 127.17,243.28 127.9,243.28 128.64,243.28 129.37,243.28 130.1,243.28 130.83,243.28 131.57,243.28 132.3,243.28" fill="none" stroke="#a82020" stroke-width="0.75" stroke-linejoin="round" stroke-opacity="0.95"/>
<rect x="24.9" y="186.9" width="3.9" height="3.0" fill="#a82020"/>
<text x="30.8" y="189.75" font-size="3.75" fill="#222" stroke="#222" stroke-width="0.1">110 Pre  92.6</text>
<rect x="24.9" y="190.75" width="3.9" height="3.0" fill="#1414c8"/>
<text x="30.8" y="193.6" font-size="3.75" fill="#222" stroke="#222" stroke-width="0.1">244 15min 48.8</text>
<rect x="24.9" y="194.6" width="3.9" height="3.0" fill="#78d858"/>
<text x="30.8" y="197.45" font-size="3.75" fill="#222" stroke="#222" stroke-width="0.1">222 30min 11.2</text>
<rect x="24.9" y="198.45" width="3.9" height="3.0" fill="#d8883a"/>
<text x="30.8" y="201.3" font-size="3.75" fill="#222" stroke="#222" stroke-width="0.1">161 60min 50</text>
<rect x="24.9" y="202.3" width="3.9" height="3.0" fill="#88eef4"/>
<text x="30.8" y="205.15" font-size="3.75" fill="#222" stroke="#222" stroke-width="0.1">140 90min 66</text>
<rect x="24.9" y="206.15" width="3.9" height="3.0" fill="#a824c8"/>
<text x="30.8" y="209" font-size="3.75" fill="#222" stroke="#222" stroke-width="0.1">135 120min 73.4</text>
<rect x="24.9" y="210" width="3.9" height="3.0" fill="#984858"/>
<text x="30.8" y="212.85" font-size="3.75" fill="#222" stroke="#222" stroke-width="0.1">141 240min 80.5</text>
<rect x="24.9" y="213.85" width="3.9" height="3.0" fill="#3a0a04"/>
<text x="30.8" y="216.7" font-size="3.75" fill="#222" stroke="#222" stroke-width="0.1">114 24 hours 82.3</text>
<rect x="153" y="185" width="104.2" height="59.3" fill="#fff" stroke="#222" stroke-width="0.7"/>
<line x1="150.8" y1="244" x2="153" y2="244" stroke="#000" stroke-width="0.6"/>
<text x="147.4" y="245.6" font-size="4.4" fill="#111" text-anchor="end" font-weight="bold">0</text>
<line x1="151.9" y1="241.25" x2="153" y2="241.25" stroke="#000" stroke-width="0.4"/>
<line x1="151.9" y1="238.5" x2="153" y2="238.5" stroke="#000" stroke-width="0.4"/>
<line x1="151.9" y1="235.75" x2="153" y2="235.75" stroke="#000" stroke-width="0.4"/>
<line x1="150.8" y1="233" x2="153" y2="233" stroke="#000" stroke-width="0.6"/>
<text x="147.4" y="234.6" font-size="4.4" fill="#111" text-anchor="end" font-weight="bold">20</text>
<line x1="151.9" y1="230.25" x2="153" y2="230.25" stroke="#000" stroke-width="0.4"/>
<line x1="151.9" y1="227.5" x2="153" y2="227.5" stroke="#000" stroke-width="0.4"/>
<line x1="151.9" y1="224.75" x2="153" y2="224.75" stroke="#000" stroke-width="0.4"/>
<line x1="150.8" y1="222" x2="153" y2="222" stroke="#000" stroke-width="0.6"/>
<text x="147.4" y="223.6" font-size="4.4" fill="#111" text-anchor="end" font-weight="bold">40</text>
<line x1="151.9" y1="219.25" x2="153" y2="219.25" stroke="#000" stroke-width="0.4"/>
<line x1="151.9" y1="216.5" x2="153" y2="216.5" stroke="#000" stroke-width="0.4"/>
<line x1="151.9" y1="213.75" x2="153" y2="213.75" stroke="#000" stroke-width="0.4"/>
<line x1="150.8" y1="211" x2="153" y2="211" stroke="#000" stroke-width="0.6"/>
<text x="147.4" y="212.6" font-size="4.4" fill="#111" text-anchor="end" font-weight="bold">60</text>
<line x1="151.9" y1="208.25" x2="153" y2="208.25" stroke="#000" stroke-width="0.4"/>
<line x1="151.9" y1="205.5" x2="153" y2="205.5" stroke="#000" stroke-width="0.4"/>
<line x1="151.9" y1="202.75" x2="153" y2="202.75" stroke="#000" stroke-width="0.4"/>
<line x1="150.8" y1="200" x2="153" y2="200" stroke="#000" stroke-width="0.6"/>
<text x="147.4" y="201.6" font-size="4.4" fill="#111" text-anchor="end" font-weight="bold">80</text>
<line x1="151.9" y1="197.25" x2="153" y2="197.25" stroke="#000" stroke-width="0.4"/>
<line x1="151.9" y1="194.5" x2="153" y2="194.5" stroke="#000" stroke-width="0.4"/>
<line x1="151.9" y1="191.75" x2="153" y2="191.75" stroke="#000" stroke-width="0.4"/>
<line x1="150.8" y1="189" x2="153" y2="189" stroke="#000" stroke-width="0.6"/>
<text x="147.4" y="190.6" font-size="4.4" fill="#111" text-anchor="end" font-weight="bold">100</text>
<line x1="153" y1="244.3" x2="153" y2="246.5" stroke="#000" stroke-width="0.6"/>
<text x="154" y="251.1" font-size="4.7" fill="#111" text-anchor="middle" font-weight="bold">10<tspan font-size="3.5" dx="1.0" dy="-0.9">0</tspan></text>
<line x1="160.84" y1="244.3" x2="160.84" y2="245.5" stroke="#000" stroke-width="0.4"/>
<line x1="165.43" y1="244.3" x2="165.43" y2="245.5" stroke="#000" stroke-width="0.4"/>
<line x1="168.68" y1="244.3" x2="168.68" y2="245.5" stroke="#000" stroke-width="0.4"/>
<line x1="171.21" y1="244.3" x2="171.21" y2="245.5" stroke="#000" stroke-width="0.4"/>
<line x1="173.27" y1="244.3" x2="173.27" y2="245.5" stroke="#000" stroke-width="0.4"/>
<line x1="175.01" y1="244.3" x2="175.01" y2="245.5" stroke="#000" stroke-width="0.4"/>
<line x1="176.53" y1="244.3" x2="176.53" y2="245.5" stroke="#000" stroke-width="0.4"/>
<line x1="177.86" y1="244.3" x2="177.86" y2="245.5" stroke="#000" stroke-width="0.4"/>
<line x1="179.05" y1="244.3" x2="179.05" y2="246.5" stroke="#000" stroke-width="0.6"/>
<text x="180.05" y="251.1" font-size="4.7" fill="#111" text-anchor="middle" font-weight="bold">10<tspan font-size="3.5" dx="1.0" dy="-0.9">1</tspan></text>
<line x1="186.89" y1="244.3" x2="186.89" y2="245.5" stroke="#000" stroke-width="0.4"/>
<line x1="191.48" y1="244.3" x2="191.48" y2="245.5" stroke="#000" stroke-width="0.4"/>
<line x1="194.73" y1="244.3" x2="194.73" y2="245.5" stroke="#000" stroke-width="0.4"/>
<line x1="197.26" y1="244.3" x2="197.26" y2="245.5" stroke="#000" stroke-width="0.4"/>
<line x1="199.32" y1="244.3" x2="199.32" y2="245.5" stroke="#000" stroke-width="0.4"/>
<line x1="201.06" y1="244.3" x2="201.06" y2="245.5" stroke="#000" stroke-width="0.4"/>
<line x1="202.58" y1="244.3" x2="202.58" y2="245.5" stroke="#000" stroke-width="0.4"/>
<line x1="203.91" y1="244.3" x2="203.91" y2="245.5" stroke="#000" stroke-width="0.4"/>
<line x1="205.1" y1="244.3" x2="205.1" y2="246.5" stroke="#000" stroke-width="0.6"/>
<text x="206.1" y="251.1" font-size="4.7" fill="#111" text-anchor="middle" font-weight="bold">10<tspan font-size="3.5" dx="1.0" dy="-0.9">2</tspan></text>
<line x1="212.94" y1="244.3" x2="212.94" y2="245.5" stroke="#000" stroke-width="0.4"/>
<line x1="217.53" y1="244.3" x2="217.53" y2="245.5" stroke="#000" stroke-width="0.4"/>
<line x1="220.78" y1="244.3" x2="220.78" y2="245.5" stroke="#000" stroke-width="0.4"/>
<line x1="223.31" y1="244.3" x2="223.31" y2="245.5" stroke="#000" stroke-width="0.4"/>
<line x1="225.37" y1="244.3" x2="225.37" y2="245.5" stroke="#000" stroke-width="0.4"/>
<line x1="227.11" y1="244.3" x2="227.11" y2="245.5" stroke="#000" stroke-width="0.4"/>
<line x1="228.63" y1="244.3" x2="228.63" y2="245.5" stroke="#000" stroke-width="0.4"/>
<line x1="229.96" y1="244.3" x2="229.96" y2="245.5" stroke="#000" stroke-width="0.4"/>
<line x1="231.15" y1="244.3" x2="231.15" y2="246.5" stroke="#000" stroke-width="0.6"/>
<text x="232.15" y="251.1" font-size="4.7" fill="#111" text-anchor="middle" font-weight="bold">10<tspan font-size="3.5" dx="1.0" dy="-0.9">3</tspan></text>
<line x1="238.99" y1="244.3" x2="238.99" y2="245.5" stroke="#000" stroke-width="0.4"/>
<line x1="243.58" y1="244.3" x2="243.58" y2="245.5" stroke="#000" stroke-width="0.4"/>
<line x1="246.83" y1="244.3" x2="246.83" y2="245.5" stroke="#000" stroke-width="0.4"/>
<line x1="249.36" y1="244.3" x2="249.36" y2="245.5" stroke="#000" stroke-width="0.4"/>
<line x1="251.42" y1="244.3" x2="251.42" y2="245.5" stroke="#000" stroke-width="0.4"/>
<line x1="253.16" y1="244.3" x2="253.16" y2="245.5" stroke="#000" stroke-width="0.4"/>
<line x1="254.68" y1="244.3" x2="254.68" y2="245.5" stroke="#000" stroke-width="0.4"/>
<line x1="256.01" y1="244.3" x2="256.01" y2="245.5" stroke="#000" stroke-width="0.4"/>
<line x1="257.2" y1="244.3" x2="257.2" y2="246.5" stroke="#000" stroke-width="0.6"/>
<text x="258.2" y="251.1" font-size="4.7" fill="#111" text-anchor="middle" font-weight="bold">10<tspan font-size="3.5" dx="1.0" dy="-0.9">4</tspan></text>
<text x="208" y="182" font-size="9" fill="#000" text-anchor="middle" stroke="#000" stroke-width="0.18">Lymphocytes</text>
<text x="208" y="258.2" font-size="5" fill="#111" text-anchor="middle" font-weight="bold">mAb 24</text>
<text transform="translate(141.9,215) rotate(-90)" font-size="5.4" font-weight="bold" fill="#111" text-anchor="middle">% of Max</text>
<polyline points="153,243.78 153.69,243.78 154.39,243.78 155.08,243.78 155.78,243.78 156.47,243.78 157.17,243.78 157.86,243.78 158.56,243.78 159.25,243.78 159.95,243.78 160.64,243.78 161.34,243.78 162.03,243.78 162.73,243.78 163.42,243.78 164.11,243.78 164.81,243.78 165.5,243.78 166.2,243.78 166.89,243.78 167.59,243.78 168.28,243.78 168.98,243.78 169.67,243.78 170.37,243.78 171.06,243.78 171.76,243.78 172.45,243.78 173.15,243.78 173.84,243.78 174.53,243.78 175.23,241.82 175.92,238.04 176.62,233.73 177.31,229.09 178.01,224.96 178.7,221.81 179.4,218.44 180.09,214.47 180.79,209.86 181.48,205.46 182.18,200.37 182.87,194.85 183.57,189.07 184.26,189 184.95,190.51 185.65,194.13 186.34,197.36 187.04,198.11 187.73,198.83 188.43,199.75 189.12,203.93 189.82,208.45 190.51,211.2 191.21,212.16 191.9,212.99 192.6,215.56 193.29,219.33 193.99,224.74 194.68,228.33 195.37,229.26 196.07,229.83 196.76,230.89 197.46,232.61 198.15,234.25 198.85,236.4 199.54,237.46 200.24,237.72 200.93,238.81 201.63,239.32 202.32,239.97 203.02,239.84 203.71,240.08 204.41,240.6 205.1,241.11 205.79,241.76 206.49,241.72 207.18,242.33 207.88,242.31 208.57,243 209.27,243.15 209.96,243.5 210.66,243.63 211.35,243.62 212.05,243.76 212.74,243.78 213.44,243.78 214.13,243.78 214.83,243.78 215.52,243.78 216.21,243.78 216.91,243.78 217.6,243.78 218.3,243.78 218.99,243.78 219.69,243.78 220.38,243.78 221.08,243.78 221.77,243.78 222.47,243.78 223.16,243.78 223.86,243.78 224.55,243.78 225.25,243.78 225.94,243.78 226.63,243.78 227.33,243.78 228.02,243.78 228.72,243.78 229.41,243.78 230.11,243.78 230.8,243.78 231.5,243.78 232.19,243.78 232.89,243.78 233.58,243.78 234.28,243.78 234.97,243.78 235.67,243.78 236.36,243.78 237.05,243.78 237.75,243.78 238.44,243.78 239.14,243.78 239.83,243.78 240.53,243.78 241.22,243.78 241.92,243.78 242.61,243.78 243.31,243.78 244,243.78 244.7,243.78 245.39,243.78 246.09,243.78 246.78,243.78 247.47,243.78 248.17,243.78 248.86,243.78 249.56,243.78 250.25,243.78 250.95,243.78 251.64,243.78 252.34,243.78 253.03,243.78 253.73,243.78 254.42,243.78 255.12,243.78 255.81,243.78 256.51,243.78 257.2,243.78" fill="none" stroke="#3a0a04" stroke-width="0.75" stroke-linejoin="round" stroke-opacity="0.95"/>
<polyline points="153,243.78 153.69,243.78 154.39,243.78 155.08,243.78 155.78,243.78 156.47,243.78 157.17,243.78 157.86,243.78 158.56,243.78 159.25,243.78 159.95,243.78 160.64,243.78 161.34,243.78 162.03,243.78 162.73,243.78 163.42,243.78 164.11,243.78 164.81,243.78 165.5,243.78 166.2,243.78 166.89,243.78 167.59,243.78 168.28,243.78 168.98,243.78 169.67,243.78 170.37,243.78 171.06,243.78 171.76,243.78 172.45,243.78 173.15,243.78 173.84,243.78 174.53,243.78 175.23,241.58 175.92,239.16 176.62,236.98 177.31,233 178.01,229.33 178.7,225.43 179.4,221.83 180.09,218.62 180.79,213.57 181.48,209.37 182.18,206.57 182.87,206.95 183.57,206 184.26,201.06 184.95,192.83 185.65,189 186.34,189.4 187.04,193.22 187.73,196.13 188.43,198.01 189.12,199.25 189.82,203.79 190.51,208.56 191.21,212.46 191.9,213.47 192.6,213.68 193.29,215.88 193.99,219.12 194.68,223.71 195.37,226.36 196.07,228.54 196.76,230.66 197.46,232.89 198.15,235.35 198.85,236.49 199.54,236.82 200.24,237.82 200.93,238.55 201.63,239.24 202.32,240.06 203.02,240.97 203.71,241.29 204.41,241.1 205.1,241.88 205.79,242.42 206.49,242.61 207.18,242.45 207.88,242.98 208.57,243.04 209.27,243.34 209.96,243.59 210.66,243.72 211.35,243.75 212.05,243.78 212.74,243.78 213.44,243.78 214.13,243.78 214.83,243.78 215.52,243.78 216.21,243.78 216.91,243.78 217.6,243.78 218.3,243.78 218.99,243.78 219.69,243.78 220.38,243.78 221.08,243.78 221.77,243.78 222.47,243.78 223.16,243.78 223.86,243.78 224.55,243.78 225.25,243.78 225.94,243.78 226.63,243.78 227.33,243.78 228.02,243.78 228.72,243.78 229.41,243.78 230.11,243.78 230.8,243.78 231.5,243.78 232.19,243.78 232.89,243.78 233.58,243.78 234.28,243.78 234.97,243.78 235.67,243.78 236.36,243.78 237.05,243.78 237.75,243.78 238.44,243.78 239.14,243.78 239.83,243.78 240.53,243.78 241.22,243.78 241.92,243.78 242.61,243.78 243.31,243.78 244,243.78 244.7,243.78 245.39,243.78 246.09,243.78 246.78,243.78 247.47,243.78 248.17,243.78 248.86,243.78 249.56,243.78 250.25,243.78 250.95,243.78 251.64,243.78 252.34,243.78 253.03,243.78 253.73,243.78 254.42,243.78 255.12,243.78 255.81,243.78 256.51,243.78 257.2,243.78" fill="none" stroke="#984858" stroke-width="0.75" stroke-linejoin="round" stroke-opacity="0.95"/>
<polyline points="153,243.78 153.69,243.78 154.39,243.78 155.08,243.78 155.78,243.78 156.47,243.78 157.17,243.78 157.86,243.78 158.56,243.78 159.25,243.78 159.95,243.78 160.64,243.78 161.34,243.78 162.03,243.78 162.73,243.78 163.42,243.78 164.11,243.78 164.81,243.78 165.5,243.78 166.2,243.78 166.89,243.78 167.59,243.78 168.28,243.78 168.98,243.78 169.67,243.78 170.37,243.78 171.06,243.78 171.76,243.78 172.45,243.78 173.15,243.78 173.84,243.78 174.53,242.48 175.23,239.66 175.92,236.21 176.62,232.77 177.31,230.06 178.01,226.35 178.7,224.77 179.4,222.17 180.09,216.12 180.79,208.94 181.48,207.88 182.18,207.1 182.87,202.03 183.57,197.13 184.26,194.46 184.95,191.19 185.65,189 186.34,192.33 187.04,196.93 187.73,195.82 188.43,195.47 189.12,200.73 189.82,206.5 190.51,208.6 191.21,210.61 191.9,214.45 192.6,217.38 193.29,219.11 193.99,223.6 194.68,228.64 195.37,229.93 196.07,230.76 196.76,233.21 197.46,235.15 198.15,236.06 198.85,237.67 199.54,238.46 200.24,238.62 200.93,238.95 201.63,238.53 202.32,239.94 203.02,239.99 203.71,239.48 204.41,240.26 205.1,240.33 205.79,240.82 206.49,241.03 207.18,242.14 207.88,242.44 208.57,242.59 209.27,243.08 209.96,243.23 210.66,243.49 211.35,243.61 212.05,243.78 212.74,243.78 213.44,243.78 214.13,243.78 214.83,243.78 215.52,243.78 216.21,243.78 216.91,243.78 217.6,243.78 218.3,243.78 218.99,243.78 219.69,243.78 220.38,243.78 221.08,243.78 221.77,243.78 222.47,243.78 223.16,243.78 223.86,243.78 224.55,243.78 225.25,243.78 225.94,243.78 226.63,243.78 227.33,243.78 228.02,243.78 228.72,243.78 229.41,243.78 230.11,243.78 230.8,243.78 231.5,243.78 232.19,243.78 232.89,243.78 233.58,243.78 234.28,243.78 234.97,243.78 235.67,243.78 236.36,243.78 237.05,243.78 237.75,243.78 238.44,243.78 239.14,243.78 239.83,243.78 240.53,243.78 241.22,243.78 241.92,243.78 242.61,243.78 243.31,243.78 244,243.78 244.7,243.78 245.39,243.78 246.09,243.78 246.78,243.78 247.47,243.78 248.17,243.78 248.86,243.78 249.56,243.78 250.25,243.78 250.95,243.78 251.64,243.78 252.34,243.78 253.03,243.78 253.73,243.78 254.42,243.78 255.12,243.78 255.81,243.78 256.51,243.78 257.2,243.78" fill="none" stroke="#78d858" stroke-width="0.75" stroke-linejoin="round" stroke-opacity="0.95"/>
<polyline points="153,243.78 153.69,243.78 154.39,243.78 155.08,243.78 155.78,243.78 156.47,243.78 157.17,243.78 157.86,243.78 158.56,243.78 159.25,243.78 159.95,243.78 160.64,243.78 161.34,243.78 162.03,243.78 162.73,243.78 163.42,243.78 164.11,243.78 164.81,243.78 165.5,243.78 166.2,243.78 166.89,243.78 167.59,243.78 168.28,243.78 168.98,243.78 169.67,243.78 170.37,243.78 171.06,243.78 171.76,243.78 172.45,243.78 173.15,243.78 173.84,243.78 174.53,242.42 175.23,238.79 175.92,235.63 176.62,232.64 177.31,229.99 178.01,226.92 178.7,221.75 179.4,216.82 180.09,213.39 180.79,209.88 181.48,207.19 182.18,203.89 182.87,199.4 183.57,195.39 184.26,191.25 184.95,189 185.65,190.3 186.34,195.59 187.04,201.68 187.73,203.41 188.43,201.72 189.12,200.99 189.82,203.73 190.51,209.62 191.21,213.3 191.9,215.82 192.6,218.82 193.29,221.39 193.99,225.16 194.68,226.68 195.37,228.13 196.07,230.07 196.76,232.42 197.46,234.21 198.15,236.24 198.85,237.1 199.54,238.4 200.24,239.11 200.93,239.69 201.63,239.41 202.32,239.82 203.02,240.27 203.71,241.11 204.41,241.56 205.1,241.4 205.79,241.55 206.49,242 207.18,242.6 207.88,242.49 208.57,243.15 209.27,243.42 209.96,243.55 210.66,243.63 211.35,243.69 212.05,243.78 212.74,243.78 213.44,243.78 214.13,243.78 214.83,243.78 215.52,243.78 216.21,243.78 216.91,243.78 217.6,243.78 218.3,243.78 218.99,243.78 219.69,243.78 220.38,243.78 221.08,243.78 221.77,243.78 222.47,243.78 223.16,243.78 223.86,243.78 224.55,243.78 225.25,243.78 225.94,243.78 226.63,243.78 227.33,243.78 228.02,243.78 228.72,243.78 229.41,243.78 230.11,243.78 230.8,243.78 231.5,243.78 232.19,243.78 232.89,243.78 233.58,243.78 234.28,243.78 234.97,243.78 235.67,243.78 236.36,243.78 237.05,243.78 237.75,243.78 238.44,243.78 239.14,243.78 239.83,243.78 240.53,243.78 241.22,243.78 241.92,243.78 242.61,243.78 243.31,243.78 244,243.78 244.7,243.78 245.39,243.78 246.09,243.78 246.78,243.78 247.47,243.78 248.17,243.78 248.86,243.78 249.56,243.78 250.25,243.78 250.95,243.78 251.64,243.78 252.34,243.78 253.03,243.78 253.73,243.78 254.42,243.78 255.12,243.78 255.81,243.78 256.51,243.78 257.2,243.78" fill="none" stroke="#88eef4" stroke-width="0.75" stroke-linejoin="round" stroke-opacity="0.95"/>
<polyline points="153,243.78 153.69,243.78 154.39,243.78 155.08,243.78 155.78,243.78 156.47,243.78 157.17,243.78 157.86,243.78 158.56,243.78 159.25,243.78 159.95,243.78 160.64,243.78 161.34,243.78 162.03,243.78 162.73,243.78 163.42,243.78 164.11,243.78 164.81,243.78 165.5,243.78 166.2,243.78 166.89,243.78 167.59,243.78 168.28,243.78 168.98,243.78 169.67,243.78 170.37,243.78 171.06,243.78 171.76,243.78 172.45,243.78 173.15,243.78 173.84,243.78 174.53,242.31 175.23,238.62 175.92,235.01 176.62,229.91 177.31,227.17 178.01,225.6 178.7,220.31 179.4,214.32 180.09,211.52 180.79,208.63 181.48,198.56 182.18,189 182.87,191.35 183.57,199.69 184.26,199.14 184.95,195.88 185.65,200.36 186.34,204.18 187.04,200.93 187.73,198.49 188.43,204.75 189.12,214.16 189.82,216.84 190.51,217.27 191.21,220.62 191.9,225.06 192.6,225.73 193.29,226.24 193.99,228.91 194.68,233.05 195.37,234.51 196.07,236.05 196.76,237.31 197.46,238.29 198.15,239.82 198.85,240.24 199.54,241.01 200.24,241.54 200.93,241.77 201.63,241.73 202.32,242.02 203.02,242.52 203.71,242.17 204.41,242.66 205.1,243.11 205.79,242.62 206.49,242.94 207.18,243.24 207.88,243.28 208.57,243.42 209.27,243.65 209.96,243.78 210.66,243.78 211.35,243.78 212.05,243.78 212.74,243.78 213.44,243.78 214.13,243.78 214.83,243.78 215.52,243.78 216.21,243.78 216.91,243.78 217.6,243.78 218.3,243.78 218.99,243.78 219.69,243.78 220.38,243.78 221.08,243.78 221.77,243.78 222.47,243.78 223.16,243.78 223.86,243.78 224.55,243.78 225.25,243.78 225.94,243.78 226.63,243.78 227.33,243.78 228.02,243.78 228.72,243.78 229.41,243.78 230.11,243.78 230.8,243.78 231.5,243.78 232.19,243.78 232.89,243.78 233.58,243.78 234.28,243.78 234.97,243.78 235.67,243.78 236.36,243.78 237.05,243.78 237.75,243.78 238.44,243.78 239.14,243.78 239.83,243.78 240.53,243.78 241.22,243.78 241.92,243.78 242.61,243.78 243.31,243.78 244,243.78 244.7,243.78 245.39,243.78 246.09,243.78 246.78,243.78 247.47,243.78 248.17,243.78 248.86,243.78 249.56,243.78 250.25,243.78 250.95,243.78 251.64,243.78 252.34,243.78 253.03,243.78 253.73,243.78 254.42,243.78 255.12,243.78 255.81,243.78 256.51,243.78 257.2,243.78" fill="none" stroke="#d8883a" stroke-width="0.75" stroke-linejoin="round" stroke-opacity="0.95"/>
<polyline points="153,243.78 153.69,243.78 154.39,243.78 155.08,243.78 155.78,243.78 156.47,243.78 157.17,243.78 157.86,243.78 158.56,243.78 159.25,243.78 159.95,243.78 160.64,243.78 161.34,243.78 162.03,243.78 162.73,243.78 163.42,243.78 164.11,243.78 164.81,243.78 165.5,243.78 166.2,243.78 166.89,243.78 167.59,243.78 168.28,243.78 168.98,243.78 169.67,243.78 170.37,243.78 171.06,243.78 171.76,243.78 172.45,243.78 173.15,243.78 173.84,243.78 174.53,243.43 175.23,240.12 175.92,237.82 176.62,234.51 177.31,230.68 178.01,225.15 178.7,219.84 179.4,216 180.09,214.81 180.79,213.36 181.48,207.12 182.18,199.47 182.87,192.15 183.57,189 184.26,192.65 184.95,195.25 185.65,195.08 186.34,194.41 187.04,195.62 187.73,199.04 188.43,202.85 189.12,205.67 189.82,208.55 190.51,212.03 191.21,215.11 191.9,218.56 192.6,220.91 193.29,223.19 193.99,226.33 194.68,228.89 195.37,231.87 196.07,233.66 196.76,234.89 197.46,236.07 198.15,237.2 198.85,238.23 199.54,239.19 200.24,239.26 200.93,239.78 201.63,240.08 202.32,240.22 203.02,240.28 203.71,240.46 204.41,240.52 205.1,240.77 205.79,241.52 206.49,241.21 207.18,241.79 207.88,242.19 208.57,242.72 209.27,243.22 209.96,243.44 210.66,243.47 211.35,243.59 212.05,243.78 212.74,243.78 213.44,243.78 214.13,243.78 214.83,243.78 215.52,243.78 216.21,243.78 216.91,243.78 217.6,243.78 218.3,243.78 218.99,243.78 219.69,243.78 220.38,243.78 221.08,243.78 221.77,243.78 222.47,243.78 223.16,243.78 223.86,243.78 224.55,243.78 225.25,243.78 225.94,243.78 226.63,243.78 227.33,243.78 228.02,243.78 228.72,243.78 229.41,243.78 230.11,243.78 230.8,243.78 231.5,243.78 232.19,243.78 232.89,243.78 233.58,243.78 234.28,243.78 234.97,243.78 235.67,243.78 236.36,243.78 237.05,243.78 237.75,243.78 238.44,243.78 239.14,243.78 239.83,243.78 240.53,243.78 241.22,243.78 241.92,243.78 242.61,243.78 243.31,243.78 244,243.78 244.7,243.78 245.39,243.78 246.09,243.78 246.78,243.78 247.47,243.78 248.17,243.78 248.86,243.78 249.56,243.78 250.25,243.78 250.95,243.78 251.64,243.78 252.34,243.78 253.03,243.78 253.73,243.78 254.42,243.78 255.12,243.78 255.81,243.78 256.51,243.78 257.2,243.78" fill="none" stroke="#1414c8" stroke-width="0.75" stroke-linejoin="round" stroke-opacity="0.95"/>
<polyline points="153,243.78 153.69,243.78 154.39,243.78 155.08,243.78 155.78,243.78 156.47,243.78 157.17,243.78 157.86,243.78 158.56,243.78 159.25,243.78 159.95,243.78 160.64,243.78 161.34,243.78 162.03,243.78 162.73,243.78 163.42,243.78 164.11,243.78 164.81,243.78 165.5,243.78 166.2,243.78 166.89,243.78 167.59,243.78 168.28,243.78 168.98,243.78 169.67,243.78 170.37,243.78 171.06,243.78 171.76,243.78 172.45,243.78 173.15,243.78 173.84,243.78 174.53,241.73 175.23,238.4 175.92,235.22 176.62,232.94 177.31,227.89 178.01,224.86 178.7,223.17 179.4,218.4 180.09,213.49 180.79,210.96 181.48,208.54 182.18,201.75 182.87,196.85 183.57,196.41 184.26,192.91 184.95,189 185.65,191.32 186.34,195.65 187.04,194.51 187.73,194.23 188.43,199.96 189.12,204.71 189.82,205.28 190.51,209.3 191.21,215.27 191.9,217.75 192.6,219.37 193.29,223.55 193.99,226.62 194.68,228.63 195.37,231.37 196.07,233.67 196.76,235.43 197.46,236.99 198.15,237.65 198.85,239.18 199.54,239.29 200.24,239.29 200.93,240.27 201.63,240.46 202.32,240.19 203.02,240.66 203.71,240.6 204.41,240.8 205.1,240.33 205.79,241.46 206.49,241.52 207.18,242.38 207.88,242.54 208.57,243.13 209.27,243.15 209.96,243.27 210.66,243.55 211.35,243.63 212.05,243.78 212.74,243.78 213.44,243.78 214.13,243.78 214.83,243.78 215.52,243.78 216.21,243.78 216.91,243.78 217.6,243.78 218.3,243.78 218.99,243.78 219.69,243.78 220.38,243.78 221.08,243.78 221.77,243.78 222.47,243.78 223.16,243.78 223.86,243.78 224.55,243.78 225.25,243.78 225.94,243.78 226.63,243.78 227.33,243.78 228.02,243.78 228.72,243.78 229.41,243.78 230.11,243.78 230.8,243.78 231.5,243.78 232.19,243.78 232.89,243.78 233.58,243.78 234.28,243.78 234.97,243.78 235.67,243.78 236.36,243.78 237.05,243.78 237.75,243.78 238.44,243.78 239.14,243.78 239.83,243.78 240.53,243.78 241.22,243.78 241.92,243.78 242.61,243.78 243.31,243.78 244,243.78 244.7,243.78 245.39,243.78 246.09,243.78 246.78,243.78 247.47,243.78 248.17,243.78 248.86,243.78 249.56,243.78 250.25,243.78 250.95,243.78 251.64,243.78 252.34,243.78 253.03,243.78 253.73,243.78 254.42,243.78 255.12,243.78 255.81,243.78 256.51,243.78 257.2,243.78" fill="none" stroke="#a824c8" stroke-width="0.75" stroke-linejoin="round" stroke-opacity="0.95"/>
<polyline points="153,243.78 153.69,243.78 154.39,243.78 155.08,243.78 155.78,243.78 156.47,243.78 157.17,243.78 157.86,243.78 158.56,243.78 159.25,243.7 159.95,243.73 160.64,243.51 161.34,243.44 162.03,243.24 162.73,243.12 163.42,242.62 164.11,242.1 164.81,241.66 165.5,240.84 166.2,240.84 166.89,240.66 167.59,239.63 168.28,239.04 168.98,238.19 169.67,237.58 170.37,237.15 171.06,236.34 171.76,235.55 172.45,236.34 173.15,235.95 173.84,235.57 174.53,234.31 175.23,234.15 175.92,234.46 176.62,233.42 177.31,231.19 178.01,227.91 178.7,225.79 179.4,222.54 180.09,218.78 180.79,215.1 181.48,212.88 182.18,210.16 182.87,206.09 183.57,200.22 184.26,192.9 184.95,189 185.65,192.18 186.34,196.66 187.04,196.56 187.73,196.1 188.43,198.9 189.12,201.49 189.82,200.31 190.51,198.87 191.21,203.11 191.9,211.02 192.6,214.98 193.29,215.38 193.99,217.29 194.68,221.16 195.37,224.13 196.07,225.35 196.76,226.66 197.46,229.68 198.15,232.23 198.85,233.22 199.54,234.06 200.24,235.24 200.93,236.59 201.63,237.59 202.32,237.61 203.02,238.7 203.71,239.14 204.41,239.05 205.1,239.88 205.79,240.38 206.49,240.83 207.18,241.7 207.88,242.45 208.57,243.02 209.27,242.52 209.96,243 210.66,243.4 211.35,243.59 212.05,243.74 212.74,243.78 213.44,243.78 214.13,243.78 214.83,243.78 215.52,243.78 216.21,243.78 216.91,243.78 217.6,243.78 218.3,243.78 218.99,243.78 219.69,243.78 220.38,243.78 221.08,243.78 221.77,243.78 222.47,243.78 223.16,243.78 223.86,243.78 224.55,243.78 225.25,243.78 225.94,243.78 226.63,243.78 227.33,243.78 228.02,243.78 228.72,243.78 229.41,243.78 230.11,243.78 230.8,243.78 231.5,243.78 232.19,243.78 232.89,243.78 233.58,243.78 234.28,243.78 234.97,243.78 235.67,243.78 236.36,243.78 237.05,243.78 237.75,243.78 238.44,243.78 239.14,243.78 239.83,243.78 240.53,243.78 241.22,243.78 241.92,243.78 242.61,243.78 243.31,243.78 244,243.78 244.7,243.78 245.39,243.78 246.09,243.78 246.78,243.78 247.47,243.78 248.17,243.78 248.86,243.78 249.56,243.78 250.25,243.78 250.95,243.78 251.64,243.78 252.34,243.78 253.03,243.78 253.73,243.78 254.42,243.78 255.12,243.78 255.81,243.78 256.51,243.78 257.2,243.78" fill="none" stroke="#a82020" stroke-width="0.75" stroke-linejoin="round" stroke-opacity="0.95"/>
<rect x="221.5" y="187.8" width="3.5" height="3.0" fill="#a82020"/>
<text x="226.8" y="190.65" font-size="3.65" fill="#222" stroke="#222" stroke-width="0.1">22.1 Pre. 59.1</text>
<rect x="221.5" y="192.3" width="3.5" height="3.0" fill="#1414c8"/>
<text x="226.8" y="195.15" font-size="3.65" fill="#222" stroke="#222" stroke-width="0.1">24.1 15min 37.8</text>
<rect x="221.5" y="196.8" width="3.5" height="3.0" fill="#78d858"/>
<text x="226.8" y="199.65" font-size="3.65" fill="#222" stroke="#222" stroke-width="0.1">24.1 30min 60.8</text>
<rect x="221.5" y="201.3" width="3.5" height="3.0" fill="#d8883a"/>
<text x="226.8" y="204.15" font-size="3.65" fill="#222" stroke="#222" stroke-width="0.1">24.7 60min 39.3</text>
<rect x="221.5" y="205.8" width="3.5" height="3.0" fill="#88eef4"/>
<text x="226.8" y="208.65" font-size="3.65" fill="#222" stroke="#222" stroke-width="0.1">21.8 90min 22.2</text>
<rect x="221.5" y="210.3" width="3.5" height="3.0" fill="#a824c8"/>
<text x="226.8" y="213.15" font-size="3.65" fill="#222" stroke="#222" stroke-width="0.1">20.3 120min 17.8</text>
<rect x="221.5" y="214.8" width="3.5" height="3.0" fill="#984858"/>
<text x="226.8" y="217.65" font-size="3.65" fill="#222" stroke="#222" stroke-width="0.1">20.6 240min 11</text>
<rect x="221.5" y="219.3" width="3.5" height="3.0" fill="#3a0a04"/>
<text x="226.8" y="222.15" font-size="3.65" fill="#222" stroke="#222" stroke-width="0.1">21.4 24hours 6.31</text>
<rect x="20.4" y="278.2" width="112" height="58.6" fill="#fff" stroke="#222" stroke-width="0.7"/>
<line x1="18.2" y1="336.5" x2="20.4" y2="336.5" stroke="#000" stroke-width="0.6"/>
<text x="14.8" y="338.1" font-size="4.4" fill="#111" text-anchor="end" font-weight="bold">0</text>
<line x1="19.3" y1="333.8" x2="20.4" y2="333.8" stroke="#000" stroke-width="0.4"/>
<line x1="19.3" y1="331.09" x2="20.4" y2="331.09" stroke="#000" stroke-width="0.4"/>
<line x1="19.3" y1="328.38" x2="20.4" y2="328.38" stroke="#000" stroke-width="0.4"/>
<line x1="18.2" y1="325.68" x2="20.4" y2="325.68" stroke="#000" stroke-width="0.6"/>
<text x="14.8" y="327.28" font-size="4.4" fill="#111" text-anchor="end" font-weight="bold">20</text>
<line x1="19.3" y1="322.98" x2="20.4" y2="322.98" stroke="#000" stroke-width="0.4"/>
<line x1="19.3" y1="320.27" x2="20.4" y2="320.27" stroke="#000" stroke-width="0.4"/>
<line x1="19.3" y1="317.56" x2="20.4" y2="317.56" stroke="#000" stroke-width="0.4"/>
<line x1="18.2" y1="314.86" x2="20.4" y2="314.86" stroke="#000" stroke-width="0.6"/>
<text x="14.8" y="316.46" font-size="4.4" fill="#111" text-anchor="end" font-weight="bold">40</text>
<line x1="19.3" y1="312.16" x2="20.4" y2="312.16" stroke="#000" stroke-width="0.4"/>
<line x1="19.3" y1="309.45" x2="20.4" y2="309.45" stroke="#000" stroke-width="0.4"/>
<line x1="19.3" y1="306.75" x2="20.4" y2="306.75" stroke="#000" stroke-width="0.4"/>
<line x1="18.2" y1="304.04" x2="20.4" y2="304.04" stroke="#000" stroke-width="0.6"/>
<text x="14.8" y="305.64" font-size="4.4" fill="#111" text-anchor="end" font-weight="bold">60</text>
<line x1="19.3" y1="301.33" x2="20.4" y2="301.33" stroke="#000" stroke-width="0.4"/>
<line x1="19.3" y1="298.63" x2="20.4" y2="298.63" stroke="#000" stroke-width="0.4"/>
<line x1="19.3" y1="295.92" x2="20.4" y2="295.92" stroke="#000" stroke-width="0.4"/>
<line x1="18.2" y1="293.22" x2="20.4" y2="293.22" stroke="#000" stroke-width="0.6"/>
<text x="14.8" y="294.82" font-size="4.4" fill="#111" text-anchor="end" font-weight="bold">80</text>
<line x1="19.3" y1="290.51" x2="20.4" y2="290.51" stroke="#000" stroke-width="0.4"/>
<line x1="19.3" y1="287.81" x2="20.4" y2="287.81" stroke="#000" stroke-width="0.4"/>
<line x1="19.3" y1="285.1" x2="20.4" y2="285.1" stroke="#000" stroke-width="0.4"/>
<line x1="18.2" y1="282.4" x2="20.4" y2="282.4" stroke="#000" stroke-width="0.6"/>
<text x="14.8" y="284" font-size="4.4" fill="#111" text-anchor="end" font-weight="bold">100</text>
<line x1="20.4" y1="336.8" x2="20.4" y2="339" stroke="#000" stroke-width="0.6"/>
<text x="21.4" y="343.6" font-size="4.7" fill="#111" text-anchor="middle" font-weight="bold">10<tspan font-size="3.5" dx="1.0" dy="-0.9">0</tspan></text>
<line x1="28.83" y1="336.8" x2="28.83" y2="338" stroke="#000" stroke-width="0.4"/>
<line x1="33.76" y1="336.8" x2="33.76" y2="338" stroke="#000" stroke-width="0.4"/>
<line x1="37.26" y1="336.8" x2="37.26" y2="338" stroke="#000" stroke-width="0.4"/>
<line x1="39.97" y1="336.8" x2="39.97" y2="338" stroke="#000" stroke-width="0.4"/>
<line x1="42.19" y1="336.8" x2="42.19" y2="338" stroke="#000" stroke-width="0.4"/>
<line x1="44.06" y1="336.8" x2="44.06" y2="338" stroke="#000" stroke-width="0.4"/>
<line x1="45.69" y1="336.8" x2="45.69" y2="338" stroke="#000" stroke-width="0.4"/>
<line x1="47.12" y1="336.8" x2="47.12" y2="338" stroke="#000" stroke-width="0.4"/>
<line x1="48.4" y1="336.8" x2="48.4" y2="339" stroke="#000" stroke-width="0.6"/>
<text x="49.4" y="343.6" font-size="4.7" fill="#111" text-anchor="middle" font-weight="bold">10<tspan font-size="3.5" dx="1.0" dy="-0.9">1</tspan></text>
<line x1="56.83" y1="336.8" x2="56.83" y2="338" stroke="#000" stroke-width="0.4"/>
<line x1="61.76" y1="336.8" x2="61.76" y2="338" stroke="#000" stroke-width="0.4"/>
<line x1="65.26" y1="336.8" x2="65.26" y2="338" stroke="#000" stroke-width="0.4"/>
<line x1="67.97" y1="336.8" x2="67.97" y2="338" stroke="#000" stroke-width="0.4"/>
<line x1="70.19" y1="336.8" x2="70.19" y2="338" stroke="#000" stroke-width="0.4"/>
<line x1="72.06" y1="336.8" x2="72.06" y2="338" stroke="#000" stroke-width="0.4"/>
<line x1="73.69" y1="336.8" x2="73.69" y2="338" stroke="#000" stroke-width="0.4"/>
<line x1="75.12" y1="336.8" x2="75.12" y2="338" stroke="#000" stroke-width="0.4"/>
<line x1="76.4" y1="336.8" x2="76.4" y2="339" stroke="#000" stroke-width="0.6"/>
<text x="77.4" y="343.6" font-size="4.7" fill="#111" text-anchor="middle" font-weight="bold">10<tspan font-size="3.5" dx="1.0" dy="-0.9">2</tspan></text>
<line x1="84.83" y1="336.8" x2="84.83" y2="338" stroke="#000" stroke-width="0.4"/>
<line x1="89.76" y1="336.8" x2="89.76" y2="338" stroke="#000" stroke-width="0.4"/>
<line x1="93.26" y1="336.8" x2="93.26" y2="338" stroke="#000" stroke-width="0.4"/>
<line x1="95.97" y1="336.8" x2="95.97" y2="338" stroke="#000" stroke-width="0.4"/>
<line x1="98.19" y1="336.8" x2="98.19" y2="338" stroke="#000" stroke-width="0.4"/>
<line x1="100.06" y1="336.8" x2="100.06" y2="338" stroke="#000" stroke-width="0.4"/>
<line x1="101.69" y1="336.8" x2="101.69" y2="338" stroke="#000" stroke-width="0.4"/>
<line x1="103.12" y1="336.8" x2="103.12" y2="338" stroke="#000" stroke-width="0.4"/>
<line x1="104.4" y1="336.8" x2="104.4" y2="339" stroke="#000" stroke-width="0.6"/>
<text x="105.4" y="343.6" font-size="4.7" fill="#111" text-anchor="middle" font-weight="bold">10<tspan font-size="3.5" dx="1.0" dy="-0.9">3</tspan></text>
<line x1="112.83" y1="336.8" x2="112.83" y2="338" stroke="#000" stroke-width="0.4"/>
<line x1="117.76" y1="336.8" x2="117.76" y2="338" stroke="#000" stroke-width="0.4"/>
<line x1="121.26" y1="336.8" x2="121.26" y2="338" stroke="#000" stroke-width="0.4"/>
<line x1="123.97" y1="336.8" x2="123.97" y2="338" stroke="#000" stroke-width="0.4"/>
<line x1="126.19" y1="336.8" x2="126.19" y2="338" stroke="#000" stroke-width="0.4"/>
<line x1="128.06" y1="336.8" x2="128.06" y2="338" stroke="#000" stroke-width="0.4"/>
<line x1="129.69" y1="336.8" x2="129.69" y2="338" stroke="#000" stroke-width="0.4"/>
<line x1="131.12" y1="336.8" x2="131.12" y2="338" stroke="#000" stroke-width="0.4"/>
<line x1="132.4" y1="336.8" x2="132.4" y2="339" stroke="#000" stroke-width="0.6"/>
<text x="133.4" y="343.6" font-size="4.7" fill="#111" text-anchor="middle" font-weight="bold">10<tspan font-size="3.5" dx="1.0" dy="-0.9">4</tspan></text>
<text x="75.3" y="275.2" font-size="9" fill="#000" text-anchor="middle" stroke="#000" stroke-width="0.18">Monocytes</text>
<text x="74" y="353.4" font-size="5" fill="#111" text-anchor="middle" font-weight="bold">mAb 24</text>
<text transform="translate(8.9,305.4) rotate(-90)" font-size="5.4" font-weight="bold" fill="#111" text-anchor="middle">% of Max</text>
<polyline points="20.4,336.28 21.15,336.28 21.89,336.28 22.64,336.28 23.39,336.28 24.13,336.28 24.88,336.28 25.63,336.28 26.37,336.28 27.12,336.28 27.87,336.28 28.61,336.28 29.36,336.28 30.11,336.28 30.85,336.28 31.6,336.28 32.35,336.28 33.09,336.28 33.84,336.28 34.59,336.28 35.33,336.28 36.08,336.28 36.83,336.28 37.57,336.28 38.32,336.28 39.07,336.28 39.81,336.28 40.56,336.28 41.31,336.28 42.05,336.28 42.8,336.28 43.55,336.28 44.29,336.28 45.04,336.28 45.79,336.28 46.53,336.28 47.28,336.28 48.03,336.28 48.77,336.28 49.52,336.28 50.27,336.28 51.01,336.28 51.76,336.28 52.51,336.28 53.25,336.28 54,336.28 54.75,336.28 55.49,336.28 56.24,336.28 56.99,336.28 57.73,336.28 58.48,336.28 59.23,336.28 59.97,336.28 60.72,336.28 61.47,336.28 62.21,336.28 62.96,336.28 63.71,336.28 64.45,336.28 65.2,336.28 65.95,336.28 66.69,336.28 67.44,336.28 68.19,336.28 68.93,336.28 69.68,336.23 70.43,336.07 71.17,335.79 71.92,335.43 72.67,335.27 73.41,334.05 74.16,334.05 74.91,332.32 75.65,330.24 76.4,327.66 77.15,325.35 77.89,322.43 78.64,317.49 79.39,313.39 80.13,311.47 80.88,307.6 81.63,298.72 82.37,291.2 83.12,289.1 83.87,288.46 84.61,284.83 85.36,282.4 86.11,283.6 86.85,285.76 87.6,286.23 88.35,288.36 89.09,294.03 89.84,301.54 90.59,307.77 91.33,312.17 92.08,314.43 92.83,315.78 93.57,314.65 94.32,312.77 95.07,312.02 95.81,311.27 96.56,310.68 97.31,311.63 98.05,314.36 98.8,317.85 99.55,321.41 100.29,325.37 101.04,329.89 101.79,332.29 102.53,334.43 103.28,335.35 104.03,335.92 104.77,336.28 105.52,336.28 106.27,336.28 107.01,336.28 107.76,336.28 108.51,336.28 109.25,336.28 110,336.28 110.75,336.28 111.49,336.28 112.24,336.28 112.99,336.28 113.73,336.28 114.48,336.28 115.23,336.28 115.97,336.28 116.72,336.28 117.47,336.28 118.21,336.28 118.96,336.28 119.71,336.28 120.45,336.28 121.2,336.28 121.95,336.28 122.69,336.28 123.44,336.28 124.19,336.28 124.93,336.28 125.68,336.28 126.43,336.28 127.17,336.28 127.92,336.28 128.67,336.28 129.41,336.28 130.16,336.28 130.91,336.28 131.65,336.28 132.4,336.28" fill="none" stroke="#3a0a04" stroke-width="0.75" stroke-linejoin="round" stroke-opacity="0.95"/>
<polyline points="20.4,336.28 21.15,336.28 21.89,336.28 22.64,336.28 23.39,336.28 24.13,336.28 24.88,336.28 25.63,336.28 26.37,336.28 27.12,336.28 27.87,336.28 28.61,336.28 29.36,336.28 30.11,336.28 30.85,336.28 31.6,336.28 32.35,336.28 33.09,336.28 33.84,336.28 34.59,336.28 35.33,336.28 36.08,336.28 36.83,336.28 37.57,336.28 38.32,336.28 39.07,336.28 39.81,336.28 40.56,336.28 41.31,336.28 42.05,336.28 42.8,336.28 43.55,336.28 44.29,336.28 45.04,336.28 45.79,336.28 46.53,336.28 47.28,336.28 48.03,336.28 48.77,336.28 49.52,336.28 50.27,336.28 51.01,336.28 51.76,336.28 52.51,336.28 53.25,336.28 54,336.28 54.75,336.28 55.49,336.28 56.24,336.28 56.99,336.28 57.73,336.28 58.48,336.28 59.23,336.28 59.97,336.28 60.72,336.28 61.47,336.28 62.21,336.28 62.96,336.28 63.71,336.28 64.45,336.28 65.2,336.28 65.95,336.28 66.69,336.28 67.44,336.28 68.19,336.28 68.93,336.28 69.68,336.28 70.43,336.28 71.17,336.28 71.92,336.28 72.67,336.28 73.41,336.07 74.16,335.89 74.91,335.54 75.65,335.17 76.4,333.85 77.15,332.76 77.89,331.67 78.64,330.41 79.39,327.84 80.13,325.82 80.88,323.73 81.63,319.45 82.37,312.36 83.12,306.92 83.87,305.34 84.61,303.53 85.36,299.53 86.11,295.88 86.85,292.34 87.6,287.82 88.35,282.88 89.09,282.4 89.84,286.75 90.59,292.59 91.33,295.37 92.08,296.59 92.83,298.87 93.57,302.67 94.32,304.98 95.07,305.69 95.81,306.91 96.56,309.45 97.31,313.46 98.05,316.41 98.8,320.68 99.55,324.7 100.29,328.92 101.04,331.38 101.79,333.34 102.53,334.31 103.28,335.67 104.03,336.1 104.77,336.28 105.52,336.28 106.27,336.28 107.01,336.28 107.76,336.28 108.51,336.28 109.25,336.28 110,336.28 110.75,336.28 111.49,336.28 112.24,336.28 112.99,336.28 113.73,336.28 114.48,336.28 115.23,336.28 115.97,336.28 116.72,336.28 117.47,336.28 118.21,336.28 118.96,336.28 119.71,336.28 120.45,336.28 121.2,336.28 121.95,336.28 122.69,336.28 123.44,336.28 124.19,336.28 124.93,336.28 125.68,336.28 126.43,336.28 127.17,336.28 127.92,336.28 128.67,336.28 129.41,336.28 130.16,336.28 130.91,336.28 131.65,336.28 132.4,336.28" fill="none" stroke="#8a5a30" stroke-width="0.75" stroke-linejoin="round" stroke-opacity="0.95"/>
<polyline points="20.4,336.28 21.15,336.28 21.89,336.28 22.64,336.28 23.39,336.28 24.13,336.28 24.88,336.28 25.63,336.28 26.37,336.28 27.12,336.28 27.87,336.28 28.61,336.28 29.36,336.28 30.11,336.28 30.85,336.28 31.6,336.28 32.35,336.28 33.09,336.28 33.84,336.28 34.59,336.28 35.33,336.28 36.08,336.28 36.83,336.28 37.57,336.28 38.32,336.28 39.07,336.28 39.81,336.28 40.56,336.28 41.31,336.28 42.05,336.28 42.8,336.28 43.55,336.28 44.29,336.28 45.04,336.28 45.79,336.28 46.53,336.28 47.28,336.28 48.03,336.28 48.77,336.28 49.52,336.28 50.27,336.28 51.01,336.28 51.76,336.28 52.51,336.28 53.25,336.28 54,336.28 54.75,336.28 55.49,336.28 56.24,336.28 56.99,336.28 57.73,336.28 58.48,336.28 59.23,336.28 59.97,336.28 60.72,336.28 61.47,336.28 62.21,336.28 62.96,336.28 63.71,336.28 64.45,336.28 65.2,336.28 65.95,336.28 66.69,336.28 67.44,336.28 68.19,336.28 68.93,336.28 69.68,336.28 70.43,336.16 71.17,335.94 71.92,335.51 72.67,334.59 73.41,334.11 74.16,333.35 74.91,332.47 75.65,331.11 76.4,329.56 77.15,327.56 77.89,323.63 78.64,318.79 79.39,314.3 80.13,309.25 80.88,305.81 81.63,302.72 82.37,300.41 83.12,299.17 83.87,296.93 84.61,293.06 85.36,289.01 86.11,284.11 86.85,282.4 87.6,285.95 88.35,294.28 89.09,303.49 89.84,310.95 90.59,315.2 91.33,316.15 92.08,315.94 92.83,315.22 93.57,315.52 94.32,315.74 95.07,316.61 95.81,317.46 96.56,316.6 97.31,316.41 98.05,316.77 98.8,319.91 99.55,323.59 100.29,327.6 101.04,331.05 101.79,332.97 102.53,335.1 103.28,335.65 104.03,336.12 104.77,336.26 105.52,336.28 106.27,336.28 107.01,336.28 107.76,336.28 108.51,336.28 109.25,336.28 110,336.28 110.75,336.28 111.49,336.28 112.24,336.28 112.99,336.28 113.73,336.28 114.48,336.28 115.23,336.28 115.97,336.28 116.72,336.28 117.47,336.28 118.21,336.28 118.96,336.28 119.71,336.28 120.45,336.28 121.2,336.28 121.95,336.28 122.69,336.28 123.44,336.28 124.19,336.28 124.93,336.28 125.68,336.28 126.43,336.28 127.17,336.28 127.92,336.28 128.67,336.28 129.41,336.28 130.16,336.28 130.91,336.28 131.65,336.28 132.4,336.28" fill="none" stroke="#a82020" stroke-width="0.75" stroke-linejoin="round" stroke-opacity="0.95"/>
<polyline points="20.4,336.28 21.15,336.28 21.89,336.28 22.64,336.28 23.39,336.28 24.13,336.28 24.88,336.28 25.63,336.28 26.37,336.28 27.12,336.28 27.87,336.28 28.61,336.28 29.36,336.28 30.11,336.28 30.85,336.28 31.6,336.28 32.35,336.28 33.09,336.28 33.84,336.28 34.59,336.28 35.33,336.28 36.08,336.28 36.83,336.28 37.57,336.28 38.32,336.28 39.07,336.28 39.81,336.28 40.56,336.28 41.31,336.28 42.05,336.28 42.8,336.28 43.55,336.28 44.29,336.28 45.04,336.28 45.79,336.28 46.53,336.28 47.28,336.28 48.03,336.28 48.77,336.28 49.52,336.28 50.27,336.28 51.01,336.28 51.76,336.28 52.51,336.28 53.25,336.28 54,336.28 54.75,336.28 55.49,336.28 56.24,336.28 56.99,336.28 57.73,336.28 58.48,336.28 59.23,336.28 59.97,336.28 60.72,336.28 61.47,336.28 62.21,336.28 62.96,336.28 63.71,336.28 64.45,336.28 65.2,336.28 65.95,336.28 66.69,336.28 67.44,336.28 68.19,336.28 68.93,336.28 69.68,336.28 70.43,336.28 71.17,336.22 71.92,335.81 72.67,335.55 73.41,335.54 74.16,334.79 74.91,333.7 75.65,332.39 76.4,331.16 77.15,328.67 77.89,326.25 78.64,324.29 79.39,319.42 80.13,315.2 80.88,312.89 81.63,307.34 82.37,300.19 83.12,298.09 83.87,294.8 84.61,287.22 85.36,285.45 86.11,287.68 86.85,284.42 87.6,282.4 88.35,289.26 89.09,293.39 89.84,295.25 90.59,302.09 91.33,308.61 92.08,311.56 92.83,314.74 93.57,317.86 94.32,317.79 95.07,316.05 95.81,315.19 96.56,314.27 97.31,311.42 98.05,311.16 98.8,314.56 99.55,316.86 100.29,319.98 101.04,325.14 101.79,329.04 102.53,331.58 103.28,333.85 104.03,334.69 104.77,335.65 105.52,336.07 106.27,336.28 107.01,336.28 107.76,336.28 108.51,336.28 109.25,336.28 110,336.28 110.75,336.28 111.49,336.28 112.24,336.28 112.99,336.28 113.73,336.28 114.48,336.28 115.23,336.28 115.97,336.28 116.72,336.28 117.47,336.28 118.21,336.28 118.96,336.28 119.71,336.28 120.45,336.28 121.2,336.28 121.95,336.28 122.69,336.28 123.44,336.28 124.19,336.28 124.93,336.28 125.68,336.28 126.43,336.28 127.17,336.28 127.92,336.28 128.67,336.28 129.41,336.28 130.16,336.28 130.91,336.28 131.65,336.28 132.4,336.28" fill="none" stroke="#a824c8" stroke-width="0.75" stroke-linejoin="round" stroke-opacity="0.95"/>
<polyline points="20.4,336.28 21.15,336.28 21.89,336.28 22.64,336.28 23.39,336.28 24.13,336.28 24.88,336.28 25.63,336.28 26.37,336.28 27.12,336.28 27.87,336.28 28.61,336.28 29.36,336.28 30.11,336.28 30.85,336.28 31.6,336.28 32.35,336.28 33.09,336.28 33.84,336.28 34.59,336.28 35.33,336.28 36.08,336.28 36.83,336.28 37.57,336.28 38.32,336.28 39.07,336.28 39.81,336.28 40.56,336.28 41.31,336.28 42.05,336.28 42.8,336.28 43.55,336.28 44.29,336.28 45.04,336.28 45.79,336.28 46.53,336.28 47.28,336.28 48.03,336.28 48.77,336.28 49.52,336.28 50.27,336.28 51.01,336.28 51.76,336.28 52.51,336.28 53.25,336.28 54,336.28 54.75,336.28 55.49,336.28 56.24,336.28 56.99,336.28 57.73,336.28 58.48,336.28 59.23,336.28 59.97,336.28 60.72,336.28 61.47,336.28 62.21,336.28 62.96,336.28 63.71,336.28 64.45,336.28 65.2,336.28 65.95,336.28 66.69,336.28 67.44,336.28 68.19,336.28 68.93,336.28 69.68,336.28 70.43,336.28 71.17,336.16 71.92,336.06 72.67,335.86 73.41,335.14 74.16,334.97 74.91,333.94 75.65,333.14 76.4,331.55 77.15,330.39 77.89,327.76 78.64,325.59 79.39,322.79 80.13,318.79 80.88,312.43 81.63,308.1 82.37,307.84 83.12,304.1 83.87,297.12 84.61,293.32 85.36,292.6 86.11,287.05 86.85,282.4 87.6,287.94 88.35,294.77 89.09,294.65 89.84,294.45 90.59,300.04 91.33,306.29 92.08,307.51 92.83,310.02 93.57,313.62 94.32,314.9 95.07,310.5 95.81,307.47 96.56,309.15 97.31,311.19 98.05,311.54 98.8,315.61 99.55,321.49 100.29,324.66 101.04,327.37 101.79,330.45 102.53,333.85 103.28,335.03 104.03,335.72 104.77,336.21 105.52,336.28 106.27,336.28 107.01,336.28 107.76,336.28 108.51,336.28 109.25,336.28 110,336.28 110.75,336.28 111.49,336.28 112.24,336.28 112.99,336.28 113.73,336.28 114.48,336.28 115.23,336.28 115.97,336.28 116.72,336.28 117.47,336.28 118.21,336.28 118.96,336.28 119.71,336.28 120.45,336.28 121.2,336.28 121.95,336.28 122.69,336.28 123.44,336.28 124.19,336.28 124.93,336.28 125.68,336.28 126.43,336.28 127.17,336.28 127.92,336.28 128.67,336.28 129.41,336.28 130.16,336.28 130.91,336.28 131.65,336.28 132.4,336.28" fill="none" stroke="#78d858" stroke-width="0.75" stroke-linejoin="round" stroke-opacity="0.95"/>
<polyline points="20.4,336.28 21.15,336.28 21.89,336.28 22.64,336.28 23.39,336.28 24.13,336.28 24.88,336.28 25.63,336.28 26.37,336.28 27.12,336.28 27.87,336.28 28.61,336.28 29.36,336.28 30.11,336.28 30.85,336.28 31.6,336.28 32.35,336.28 33.09,336.28 33.84,336.28 34.59,336.28 35.33,336.28 36.08,336.28 36.83,336.28 37.57,336.28 38.32,336.28 39.07,336.28 39.81,336.28 40.56,336.28 41.31,336.28 42.05,336.28 42.8,336.28 43.55,336.28 44.29,336.28 45.04,336.28 45.79,336.28 46.53,336.28 47.28,336.28 48.03,336.28 48.77,336.28 49.52,336.28 50.27,336.28 51.01,336.28 51.76,336.28 52.51,336.28 53.25,336.28 54,336.28 54.75,336.28 55.49,336.28 56.24,336.28 56.99,336.28 57.73,336.28 58.48,336.28 59.23,336.28 59.97,336.28 60.72,336.28 61.47,336.28 62.21,336.28 62.96,336.28 63.71,336.28 64.45,336.28 65.2,336.28 65.95,336.28 66.69,336.28 67.44,336.28 68.19,336.28 68.93,336.28 69.68,336.28 70.43,336.28 71.17,336.28 71.92,336.28 72.67,336.21 73.41,336 74.16,335.7 74.91,335.26 75.65,334.88 76.4,333.6 77.15,333.01 77.89,332.04 78.64,330.38 79.39,328.01 80.13,323.04 80.88,319.34 81.63,317.11 82.37,313.53 83.12,308.16 83.87,304.47 84.61,302.14 85.36,294.52 86.11,285.52 86.85,283.54 87.6,285.76 88.35,285.27 89.09,283.78 89.84,282.4 90.59,285.8 91.33,292.91 92.08,296.87 92.83,294.08 93.57,293.77 94.32,299.45 95.07,303.76 95.81,303.92 96.56,302.8 97.31,304.82 98.05,306.53 98.8,308.72 99.55,314.04 100.29,321.5 101.04,327.38 101.79,330.86 102.53,332.86 103.28,334.24 104.03,335.5 104.77,336.12 105.52,336.28 106.27,336.28 107.01,336.28 107.76,336.28 108.51,336.28 109.25,336.28 110,336.28 110.75,336.28 111.49,336.28 112.24,336.28 112.99,336.28 113.73,336.28 114.48,336.28 115.23,336.28 115.97,336.28 116.72,336.28 117.47,336.28 118.21,336.28 118.96,336.28 119.71,336.28 120.45,336.28 121.2,336.28 121.95,336.28 122.69,336.28 123.44,336.28 124.19,336.28 124.93,336.28 125.68,336.28 126.43,336.28 127.17,336.28 127.92,336.28 128.67,336.28 129.41,336.28 130.16,336.28 130.91,336.28 131.65,336.28 132.4,336.28" fill="none" stroke="#88eef4" stroke-width="0.75" stroke-linejoin="round" stroke-opacity="0.95"/>
<polyline points="20.4,336.28 21.15,336.28 21.89,336.28 22.64,336.28 23.39,336.28 24.13,336.28 24.88,336.28 25.63,336.28 26.37,336.28 27.12,336.28 27.87,336.28 28.61,336.28 29.36,336.28 30.11,336.28 30.85,336.28 31.6,336.28 32.35,336.28 33.09,336.28 33.84,336.28 34.59,336.28 35.33,336.28 36.08,336.28 36.83,336.28 37.57,336.28 38.32,336.28 39.07,336.28 39.81,336.28 40.56,336.28 41.31,336.28 42.05,336.28 42.8,336.28 43.55,336.28 44.29,336.28 45.04,336.28 45.79,336.28 46.53,336.28 47.28,336.28 48.03,336.28 48.77,336.28 49.52,336.28 50.27,336.28 51.01,336.28 51.76,336.28 52.51,336.28 53.25,336.28 54,336.28 54.75,336.28 55.49,336.28 56.24,336.28 56.99,336.28 57.73,336.28 58.48,336.28 59.23,336.28 59.97,336.28 60.72,336.28 61.47,336.28 62.21,336.28 62.96,336.28 63.71,336.28 64.45,336.28 65.2,336.28 65.95,336.28 66.69,336.28 67.44,336.28 68.19,336.28 68.93,336.28 69.68,336.28 70.43,336.22 71.17,336.11 71.92,335.69 72.67,334.99 73.41,334.53 74.16,333.99 74.91,332.21 75.65,331.29 76.4,329.26 77.15,327.45 77.89,324.91 78.64,321.25 79.39,317.07 80.13,311.35 80.88,306.4 81.63,301.75 82.37,298.2 83.12,295.79 83.87,292.68 84.61,289.28 85.36,286 86.11,282.74 86.85,282.4 87.6,285.15 88.35,290.11 89.09,295.94 89.84,302.7 90.59,307.92 91.33,312.38 92.08,316.43 92.83,319.33 93.57,321.09 94.32,321.28 95.07,319.77 95.81,317.9 96.56,314.72 97.31,312.23 98.05,310.68 98.8,311.52 99.55,313.72 100.29,317.95 101.04,322.08 101.79,326.35 102.53,329.37 103.28,331.64 104.03,333.72 104.77,335.29 105.52,335.92 106.27,336.17 107.01,336.28 107.76,336.28 108.51,336.28 109.25,336.28 110,336.28 110.75,336.28 111.49,336.28 112.24,336.28 112.99,336.28 113.73,336.28 114.48,336.28 115.23,336.28 115.97,336.28 116.72,336.28 117.47,336.28 118.21,336.28 118.96,336.28 119.71,336.28 120.45,336.28 121.2,336.28 121.95,336.28 122.69,336.28 123.44,336.28 124.19,336.28 124.93,336.28 125.68,336.28 126.43,336.28 127.17,336.28 127.92,336.28 128.67,336.28 129.41,336.28 130.16,336.28 130.91,336.28 131.65,336.28 132.4,336.28" fill="none" stroke="#1414c8" stroke-width="0.75" stroke-linejoin="round" stroke-opacity="0.95"/>
<polyline points="20.4,336.28 21.15,336.28 21.89,336.28 22.64,336.28 23.39,336.28 24.13,336.28 24.88,336.28 25.63,336.28 26.37,336.28 27.12,336.28 27.87,336.28 28.61,336.28 29.36,336.28 30.11,336.28 30.85,336.28 31.6,336.28 32.35,336.28 33.09,336.28 33.84,336.28 34.59,336.28 35.33,336.28 36.08,336.28 36.83,336.28 37.57,336.28 38.32,336.28 39.07,336.28 39.81,336.28 40.56,336.28 41.31,336.28 42.05,336.28 42.8,336.28 43.55,336.28 44.29,336.28 45.04,336.28 45.79,336.28 46.53,336.28 47.28,336.28 48.03,336.28 48.77,336.28 49.52,336.28 50.27,336.28 51.01,336.28 51.76,336.28 52.51,336.28 53.25,336.28 54,336.28 54.75,336.28 55.49,336.28 56.24,336.28 56.99,336.28 57.73,336.28 58.48,336.28 59.23,336.28 59.97,336.28 60.72,336.28 61.47,336.28 62.21,336.28 62.96,336.28 63.71,336.28 64.45,336.28 65.2,336.28 65.95,336.28 66.69,336.28 67.44,336.28 68.19,336.28 68.93,336.28 69.68,336.28 70.43,336.28 71.17,336.28 71.92,336.18 72.67,336.01 73.41,335.83 74.16,335.37 74.91,334.92 75.65,334.18 76.4,332.27 77.15,330.8 77.89,329.45 78.64,327.42 79.39,324.71 80.13,321.46 80.88,318.07 81.63,313.93 82.37,308.46 83.12,302.59 83.87,296.24 84.61,293.14 85.36,291.67 86.11,290.63 86.85,287.81 87.6,283.79 88.35,282.4 89.09,285.55 89.84,290.01 90.59,293.39 91.33,295.85 92.08,300.48 92.83,305.88 93.57,310.38 94.32,311.47 95.07,309.19 95.81,306.72 96.56,307.8 97.31,311.59 98.05,315.81 98.8,319.39 99.55,321.99 100.29,324.87 101.04,328.61 101.79,331.81 102.53,334.19 103.28,335.09 104.03,335.87 104.77,336.27 105.52,336.28 106.27,336.28 107.01,336.28 107.76,336.28 108.51,336.28 109.25,336.28 110,336.28 110.75,336.28 111.49,336.28 112.24,336.28 112.99,336.28 113.73,336.28 114.48,336.28 115.23,336.28 115.97,336.28 116.72,336.28 117.47,336.28 118.21,336.28 118.96,336.28 119.71,336.28 120.45,336.28 121.2,336.28 121.95,336.28 122.69,336.28 123.44,336.28 124.19,336.28 124.93,336.28 125.68,336.28 126.43,336.28 127.17,336.28 127.92,336.28 128.67,336.28 129.41,336.28 130.16,336.28 130.91,336.28 131.65,336.28 132.4,336.28" fill="none" stroke="#d8883a" stroke-width="0.75" stroke-linejoin="round" stroke-opacity="0.95"/>
<rect x="22.1" y="281" width="4.4" height="3.0" fill="#a82020"/>
<text x="29.4" y="283.85" font-size="3.75" fill="#222" stroke="#222" stroke-width="0.1">343 Pre  1.28</text>
<rect x="22.1" y="285.4" width="4.4" height="3.0" fill="#1414c8"/>
<text x="29.4" y="288.25" font-size="3.75" fill="#222" stroke="#222" stroke-width="0.1">423 15min  1.72</text>
<rect x="22.1" y="289.8" width="4.4" height="3.0" fill="#78d858"/>
<text x="29.4" y="292.65" font-size="3.75" fill="#222" stroke="#222" stroke-width="0.1">398 30min  1.63</text>
<rect x="22.1" y="294.2" width="4.4" height="3.0" fill="#d8883a"/>
<text x="29.4" y="297.05" font-size="3.75" fill="#222" stroke="#222" stroke-width="0.1">430 60min  1.73</text>
<rect x="22.1" y="298.6" width="4.4" height="3.0" fill="#88eef4"/>
<text x="29.4" y="301.45" font-size="3.75" fill="#222" stroke="#222" stroke-width="0.1">312 90min  1.73</text>
<rect x="22.1" y="303" width="4.4" height="3.0" fill="#a824c8"/>
<text x="29.4" y="305.85" font-size="3.75" fill="#222" stroke="#222" stroke-width="0.1">286 120min  1.62</text>
<rect x="22.1" y="307.4" width="4.4" height="3.0" fill="#8a5a30"/>
<text x="29.4" y="310.25" font-size="3.75" fill="#222" stroke="#222" stroke-width="0.1">314 240min  2.57</text>
<rect x="22.1" y="311.8" width="4.4" height="3.0" fill="#3a0a04"/>
<text x="29.4" y="314.65" font-size="3.75" fill="#222" stroke="#222" stroke-width="0.1">314 24hours 2.91</text>
<rect x="153.5" y="278.35" width="103.7" height="58.65" fill="#fff" stroke="#222" stroke-width="0.7"/>
<line x1="151.3" y1="336.8" x2="153.5" y2="336.8" stroke="#000" stroke-width="0.6"/>
<text x="147.9" y="338.4" font-size="4.4" fill="#111" text-anchor="end" font-weight="bold">0</text>
<line x1="152.4" y1="334.08" x2="153.5" y2="334.08" stroke="#000" stroke-width="0.4"/>
<line x1="152.4" y1="331.36" x2="153.5" y2="331.36" stroke="#000" stroke-width="0.4"/>
<line x1="152.4" y1="328.64" x2="153.5" y2="328.64" stroke="#000" stroke-width="0.4"/>
<line x1="151.3" y1="325.92" x2="153.5" y2="325.92" stroke="#000" stroke-width="0.6"/>
<text x="147.9" y="327.52" font-size="4.4" fill="#111" text-anchor="end" font-weight="bold">20</text>
<line x1="152.4" y1="323.2" x2="153.5" y2="323.2" stroke="#000" stroke-width="0.4"/>
<line x1="152.4" y1="320.48" x2="153.5" y2="320.48" stroke="#000" stroke-width="0.4"/>
<line x1="152.4" y1="317.76" x2="153.5" y2="317.76" stroke="#000" stroke-width="0.4"/>
<line x1="151.3" y1="315.04" x2="153.5" y2="315.04" stroke="#000" stroke-width="0.6"/>
<text x="147.9" y="316.64" font-size="4.4" fill="#111" text-anchor="end" font-weight="bold">40</text>
<line x1="152.4" y1="312.32" x2="153.5" y2="312.32" stroke="#000" stroke-width="0.4"/>
<line x1="152.4" y1="309.6" x2="153.5" y2="309.6" stroke="#000" stroke-width="0.4"/>
<line x1="152.4" y1="306.88" x2="153.5" y2="306.88" stroke="#000" stroke-width="0.4"/>
<line x1="151.3" y1="304.16" x2="153.5" y2="304.16" stroke="#000" stroke-width="0.6"/>
<text x="147.9" y="305.76" font-size="4.4" fill="#111" text-anchor="end" font-weight="bold">60</text>
<line x1="152.4" y1="301.44" x2="153.5" y2="301.44" stroke="#000" stroke-width="0.4"/>
<line x1="152.4" y1="298.72" x2="153.5" y2="298.72" stroke="#000" stroke-width="0.4"/>
<line x1="152.4" y1="296" x2="153.5" y2="296" stroke="#000" stroke-width="0.4"/>
<line x1="151.3" y1="293.28" x2="153.5" y2="293.28" stroke="#000" stroke-width="0.6"/>
<text x="147.9" y="294.88" font-size="4.4" fill="#111" text-anchor="end" font-weight="bold">80</text>
<line x1="152.4" y1="290.56" x2="153.5" y2="290.56" stroke="#000" stroke-width="0.4"/>
<line x1="152.4" y1="287.84" x2="153.5" y2="287.84" stroke="#000" stroke-width="0.4"/>
<line x1="152.4" y1="285.12" x2="153.5" y2="285.12" stroke="#000" stroke-width="0.4"/>
<line x1="151.3" y1="282.4" x2="153.5" y2="282.4" stroke="#000" stroke-width="0.6"/>
<text x="147.9" y="284" font-size="4.4" fill="#111" text-anchor="end" font-weight="bold">100</text>
<line x1="153.5" y1="337" x2="153.5" y2="339.2" stroke="#000" stroke-width="0.6"/>
<text x="154.5" y="343.8" font-size="4.7" fill="#111" text-anchor="middle" font-weight="bold">10<tspan font-size="3.5" dx="1.0" dy="-0.9">0</tspan></text>
<line x1="161.3" y1="337" x2="161.3" y2="338.2" stroke="#000" stroke-width="0.4"/>
<line x1="165.87" y1="337" x2="165.87" y2="338.2" stroke="#000" stroke-width="0.4"/>
<line x1="169.11" y1="337" x2="169.11" y2="338.2" stroke="#000" stroke-width="0.4"/>
<line x1="171.62" y1="337" x2="171.62" y2="338.2" stroke="#000" stroke-width="0.4"/>
<line x1="173.67" y1="337" x2="173.67" y2="338.2" stroke="#000" stroke-width="0.4"/>
<line x1="175.41" y1="337" x2="175.41" y2="338.2" stroke="#000" stroke-width="0.4"/>
<line x1="176.91" y1="337" x2="176.91" y2="338.2" stroke="#000" stroke-width="0.4"/>
<line x1="178.24" y1="337" x2="178.24" y2="338.2" stroke="#000" stroke-width="0.4"/>
<line x1="179.43" y1="337" x2="179.43" y2="339.2" stroke="#000" stroke-width="0.6"/>
<text x="180.43" y="343.8" font-size="4.7" fill="#111" text-anchor="middle" font-weight="bold">10<tspan font-size="3.5" dx="1.0" dy="-0.9">1</tspan></text>
<line x1="187.23" y1="337" x2="187.23" y2="338.2" stroke="#000" stroke-width="0.4"/>
<line x1="191.79" y1="337" x2="191.79" y2="338.2" stroke="#000" stroke-width="0.4"/>
<line x1="195.03" y1="337" x2="195.03" y2="338.2" stroke="#000" stroke-width="0.4"/>
<line x1="197.55" y1="337" x2="197.55" y2="338.2" stroke="#000" stroke-width="0.4"/>
<line x1="199.6" y1="337" x2="199.6" y2="338.2" stroke="#000" stroke-width="0.4"/>
<line x1="201.33" y1="337" x2="201.33" y2="338.2" stroke="#000" stroke-width="0.4"/>
<line x1="202.84" y1="337" x2="202.84" y2="338.2" stroke="#000" stroke-width="0.4"/>
<line x1="204.16" y1="337" x2="204.16" y2="338.2" stroke="#000" stroke-width="0.4"/>
<line x1="205.35" y1="337" x2="205.35" y2="339.2" stroke="#000" stroke-width="0.6"/>
<text x="206.35" y="343.8" font-size="4.7" fill="#111" text-anchor="middle" font-weight="bold">10<tspan font-size="3.5" dx="1.0" dy="-0.9">2</tspan></text>
<line x1="213.15" y1="337" x2="213.15" y2="338.2" stroke="#000" stroke-width="0.4"/>
<line x1="217.72" y1="337" x2="217.72" y2="338.2" stroke="#000" stroke-width="0.4"/>
<line x1="220.96" y1="337" x2="220.96" y2="338.2" stroke="#000" stroke-width="0.4"/>
<line x1="223.47" y1="337" x2="223.47" y2="338.2" stroke="#000" stroke-width="0.4"/>
<line x1="225.52" y1="337" x2="225.52" y2="338.2" stroke="#000" stroke-width="0.4"/>
<line x1="227.26" y1="337" x2="227.26" y2="338.2" stroke="#000" stroke-width="0.4"/>
<line x1="228.76" y1="337" x2="228.76" y2="338.2" stroke="#000" stroke-width="0.4"/>
<line x1="230.09" y1="337" x2="230.09" y2="338.2" stroke="#000" stroke-width="0.4"/>
<line x1="231.27" y1="337" x2="231.27" y2="339.2" stroke="#000" stroke-width="0.6"/>
<text x="232.27" y="343.8" font-size="4.7" fill="#111" text-anchor="middle" font-weight="bold">10<tspan font-size="3.5" dx="1.0" dy="-0.9">3</tspan></text>
<line x1="239.08" y1="337" x2="239.08" y2="338.2" stroke="#000" stroke-width="0.4"/>
<line x1="243.64" y1="337" x2="243.64" y2="338.2" stroke="#000" stroke-width="0.4"/>
<line x1="246.88" y1="337" x2="246.88" y2="338.2" stroke="#000" stroke-width="0.4"/>
<line x1="249.4" y1="337" x2="249.4" y2="338.2" stroke="#000" stroke-width="0.4"/>
<line x1="251.45" y1="337" x2="251.45" y2="338.2" stroke="#000" stroke-width="0.4"/>
<line x1="253.18" y1="337" x2="253.18" y2="338.2" stroke="#000" stroke-width="0.4"/>
<line x1="254.69" y1="337" x2="254.69" y2="338.2" stroke="#000" stroke-width="0.4"/>
<line x1="256.01" y1="337" x2="256.01" y2="338.2" stroke="#000" stroke-width="0.4"/>
<line x1="257.2" y1="337" x2="257.2" y2="339.2" stroke="#000" stroke-width="0.6"/>
<text x="258.2" y="343.8" font-size="4.7" fill="#111" text-anchor="middle" font-weight="bold">10<tspan font-size="3.5" dx="1.0" dy="-0.9">4</tspan></text>
<text x="205.3" y="275.35" font-size="9" fill="#000" text-anchor="middle" stroke="#000" stroke-width="0.18">Neutrophils + PMA</text>
<text x="208.5" y="353.3" font-size="5" fill="#111" text-anchor="middle" font-weight="bold">mAb 24</text>
<text transform="translate(142.3,302) rotate(-90)" font-size="5.4" font-weight="bold" fill="#111" text-anchor="middle">% of Max</text>
<polyline points="153.5,336.58 154.19,336.58 154.88,336.58 155.57,336.58 156.27,336.58 156.96,336.58 157.65,336.58 158.34,336.58 159.03,336.58 159.72,336.58 160.41,336.58 161.1,336.58 161.8,336.58 162.49,336.58 163.18,336.58 163.87,336.58 164.56,336.58 165.25,336.58 165.94,336.58 166.64,336.58 167.33,336.58 168.02,336.58 168.71,336.58 169.4,336.58 170.09,336.58 170.78,336.58 171.47,336.58 172.17,336.58 172.86,336.58 173.55,336.58 174.24,336.58 174.93,336.58 175.62,336.58 176.31,336.58 177.01,336.58 177.7,336.58 178.39,336.58 179.08,336.58 179.77,336.58 180.46,336.58 181.15,336.58 181.84,336.58 182.54,336.58 183.23,336.58 183.92,336.58 184.61,336.58 185.3,336.58 185.99,336.58 186.68,336.58 187.38,336.58 188.07,336.58 188.76,336.58 189.45,336.58 190.14,336.58 190.83,336.58 191.52,336.58 192.21,336.58 192.91,336.58 193.6,336.58 194.29,336.58 194.98,336.58 195.67,336.58 196.36,336.58 197.05,336.58 197.75,336.58 198.44,336.58 199.13,336.58 199.82,336.58 200.51,336.58 201.2,336.52 201.89,336.47 202.58,336.45 203.28,336.38 203.97,336.22 204.66,335.92 205.35,335.59 206.04,335.22 206.73,334.99 207.42,334.86 208.12,333.46 208.81,332.72 209.5,332.75 210.19,331.99 210.88,330.96 211.57,328.68 212.26,327.1 212.95,326.44 213.65,325.46 214.34,322.58 215.03,318.85 215.72,317.79 216.41,317.18 217.1,314.32 217.79,308.59 218.49,304.84 219.18,306.06 219.87,306.76 220.56,301.78 221.25,293.41 221.94,289.39 222.63,294.83 223.32,298.88 224.02,293.59 224.71,284.6 225.4,282.4 226.09,289.47 226.78,296.01 227.47,293.64 228.16,289.32 228.86,291.73 229.55,299.51 230.24,305.32 230.93,306.92 231.62,308.27 232.31,312.69 233,318.7 233.69,321.94 234.39,322.98 235.08,325.55 235.77,328.55 236.46,331.1 237.15,332.68 237.84,332.88 238.53,333.95 239.23,334.7 239.92,335.55 240.61,335.9 241.3,336.11 241.99,336.37 242.68,336.56 243.37,336.58 244.06,336.58 244.76,336.58 245.45,336.58 246.14,336.58 246.83,336.58 247.52,336.58 248.21,336.58 248.9,336.58 249.6,336.58 250.29,336.58 250.98,336.58 251.67,336.58 252.36,336.58 253.05,336.58 253.74,336.58 254.43,336.58 255.13,336.58 255.82,336.58 256.51,336.58 257.2,336.58" fill="none" stroke="#78d858" stroke-width="0.75" stroke-linejoin="round" stroke-opacity="0.95"/>
<polyline points="153.5,336.58 154.19,336.58 154.88,336.58 155.57,336.58 156.27,336.58 156.96,336.58 157.65,336.58 158.34,336.58 159.03,336.58 159.72,336.58 160.41,336.58 161.1,336.58 161.8,336.58 162.49,336.58 163.18,336.58 163.87,336.58 164.56,336.58 165.25,336.58 165.94,336.58 166.64,336.58 167.33,336.58 168.02,336.58 168.71,336.58 169.4,336.58 170.09,336.58 170.78,336.58 171.47,336.58 172.17,336.58 172.86,336.58 173.55,336.58 174.24,336.58 174.93,336.58 175.62,336.58 176.31,336.58 177.01,336.58 177.7,336.58 178.39,336.58 179.08,336.58 179.77,336.58 180.46,336.58 181.15,336.58 181.84,336.58 182.54,336.58 183.23,336.58 183.92,336.58 184.61,336.58 185.3,336.58 185.99,336.58 186.68,336.58 187.38,336.58 188.07,336.58 188.76,336.58 189.45,336.58 190.14,336.58 190.83,336.58 191.52,336.58 192.21,336.58 192.91,336.58 193.6,336.58 194.29,336.58 194.98,336.58 195.67,336.58 196.36,336.58 197.05,336.58 197.75,336.58 198.44,336.58 199.13,336.58 199.82,336.58 200.51,336.58 201.2,336.58 201.89,336.56 202.58,336.5 203.28,336.53 203.97,336.32 204.66,336.31 205.35,335.99 206.04,335.55 206.73,335.42 207.42,334.75 208.12,334.3 208.81,333.59 209.5,333.29 210.19,333.16 210.88,331.91 211.57,330.57 212.26,329.67 212.95,327.98 213.65,325.39 214.34,323.59 215.03,322.85 215.72,321.04 216.41,318.2 217.1,316.26 217.79,315.09 218.49,311.55 219.18,305.69 219.87,302.38 220.56,301.93 221.25,298.22 221.94,293.7 222.63,294.52 223.32,295.67 224.02,292.6 224.71,288.14 225.4,288.1 226.09,289.3 226.78,284.73 227.47,282.4 228.16,286.25 228.86,290.49 229.55,290.35 230.24,293.87 230.93,300.76 231.62,305.07 232.31,307.14 233,310.43 233.69,315.74 234.39,318.82 235.08,320.58 235.77,323.96 236.46,326.94 237.15,329.68 237.84,330.68 238.53,332.54 239.23,334.2 239.92,334.43 240.61,335.21 241.3,335.56 241.99,336.05 242.68,336.18 243.37,336.37 244.06,336.56 244.76,336.58 245.45,336.58 246.14,336.58 246.83,336.58 247.52,336.58 248.21,336.58 248.9,336.58 249.6,336.58 250.29,336.58 250.98,336.58 251.67,336.58 252.36,336.58 253.05,336.58 253.74,336.58 254.43,336.58 255.13,336.58 255.82,336.58 256.51,336.58 257.2,336.58" fill="none" stroke="#88eef4" stroke-width="0.75" stroke-linejoin="round" stroke-opacity="0.95"/>
<polyline points="153.5,336.58 154.19,336.58 154.88,336.58 155.57,336.58 156.27,336.58 156.96,336.58 157.65,336.58 158.34,336.58 159.03,336.58 159.72,336.58 160.41,336.58 161.1,336.58 161.8,336.58 162.49,336.58 163.18,336.58 163.87,336.58 164.56,336.58 165.25,336.58 165.94,336.58 166.64,336.58 167.33,336.58 168.02,336.58 168.71,336.58 169.4,336.58 170.09,336.58 170.78,336.58 171.47,336.58 172.17,336.58 172.86,336.58 173.55,336.58 174.24,336.58 174.93,336.58 175.62,336.58 176.31,336.58 177.01,336.58 177.7,336.58 178.39,336.58 179.08,336.58 179.77,336.58 180.46,336.58 181.15,336.58 181.84,336.58 182.54,336.58 183.23,336.58 183.92,336.58 184.61,336.58 185.3,336.58 185.99,336.58 186.68,336.58 187.38,336.58 188.07,336.58 188.76,336.58 189.45,336.58 190.14,336.58 190.83,336.58 191.52,336.58 192.21,336.58 192.91,336.58 193.6,336.58 194.29,336.58 194.98,336.58 195.67,336.58 196.36,336.58 197.05,336.58 197.75,336.58 198.44,336.58 199.13,336.58 199.82,336.58 200.51,336.49 201.2,336.44 201.89,336.32 202.58,336.21 203.28,336.15 203.97,335.8 204.66,335.31 205.35,335.08 206.04,334.47 206.73,333.96 207.42,333.11 208.12,332.55 208.81,331.93 209.5,330.91 210.19,330.37 210.88,329.54 211.57,327.35 212.26,324.17 212.95,320.67 213.65,317.88 214.34,315.85 215.03,315.38 215.72,315.09 216.41,313.62 217.1,310.29 217.79,305.76 218.49,300.9 219.18,296.48 219.87,291.79 220.56,288.67 221.25,288.46 221.94,290.25 222.63,292.61 223.32,292.69 224.02,289.5 224.71,285.37 225.4,282.4 226.09,283.63 226.78,286.87 227.47,289.32 228.16,291.28 228.86,294.91 229.55,299.41 230.24,305.09 230.93,310.78 231.62,313.81 232.31,316.09 233,318.61 233.69,321.32 234.39,323.58 235.08,326.55 235.77,328.93 236.46,330.89 237.15,332.4 237.84,333.54 238.53,334.32 239.23,334.89 239.92,335.69 240.61,335.76 241.3,336.14 241.99,336.38 242.68,336.54 243.37,336.58 244.06,336.58 244.76,336.58 245.45,336.58 246.14,336.58 246.83,336.58 247.52,336.58 248.21,336.58 248.9,336.58 249.6,336.58 250.29,336.58 250.98,336.58 251.67,336.58 252.36,336.58 253.05,336.58 253.74,336.58 254.43,336.58 255.13,336.58 255.82,336.58 256.51,336.58 257.2,336.58" fill="none" stroke="#a82020" stroke-width="0.75" stroke-linejoin="round" stroke-opacity="0.95"/>
<polyline points="153.5,336.58 154.19,336.58 154.88,336.58 155.57,336.58 156.27,336.58 156.96,336.58 157.65,336.58 158.34,336.58 159.03,336.58 159.72,336.58 160.41,336.58 161.1,336.58 161.8,336.58 162.49,336.58 163.18,336.58 163.87,336.58 164.56,336.58 165.25,336.58 165.94,336.58 166.64,336.58 167.33,336.58 168.02,336.58 168.71,336.58 169.4,336.58 170.09,336.58 170.78,336.58 171.47,336.58 172.17,336.58 172.86,336.58 173.55,336.58 174.24,336.58 174.93,336.58 175.62,336.58 176.31,336.58 177.01,336.58 177.7,336.58 178.39,336.58 179.08,336.58 179.77,336.58 180.46,336.58 181.15,336.58 181.84,336.58 182.54,336.58 183.23,336.58 183.92,336.58 184.61,336.58 185.3,336.58 185.99,336.58 186.68,336.58 187.38,336.58 188.07,336.58 188.76,336.58 189.45,336.58 190.14,336.58 190.83,336.58 191.52,336.58 192.21,336.58 192.91,336.58 193.6,336.58 194.29,336.58 194.98,336.58 195.67,336.58 196.36,336.58 197.05,336.58 197.75,336.58 198.44,336.58 199.13,336.58 199.82,336.53 200.51,336.51 201.2,336.37 201.89,336.25 202.58,336.1 203.28,335.84 203.97,335.73 204.66,335.02 205.35,334.8 206.04,334.12 206.73,333.39 207.42,332.08 208.12,331.45 208.81,329.91 209.5,329.82 210.19,329 210.88,327.36 211.57,324.22 212.26,320.22 212.95,317.5 213.65,315.74 214.34,314.59 215.03,312.66 215.72,310.04 216.41,306.49 217.1,301.08 217.79,296.44 218.49,292.61 219.18,292.74 219.87,292.13 220.56,290.03 221.25,286.64 221.94,283.74 222.63,283.4 223.32,283.76 224.02,283.71 224.71,282.4 225.4,283.28 226.09,287.24 226.78,290.29 227.47,293.25 228.16,296.96 228.86,301.34 229.55,305.99 230.24,309.7 230.93,312.59 231.62,315.57 232.31,319 233,322.74 233.69,325.15 234.39,327.87 235.08,329.71 235.77,332.01 236.46,332.86 237.15,334 237.84,334.58 238.53,334.68 239.23,335.9 239.92,336.05 240.61,336.27 241.3,336.41 241.99,336.58 242.68,336.58 243.37,336.58 244.06,336.58 244.76,336.58 245.45,336.58 246.14,336.58 246.83,336.58 247.52,336.58 248.21,336.58 248.9,336.58 249.6,336.58 250.29,336.58 250.98,336.58 251.67,336.58 252.36,336.58 253.05,336.58 253.74,336.58 254.43,336.58 255.13,336.58 255.82,336.58 256.51,336.58 257.2,336.58" fill="none" stroke="#1414c8" stroke-width="0.75" stroke-linejoin="round" stroke-opacity="0.95"/>
<polyline points="153.5,336.58 154.19,336.58 154.88,336.58 155.57,336.58 156.27,336.58 156.96,336.58 157.65,336.58 158.34,336.58 159.03,336.58 159.72,336.58 160.41,336.58 161.1,336.58 161.8,336.58 162.49,336.58 163.18,336.58 163.87,336.58 164.56,336.58 165.25,336.58 165.94,336.58 166.64,336.58 167.33,336.58 168.02,336.58 168.71,336.58 169.4,336.58 170.09,336.58 170.78,336.58 171.47,336.58 172.17,336.58 172.86,336.58 173.55,336.58 174.24,336.58 174.93,336.58 175.62,336.58 176.31,336.58 177.01,336.58 177.7,336.58 178.39,336.58 179.08,336.58 179.77,336.58 180.46,336.58 181.15,336.58 181.84,336.58 182.54,336.58 183.23,336.58 183.92,336.58 184.61,336.58 185.3,336.58 185.99,336.58 186.68,336.58 187.38,336.58 188.07,336.58 188.76,336.58 189.45,336.58 190.14,336.58 190.83,336.58 191.52,336.58 192.21,336.58 192.91,336.58 193.6,336.58 194.29,336.58 194.98,336.58 195.67,336.58 196.36,336.58 197.05,336.58 197.75,336.58 198.44,336.58 199.13,336.58 199.82,336.58 200.51,336.58 201.2,336.58 201.89,336.58 202.58,336.52 203.28,336.49 203.97,336.34 204.66,336.32 205.35,336.19 206.04,335.86 206.73,335.68 207.42,335.39 208.12,334.62 208.81,334.5 209.5,333.73 210.19,333.64 210.88,332.87 211.57,331.22 212.26,329.37 212.95,328.61 213.65,326.92 214.34,326.06 215.03,324.67 215.72,322.33 216.41,319.7 217.1,316.79 217.79,314.97 218.49,313.88 219.18,311.15 219.87,307.65 220.56,302.13 221.25,298.13 221.94,296.86 222.63,298.02 223.32,298.49 224.02,295.7 224.71,290.8 225.4,284.96 226.09,282.4 226.78,283.38 227.47,286.98 228.16,289.28 228.86,289.82 229.55,289.53 230.24,289.53 230.93,292.02 231.62,295.49 232.31,300.56 233,305.88 233.69,310.23 234.39,315.5 235.08,319.27 235.77,322.05 236.46,324.01 237.15,326.91 237.84,329.06 238.53,330.82 239.23,332.98 239.92,333.72 240.61,335.21 241.3,335.53 241.99,335.75 242.68,336.01 243.37,336.4 244.06,336.49 244.76,336.56 245.45,336.58 246.14,336.58 246.83,336.58 247.52,336.58 248.21,336.58 248.9,336.58 249.6,336.58 250.29,336.58 250.98,336.58 251.67,336.58 252.36,336.58 253.05,336.58 253.74,336.58 254.43,336.58 255.13,336.58 255.82,336.58 256.51,336.58 257.2,336.58" fill="none" stroke="#8a5a30" stroke-width="0.75" stroke-linejoin="round" stroke-opacity="0.95"/>
<polyline points="153.5,336.58 154.19,336.58 154.88,336.58 155.57,336.58 156.27,336.58 156.96,336.58 157.65,336.58 158.34,336.58 159.03,336.58 159.72,336.58 160.41,336.58 161.1,336.58 161.8,336.58 162.49,336.58 163.18,336.58 163.87,336.58 164.56,336.58 165.25,336.58 165.94,336.58 166.64,336.58 167.33,336.58 168.02,336.58 168.71,336.58 169.4,336.58 170.09,336.58 170.78,336.58 171.47,336.58 172.17,336.58 172.86,336.58 173.55,336.58 174.24,336.58 174.93,336.58 175.62,336.58 176.31,336.58 177.01,336.58 177.7,336.58 178.39,336.58 179.08,336.58 179.77,336.58 180.46,336.58 181.15,336.58 181.84,336.58 182.54,336.58 183.23,336.58 183.92,336.58 184.61,336.58 185.3,336.58 185.99,336.58 186.68,336.58 187.38,336.58 188.07,336.58 188.76,336.58 189.45,336.58 190.14,336.58 190.83,336.58 191.52,336.58 192.21,336.58 192.91,336.58 193.6,336.58 194.29,336.58 194.98,336.58 195.67,336.58 196.36,336.58 197.05,336.58 197.75,336.58 198.44,336.58 199.13,336.58 199.82,336.58 200.51,336.58 201.2,336.58 201.89,336.58 202.58,336.58 203.28,336.58 203.97,336.58 204.66,336.51 205.35,336.46 206.04,336.54 206.73,336.37 207.42,336.28 208.12,336.11 208.81,335.84 209.5,335.49 210.19,334.84 210.88,334.56 211.57,333.91 212.26,334.24 212.95,333.3 213.65,333.03 214.34,331.29 215.03,329.89 215.72,328.49 216.41,327.79 217.1,327.04 217.79,325.01 218.49,322.09 219.18,320.18 219.87,318.13 220.56,316.83 221.25,314.65 221.94,311.89 222.63,308.51 223.32,305.89 224.02,303.58 224.71,299.43 225.4,294.58 226.09,292.09 226.78,292.28 227.47,294.05 228.16,293.21 228.86,289.56 229.55,284.6 230.24,282.4 230.93,283.19 231.62,284.81 232.31,284.05 233,285.01 233.69,288.7 234.39,295.64 235.08,302.05 235.77,305.14 236.46,307.04 237.15,310.65 237.84,314.78 238.53,320.2 239.23,324.29 239.92,327.5 240.61,329.66 241.3,331.63 241.99,332.96 242.68,334.44 243.37,334.9 244.06,335.66 244.76,335.93 245.45,336.25 246.14,336.48 246.83,336.56 247.52,336.58 248.21,336.58 248.9,336.58 249.6,336.58 250.29,336.58 250.98,336.58 251.67,336.58 252.36,336.58 253.05,336.58 253.74,336.58 254.43,336.58 255.13,336.58 255.82,336.58 256.51,336.58 257.2,336.58" fill="none" stroke="#d8a060" stroke-width="0.75" stroke-linejoin="round" stroke-opacity="0.95"/>
<polyline points="153.5,336.58 154.19,336.58 154.88,336.58 155.57,336.58 156.27,336.58 156.96,336.58 157.65,336.58 158.34,336.58 159.03,336.58 159.72,336.58 160.41,336.58 161.1,336.58 161.8,336.58 162.49,336.58 163.18,336.58 163.87,336.58 164.56,336.58 165.25,336.58 165.94,336.58 166.64,336.58 167.33,336.58 168.02,336.58 168.71,336.58 169.4,336.58 170.09,336.58 170.78,336.58 171.47,336.58 172.17,336.58 172.86,336.58 173.55,336.58 174.24,336.58 174.93,336.58 175.62,336.58 176.31,336.58 177.01,336.58 177.7,336.58 178.39,336.58 179.08,336.58 179.77,336.58 180.46,336.58 181.15,336.58 181.84,336.58 182.54,336.58 183.23,336.58 183.92,336.58 184.61,336.58 185.3,336.58 185.99,336.58 186.68,336.58 187.38,336.58 188.07,336.58 188.76,336.58 189.45,336.58 190.14,336.58 190.83,336.58 191.52,336.58 192.21,336.58 192.91,336.58 193.6,336.58 194.29,336.58 194.98,336.58 195.67,336.58 196.36,336.58 197.05,336.58 197.75,336.58 198.44,336.55 199.13,336.49 199.82,336.43 200.51,336.11 201.2,336.04 201.89,335.68 202.58,335.82 203.28,335.02 203.97,334.05 204.66,333.56 205.35,333.02 206.04,332.51 206.73,331.69 207.42,329.14 208.12,326.78 208.81,324.87 209.5,323.62 210.19,323.02 210.88,322.36 211.57,319.37 212.26,313.99 212.95,307.67 213.65,303.29 214.34,302.2 215.03,302.15 215.72,302 216.41,298.63 217.1,293.7 217.79,288.04 218.49,284.49 219.18,282.94 219.87,282.58 220.56,282.4 221.25,282.8 221.94,283.87 222.63,285.72 223.32,285.89 224.02,285.73 224.71,287.79 225.4,290.79 226.09,296.67 226.78,301.66 227.47,305.3 228.16,306.98 228.86,308.75 229.55,312.48 230.24,317.66 230.93,321.84 231.62,325.13 232.31,326.9 233,328.22 233.69,329.05 234.39,330.62 235.08,332.47 235.77,333.76 236.46,334.68 237.15,334.73 237.84,335.38 238.53,335.71 239.23,335.99 239.92,336.35 240.61,336.41 241.3,336.58 241.99,336.58 242.68,336.58 243.37,336.58 244.06,336.58 244.76,336.58 245.45,336.58 246.14,336.58 246.83,336.58 247.52,336.58 248.21,336.58 248.9,336.58 249.6,336.58 250.29,336.58 250.98,336.58 251.67,336.58 252.36,336.58 253.05,336.58 253.74,336.58 254.43,336.58 255.13,336.58 255.82,336.58 256.51,336.58 257.2,336.58" fill="none" stroke="#a824c8" stroke-width="0.75" stroke-linejoin="round" stroke-opacity="0.95"/>
<rect x="154.6" y="280.6" width="4.7" height="3.0" fill="#a82020"/>
<text x="161.4" y="283.45" font-size="3.75" fill="#222" stroke="#222" stroke-width="0.1">666  Pre 11.2</text>
<rect x="154.6" y="284.9" width="4.7" height="3.0" fill="#1414c8"/>
<text x="161.4" y="287.75" font-size="3.75" fill="#222" stroke="#222" stroke-width="0.1">747  15min  12.1</text>
<rect x="154.6" y="289.2" width="4.7" height="3.0" fill="#78d858"/>
<text x="161.4" y="292.05" font-size="3.75" fill="#222" stroke="#222" stroke-width="0.1">679  30min  2.49</text>
<rect x="154.6" y="293.5" width="4.7" height="3.0" fill="#d8a060"/>
<text x="161.4" y="296.35" font-size="3.75" fill="#222" stroke="#222" stroke-width="0.1">738  60min  25.1</text>
<rect x="154.6" y="297.8" width="4.7" height="3.0" fill="#88eef4"/>
<text x="161.4" y="300.65" font-size="3.75" fill="#222" stroke="#222" stroke-width="0.1">704  90min  14.6</text>
<rect x="154.6" y="302.1" width="4.7" height="3.0" fill="#a824c8"/>
<text x="161.4" y="304.95" font-size="3.75" fill="#222" stroke="#222" stroke-width="0.1">624  120min  13.6</text>
<rect x="154.6" y="306.4" width="4.7" height="3.0" fill="#8a5a30"/>
<text x="161.4" y="309.25" font-size="3.75" fill="#222" stroke="#222" stroke-width="0.1">843  240min  40</text>
<line x1="331.75" y1="31.5" x2="331.75" y2="133" stroke="#868686" stroke-width="0.8"/>
<line x1="331.75" y1="133" x2="475" y2="133" stroke="#868686" stroke-width="0.8"/>
<line x1="329.6" y1="133" x2="331.75" y2="133" stroke="#868686" stroke-width="0.7"/>
<text x="327.8" y="135" font-size="5.8" fill="#444" text-anchor="end">0.0</text>
<line x1="329.6" y1="122.88" x2="331.75" y2="122.88" stroke="#868686" stroke-width="0.7"/>
<text x="327.8" y="124.88" font-size="5.8" fill="#444" text-anchor="end">0.5</text>
<line x1="329.6" y1="112.75" x2="331.75" y2="112.75" stroke="#868686" stroke-width="0.7"/>
<text x="327.8" y="114.75" font-size="5.8" fill="#444" text-anchor="end">1.0</text>
<line x1="329.6" y1="102.62" x2="331.75" y2="102.62" stroke="#868686" stroke-width="0.7"/>
<text x="327.8" y="104.62" font-size="5.8" fill="#444" text-anchor="end">1.5</text>
<line x1="329.6" y1="92.5" x2="331.75" y2="92.5" stroke="#868686" stroke-width="0.7"/>
<text x="327.8" y="94.5" font-size="5.8" fill="#444" text-anchor="end">2.0</text>
<line x1="329.6" y1="82.38" x2="331.75" y2="82.38" stroke="#868686" stroke-width="0.7"/>
<text x="327.8" y="84.38" font-size="5.8" fill="#444" text-anchor="end">2.5</text>
<line x1="329.6" y1="72.25" x2="331.75" y2="72.25" stroke="#868686" stroke-width="0.7"/>
<text x="327.8" y="74.25" font-size="5.8" fill="#444" text-anchor="end">3.0</text>
<line x1="329.6" y1="62.12" x2="331.75" y2="62.12" stroke="#868686" stroke-width="0.7"/>
<text x="327.8" y="64.12" font-size="5.8" fill="#444" text-anchor="end">3.5</text>
<line x1="329.6" y1="52" x2="331.75" y2="52" stroke="#868686" stroke-width="0.7"/>
<text x="327.8" y="54" font-size="5.8" fill="#444" text-anchor="end">4.0</text>
<line x1="329.6" y1="41.88" x2="331.75" y2="41.88" stroke="#868686" stroke-width="0.7"/>
<text x="327.8" y="43.88" font-size="5.8" fill="#444" text-anchor="end">4.5</text>
<line x1="329.6" y1="31.75" x2="331.75" y2="31.75" stroke="#868686" stroke-width="0.7"/>
<text x="327.8" y="33.75" font-size="5.8" fill="#444" text-anchor="end">5.0</text>
<text x="344.5" y="145.2" font-size="5.8" fill="#444" text-anchor="middle">0'</text>
<text x="368.25" y="145.2" font-size="5.8" fill="#444" text-anchor="middle">15'</text>
<text x="392" y="145.2" font-size="5.8" fill="#444" text-anchor="middle">30'</text>
<text x="415.75" y="145.2" font-size="5.8" fill="#444" text-anchor="middle">45'</text>
<text x="439.5" y="145.2" font-size="5.8" fill="#444" text-anchor="middle">60'</text>
<text x="463.25" y="145.2" font-size="5.8" fill="#444" text-anchor="middle">90'</text>
<text x="404.3" y="153.4" font-size="7.6" fill="#1a1a1a" text-anchor="middle" textLength="49.5" lengthAdjust="spacingAndGlyphs" stroke="#1a1a1a" stroke-width="0.25">Time (Minutes)</text>
<text transform="translate(312.2,79.8) rotate(-90)" font-size="8" fill="#222" stroke="#222" stroke-width="0.15" text-anchor="middle" textLength="93" lengthAdjust="spacingAndGlyphs">Neutrophil Absolute (K/uL)</text>
<polyline points="344.5,73.06 368.25,92.91 392,127.53 439.5,61.31 463.25,31.55" fill="none" stroke="#5272bc" stroke-width="1.25" stroke-linejoin="round"/>
<polyline points="344.5,94.53 368.25,115.79 392,131.99 415.75,114.98 439.5,99.59 463.25,95.74" fill="none" stroke="#c0504d" stroke-width="1.25" stroke-linejoin="round"/>
<polyline points="344.5,85.01 368.25,85.01 392,118.42 415.75,120.85 439.5,101.21 463.25,96.35" fill="none" stroke="#9fbd62" stroke-width="1.25" stroke-linejoin="round"/>
<polyline points="344.5,96.95 368.25,103.84 392,119.03 415.75,128.75 439.5,113.76 463.25,112.55" fill="none" stroke="#8064a2" stroke-width="1.25" stroke-linejoin="round"/>
<path d="M344.5,70.76 L346.8,73.06 L344.5,75.36 L342.2,73.06Z" fill="#5272bc"/>
<path d="M368.25,90.61 L370.55,92.91 L368.25,95.2 L365.95,92.91Z" fill="#5272bc"/>
<path d="M392,125.23 L394.3,127.53 L392,129.83 L389.7,127.53Z" fill="#5272bc"/>
<path d="M439.5,59.02 L441.8,61.31 L439.5,63.61 L437.2,61.31Z" fill="#5272bc"/>
<path d="M463.25,29.25 L465.55,31.55 L463.25,33.85 L460.95,31.55Z" fill="#5272bc"/>
<rect x="342.7" y="92.73" width="3.6" height="3.6" fill="#c0504d"/>
<rect x="366.45" y="113.99" width="3.6" height="3.6" fill="#c0504d"/>
<rect x="390.2" y="130.19" width="3.6" height="3.6" fill="#c0504d"/>
<rect x="413.95" y="113.18" width="3.6" height="3.6" fill="#c0504d"/>
<rect x="437.7" y="97.79" width="3.6" height="3.6" fill="#c0504d"/>
<rect x="461.45" y="93.94" width="3.6" height="3.6" fill="#c0504d"/>
<path d="M344.5,82.81 L346.7,86.77 L342.3,86.77Z" fill="#9fbd62"/>
<path d="M368.25,82.81 L370.45,86.77 L366.05,86.77Z" fill="#9fbd62"/>
<path d="M392,116.22 L394.2,120.18 L389.8,120.18Z" fill="#9fbd62"/>
<path d="M415.75,118.65 L417.95,122.61 L413.55,122.61Z" fill="#9fbd62"/>
<path d="M439.5,99.01 L441.7,102.97 L437.3,102.97Z" fill="#9fbd62"/>
<path d="M463.25,94.15 L465.45,98.11 L461.05,98.11Z" fill="#9fbd62"/>
<circle cx="344.5" cy="96.95" r="1.8" fill="#8064a2"/>
<circle cx="368.25" cy="103.84" r="1.8" fill="#8064a2"/>
<circle cx="392" cy="119.03" r="1.8" fill="#8064a2"/>
<circle cx="415.75" cy="128.75" r="1.8" fill="#8064a2"/>
<circle cx="439.5" cy="113.76" r="1.8" fill="#8064a2"/>
<circle cx="463.25" cy="112.55" r="1.8" fill="#8064a2"/>
<line x1="476.3" y1="60.75" x2="486.3" y2="60.75" stroke="#5272bc" stroke-width="1"/>
<path d="M481.3,58.45 L483.6,60.75 L481.3,63.05 L479,60.75Z" fill="#5272bc"/>
<text x="487.6" y="62.95" font-size="6.2" fill="#333">D1</text>
<line x1="476.3" y1="72" x2="486.3" y2="72" stroke="#c0504d" stroke-width="1"/>
<rect x="479.5" y="70.2" width="3.6" height="3.6" fill="#c0504d"/>
<text x="487.6" y="74.2" font-size="6.2" fill="#333">D2</text>
<line x1="476.3" y1="83" x2="486.3" y2="83" stroke="#9fbd62" stroke-width="1"/>
<path d="M481.3,80.8 L483.5,84.76 L479.1,84.76Z" fill="#9fbd62"/>
<text x="487.6" y="85.2" font-size="6.2" fill="#333">D3</text>
<line x1="476.3" y1="94.25" x2="486.3" y2="94.25" stroke="#8064a2" stroke-width="1"/>
<circle cx="481.3" cy="94.25" r="1.8" fill="#8064a2"/>
<text x="487.6" y="96.45" font-size="6.2" fill="#333">D4</text>
<line x1="315.5" y1="313.75" x2="492.5" y2="313.75" stroke="#e2e2e2" stroke-width="0.6"/>
<text x="312.6" y="315.55" font-size="5" fill="#444" text-anchor="end">0</text>
<line x1="315.5" y1="293.25" x2="492.5" y2="293.25" stroke="#e2e2e2" stroke-width="0.6"/>
<text x="312.6" y="295.05" font-size="5" fill="#444" text-anchor="end">50</text>
<line x1="315.5" y1="272.75" x2="492.5" y2="272.75" stroke="#e2e2e2" stroke-width="0.6"/>
<text x="312.6" y="274.55" font-size="5" fill="#444" text-anchor="end">100</text>
<line x1="315.5" y1="252.25" x2="492.5" y2="252.25" stroke="#e2e2e2" stroke-width="0.6"/>
<text x="312.6" y="254.05" font-size="5" fill="#444" text-anchor="end">150</text>
<line x1="315.5" y1="231.75" x2="492.5" y2="231.75" stroke="#e2e2e2" stroke-width="0.6"/>
<text x="312.6" y="233.55" font-size="5" fill="#444" text-anchor="end">200</text>
<line x1="315.5" y1="211.25" x2="492.5" y2="211.25" stroke="#e2e2e2" stroke-width="0.6"/>
<text x="312.6" y="213.05" font-size="5" fill="#444" text-anchor="end">250</text>
<line x1="315.5" y1="211.25" x2="315.5" y2="313.75" stroke="#b8b8b8" stroke-width="0.6"/>
<line x1="315.5" y1="313.75" x2="315.5" y2="315.35" stroke="#aaa" stroke-width="0.5"/>
<text x="316.1" y="322.6" font-size="5" fill="#444" text-anchor="middle">0</text>
<line x1="342.15" y1="313.75" x2="342.15" y2="315.35" stroke="#aaa" stroke-width="0.5"/>
<text x="342.75" y="322.6" font-size="5" fill="#444" text-anchor="middle">15</text>
<line x1="368.8" y1="313.75" x2="368.8" y2="315.35" stroke="#aaa" stroke-width="0.5"/>
<text x="369.4" y="322.6" font-size="5" fill="#444" text-anchor="middle">30</text>
<line x1="395.45" y1="313.75" x2="395.45" y2="315.35" stroke="#aaa" stroke-width="0.5"/>
<text x="396.05" y="322.6" font-size="5" fill="#444" text-anchor="middle">45</text>
<line x1="422.1" y1="313.75" x2="422.1" y2="315.35" stroke="#aaa" stroke-width="0.5"/>
<text x="422.7" y="322.6" font-size="5" fill="#444" text-anchor="middle">60</text>
<line x1="448.75" y1="313.75" x2="448.75" y2="315.35" stroke="#aaa" stroke-width="0.5"/>
<text x="449.35" y="322.6" font-size="5" fill="#444" text-anchor="middle">75</text>
<line x1="475.4" y1="313.75" x2="475.4" y2="315.35" stroke="#aaa" stroke-width="0.5"/>
<text x="476" y="322.6" font-size="5" fill="#444" text-anchor="middle">90</text>
<text x="405.3" y="334.4" font-size="6.4" fill="#333" text-anchor="middle" textLength="41" lengthAdjust="spacingAndGlyphs">Time (Minutes)</text>
<text transform="translate(298.6,264.5) rotate(-90)" font-size="6.0" fill="#333" text-anchor="middle" textLength="122" lengthAdjust="spacingAndGlyphs">Percent Change in Mean Fluorescent Intensity</text>
<polyline points="315.5,272.75 342.15,226.5 422.1,256.51 475.4,262.99" fill="none" stroke="#4a64a8" stroke-width="1.05" stroke-linejoin="round"/>
<polyline points="315.5,272.75 342.15,260.04 368.8,234.5 395.45,264.26 422.1,262.5 475.4,265.78" fill="none" stroke="#c8e050" stroke-width="1.05" stroke-linejoin="round"/>
<polyline points="315.5,272.75 342.15,262.25 368.8,267.5 395.45,269.47 422.1,269.47 475.4,270" fill="none" stroke="#5a50a8" stroke-width="1.05" stroke-linejoin="round"/>
<polyline points="315.5,272.75 342.15,255.98 368.8,228.76 395.45,270 422.1,271.77 475.4,275.5" fill="none" stroke="#7e2e14" stroke-width="1.05" stroke-linejoin="round"/>
<path d="M315.5,271.37 L316.88,272.75 L315.5,274.13 L314.12,272.75Z" fill="#4a64a8"/>
<path d="M342.15,225.12 L343.53,226.5 L342.15,227.88 L340.77,226.5Z" fill="#4a64a8"/>
<path d="M422.1,255.13 L423.48,256.51 L422.1,257.89 L420.72,256.51Z" fill="#4a64a8"/>
<path d="M475.4,261.61 L476.78,262.99 L475.4,264.37 L474.02,262.99Z" fill="#4a64a8"/>
<path d="M315.5,271.37 L316.88,272.75 L315.5,274.13 L314.12,272.75Z" fill="#c8e050"/>
<path d="M342.15,258.66 L343.53,260.04 L342.15,261.42 L340.77,260.04Z" fill="#c8e050"/>
<path d="M368.8,233.12 L370.18,234.5 L368.8,235.88 L367.42,234.5Z" fill="#c8e050"/>
<path d="M395.45,262.88 L396.83,264.26 L395.45,265.64 L394.07,264.26Z" fill="#c8e050"/>
<path d="M422.1,261.12 L423.48,262.5 L422.1,263.88 L420.72,262.5Z" fill="#c8e050"/>
<path d="M475.4,264.4 L476.78,265.78 L475.4,267.16 L474.02,265.78Z" fill="#c8e050"/>
<path d="M315.5,271.37 L316.88,272.75 L315.5,274.13 L314.12,272.75Z" fill="#5a50a8"/>
<path d="M342.15,260.87 L343.53,262.25 L342.15,263.63 L340.77,262.25Z" fill="#5a50a8"/>
<path d="M368.8,266.12 L370.18,267.5 L368.8,268.88 L367.42,267.5Z" fill="#5a50a8"/>
<path d="M395.45,268.09 L396.83,269.47 L395.45,270.85 L394.07,269.47Z" fill="#5a50a8"/>
<path d="M422.1,268.09 L423.48,269.47 L422.1,270.85 L420.72,269.47Z" fill="#5a50a8"/>
<path d="M475.4,268.62 L476.78,270 L475.4,271.38 L474.02,270Z" fill="#5a50a8"/>
<rect x="314.1" y="271.35" width="2.8" height="2.8" fill="#7e2e14"/>
<rect x="340.75" y="254.58" width="2.8" height="2.8" fill="#7e2e14"/>
<rect x="367.4" y="227.36" width="2.8" height="2.8" fill="#7e2e14"/>
<rect x="394.05" y="268.6" width="2.8" height="2.8" fill="#7e2e14"/>
<rect x="420.7" y="270.37" width="2.8" height="2.8" fill="#7e2e14"/>
<rect x="474" y="274.1" width="2.8" height="2.8" fill="#7e2e14"/>
<line x1="502.3" y1="253" x2="511.1" y2="253" stroke="#4a64a8" stroke-width="0.9"/>
<path d="M506.7,251.62 L508.08,253 L506.7,254.38 L505.32,253Z" fill="#4a64a8"/>
<text x="512.5" y="255" font-size="5.4" fill="#333">D1</text>
<line x1="502.3" y1="259.7" x2="511.1" y2="259.7" stroke="#7e2e14" stroke-width="0.9"/>
<rect x="505.3" y="258.3" width="2.8" height="2.8" fill="#7e2e14"/>
<text x="512.5" y="261.7" font-size="5.4" fill="#333">D2</text>
<line x1="502.3" y1="266.1" x2="511.1" y2="266.1" stroke="#c8e050" stroke-width="0.9"/>
<path d="M506.7,264.72 L508.08,266.1 L506.7,267.48 L505.32,266.1Z" fill="#c8e050"/>
<text x="512.5" y="268.1" font-size="5.4" fill="#333">D3</text>
<line x1="502.3" y1="272" x2="511.1" y2="272" stroke="#5a50a8" stroke-width="0.9"/>
<path d="M506.7,270.62 L508.08,272 L506.7,273.38 L505.32,272Z" fill="#5a50a8"/>
<text x="512.5" y="274" font-size="5.4" fill="#333">D4</text>
</svg>
</body></html>
